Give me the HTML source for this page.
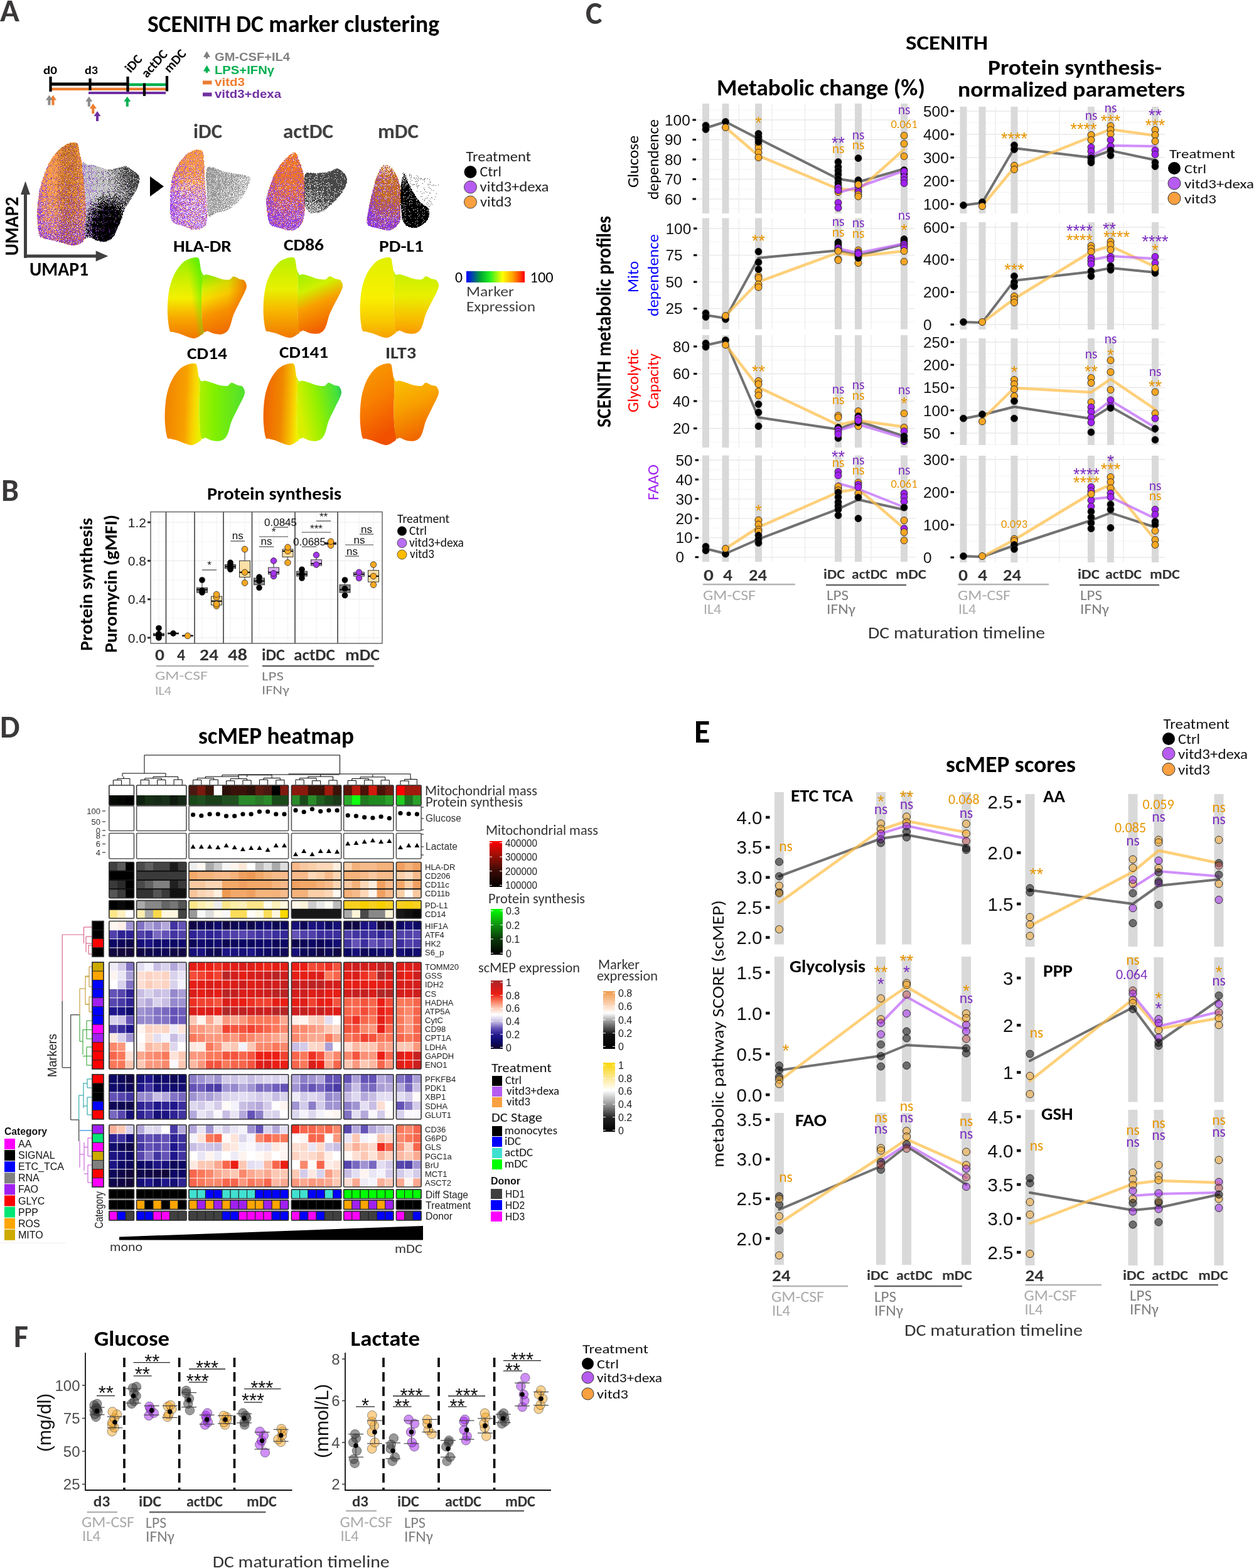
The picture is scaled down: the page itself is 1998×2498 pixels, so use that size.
<!DOCTYPE html><html><head><meta charset="utf-8"><style>html,body{margin:0;padding:0;background:#fff;}svg{display:block;}</style></head><body>
<svg width="1998" height="2498" viewBox="0 0 1998 2498">
<rect width="1998" height="2498" fill="#fff"/>
<defs>
<linearGradient id="gL" x1="0" y1="0" x2="0" y2="1"><stop offset="0" stop-color="#f8a24e"/><stop offset="0.38" stop-color="#f09a4a"/><stop offset="0.62" stop-color="#c27a44"/><stop offset="0.82" stop-color="#a868a8"/><stop offset="1" stop-color="#9a60c0"/></linearGradient>
<linearGradient id="gLh" x1="0" y1="0" x2="1" y2="0"><stop offset="0" stop-color="#a060d8" stop-opacity="0.6"/><stop offset="0.25" stop-color="#a060d8" stop-opacity="0"/><stop offset="0.55" stop-color="#9a5a30" stop-opacity="0"/><stop offset="0.8" stop-color="#9a5a30" stop-opacity="0.3"/><stop offset="1" stop-color="#9a5a30" stop-opacity="0.1"/></linearGradient>
<linearGradient id="gR" x1="0" y1="0" x2="1" y2="0.3"><stop offset="0" stop-color="#d6d6d6"/><stop offset="0.45" stop-color="#b4b4b4"/><stop offset="1" stop-color="#5e5e5e"/></linearGradient>
<radialGradient id="gRh" cx="0.42" cy="0.82" r="0.5"><stop offset="0" stop-color="#000" stop-opacity="1"/><stop offset="0.45" stop-color="#000" stop-opacity="0.9"/><stop offset="1" stop-color="#000" stop-opacity="0"/></radialGradient>
<linearGradient id="gI" x1="0" y1="0" x2="0" y2="1"><stop offset="0" stop-color="#f6a050"/><stop offset="0.4" stop-color="#e89a70"/><stop offset="0.7" stop-color="#c08ae0"/><stop offset="1" stop-color="#d8b8f0"/></linearGradient>
<linearGradient id="gIr" x1="0" y1="0" x2="1" y2="1"><stop offset="0" stop-color="#9a9a9a"/><stop offset="0.5" stop-color="#b8b8b8"/><stop offset="1" stop-color="#eeeeee"/></linearGradient>
<linearGradient id="gA" x1="0" y1="0" x2="0" y2="1"><stop offset="0" stop-color="#f59a50"/><stop offset="0.4" stop-color="#e8702a"/><stop offset="0.75" stop-color="#c060a0"/><stop offset="1" stop-color="#9a50d0"/></linearGradient>
<linearGradient id="gAr" x1="0" y1="0" x2="1" y2="1"><stop offset="0" stop-color="#606060"/><stop offset="0.5" stop-color="#3a3a3a"/><stop offset="1" stop-color="#bbbbbb"/></linearGradient>
<linearGradient id="gM" x1="0" y1="0" x2="0" y2="1"><stop offset="0" stop-color="#e8b080"/><stop offset="0.3" stop-color="#c87838"/><stop offset="0.7" stop-color="#b06a40"/><stop offset="1" stop-color="#8a48c0"/></linearGradient>
<radialGradient id="gMr" cx="0.55" cy="0.75" r="0.6"><stop offset="0" stop-color="#000"/><stop offset="0.5" stop-color="#111"/><stop offset="1" stop-color="#777"/></radialGradient>
<linearGradient id="cbar" x1="0" y1="0" x2="1" y2="0"><stop offset="0" stop-color="#0000ff"/><stop offset="0.25" stop-color="#00aa30"/><stop offset="0.4" stop-color="#22ee22"/><stop offset="0.62" stop-color="#ffff00"/><stop offset="0.8" stop-color="#ffa000"/><stop offset="1" stop-color="#ff0000"/></linearGradient>
<filter id="speck" x="0" y="0" width="1" height="1"><feTurbulence type="fractalNoise" baseFrequency="0.9" numOctaves="1" seed="3" result="n"/><feColorMatrix in="n" type="matrix" values="0 0 0 0 1  0 0 0 0 1  0 0 0 0 1  0 0 0 -2.2 1.45" result="m"/><feComposite in="SourceGraphic" in2="m" operator="in"/></filter>
</defs>
<defs><filter id="d0" color-interpolation-filters="sRGB" x="0" y="0" width="1" height="1"><feTurbulence type="fractalNoise" baseFrequency="0.9" numOctaves="1" seed="5" result="n"/><feComponentTransfer in="n" result="u"><feFuncR type="table" tableValues="0 0 0.002 0.026 0.166 0.5 0.834 0.974 0.998 1 1"/></feComponentTransfer><feColorMatrix in="u" type="matrix" values="0 0 0 0 0  0 0 0 0 0  0 0 0 0 0  1 0 0 0 0" result="ua"/><feComposite in="SourceAlpha" in2="ua" operator="arithmetic" k1="0" k2="50" k3="-50" k4="0.5" result="m"/><feColorMatrix in="SourceGraphic" type="matrix" values="1 0 0 0 0  0 1 0 0 0  0 0 1 0 0  0 0 0 100 0" result="op"/><feComposite in="op" in2="m" operator="in"/></filter><filter id="d1" color-interpolation-filters="sRGB" x="0" y="0" width="1" height="1"><feTurbulence type="fractalNoise" baseFrequency="0.9" numOctaves="1" seed="9" result="n"/><feComponentTransfer in="n" result="u"><feFuncR type="table" tableValues="0 0 0.002 0.026 0.166 0.5 0.834 0.974 0.998 1 1"/></feComponentTransfer><feColorMatrix in="u" type="matrix" values="0 0 0 0 0  0 0 0 0 0  0 0 0 0 0  1 0 0 0 0" result="ua"/><feComposite in="SourceAlpha" in2="ua" operator="arithmetic" k1="0" k2="50" k3="-50" k4="0.5" result="m"/><feColorMatrix in="SourceGraphic" type="matrix" values="1 0 0 0 0  0 1 0 0 0  0 0 1 0 0  0 0 0 100 0" result="op"/><feComposite in="op" in2="m" operator="in"/></filter><filter id="d2" color-interpolation-filters="sRGB" x="0" y="0" width="1" height="1"><feTurbulence type="fractalNoise" baseFrequency="0.9" numOctaves="1" seed="13" result="n"/><feComponentTransfer in="n" result="u"><feFuncR type="table" tableValues="0 0 0.002 0.026 0.166 0.5 0.834 0.974 0.998 1 1"/></feComponentTransfer><feColorMatrix in="u" type="matrix" values="0 0 0 0 0  0 0 0 0 0  0 0 0 0 0  1 0 0 0 0" result="ua"/><feComposite in="SourceAlpha" in2="ua" operator="arithmetic" k1="0" k2="50" k3="-50" k4="0.5" result="m"/><feColorMatrix in="SourceGraphic" type="matrix" values="1 0 0 0 0  0 1 0 0 0  0 0 1 0 0  0 0 0 100 0" result="op"/><feComposite in="op" in2="m" operator="in"/></filter><filter id="d3" color-interpolation-filters="sRGB" x="0" y="0" width="1" height="1"><feTurbulence type="fractalNoise" baseFrequency="0.9" numOctaves="1" seed="17" result="n"/><feComponentTransfer in="n" result="u"><feFuncR type="table" tableValues="0 0 0.002 0.026 0.166 0.5 0.834 0.974 0.998 1 1"/></feComponentTransfer><feColorMatrix in="u" type="matrix" values="0 0 0 0 0  0 0 0 0 0  0 0 0 0 0  1 0 0 0 0" result="ua"/><feComposite in="SourceAlpha" in2="ua" operator="arithmetic" k1="0" k2="50" k3="-50" k4="0.5" result="m"/><feColorMatrix in="SourceGraphic" type="matrix" values="1 0 0 0 0  0 1 0 0 0  0 0 1 0 0  0 0 0 100 0" result="op"/><feComposite in="op" in2="m" operator="in"/></filter><filter id="d4" color-interpolation-filters="sRGB" x="0" y="0" width="1" height="1"><feTurbulence type="fractalNoise" baseFrequency="0.9" numOctaves="1" seed="21" result="n"/><feComponentTransfer in="n" result="u"><feFuncR type="table" tableValues="0 0 0.002 0.026 0.166 0.5 0.834 0.974 0.998 1 1"/></feComponentTransfer><feColorMatrix in="u" type="matrix" values="0 0 0 0 0  0 0 0 0 0  0 0 0 0 0  1 0 0 0 0" result="ua"/><feComposite in="SourceAlpha" in2="ua" operator="arithmetic" k1="0" k2="50" k3="-50" k4="0.5" result="m"/><feColorMatrix in="SourceGraphic" type="matrix" values="1 0 0 0 0  0 1 0 0 0  0 0 1 0 0  0 0 0 100 0" result="op"/><feComposite in="op" in2="m" operator="in"/></filter><filter id="d5" color-interpolation-filters="sRGB" x="0" y="0" width="1" height="1"><feTurbulence type="fractalNoise" baseFrequency="0.9" numOctaves="1" seed="25" result="n"/><feComponentTransfer in="n" result="u"><feFuncR type="table" tableValues="0 0 0.002 0.026 0.166 0.5 0.834 0.974 0.998 1 1"/></feComponentTransfer><feColorMatrix in="u" type="matrix" values="0 0 0 0 0  0 0 0 0 0  0 0 0 0 0  1 0 0 0 0" result="ua"/><feComposite in="SourceAlpha" in2="ua" operator="arithmetic" k1="0" k2="50" k3="-50" k4="0.5" result="m"/><feColorMatrix in="SourceGraphic" type="matrix" values="1 0 0 0 0  0 1 0 0 0  0 0 1 0 0  0 0 0 100 0" result="op"/><feComposite in="op" in2="m" operator="in"/></filter><filter id="grain" color-interpolation-filters="sRGB" x="0" y="0" width="1" height="1"><feTurbulence type="fractalNoise" baseFrequency="0.9" numOctaves="1" seed="3" result="n"/><feColorMatrix in="n" type="matrix" values="0 0 0 0 0  0 0 0 0 0  0 0 0 0 0  -30 0 0 0 20.4" result="m"/><feComposite in="SourceGraphic" in2="m" operator="in"/></filter></defs>
<text x="0.0" y="34.0" font-family="Carlito, 'Liberation Sans', sans-serif" font-size="51.00" fill="#3a3838" font-weight="bold" >A</text>
<text x="235.0" y="50.5" font-family="Carlito, 'Liberation Sans', sans-serif" font-size="37.50" fill="#000" font-weight="bold" textLength="465.0" lengthAdjust="spacingAndGlyphs" >SCENITH DC marker clustering</text>
<text x="69.0" y="118.0" font-family="Carlito, 'Liberation Sans', sans-serif" font-size="19.00" fill="#000" font-weight="bold" textLength="22.0" lengthAdjust="spacingAndGlyphs" >d0</text>
<text x="135.0" y="118.0" font-family="Carlito, 'Liberation Sans', sans-serif" font-size="19.00" fill="#000" font-weight="bold" textLength="21.0" lengthAdjust="spacingAndGlyphs" >d3</text>
<text transform="translate(208.0,117.0) rotate(-48)" font-family="Carlito, 'Liberation Sans', sans-serif" font-size="21.00" fill="#000" font-weight="bold" >iDC</text>
<text transform="translate(234.0,125.0) rotate(-48)" font-family="Carlito, 'Liberation Sans', sans-serif" font-size="21.00" fill="#000" font-weight="bold" >actDC</text>
<text transform="translate(270.0,117.0) rotate(-48)" font-family="Carlito, 'Liberation Sans', sans-serif" font-size="21.00" fill="#000" font-weight="bold" >mDC</text>
<rect x="80.0" y="131.5" width="124.0" height="5.0" fill="#000" />
<rect x="204.0" y="132.6" width="60.0" height="4.5" fill="#00b050" />
<rect x="80.0" y="139.7" width="184.0" height="4.3" fill="#ed7d31" />
<rect x="141.0" y="146.0" width="123.0" height="4.0" fill="#7030a0" />
<rect x="78.4" y="122.0" width="4.2" height="24.0" fill="#000" />
<rect x="141.4" y="125.0" width="4.2" height="19.0" fill="#000" />
<rect x="201.4" y="122.0" width="4.2" height="24.0" fill="#000" />
<rect x="227.9" y="132.6" width="4.2" height="20.4" fill="#000" />
<rect x="263.9" y="121.0" width="4.2" height="24.4" fill="#000" />
<path d="M84.5,151.4 L90.0,159.4 L86.5,159.4 L86.5,167.4 L82.5,167.4 L82.5,159.4 L79.0,159.4 Z" fill="#ed7d31"/>
<path d="M78.4,151.4 L83.9,159.4 L80.4,159.4 L80.4,167.4 L76.4,167.4 L76.4,159.4 L72.9,159.4 Z" fill="#8c8c8c"/>
<path d="M141.8,153.7 L147.3,161.7 L143.8,161.7 L143.8,169.7 L139.8,169.7 L139.8,161.7 L136.3,161.7 Z" fill="#8c8c8c"/>
<path d="M148.3,165.0 L153.8,173.0 L150.3,173.0 L150.3,181.0 L146.3,181.0 L146.3,173.0 L142.8,173.0 Z" fill="#ed7d31"/>
<path d="M155.0,177.0 L160.5,185.0 L157.0,185.0 L157.0,193.0 L153.0,193.0 L153.0,185.0 L149.5,185.0 Z" fill="#7030a0"/>
<path d="M202.8,153.7 L208.3,161.7 L204.8,161.7 L204.8,169.7 L200.8,169.7 L200.8,161.7 L197.3,161.7 Z" fill="#00b050"/>
<path d="M329.5,81.5 L335.0,91.0 L331.2,91.0 L331.2,93.5 L327.8,93.5 L327.8,91.0 L324.0,91.0 Z" fill="#808080"/>
<path d="M329.5,104.0 L335.0,113.5 L331.2,113.5 L331.2,116.0 L327.8,116.0 L327.8,113.5 L324.0,113.5 Z" fill="#00b050"/>
<rect x="323.0" y="128.5" width="14.5" height="6.0" fill="#ed7d31" />
<rect x="323.0" y="147.5" width="14.5" height="6.0" fill="#7030a0" />
<text x="342.0" y="96.5" font-family="'Liberation Sans', Arial, sans-serif" font-size="19.00" fill="#808080" font-weight="bold" textLength="120.0" lengthAdjust="spacingAndGlyphs" >GM-CSF+IL4</text>
<text x="342.0" y="117.5" font-family="'Liberation Sans', Arial, sans-serif" font-size="19.00" fill="#00b050" font-weight="bold" textLength="95.0" lengthAdjust="spacingAndGlyphs" >LPS+IFNγ</text>
<text x="342.0" y="137.0" font-family="'Liberation Sans', Arial, sans-serif" font-size="19.00" fill="#ed7d31" font-weight="bold" textLength="48.0" lengthAdjust="spacingAndGlyphs" >vitd3</text>
<text x="342.0" y="155.5" font-family="'Liberation Sans', Arial, sans-serif" font-size="19.00" fill="#7030a0" font-weight="bold" textLength="106.0" lengthAdjust="spacingAndGlyphs" >vitd3+dexa</text>
<defs><linearGradient id="bO" x1="0" y1="0" x2="0" y2="1"><stop offset="0" stop-color="#f89c4a" stop-opacity="1"/><stop offset="0.4" stop-color="#f89c4a" stop-opacity="0.97"/><stop offset="0.7" stop-color="#f89c4a" stop-opacity="0.85"/><stop offset="1" stop-color="#f89c4a" stop-opacity="0.7"/></linearGradient></defs>
<defs><linearGradient id="bB" x1="0" y1="0" x2="1" y2="0"><stop offset="0" stop-color="#b0621e" stop-opacity="0"/><stop offset="0.35" stop-color="#b0621e" stop-opacity="0.05"/><stop offset="0.55" stop-color="#b0621e" stop-opacity="0.6"/><stop offset="0.75" stop-color="#b0621e" stop-opacity="0.55"/><stop offset="1" stop-color="#b0621e" stop-opacity="0.2"/></linearGradient></defs>
<defs><linearGradient id="bP" x1="0" y1="0" x2="0" y2="1"><stop offset="0" stop-color="#8a3ae0" stop-opacity="0.04"/><stop offset="0.45" stop-color="#8a3ae0" stop-opacity="0.12"/><stop offset="0.75" stop-color="#8a3ae0" stop-opacity="0.35"/><stop offset="1" stop-color="#8a3ae0" stop-opacity="0.6"/></linearGradient></defs>
<defs><linearGradient id="bPh" x1="0" y1="0" x2="1" y2="0"><stop offset="0" stop-color="#8a3ae0" stop-opacity="0.45"/><stop offset="0.15" stop-color="#8a3ae0" stop-opacity="0.12"/><stop offset="0.3" stop-color="#8a3ae0" stop-opacity="0"/></linearGradient></defs>
<path d="M116.60,227.00 C119.93,226.83 122.27,227.00 124.00,230.00 C125.73,233.00 125.83,239.83 127.00,245.00 C128.17,250.17 129.67,251.83 131.00,261.00 C132.33,270.17 134.00,286.83 135.00,300.00 C136.00,313.17 137.00,327.00 137.00,340.00 C137.00,353.00 136.50,370.00 135.00,378.00 C133.50,386.00 131.33,385.83 128.00,388.00 C124.67,390.17 119.67,391.17 115.00,391.00 C110.33,390.83 105.00,388.33 100.00,387.00 C95.00,385.67 90.83,384.50 85.00,383.00 C79.17,381.50 69.00,381.00 65.00,378.00 C61.00,375.00 62.00,371.33 61.00,365.00 C60.00,358.67 58.83,349.17 59.00,340.00 C59.17,330.83 60.50,319.17 62.00,310.00 C63.50,300.83 65.33,293.33 68.00,285.00 C70.67,276.67 74.33,267.00 78.00,260.00 C81.67,253.00 85.67,247.83 90.00,243.00 C94.33,238.17 99.57,233.67 104.00,231.00 C108.43,228.33 113.27,227.17 116.60,227.00 Z" fill="url(#bO)" filter="url(#d0)"/>
<path d="M116.60,227.00 C119.93,226.83 122.27,227.00 124.00,230.00 C125.73,233.00 125.83,239.83 127.00,245.00 C128.17,250.17 129.67,251.83 131.00,261.00 C132.33,270.17 134.00,286.83 135.00,300.00 C136.00,313.17 137.00,327.00 137.00,340.00 C137.00,353.00 136.50,370.00 135.00,378.00 C133.50,386.00 131.33,385.83 128.00,388.00 C124.67,390.17 119.67,391.17 115.00,391.00 C110.33,390.83 105.00,388.33 100.00,387.00 C95.00,385.67 90.83,384.50 85.00,383.00 C79.17,381.50 69.00,381.00 65.00,378.00 C61.00,375.00 62.00,371.33 61.00,365.00 C60.00,358.67 58.83,349.17 59.00,340.00 C59.17,330.83 60.50,319.17 62.00,310.00 C63.50,300.83 65.33,293.33 68.00,285.00 C70.67,276.67 74.33,267.00 78.00,260.00 C81.67,253.00 85.67,247.83 90.00,243.00 C94.33,238.17 99.57,233.67 104.00,231.00 C108.43,228.33 113.27,227.17 116.60,227.00 Z" fill="url(#bB)" filter="url(#d3)"/>
<path d="M116.60,227.00 C119.93,226.83 122.27,227.00 124.00,230.00 C125.73,233.00 125.83,239.83 127.00,245.00 C128.17,250.17 129.67,251.83 131.00,261.00 C132.33,270.17 134.00,286.83 135.00,300.00 C136.00,313.17 137.00,327.00 137.00,340.00 C137.00,353.00 136.50,370.00 135.00,378.00 C133.50,386.00 131.33,385.83 128.00,388.00 C124.67,390.17 119.67,391.17 115.00,391.00 C110.33,390.83 105.00,388.33 100.00,387.00 C95.00,385.67 90.83,384.50 85.00,383.00 C79.17,381.50 69.00,381.00 65.00,378.00 C61.00,375.00 62.00,371.33 61.00,365.00 C60.00,358.67 58.83,349.17 59.00,340.00 C59.17,330.83 60.50,319.17 62.00,310.00 C63.50,300.83 65.33,293.33 68.00,285.00 C70.67,276.67 74.33,267.00 78.00,260.00 C81.67,253.00 85.67,247.83 90.00,243.00 C94.33,238.17 99.57,233.67 104.00,231.00 C108.43,228.33 113.27,227.17 116.60,227.00 Z" fill="url(#bP)" filter="url(#d1)"/>
<path d="M116.60,227.00 C119.93,226.83 122.27,227.00 124.00,230.00 C125.73,233.00 125.83,239.83 127.00,245.00 C128.17,250.17 129.67,251.83 131.00,261.00 C132.33,270.17 134.00,286.83 135.00,300.00 C136.00,313.17 137.00,327.00 137.00,340.00 C137.00,353.00 136.50,370.00 135.00,378.00 C133.50,386.00 131.33,385.83 128.00,388.00 C124.67,390.17 119.67,391.17 115.00,391.00 C110.33,390.83 105.00,388.33 100.00,387.00 C95.00,385.67 90.83,384.50 85.00,383.00 C79.17,381.50 69.00,381.00 65.00,378.00 C61.00,375.00 62.00,371.33 61.00,365.00 C60.00,358.67 58.83,349.17 59.00,340.00 C59.17,330.83 60.50,319.17 62.00,310.00 C63.50,300.83 65.33,293.33 68.00,285.00 C70.67,276.67 74.33,267.00 78.00,260.00 C81.67,253.00 85.67,247.83 90.00,243.00 C94.33,238.17 99.57,233.67 104.00,231.00 C108.43,228.33 113.27,227.17 116.60,227.00 Z" fill="url(#bPh)" filter="url(#d2)"/>
<defs><linearGradient id="bG" x1="0" y1="0" x2="1" y2="0"><stop offset="0" stop-color="#c4c4c4" stop-opacity="0.95"/><stop offset="0.6" stop-color="#c4c4c4" stop-opacity="0.9"/><stop offset="1" stop-color="#c4c4c4" stop-opacity="0.7"/></linearGradient></defs>
<defs><linearGradient id="bD" x1="0" y1="0.3" x2="1" y2="0"><stop offset="0" stop-color="#3a3a3a" stop-opacity="0"/><stop offset="0.4" stop-color="#3a3a3a" stop-opacity="0.1"/><stop offset="0.75" stop-color="#3a3a3a" stop-opacity="0.7"/><stop offset="1" stop-color="#3a3a3a" stop-opacity="0.85"/></linearGradient></defs>
<defs><radialGradient id="bK" cx="0.45" cy="0.84" r="0.48"><stop offset="0" stop-color="#000" stop-opacity="1"/><stop offset="0.55" stop-color="#000" stop-opacity="0.95"/><stop offset="1" stop-color="#000" stop-opacity="0"/></radialGradient></defs>
<path d="M131.00,261.00 C131.83,254.67 136.00,261.33 140.00,262.00 C144.00,262.67 149.67,263.67 155.00,265.00 C160.33,266.33 166.17,269.67 172.00,270.00 C177.83,270.33 185.33,267.83 190.00,267.00 C194.67,266.17 196.33,264.17 200.00,265.00 C203.67,265.83 208.50,269.50 212.00,272.00 C215.50,274.50 219.33,277.00 221.00,280.00 C222.67,283.00 222.83,285.83 222.00,290.00 C221.17,294.17 218.50,300.00 216.00,305.00 C213.50,310.00 210.00,315.00 207.00,320.00 C204.00,325.00 200.33,330.00 198.00,335.00 C195.67,340.00 194.67,345.50 193.00,350.00 C191.33,354.50 190.17,357.33 188.00,362.00 C185.83,366.67 183.33,374.17 180.00,378.00 C176.67,381.83 172.17,384.17 168.00,385.00 C163.83,385.83 159.33,384.17 155.00,383.00 C150.67,381.83 145.33,378.83 142.00,378.00 C138.67,377.17 135.83,384.33 135.00,378.00 C134.17,371.67 137.00,353.00 137.00,340.00 C137.00,327.00 136.00,313.17 135.00,300.00 C134.00,286.83 130.17,267.33 131.00,261.00 Z" fill="url(#bG)" filter="url(#d0)"/>
<path d="M131.00,261.00 C131.83,254.67 136.00,261.33 140.00,262.00 C144.00,262.67 149.67,263.67 155.00,265.00 C160.33,266.33 166.17,269.67 172.00,270.00 C177.83,270.33 185.33,267.83 190.00,267.00 C194.67,266.17 196.33,264.17 200.00,265.00 C203.67,265.83 208.50,269.50 212.00,272.00 C215.50,274.50 219.33,277.00 221.00,280.00 C222.67,283.00 222.83,285.83 222.00,290.00 C221.17,294.17 218.50,300.00 216.00,305.00 C213.50,310.00 210.00,315.00 207.00,320.00 C204.00,325.00 200.33,330.00 198.00,335.00 C195.67,340.00 194.67,345.50 193.00,350.00 C191.33,354.50 190.17,357.33 188.00,362.00 C185.83,366.67 183.33,374.17 180.00,378.00 C176.67,381.83 172.17,384.17 168.00,385.00 C163.83,385.83 159.33,384.17 155.00,383.00 C150.67,381.83 145.33,378.83 142.00,378.00 C138.67,377.17 135.83,384.33 135.00,378.00 C134.17,371.67 137.00,353.00 137.00,340.00 C137.00,327.00 136.00,313.17 135.00,300.00 C134.00,286.83 130.17,267.33 131.00,261.00 Z" fill="url(#bD)" filter="url(#d4)"/>
<path d="M131.00,261.00 C131.83,254.67 136.00,261.33 140.00,262.00 C144.00,262.67 149.67,263.67 155.00,265.00 C160.33,266.33 166.17,269.67 172.00,270.00 C177.83,270.33 185.33,267.83 190.00,267.00 C194.67,266.17 196.33,264.17 200.00,265.00 C203.67,265.83 208.50,269.50 212.00,272.00 C215.50,274.50 219.33,277.00 221.00,280.00 C222.67,283.00 222.83,285.83 222.00,290.00 C221.17,294.17 218.50,300.00 216.00,305.00 C213.50,310.00 210.00,315.00 207.00,320.00 C204.00,325.00 200.33,330.00 198.00,335.00 C195.67,340.00 194.67,345.50 193.00,350.00 C191.33,354.50 190.17,357.33 188.00,362.00 C185.83,366.67 183.33,374.17 180.00,378.00 C176.67,381.83 172.17,384.17 168.00,385.00 C163.83,385.83 159.33,384.17 155.00,383.00 C150.67,381.83 145.33,378.83 142.00,378.00 C138.67,377.17 135.83,384.33 135.00,378.00 C134.17,371.67 137.00,353.00 137.00,340.00 C137.00,327.00 136.00,313.17 135.00,300.00 C134.00,286.83 130.17,267.33 131.00,261.00 Z" fill="url(#bK)" filter="url(#d5)"/>
<defs><linearGradient id="bPr" x1="0" y1="0" x2="1" y2="0"><stop offset="0" stop-color="#8a3ae0" stop-opacity="0.25"/><stop offset="0.3" stop-color="#8a3ae0" stop-opacity="0.05"/><stop offset="1" stop-color="#8a3ae0" stop-opacity="0"/></linearGradient></defs>
<path d="M131.00,261.00 C131.83,254.67 136.00,261.33 140.00,262.00 C144.00,262.67 149.67,263.67 155.00,265.00 C160.33,266.33 166.17,269.67 172.00,270.00 C177.83,270.33 185.33,267.83 190.00,267.00 C194.67,266.17 196.33,264.17 200.00,265.00 C203.67,265.83 208.50,269.50 212.00,272.00 C215.50,274.50 219.33,277.00 221.00,280.00 C222.67,283.00 222.83,285.83 222.00,290.00 C221.17,294.17 218.50,300.00 216.00,305.00 C213.50,310.00 210.00,315.00 207.00,320.00 C204.00,325.00 200.33,330.00 198.00,335.00 C195.67,340.00 194.67,345.50 193.00,350.00 C191.33,354.50 190.17,357.33 188.00,362.00 C185.83,366.67 183.33,374.17 180.00,378.00 C176.67,381.83 172.17,384.17 168.00,385.00 C163.83,385.83 159.33,384.17 155.00,383.00 C150.67,381.83 145.33,378.83 142.00,378.00 C138.67,377.17 135.83,384.33 135.00,378.00 C134.17,371.67 137.00,353.00 137.00,340.00 C137.00,327.00 136.00,313.17 135.00,300.00 C134.00,286.83 130.17,267.33 131.00,261.00 Z" fill="url(#bPr)" filter="url(#d1)"/>
<rect x="38.0" y="305.0" width="5.0" height="106.0" fill="#404040" />
<rect x="38.0" y="405.5" width="116.0" height="5.0" fill="#404040" />
<path d="M40.5,288.5 L48,310 L33,310 Z" fill="#404040" />
<path d="M172.3,408 L152.7,399.5 L152.7,416.5 Z" fill="#404040" />
<text transform="translate(28.5,407.5) rotate(-90)" font-family="Carlito, 'Liberation Sans', sans-serif" font-size="31.00" fill="#000" font-weight="bold" textLength="94.0" lengthAdjust="spacingAndGlyphs" >UMAP2</text>
<text x="47.0" y="438.5" font-family="Carlito, 'Liberation Sans', sans-serif" font-size="31.00" fill="#000" font-weight="bold" textLength="94.0" lengthAdjust="spacingAndGlyphs" >UMAP1</text>
<path d="M239,281 L261,297 L239,313 Z" fill="#000" />
<text x="308.0" y="219.5" font-family="Carlito, 'Liberation Sans', sans-serif" font-size="32.00" fill="#404040" font-weight="bold" textLength="46.0" lengthAdjust="spacingAndGlyphs" >iDC</text>
<text x="451.0" y="219.5" font-family="Carlito, 'Liberation Sans', sans-serif" font-size="32.00" fill="#404040" font-weight="bold" textLength="80.0" lengthAdjust="spacingAndGlyphs" >actDC</text>
<text x="602.0" y="219.5" font-family="Carlito, 'Liberation Sans', sans-serif" font-size="32.00" fill="#404040" font-weight="bold" textLength="65.0" lengthAdjust="spacingAndGlyphs" >mDC</text>
<defs><linearGradient id="iO" x1="0" y1="0" x2="0" y2="1"><stop offset="0" stop-color="#f89a42" stop-opacity="1"/><stop offset="0.3" stop-color="#f89a42" stop-opacity="0.9"/><stop offset="0.55" stop-color="#f89a42" stop-opacity="0.45"/><stop offset="1" stop-color="#f89a42" stop-opacity="0.3"/></linearGradient></defs>
<defs><linearGradient id="iP" x1="0" y1="0" x2="0" y2="1"><stop offset="0" stop-color="#9a48ee" stop-opacity="0.1"/><stop offset="0.4" stop-color="#9a48ee" stop-opacity="0.2"/><stop offset="0.6" stop-color="#9a48ee" stop-opacity="0.45"/><stop offset="1" stop-color="#9a48ee" stop-opacity="0.5"/></linearGradient></defs>
<defs><linearGradient id="iPh" x1="0" y1="0" x2="1" y2="0"><stop offset="0" stop-color="#9a48ee" stop-opacity="0.6"/><stop offset="0.25" stop-color="#9a48ee" stop-opacity="0.15"/><stop offset="0.5" stop-color="#9a48ee" stop-opacity="0"/></linearGradient></defs>
<path d="M315.50,238.40 C318.43,238.67 321.32,238.40 323.00,242.60 C324.68,246.80 325.03,255.88 325.60,263.60 C326.17,271.32 325.83,280.50 326.40,288.90 C326.97,297.30 328.30,305.60 329.00,314.00 C329.70,322.40 330.90,331.85 330.60,339.30 C330.30,346.75 330.42,354.22 327.20,358.70 C323.98,363.18 317.47,366.07 311.30,366.20 C305.13,366.33 296.37,361.87 290.20,359.50 C284.03,357.13 277.52,358.17 274.30,352.00 C271.08,345.83 271.05,333.02 270.90,322.50 C270.75,311.98 271.58,298.43 273.40,288.90 C275.22,279.37 278.30,272.03 281.80,265.30 C285.30,258.57 290.47,252.55 294.40,248.50 C298.33,244.45 301.88,242.68 305.40,241.00 C308.92,239.32 312.57,238.13 315.50,238.40 Z" fill="url(#iO)" filter="url(#d0)"/>
<path d="M315.50,238.40 C318.43,238.67 321.32,238.40 323.00,242.60 C324.68,246.80 325.03,255.88 325.60,263.60 C326.17,271.32 325.83,280.50 326.40,288.90 C326.97,297.30 328.30,305.60 329.00,314.00 C329.70,322.40 330.90,331.85 330.60,339.30 C330.30,346.75 330.42,354.22 327.20,358.70 C323.98,363.18 317.47,366.07 311.30,366.20 C305.13,366.33 296.37,361.87 290.20,359.50 C284.03,357.13 277.52,358.17 274.30,352.00 C271.08,345.83 271.05,333.02 270.90,322.50 C270.75,311.98 271.58,298.43 273.40,288.90 C275.22,279.37 278.30,272.03 281.80,265.30 C285.30,258.57 290.47,252.55 294.40,248.50 C298.33,244.45 301.88,242.68 305.40,241.00 C308.92,239.32 312.57,238.13 315.50,238.40 Z" fill="url(#iP)" filter="url(#d1)"/>
<path d="M315.50,238.40 C318.43,238.67 321.32,238.40 323.00,242.60 C324.68,246.80 325.03,255.88 325.60,263.60 C326.17,271.32 325.83,280.50 326.40,288.90 C326.97,297.30 328.30,305.60 329.00,314.00 C329.70,322.40 330.90,331.85 330.60,339.30 C330.30,346.75 330.42,354.22 327.20,358.70 C323.98,363.18 317.47,366.07 311.30,366.20 C305.13,366.33 296.37,361.87 290.20,359.50 C284.03,357.13 277.52,358.17 274.30,352.00 C271.08,345.83 271.05,333.02 270.90,322.50 C270.75,311.98 271.58,298.43 273.40,288.90 C275.22,279.37 278.30,272.03 281.80,265.30 C285.30,258.57 290.47,252.55 294.40,248.50 C298.33,244.45 301.88,242.68 305.40,241.00 C308.92,239.32 312.57,238.13 315.50,238.40 Z" fill="url(#iPh)" filter="url(#d2)"/>
<defs><linearGradient id="iG" x1="0" y1="0.2" x2="1" y2="0.8"><stop offset="0" stop-color="#999999" stop-opacity="0.9"/><stop offset="0.5" stop-color="#999999" stop-opacity="0.7"/><stop offset="1" stop-color="#999999" stop-opacity="0.35"/></linearGradient></defs>
<path d="M328.90,270.40 C330.68,263.23 335.93,266.45 340.70,267.00 C345.47,267.55 351.20,272.03 357.50,273.70 C363.80,275.37 372.18,275.87 378.50,277.00 C384.82,278.13 392.03,278.80 395.40,280.50 C398.77,282.20 399.40,283.00 398.70,287.20 C398.00,291.40 394.57,299.82 391.20,305.70 C387.83,311.58 383.42,317.60 378.50,322.50 C373.58,327.40 367.30,332.30 361.70,335.10 C356.10,337.90 349.80,337.90 344.90,339.30 C340.00,340.70 334.78,348.38 332.30,343.50 C329.82,338.62 330.57,322.18 330.00,310.00 C329.43,297.82 327.12,277.57 328.90,270.40 Z" fill="url(#iG)" filter="url(#d3)"/>
<defs><linearGradient id="aO" x1="0" y1="0" x2="0" y2="1"><stop offset="0" stop-color="#f07828" stop-opacity="0.85"/><stop offset="0.3" stop-color="#f07828" stop-opacity="1"/><stop offset="0.6" stop-color="#f07828" stop-opacity="0.85"/><stop offset="1" stop-color="#f07828" stop-opacity="0.5"/></linearGradient></defs>
<defs><linearGradient id="aP" x1="0" y1="0" x2="0" y2="1"><stop offset="0" stop-color="#9040e8" stop-opacity="0.05"/><stop offset="0.4" stop-color="#9040e8" stop-opacity="0.2"/><stop offset="0.7" stop-color="#9040e8" stop-opacity="0.5"/><stop offset="1" stop-color="#9040e8" stop-opacity="0.75"/></linearGradient></defs>
<defs><linearGradient id="aPh" x1="0" y1="0" x2="1" y2="0"><stop offset="0" stop-color="#9040e8" stop-opacity="0.55"/><stop offset="0.2" stop-color="#9040e8" stop-opacity="0.2"/><stop offset="0.5" stop-color="#9040e8" stop-opacity="0"/></linearGradient></defs>
<path d="M469.00,243.00 C473.12,242.97 474.13,249.37 476.70,255.80 C479.27,262.23 482.85,270.90 484.40,281.60 C485.95,292.30 486.40,307.93 486.00,320.00 C485.60,332.07 485.33,346.17 482.00,354.00 C478.67,361.83 472.17,365.50 466.00,367.00 C459.83,368.50 451.00,364.75 445.00,363.00 C439.00,361.25 433.33,362.00 430.00,356.50 C426.67,351.00 425.83,336.92 425.00,330.00 C424.17,323.08 423.17,323.33 425.00,315.00 C426.83,306.67 431.50,289.83 436.00,280.00 C440.50,270.17 446.50,262.17 452.00,256.00 C457.50,249.83 464.88,243.03 469.00,243.00 Z" fill="url(#aO)" filter="url(#d0)"/>
<path d="M469.00,243.00 C473.12,242.97 474.13,249.37 476.70,255.80 C479.27,262.23 482.85,270.90 484.40,281.60 C485.95,292.30 486.40,307.93 486.00,320.00 C485.60,332.07 485.33,346.17 482.00,354.00 C478.67,361.83 472.17,365.50 466.00,367.00 C459.83,368.50 451.00,364.75 445.00,363.00 C439.00,361.25 433.33,362.00 430.00,356.50 C426.67,351.00 425.83,336.92 425.00,330.00 C424.17,323.08 423.17,323.33 425.00,315.00 C426.83,306.67 431.50,289.83 436.00,280.00 C440.50,270.17 446.50,262.17 452.00,256.00 C457.50,249.83 464.88,243.03 469.00,243.00 Z" fill="url(#aP)" filter="url(#d1)"/>
<path d="M469.00,243.00 C473.12,242.97 474.13,249.37 476.70,255.80 C479.27,262.23 482.85,270.90 484.40,281.60 C485.95,292.30 486.40,307.93 486.00,320.00 C485.60,332.07 485.33,346.17 482.00,354.00 C478.67,361.83 472.17,365.50 466.00,367.00 C459.83,368.50 451.00,364.75 445.00,363.00 C439.00,361.25 433.33,362.00 430.00,356.50 C426.67,351.00 425.83,336.92 425.00,330.00 C424.17,323.08 423.17,323.33 425.00,315.00 C426.83,306.67 431.50,289.83 436.00,280.00 C440.50,270.17 446.50,262.17 452.00,256.00 C457.50,249.83 464.88,243.03 469.00,243.00 Z" fill="url(#aPh)" filter="url(#d2)"/>
<defs><linearGradient id="aG" x1="0" y1="1" x2="0.8" y2="0"><stop offset="0" stop-color="#484848" stop-opacity="0.35"/><stop offset="0.5" stop-color="#484848" stop-opacity="0.85"/><stop offset="1" stop-color="#484848" stop-opacity="0.95"/></linearGradient></defs>
<path d="M487.00,276.50 C490.33,273.33 499.00,276.42 505.00,276.00 C511.00,275.58 517.40,275.22 523.00,274.00 C528.60,272.78 533.63,267.03 538.60,268.70 C543.57,270.37 551.57,277.95 552.80,284.00 C554.03,290.05 550.13,298.08 546.00,305.00 C541.87,311.92 534.00,319.93 528.00,325.50 C522.00,331.07 516.00,336.25 510.00,338.40 C504.00,340.55 496.27,341.47 492.00,338.40 C487.73,335.33 485.57,327.23 484.40,320.00 C483.23,312.77 484.57,302.25 485.00,295.00 C485.43,287.75 483.67,279.67 487.00,276.50 Z" fill="url(#aG)" filter="url(#d3)"/>
<defs><linearGradient id="mO" x1="0" y1="0" x2="0" y2="1"><stop offset="0" stop-color="#c8701e" stop-opacity="0.4"/><stop offset="0.2" stop-color="#c8701e" stop-opacity="0.85"/><stop offset="0.6" stop-color="#c8701e" stop-opacity="0.95"/><stop offset="1" stop-color="#c8701e" stop-opacity="0.55"/></linearGradient></defs>
<defs><linearGradient id="mP" x1="0" y1="0" x2="0" y2="1"><stop offset="0" stop-color="#8a38e0" stop-opacity="0.1"/><stop offset="0.5" stop-color="#8a38e0" stop-opacity="0.2"/><stop offset="0.8" stop-color="#8a38e0" stop-opacity="0.6"/><stop offset="1" stop-color="#8a38e0" stop-opacity="0.8"/></linearGradient></defs>
<defs><linearGradient id="mPh" x1="0" y1="0" x2="1" y2="0"><stop offset="0" stop-color="#8a38e0" stop-opacity="0.6"/><stop offset="0.25" stop-color="#8a38e0" stop-opacity="0.25"/><stop offset="0.5" stop-color="#8a38e0" stop-opacity="0"/></linearGradient></defs>
<path d="M611.00,263.60 C615.33,261.38 621.83,264.30 626.00,268.70 C630.17,273.10 633.83,283.55 636.00,290.00 C638.17,296.45 638.67,299.90 639.00,307.40 C639.33,314.90 638.38,327.23 638.00,335.00 C637.62,342.77 639.53,348.67 636.70,354.00 C633.87,359.33 627.12,365.50 621.00,367.00 C614.88,368.50 606.00,364.75 600.00,363.00 C594.00,361.25 587.00,362.00 585.00,356.50 C583.00,351.00 586.67,338.25 588.00,330.00 C589.33,321.75 591.00,315.00 593.00,307.00 C595.00,299.00 597.00,289.23 600.00,282.00 C603.00,274.77 606.67,265.82 611.00,263.60 Z" fill="url(#mO)" filter="url(#d0)"/>
<path d="M611.00,263.60 C615.33,261.38 621.83,264.30 626.00,268.70 C630.17,273.10 633.83,283.55 636.00,290.00 C638.17,296.45 638.67,299.90 639.00,307.40 C639.33,314.90 638.38,327.23 638.00,335.00 C637.62,342.77 639.53,348.67 636.70,354.00 C633.87,359.33 627.12,365.50 621.00,367.00 C614.88,368.50 606.00,364.75 600.00,363.00 C594.00,361.25 587.00,362.00 585.00,356.50 C583.00,351.00 586.67,338.25 588.00,330.00 C589.33,321.75 591.00,315.00 593.00,307.00 C595.00,299.00 597.00,289.23 600.00,282.00 C603.00,274.77 606.67,265.82 611.00,263.60 Z" fill="url(#mP)" filter="url(#d1)"/>
<path d="M611.00,263.60 C615.33,261.38 621.83,264.30 626.00,268.70 C630.17,273.10 633.83,283.55 636.00,290.00 C638.17,296.45 638.67,299.90 639.00,307.40 C639.33,314.90 638.38,327.23 638.00,335.00 C637.62,342.77 639.53,348.67 636.70,354.00 C633.87,359.33 627.12,365.50 621.00,367.00 C614.88,368.50 606.00,364.75 600.00,363.00 C594.00,361.25 587.00,362.00 585.00,356.50 C583.00,351.00 586.67,338.25 588.00,330.00 C589.33,321.75 591.00,315.00 593.00,307.00 C595.00,299.00 597.00,289.23 600.00,282.00 C603.00,274.77 606.67,265.82 611.00,263.60 Z" fill="url(#mPh)" filter="url(#d2)"/>
<defs><linearGradient id="mS" x1="0" y1="0" x2="1" y2="0"><stop offset="0" stop-color="#444444" stop-opacity="0.12"/><stop offset="1" stop-color="#444444" stop-opacity="0.05"/></linearGradient></defs>
<path d="M640.00,275.00 C640.00,271.33 653.33,276.67 660.00,278.00 C666.67,279.33 673.33,280.00 680.00,283.00 C686.67,286.00 697.33,291.50 700.00,296.00 C702.67,300.50 698.50,304.33 696.00,310.00 C693.50,315.67 691.00,331.67 685.00,330.00 C679.00,328.33 667.50,309.17 660.00,300.00 C652.50,290.83 640.00,278.67 640.00,275.00 Z" fill="url(#mS)" filter="url(#d4)"/>
<defs><linearGradient id="mK" x1="0" y1="0" x2="0" y2="1"><stop offset="0" stop-color="#000000" stop-opacity="0.5"/><stop offset="0.25" stop-color="#000000" stop-opacity="0.9"/><stop offset="1" stop-color="#000000" stop-opacity="0.95"/></linearGradient></defs>
<path d="M644.50,276.50 C646.67,276.50 648.13,287.25 652.00,294.50 C655.87,301.75 662.53,313.58 667.70,320.00 C672.87,326.42 680.85,327.83 683.00,333.00 C685.15,338.17 684.02,346.00 680.60,351.00 C677.18,356.00 668.52,362.08 662.50,363.00 C656.48,363.92 648.42,361.50 644.50,356.50 C640.58,351.50 639.92,343.33 639.00,333.00 C638.08,322.67 638.08,303.92 639.00,294.50 C639.92,285.08 642.33,276.50 644.50,276.50 Z" fill="url(#mK)" filter="url(#d3)"/>
<text x="742.5" y="257.0" font-family="Carlito, 'Liberation Sans', sans-serif" font-size="23.00" fill="#222" textLength="103.5" lengthAdjust="spacingAndGlyphs" >Treatment</text>
<circle cx="749.5" cy="274.0" r="10.0" fill="#000" />
<circle cx="749.5" cy="298.0" r="10.0" fill="#b65cf0" stroke="#444" stroke-width="1" />
<circle cx="749.5" cy="322.0" r="10.0" fill="#f9a040" stroke="#444" stroke-width="1" />
<text x="764.5" y="280.7" font-family="Carlito, 'Liberation Sans', sans-serif" font-size="23.00" fill="#222" textLength="34.5" lengthAdjust="spacingAndGlyphs" >Ctrl</text>
<text x="764.5" y="305.0" font-family="Carlito, 'Liberation Sans', sans-serif" font-size="23.00" fill="#222" textLength="110.0" lengthAdjust="spacingAndGlyphs" >vitd3+dexa</text>
<text x="765.0" y="329.0" font-family="Carlito, 'Liberation Sans', sans-serif" font-size="23.00" fill="#222" textLength="50.0" lengthAdjust="spacingAndGlyphs" >vitd3</text>
<text x="276.0" y="401.0" font-family="Carlito, 'Liberation Sans', sans-serif" font-size="27.00" fill="#000" font-weight="bold" textLength="93.0" lengthAdjust="spacingAndGlyphs" >HLA-DR</text>
<text x="452.0" y="399.0" font-family="Carlito, 'Liberation Sans', sans-serif" font-size="27.00" fill="#000" font-weight="bold" textLength="64.0" lengthAdjust="spacingAndGlyphs" >CD86</text>
<text x="604.0" y="401.0" font-family="Carlito, 'Liberation Sans', sans-serif" font-size="27.00" fill="#000" font-weight="bold" textLength="71.0" lengthAdjust="spacingAndGlyphs" >PD-L1</text>
<text x="298.0" y="572.0" font-family="Carlito, 'Liberation Sans', sans-serif" font-size="27.00" fill="#000" font-weight="bold" textLength="64.0" lengthAdjust="spacingAndGlyphs" >CD14</text>
<text x="445.0" y="570.0" font-family="Carlito, 'Liberation Sans', sans-serif" font-size="27.00" fill="#000" font-weight="bold" textLength="78.0" lengthAdjust="spacingAndGlyphs" >CD141</text>
<text x="614.0" y="571.0" font-family="Carlito, 'Liberation Sans', sans-serif" font-size="27.00" fill="#333" font-weight="bold" textLength="49.0" lengthAdjust="spacingAndGlyphs" >ILT3</text>
<defs><linearGradient id="mhl" x1="0" y1="0" x2="0" y2="1"><stop offset="0" stop-color="#90f000"/><stop offset="0.25" stop-color="#c8f000"/><stop offset="0.5" stop-color="#f4f000"/><stop offset="0.75" stop-color="#f8a800"/><stop offset="1" stop-color="#f07800"/></linearGradient></defs>
<defs><linearGradient id="mhr" x1="0" y1="0" x2="0.2" y2="1"><stop offset="0" stop-color="#60f000"/><stop offset="0.3" stop-color="#d8f000"/><stop offset="0.45" stop-color="#f8e000"/><stop offset="0.7" stop-color="#f89800"/><stop offset="1" stop-color="#f07000"/></linearGradient></defs>
<path d="M312.00,410.20 C314.43,410.20 315.72,410.52 316.80,412.20 C317.88,413.88 317.95,417.18 318.50,420.30 C319.05,423.42 319.52,426.78 320.10,430.90 C320.68,435.02 321.85,436.82 322.00,445.00 C322.15,453.18 321.00,469.17 321.00,480.00 C321.00,490.83 321.33,501.95 322.00,510.00 C322.67,518.05 325.32,524.30 325.00,528.30 C324.68,532.30 322.55,532.23 320.10,534.00 C317.65,535.77 313.55,538.37 310.30,538.90 C307.05,539.43 304.25,538.28 300.60,537.20 C296.95,536.12 292.47,533.75 288.40,532.40 C284.33,531.05 279.17,530.05 276.20,529.10 C273.23,528.15 272.08,530.62 270.60,526.70 C269.12,522.78 267.85,513.18 267.30,505.60 C266.75,498.02 266.75,489.33 267.30,481.20 C267.85,473.07 268.70,464.52 270.60,456.80 C272.50,449.08 275.32,441.25 278.70,434.90 C282.08,428.55 286.98,422.48 290.90,418.70 C294.82,414.92 298.68,413.62 302.20,412.20 C305.72,410.78 309.57,410.20 312.00,410.20 Z" fill="url(#mhl)" />
<defs><linearGradient id="mhlo" x1="0" y1="0.3" x2="1" y2="0"><stop offset="0" stop-color="#30f000" stop-opacity="0"/><stop offset="0.55" stop-color="#30f000" stop-opacity="0"/><stop offset="1" stop-color="#30f000" stop-opacity="0.85"/></linearGradient></defs>
<path d="M312.00,410.20 C314.43,410.20 315.72,410.52 316.80,412.20 C317.88,413.88 317.95,417.18 318.50,420.30 C319.05,423.42 319.52,426.78 320.10,430.90 C320.68,435.02 321.85,436.82 322.00,445.00 C322.15,453.18 321.00,469.17 321.00,480.00 C321.00,490.83 321.33,501.95 322.00,510.00 C322.67,518.05 325.32,524.30 325.00,528.30 C324.68,532.30 322.55,532.23 320.10,534.00 C317.65,535.77 313.55,538.37 310.30,538.90 C307.05,539.43 304.25,538.28 300.60,537.20 C296.95,536.12 292.47,533.75 288.40,532.40 C284.33,531.05 279.17,530.05 276.20,529.10 C273.23,528.15 272.08,530.62 270.60,526.70 C269.12,522.78 267.85,513.18 267.30,505.60 C266.75,498.02 266.75,489.33 267.30,481.20 C267.85,473.07 268.70,464.52 270.60,456.80 C272.50,449.08 275.32,441.25 278.70,434.90 C282.08,428.55 286.98,422.48 290.90,418.70 C294.82,414.92 298.68,413.62 302.20,412.20 C305.72,410.78 309.57,410.20 312.00,410.20 Z" fill="url(#mhlo)" />
<path d="M320.10,430.90 C320.47,429.77 322.58,437.12 324.20,438.20 C325.82,439.28 326.97,437.00 329.80,437.40 C332.63,437.80 337.27,439.38 341.20,440.60 C345.13,441.82 349.33,443.88 353.40,444.70 C357.47,445.52 362.50,446.18 365.60,445.50 C368.70,444.82 369.30,440.73 372.00,440.60 C374.70,440.47 378.95,443.68 381.80,444.70 C384.65,445.72 387.27,444.95 389.10,446.70 C390.93,448.45 392.65,452.15 392.80,455.20 C392.95,458.25 391.83,460.67 390.00,465.00 C388.17,469.33 384.80,475.12 381.80,481.20 C378.80,487.28 374.43,495.40 372.00,501.50 C369.57,507.60 368.82,513.47 367.20,517.80 C365.58,522.13 364.60,525.07 362.30,527.50 C360.00,529.93 356.92,531.72 353.40,532.40 C349.88,533.08 344.98,532.42 341.20,531.60 C337.42,530.78 333.40,528.05 330.70,527.50 C328.00,526.95 326.45,531.22 325.00,528.30 C323.55,525.38 322.67,518.05 322.00,510.00 C321.33,501.95 321.00,490.83 321.00,480.00 C321.00,469.17 322.15,453.18 322.00,445.00 C321.85,436.82 319.73,432.03 320.10,430.90 Z" fill="url(#mhr)" />
<defs><linearGradient id="mhro" x1="0" y1="0" x2="1" y2="0"><stop offset="0" stop-color="#f06000" stop-opacity="0"/><stop offset="0.6" stop-color="#f07000" stop-opacity="0.2"/><stop offset="1" stop-color="#f06000" stop-opacity="0.8"/></linearGradient></defs>
<path d="M320.10,430.90 C320.47,429.77 322.58,437.12 324.20,438.20 C325.82,439.28 326.97,437.00 329.80,437.40 C332.63,437.80 337.27,439.38 341.20,440.60 C345.13,441.82 349.33,443.88 353.40,444.70 C357.47,445.52 362.50,446.18 365.60,445.50 C368.70,444.82 369.30,440.73 372.00,440.60 C374.70,440.47 378.95,443.68 381.80,444.70 C384.65,445.72 387.27,444.95 389.10,446.70 C390.93,448.45 392.65,452.15 392.80,455.20 C392.95,458.25 391.83,460.67 390.00,465.00 C388.17,469.33 384.80,475.12 381.80,481.20 C378.80,487.28 374.43,495.40 372.00,501.50 C369.57,507.60 368.82,513.47 367.20,517.80 C365.58,522.13 364.60,525.07 362.30,527.50 C360.00,529.93 356.92,531.72 353.40,532.40 C349.88,533.08 344.98,532.42 341.20,531.60 C337.42,530.78 333.40,528.05 330.70,527.50 C328.00,526.95 326.45,531.22 325.00,528.30 C323.55,525.38 322.67,518.05 322.00,510.00 C321.33,501.95 321.00,490.83 321.00,480.00 C321.00,469.17 322.15,453.18 322.00,445.00 C321.85,436.82 319.73,432.03 320.10,430.90 Z" fill="url(#mhro)" />
<defs><linearGradient id="mcl" x1="0" y1="0" x2="0" y2="1"><stop offset="0" stop-color="#b8f000"/><stop offset="0.4" stop-color="#e8f000"/><stop offset="0.65" stop-color="#f8b800"/><stop offset="1" stop-color="#f07800"/></linearGradient></defs>
<defs><linearGradient id="mcr" x1="0" y1="0" x2="0.3" y2="1"><stop offset="0" stop-color="#90f000"/><stop offset="0.35" stop-color="#d0f000"/><stop offset="0.6" stop-color="#f8a000"/><stop offset="1" stop-color="#f06000"/></linearGradient></defs>
<path d="M464.88,410.00 C467.32,410.00 468.61,410.31 469.70,411.99 C470.78,413.66 470.85,416.95 471.40,420.05 C471.96,423.14 472.42,426.49 473.01,430.59 C473.60,434.68 474.77,436.47 474.92,444.61 C475.07,452.75 473.91,468.65 473.91,479.42 C473.91,490.19 474.25,501.25 474.92,509.26 C475.59,517.26 478.25,523.48 477.93,527.46 C477.61,531.44 475.47,531.37 473.01,533.13 C470.55,534.88 466.43,537.47 463.17,538.00 C459.91,538.53 457.10,537.39 453.43,536.31 C449.77,535.23 445.27,532.88 441.18,531.54 C437.10,530.19 431.91,529.20 428.94,528.25 C425.96,527.31 424.80,529.76 423.31,525.87 C421.82,521.97 420.55,512.42 420.00,504.88 C419.45,497.34 419.45,488.70 420.00,480.61 C420.55,472.52 421.41,464.02 423.31,456.35 C425.22,448.67 428.05,440.88 431.45,434.57 C434.84,428.25 439.76,422.22 443.69,418.45 C447.63,414.69 451.51,413.40 455.04,411.99 C458.57,410.58 462.44,410.00 464.88,410.00 Z" fill="url(#mcl)" />
<path d="M473.01,430.59 C473.38,429.46 475.50,436.77 477.13,437.85 C478.75,438.93 479.90,436.65 482.75,437.05 C485.59,437.45 490.25,439.02 494.19,440.23 C498.14,441.44 502.36,443.50 506.44,444.31 C510.53,445.12 515.58,445.79 518.69,445.11 C521.80,444.43 522.41,440.37 525.12,440.23 C527.83,440.10 532.09,443.30 534.96,444.31 C537.82,445.32 540.44,444.56 542.29,446.30 C544.13,448.04 545.85,451.72 546.00,454.76 C546.15,457.79 545.03,460.19 543.19,464.50 C541.35,468.81 537.97,474.56 534.96,480.61 C531.94,486.66 527.56,494.74 525.12,500.80 C522.67,506.87 521.92,512.70 520.30,517.01 C518.67,521.32 517.69,524.24 515.38,526.66 C513.07,529.08 509.97,530.86 506.44,531.54 C502.91,532.21 497.99,531.55 494.19,530.74 C490.40,529.93 486.36,527.21 483.65,526.66 C480.94,526.11 479.39,530.36 477.93,527.46 C476.47,524.56 475.59,517.26 474.92,509.26 C474.25,501.25 473.91,490.19 473.91,479.42 C473.91,468.65 475.07,452.75 474.92,444.61 C474.77,436.47 472.64,431.71 473.01,430.59 Z" fill="url(#mcr)" />
<defs><linearGradient id="mpl" x1="0" y1="0" x2="0" y2="1"><stop offset="0" stop-color="#e0f000"/><stop offset="0.5" stop-color="#f8f000"/><stop offset="0.8" stop-color="#f8c800"/><stop offset="1" stop-color="#f8a000"/></linearGradient></defs>
<defs><linearGradient id="mpr" x1="0" y1="0" x2="0" y2="1"><stop offset="0" stop-color="#c0f000"/><stop offset="0.4" stop-color="#e8f000"/><stop offset="0.75" stop-color="#f8c000"/><stop offset="1" stop-color="#f89800"/></linearGradient></defs>
<path d="M618.52,410.00 C620.95,410.00 622.22,410.31 623.30,411.99 C624.38,413.66 624.45,416.95 625.00,420.05 C625.54,423.14 626.01,426.49 626.59,430.59 C627.17,434.68 628.33,436.47 628.48,444.61 C628.63,452.75 627.49,468.65 627.49,479.42 C627.49,490.19 627.82,501.25 628.48,509.26 C629.15,517.26 631.79,523.48 631.47,527.46 C631.15,531.44 629.03,531.37 626.59,533.13 C624.15,534.88 620.07,537.47 616.83,538.00 C613.59,538.53 610.80,537.39 607.17,536.31 C603.53,535.23 599.07,532.88 595.02,531.54 C590.97,530.19 585.82,529.20 582.86,528.25 C579.91,527.31 578.76,529.76 577.29,525.87 C575.81,521.97 574.55,512.42 574.00,504.88 C573.45,497.34 573.45,488.70 574.00,480.61 C574.55,472.52 575.39,464.02 577.29,456.35 C579.18,448.67 581.98,440.88 585.35,434.57 C588.72,428.25 593.60,422.22 597.51,418.45 C601.41,414.69 605.26,413.40 608.76,411.99 C612.26,410.58 616.10,410.00 618.52,410.00 Z" fill="url(#mpl)" />
<path d="M626.59,430.59 C626.95,429.46 629.06,436.77 630.67,437.85 C632.28,438.93 633.43,436.65 636.25,437.05 C639.07,437.45 643.69,439.02 647.61,440.23 C651.52,441.44 655.71,443.50 659.76,444.31 C663.81,445.12 668.82,445.79 671.91,445.11 C675.00,444.43 675.59,440.37 678.28,440.23 C680.97,440.10 685.21,443.30 688.04,444.31 C690.88,445.32 693.49,444.56 695.31,446.30 C697.14,448.04 698.85,451.72 699.00,454.76 C699.15,457.79 698.04,460.19 696.21,464.50 C694.39,468.81 691.03,474.56 688.04,480.61 C685.06,486.66 680.71,494.74 678.28,500.80 C675.86,506.87 675.11,512.70 673.50,517.01 C671.89,521.32 670.91,524.24 668.62,526.66 C666.33,529.08 663.26,530.86 659.76,531.54 C656.25,532.21 651.37,531.55 647.61,530.74 C643.84,529.93 639.84,527.21 637.15,526.66 C634.46,526.11 632.91,530.36 631.47,527.46 C630.03,524.56 629.15,517.26 628.48,509.26 C627.82,501.25 627.49,490.19 627.49,479.42 C627.49,468.65 628.63,452.75 628.48,444.61 C628.33,436.47 626.22,431.71 626.59,430.59 Z" fill="url(#mpr)" />
<defs><linearGradient id="m14l" x1="0" y1="0" x2="1" y2="0.1"><stop offset="0" stop-color="#f08000"/><stop offset="0.6" stop-color="#f8a000"/><stop offset="0.85" stop-color="#f8d800"/><stop offset="1" stop-color="#e8f000"/></linearGradient></defs>
<defs><linearGradient id="m14r" x1="0" y1="0" x2="1" y2="0"><stop offset="0" stop-color="#b0f000"/><stop offset="0.35" stop-color="#80f000"/><stop offset="1" stop-color="#50e030"/></linearGradient></defs>
<path d="M308.23,579.00 C310.70,579.00 312.00,579.32 313.09,581.02 C314.19,582.72 314.26,586.05 314.81,589.20 C315.37,592.35 315.84,595.75 316.43,599.91 C317.02,604.07 318.20,605.89 318.35,614.15 C318.51,622.42 317.34,638.56 317.34,649.51 C317.34,660.45 317.68,671.68 318.35,679.81 C319.03,687.94 321.71,694.25 321.39,698.29 C321.07,702.33 318.91,702.27 316.43,704.05 C313.95,705.84 309.80,708.46 306.51,709.00 C303.23,709.54 300.39,708.38 296.70,707.28 C293.00,706.19 288.47,703.80 284.35,702.43 C280.24,701.07 275.01,700.06 272.01,699.10 C269.00,698.14 267.84,700.63 266.34,696.68 C264.84,692.72 263.56,683.02 263.00,675.36 C262.44,667.70 262.44,658.93 263.00,650.72 C263.56,642.50 264.42,633.87 266.34,626.07 C268.26,618.28 271.11,610.36 274.54,603.95 C277.96,597.54 282.92,591.41 286.88,587.59 C290.85,583.76 294.76,582.45 298.32,581.02 C301.88,579.59 305.77,579.00 308.23,579.00 Z" fill="url(#m14l)" />
<path d="M316.43,599.91 C316.80,598.76 318.94,606.19 320.58,607.28 C322.22,608.38 323.38,606.07 326.25,606.47 C329.11,606.88 333.80,608.48 337.78,609.71 C341.76,610.94 346.01,613.02 350.13,613.85 C354.24,614.67 359.34,615.35 362.47,614.66 C365.61,613.97 366.22,609.84 368.95,609.71 C371.68,609.57 375.98,612.82 378.87,613.85 C381.75,614.88 384.40,614.10 386.26,615.87 C388.11,617.64 389.85,621.37 390.00,624.45 C390.15,627.54 389.02,629.98 387.17,634.35 C385.31,638.73 381.90,644.57 378.87,650.72 C375.83,656.86 371.41,665.06 368.95,671.22 C366.49,677.38 365.73,683.31 364.09,687.69 C362.46,692.06 361.46,695.03 359.14,697.48 C356.81,699.94 353.69,701.74 350.13,702.43 C346.57,703.12 341.61,702.45 337.78,701.63 C333.95,700.80 329.89,698.04 327.16,697.48 C324.43,696.93 322.86,701.24 321.39,698.29 C319.92,695.35 319.03,687.94 318.35,679.81 C317.68,671.68 317.34,660.45 317.34,649.51 C317.34,638.56 318.51,622.42 318.35,614.15 C318.20,605.89 316.06,601.05 316.43,599.91 Z" fill="url(#m14r)" />
<defs><linearGradient id="m141l" x1="0" y1="0" x2="1" y2="0.1"><stop offset="0" stop-color="#f06000"/><stop offset="0.55" stop-color="#f08800"/><stop offset="0.85" stop-color="#f8c800"/><stop offset="1" stop-color="#f0f000"/></linearGradient></defs>
<defs><linearGradient id="m141r" x1="0" y1="0.3" x2="1" y2="0"><stop offset="0" stop-color="#d8f000"/><stop offset="0.4" stop-color="#90f000"/><stop offset="0.85" stop-color="#40e040"/><stop offset="1" stop-color="#20b060"/></linearGradient></defs>
<path d="M464.17,579.00 C466.57,579.00 467.84,579.32 468.91,581.02 C469.98,582.72 470.04,586.05 470.59,589.20 C471.13,592.35 471.59,595.75 472.17,599.91 C472.75,604.07 473.90,605.89 474.05,614.15 C474.19,622.42 473.06,638.56 473.06,649.51 C473.06,660.45 473.39,671.68 474.05,679.81 C474.70,687.94 477.32,694.25 477.01,698.29 C476.70,702.33 474.59,702.27 472.17,704.05 C469.75,705.84 465.70,708.46 462.49,709.00 C459.27,709.54 456.51,708.38 452.90,707.28 C449.30,706.19 444.87,703.80 440.85,702.43 C436.83,701.07 431.72,700.06 428.79,699.10 C425.86,698.14 424.73,700.63 423.26,696.68 C421.79,692.72 420.54,683.02 420.00,675.36 C419.46,667.70 419.46,658.93 420.00,650.72 C420.54,642.50 421.38,633.87 423.26,626.07 C425.14,618.28 427.92,610.36 431.26,603.95 C434.61,597.54 439.45,591.41 443.32,587.59 C447.19,583.76 451.01,582.45 454.48,581.02 C457.96,579.59 461.76,579.00 464.17,579.00 Z" fill="url(#m141l)" />
<path d="M472.17,599.91 C472.53,598.76 474.62,606.19 476.22,607.28 C477.82,608.38 478.95,606.07 481.75,606.47 C484.55,606.88 489.13,608.48 493.02,609.71 C496.90,610.94 501.05,613.02 505.07,613.85 C509.09,614.67 514.06,615.35 517.13,614.66 C520.19,613.97 520.78,609.84 523.45,609.71 C526.12,609.57 530.32,612.82 533.13,613.85 C535.95,614.88 538.53,614.10 540.34,615.87 C542.16,617.64 543.85,621.37 544.00,624.45 C544.15,627.54 543.04,629.98 541.23,634.35 C539.42,638.73 536.10,644.57 533.13,650.72 C530.17,656.86 525.85,665.06 523.45,671.22 C521.04,677.38 520.30,683.31 518.71,687.69 C517.11,692.06 516.14,695.03 513.86,697.48 C511.59,699.94 508.55,701.74 505.07,702.43 C501.60,703.12 496.75,702.45 493.02,701.63 C489.28,700.80 485.31,698.04 482.64,697.48 C479.97,696.93 478.44,701.24 477.01,698.29 C475.58,695.35 474.70,687.94 474.05,679.81 C473.39,671.68 473.06,660.45 473.06,649.51 C473.06,638.56 474.19,622.42 474.05,614.15 C473.90,605.89 471.81,601.05 472.17,599.91 Z" fill="url(#m141r)" />
<defs><linearGradient id="mil" x1="0" y1="0" x2="0.3" y2="1"><stop offset="0" stop-color="#f8a000"/><stop offset="0.5" stop-color="#f88000"/><stop offset="1" stop-color="#f05000"/></linearGradient></defs>
<defs><linearGradient id="mir" x1="0" y1="0" x2="0.3" y2="1"><stop offset="0" stop-color="#f8c800"/><stop offset="0.5" stop-color="#f8a000"/><stop offset="1" stop-color="#f06800"/></linearGradient></defs>
<path d="M618.52,579.00 C620.95,579.00 622.22,579.32 623.30,581.02 C624.38,582.72 624.45,586.05 625.00,589.20 C625.54,592.35 626.01,595.75 626.59,599.91 C627.17,604.07 628.33,605.89 628.48,614.15 C628.63,622.42 627.49,638.56 627.49,649.51 C627.49,660.45 627.82,671.68 628.48,679.81 C629.15,687.94 631.79,694.25 631.47,698.29 C631.15,702.33 629.03,702.27 626.59,704.05 C624.15,705.84 620.07,708.46 616.83,709.00 C613.59,709.54 610.80,708.38 607.17,707.28 C603.53,706.19 599.07,703.80 595.02,702.43 C590.97,701.07 585.82,700.06 582.86,699.10 C579.91,698.14 578.76,700.63 577.29,696.68 C575.81,692.72 574.55,683.02 574.00,675.36 C573.45,667.70 573.45,658.93 574.00,650.72 C574.55,642.50 575.39,633.87 577.29,626.07 C579.18,618.28 581.98,610.36 585.35,603.95 C588.72,597.54 593.60,591.41 597.51,587.59 C601.41,583.76 605.26,582.45 608.76,581.02 C612.26,579.59 616.10,579.00 618.52,579.00 Z" fill="url(#mil)" />
<path d="M626.59,599.91 C626.95,598.76 629.06,606.19 630.67,607.28 C632.28,608.38 633.43,606.07 636.25,606.47 C639.07,606.88 643.69,608.48 647.61,609.71 C651.52,610.94 655.71,613.02 659.76,613.85 C663.81,614.67 668.82,615.35 671.91,614.66 C675.00,613.97 675.59,609.84 678.28,609.71 C680.97,609.57 685.21,612.82 688.04,613.85 C690.88,614.88 693.49,614.10 695.31,615.87 C697.14,617.64 698.85,621.37 699.00,624.45 C699.15,627.54 698.04,629.98 696.21,634.35 C694.39,638.73 691.03,644.57 688.04,650.72 C685.06,656.86 680.71,665.06 678.28,671.22 C675.86,677.38 675.11,683.31 673.50,687.69 C671.89,692.06 670.91,695.03 668.62,697.48 C666.33,699.94 663.26,701.74 659.76,702.43 C656.25,703.12 651.37,702.45 647.61,701.63 C643.84,700.80 639.84,698.04 637.15,697.48 C634.46,696.93 632.91,701.24 631.47,698.29 C630.03,695.35 629.15,687.94 628.48,679.81 C627.82,671.68 627.49,660.45 627.49,649.51 C627.49,638.56 628.63,622.42 628.48,614.15 C628.33,605.89 626.22,601.05 626.59,599.91 Z" fill="url(#mir)" />
<rect x="743.0" y="432.0" width="93.0" height="18.0" fill="url(#cbar)" />
<text x="725.0" y="449.8" font-family="Carlito, 'Liberation Sans', sans-serif" font-size="23.50" fill="#000" textLength="12.0" lengthAdjust="spacingAndGlyphs" >0</text>
<text x="844.6" y="449.8" font-family="Carlito, 'Liberation Sans', sans-serif" font-size="23.50" fill="#000" textLength="37.0" lengthAdjust="spacingAndGlyphs" >100</text>
<text x="743.0" y="472.3" font-family="Carlito, 'Liberation Sans', sans-serif" font-size="23.00" fill="#404040" textLength="76.0" lengthAdjust="spacingAndGlyphs" >Marker</text>
<text x="743.0" y="496.0" font-family="Carlito, 'Liberation Sans', sans-serif" font-size="23.00" fill="#404040" textLength="110.0" lengthAdjust="spacingAndGlyphs" >Expression</text>
<text x="2.0" y="798.0" font-family="Carlito, 'Liberation Sans', sans-serif" font-size="50.00" fill="#3a3838" font-weight="bold" >B</text>
<text x="330.0" y="796.0" font-family="Carlito, 'Liberation Sans', sans-serif" font-size="28.50" fill="#000" font-weight="bold" textLength="214.0" lengthAdjust="spacingAndGlyphs" >Protein synthesis</text>
<line x1="240.0" y1="1016.0" x2="609.0" y2="1016.0" stroke="#ebebeb" stroke-width="1.2" />
<line x1="240.0" y1="985.3" x2="609.0" y2="985.3" stroke="#f3f3f3" stroke-width="0.8" />
<line x1="240.0" y1="954.7" x2="609.0" y2="954.7" stroke="#ebebeb" stroke-width="1.2" />
<line x1="240.0" y1="924.0" x2="609.0" y2="924.0" stroke="#f3f3f3" stroke-width="0.8" />
<line x1="240.0" y1="893.4" x2="609.0" y2="893.4" stroke="#ebebeb" stroke-width="1.2" />
<line x1="240.0" y1="862.7" x2="609.0" y2="862.7" stroke="#f3f3f3" stroke-width="0.8" />
<line x1="240.0" y1="832.0" x2="609.0" y2="832.0" stroke="#ebebeb" stroke-width="1.2" />
<line x1="253.0" y1="815.5" x2="253.0" y2="1025.0" stroke="#f0f0f0" stroke-width="1" />
<line x1="276.0" y1="815.5" x2="276.0" y2="1025.0" stroke="#f0f0f0" stroke-width="1" />
<line x1="299.0" y1="815.5" x2="299.0" y2="1025.0" stroke="#f0f0f0" stroke-width="1" />
<line x1="322.0" y1="815.5" x2="322.0" y2="1025.0" stroke="#f0f0f0" stroke-width="1" />
<line x1="345.0" y1="815.5" x2="345.0" y2="1025.0" stroke="#f0f0f0" stroke-width="1" />
<line x1="367.0" y1="815.5" x2="367.0" y2="1025.0" stroke="#f0f0f0" stroke-width="1" />
<line x1="390.0" y1="815.5" x2="390.0" y2="1025.0" stroke="#f0f0f0" stroke-width="1" />
<line x1="413.0" y1="815.5" x2="413.0" y2="1025.0" stroke="#f0f0f0" stroke-width="1" />
<line x1="436.0" y1="815.5" x2="436.0" y2="1025.0" stroke="#f0f0f0" stroke-width="1" />
<line x1="458.5" y1="815.5" x2="458.5" y2="1025.0" stroke="#f0f0f0" stroke-width="1" />
<line x1="481.0" y1="815.5" x2="481.0" y2="1025.0" stroke="#f0f0f0" stroke-width="1" />
<line x1="504.0" y1="815.5" x2="504.0" y2="1025.0" stroke="#f0f0f0" stroke-width="1" />
<line x1="527.0" y1="815.5" x2="527.0" y2="1025.0" stroke="#f0f0f0" stroke-width="1" />
<line x1="549.5" y1="815.5" x2="549.5" y2="1025.0" stroke="#f0f0f0" stroke-width="1" />
<line x1="572.0" y1="815.5" x2="572.0" y2="1025.0" stroke="#f0f0f0" stroke-width="1" />
<line x1="595.0" y1="815.5" x2="595.0" y2="1025.0" stroke="#f0f0f0" stroke-width="1" />
<line x1="253.0" y1="1000.7" x2="253.0" y2="1009.1" stroke="#333" stroke-width="1" />
<line x1="253.0" y1="1016.0" x2="253.0" y2="1012.9" stroke="#333" stroke-width="1" />
<rect x="244.5" y="1009.1" width="17.0" height="3.8" fill="#8a8a8a" stroke="#333" stroke-width="1" />
<line x1="244.5" y1="1011.4" x2="261.5" y2="1011.4" stroke="#111" stroke-width="2.2" />
<circle cx="253.0" cy="1016.0" r="4.8" fill="#000" />
<circle cx="253.0" cy="1012.9" r="4.8" fill="#000" />
<circle cx="253.0" cy="1009.9" r="4.8" fill="#000" />
<circle cx="253.0" cy="1000.7" r="4.8" fill="#000" />
<line x1="276.0" y1="1009.1" x2="276.0" y2="1008.3" stroke="#333" stroke-width="1" />
<line x1="276.0" y1="1009.1" x2="276.0" y2="1009.9" stroke="#333" stroke-width="1" />
<rect x="267.5" y="1008.3" width="17.0" height="1.5" fill="#8a8a8a" stroke="#333" stroke-width="1" />
<line x1="267.5" y1="1009.1" x2="284.5" y2="1009.1" stroke="#111" stroke-width="2.2" />
<circle cx="276.0" cy="1009.1" r="4.8" fill="#000" />
<line x1="299.0" y1="1012.9" x2="299.0" y2="1012.2" stroke="#333" stroke-width="1" />
<line x1="299.0" y1="1012.9" x2="299.0" y2="1013.2" stroke="#333" stroke-width="1" />
<rect x="290.5" y="1012.2" width="17.0" height="1.1" fill="#fce0a8" stroke="#333" stroke-width="1" />
<line x1="290.5" y1="1012.9" x2="307.5" y2="1012.9" stroke="#111" stroke-width="2.2" />
<circle cx="299.0" cy="1012.9" r="4.8" fill="#f7a823" stroke="#222" stroke-width="0.8" />
<line x1="322.0" y1="924.0" x2="322.0" y2="936.3" stroke="#333" stroke-width="1" />
<line x1="322.0" y1="943.9" x2="322.0" y2="943.9" stroke="#333" stroke-width="1" />
<rect x="313.5" y="936.3" width="17.0" height="7.7" fill="#8a8a8a" stroke="#333" stroke-width="1" />
<line x1="313.5" y1="939.4" x2="330.5" y2="939.4" stroke="#111" stroke-width="2.2" />
<circle cx="322.0" cy="943.9" r="4.8" fill="#000" />
<circle cx="322.0" cy="940.9" r="4.8" fill="#000" />
<circle cx="322.0" cy="924.0" r="4.8" fill="#000" />
<line x1="345.0" y1="947.0" x2="345.0" y2="950.1" stroke="#333" stroke-width="1" />
<line x1="345.0" y1="965.4" x2="345.0" y2="963.9" stroke="#333" stroke-width="1" />
<rect x="336.5" y="950.1" width="17.0" height="13.8" fill="#fce0a8" stroke="#333" stroke-width="1" />
<line x1="336.5" y1="957.7" x2="353.5" y2="957.7" stroke="#111" stroke-width="2.2" />
<circle cx="345.0" cy="965.4" r="4.8" fill="#f7a823" stroke="#222" stroke-width="0.8" />
<circle cx="345.0" cy="962.3" r="4.8" fill="#f7a823" stroke="#222" stroke-width="0.8" />
<circle cx="345.0" cy="951.6" r="4.8" fill="#f7a823" stroke="#222" stroke-width="0.8" />
<circle cx="345.0" cy="947.0" r="4.8" fill="#f7a823" stroke="#222" stroke-width="0.8" />
<line x1="367.0" y1="896.4" x2="367.0" y2="899.5" stroke="#333" stroke-width="1" />
<line x1="367.0" y1="907.2" x2="367.0" y2="905.6" stroke="#333" stroke-width="1" />
<rect x="358.5" y="899.5" width="17.0" height="6.1" fill="#8a8a8a" stroke="#333" stroke-width="1" />
<line x1="358.5" y1="902.6" x2="375.5" y2="902.6" stroke="#111" stroke-width="2.2" />
<circle cx="367.0" cy="907.2" r="4.8" fill="#000" />
<circle cx="367.0" cy="904.1" r="4.8" fill="#000" />
<circle cx="367.0" cy="899.5" r="4.8" fill="#000" />
<circle cx="367.0" cy="896.4" r="4.8" fill="#000" />
<line x1="390.0" y1="875.0" x2="390.0" y2="893.4" stroke="#333" stroke-width="1" />
<line x1="390.0" y1="928.6" x2="390.0" y2="919.4" stroke="#333" stroke-width="1" />
<rect x="381.5" y="893.4" width="17.0" height="26.1" fill="#fce0a8" stroke="#333" stroke-width="1" />
<line x1="381.5" y1="911.8" x2="398.5" y2="911.8" stroke="#111" stroke-width="2.2" />
<circle cx="390.0" cy="928.6" r="4.8" fill="#f7a823" stroke="#222" stroke-width="0.8" />
<circle cx="390.0" cy="911.8" r="4.8" fill="#f7a823" stroke="#222" stroke-width="0.8" />
<circle cx="390.0" cy="875.0" r="4.8" fill="#f7a823" stroke="#222" stroke-width="0.8" />
<line x1="413.0" y1="919.4" x2="413.0" y2="921.0" stroke="#333" stroke-width="1" />
<line x1="413.0" y1="936.3" x2="413.0" y2="931.7" stroke="#333" stroke-width="1" />
<rect x="404.5" y="921.0" width="17.0" height="10.7" fill="#8a8a8a" stroke="#333" stroke-width="1" />
<line x1="404.5" y1="925.6" x2="421.5" y2="925.6" stroke="#111" stroke-width="2.2" />
<circle cx="413.0" cy="936.3" r="4.8" fill="#000" />
<circle cx="413.0" cy="925.6" r="4.8" fill="#000" />
<circle cx="413.0" cy="919.4" r="4.8" fill="#000" />
<line x1="436.0" y1="893.4" x2="436.0" y2="904.1" stroke="#333" stroke-width="1" />
<line x1="436.0" y1="917.9" x2="436.0" y2="914.8" stroke="#333" stroke-width="1" />
<rect x="427.5" y="904.1" width="17.0" height="10.7" fill="#deb3f5" stroke="#333" stroke-width="1" />
<line x1="427.5" y1="911.8" x2="444.5" y2="911.8" stroke="#111" stroke-width="2.2" />
<circle cx="436.0" cy="917.9" r="4.8" fill="#a334ea" stroke="#222" stroke-width="0.8" />
<circle cx="436.0" cy="913.3" r="4.8" fill="#a334ea" stroke="#222" stroke-width="0.8" />
<circle cx="436.0" cy="893.4" r="4.8" fill="#a334ea" stroke="#222" stroke-width="0.8" />
<line x1="458.5" y1="871.9" x2="458.5" y2="875.0" stroke="#333" stroke-width="1" />
<line x1="458.5" y1="896.4" x2="458.5" y2="887.2" stroke="#333" stroke-width="1" />
<rect x="450.0" y="875.0" width="17.0" height="12.3" fill="#fce0a8" stroke="#333" stroke-width="1" />
<line x1="450.0" y1="878.0" x2="467.0" y2="878.0" stroke="#111" stroke-width="2.2" />
<circle cx="458.5" cy="896.4" r="4.8" fill="#f7a823" stroke="#222" stroke-width="0.8" />
<circle cx="458.5" cy="878.0" r="4.8" fill="#f7a823" stroke="#222" stroke-width="0.8" />
<circle cx="458.5" cy="871.9" r="4.8" fill="#f7a823" stroke="#222" stroke-width="0.8" />
<line x1="481.0" y1="907.2" x2="481.0" y2="910.2" stroke="#333" stroke-width="1" />
<line x1="481.0" y1="921.0" x2="481.0" y2="917.9" stroke="#333" stroke-width="1" />
<rect x="472.5" y="910.2" width="17.0" height="7.7" fill="#8a8a8a" stroke="#333" stroke-width="1" />
<line x1="472.5" y1="914.8" x2="489.5" y2="914.8" stroke="#111" stroke-width="2.2" />
<circle cx="481.0" cy="921.0" r="4.8" fill="#000" />
<circle cx="481.0" cy="914.8" r="4.8" fill="#000" />
<circle cx="481.0" cy="907.2" r="4.8" fill="#000" />
<line x1="504.0" y1="884.2" x2="504.0" y2="891.8" stroke="#333" stroke-width="1" />
<line x1="504.0" y1="899.5" x2="504.0" y2="901.0" stroke="#333" stroke-width="1" />
<rect x="495.5" y="891.8" width="17.0" height="9.2" fill="#deb3f5" stroke="#333" stroke-width="1" />
<line x1="495.5" y1="898.0" x2="512.5" y2="898.0" stroke="#111" stroke-width="2.2" />
<circle cx="504.0" cy="899.5" r="4.8" fill="#a334ea" stroke="#222" stroke-width="0.8" />
<circle cx="504.0" cy="884.2" r="4.8" fill="#a334ea" stroke="#222" stroke-width="0.8" />
<line x1="527.0" y1="862.7" x2="527.0" y2="864.2" stroke="#333" stroke-width="1" />
<line x1="527.0" y1="868.8" x2="527.0" y2="867.3" stroke="#333" stroke-width="1" />
<rect x="518.5" y="864.2" width="17.0" height="3.1" fill="#fce0a8" stroke="#333" stroke-width="1" />
<line x1="518.5" y1="865.8" x2="535.5" y2="865.8" stroke="#111" stroke-width="2.2" />
<circle cx="527.0" cy="868.8" r="4.8" fill="#f7a823" stroke="#222" stroke-width="0.8" />
<circle cx="527.0" cy="862.7" r="4.8" fill="#f7a823" stroke="#222" stroke-width="0.8" />
<line x1="549.5" y1="924.0" x2="549.5" y2="931.7" stroke="#333" stroke-width="1" />
<line x1="549.5" y1="948.5" x2="549.5" y2="943.9" stroke="#333" stroke-width="1" />
<rect x="541.0" y="931.7" width="17.0" height="12.3" fill="#8a8a8a" stroke="#333" stroke-width="1" />
<line x1="541.0" y1="939.4" x2="558.0" y2="939.4" stroke="#111" stroke-width="2.2" />
<circle cx="549.5" cy="948.5" r="4.8" fill="#000" />
<circle cx="549.5" cy="937.8" r="4.8" fill="#000" />
<circle cx="549.5" cy="924.0" r="4.8" fill="#000" />
<line x1="572.0" y1="911.8" x2="572.0" y2="911.8" stroke="#333" stroke-width="1" />
<line x1="572.0" y1="921.0" x2="572.0" y2="917.9" stroke="#333" stroke-width="1" />
<rect x="563.5" y="911.8" width="17.0" height="6.1" fill="#deb3f5" stroke="#333" stroke-width="1" />
<line x1="563.5" y1="914.8" x2="580.5" y2="914.8" stroke="#111" stroke-width="2.2" />
<circle cx="572.0" cy="921.0" r="4.8" fill="#a334ea" stroke="#222" stroke-width="0.8" />
<circle cx="572.0" cy="911.8" r="4.8" fill="#a334ea" stroke="#222" stroke-width="0.8" />
<line x1="595.0" y1="899.5" x2="595.0" y2="908.7" stroke="#333" stroke-width="1" />
<line x1="595.0" y1="931.7" x2="595.0" y2="927.1" stroke="#333" stroke-width="1" />
<rect x="586.5" y="908.7" width="17.0" height="18.4" fill="#fce0a8" stroke="#333" stroke-width="1" />
<line x1="586.5" y1="917.9" x2="603.5" y2="917.9" stroke="#111" stroke-width="2.2" />
<circle cx="595.0" cy="931.7" r="4.8" fill="#f7a823" stroke="#222" stroke-width="0.8" />
<circle cx="595.0" cy="917.9" r="4.8" fill="#f7a823" stroke="#222" stroke-width="0.8" />
<circle cx="595.0" cy="899.5" r="4.8" fill="#f7a823" stroke="#222" stroke-width="0.8" />
<line x1="264.5" y1="815.5" x2="264.5" y2="1025.0" stroke="#555" stroke-width="1.8" />
<line x1="310.0" y1="815.5" x2="310.0" y2="1025.0" stroke="#555" stroke-width="1.8" />
<line x1="356.0" y1="815.5" x2="356.0" y2="1025.0" stroke="#555" stroke-width="1.8" />
<line x1="401.5" y1="815.5" x2="401.5" y2="1025.0" stroke="#555" stroke-width="1.8" />
<line x1="470.0" y1="815.5" x2="470.0" y2="1025.0" stroke="#555" stroke-width="1.8" />
<line x1="538.0" y1="815.5" x2="538.0" y2="1025.0" stroke="#555" stroke-width="1.8" />
<rect x="240.0" y="815.5" width="369.0" height="209.5" fill="none" stroke="#666" stroke-width="1.5" />
<rect x="235.0" y="830.5" width="5.0" height="3.0" fill="#333" />
<text x="233.0" y="839.5" font-family="'Liberation Sans', Arial, sans-serif" font-size="21.00" fill="#222" text-anchor="end" >1.2</text>
<rect x="235.0" y="891.9" width="5.0" height="3.0" fill="#333" />
<text x="233.0" y="900.9" font-family="'Liberation Sans', Arial, sans-serif" font-size="21.00" fill="#222" text-anchor="end" >0.8</text>
<rect x="235.0" y="953.2" width="5.0" height="3.0" fill="#333" />
<text x="233.0" y="962.2" font-family="'Liberation Sans', Arial, sans-serif" font-size="21.00" fill="#222" text-anchor="end" >0.4</text>
<rect x="235.0" y="1014.5" width="5.0" height="3.0" fill="#333" />
<text x="233.0" y="1023.5" font-family="'Liberation Sans', Arial, sans-serif" font-size="21.00" fill="#222" text-anchor="end" >0.0</text>
<text transform="translate(147.0,1037.0) rotate(-90)" font-family="Carlito, 'Liberation Sans', sans-serif" font-size="28.00" fill="#000" font-weight="bold" textLength="212.0" lengthAdjust="spacingAndGlyphs" >Protein synthesis</text>
<text transform="translate(186.0,1040.0) rotate(-90)" font-family="Carlito, 'Liberation Sans', sans-serif" font-size="28.00" fill="#000" font-weight="bold" textLength="220.0" lengthAdjust="spacingAndGlyphs" >Puromycin (gMFI)</text>
<line x1="322.0" y1="908.0" x2="345.0" y2="908.0" stroke="#444" stroke-width="1.2" />
<text x="333.5" y="906.0" font-family="'Liberation Sans', Arial, sans-serif" font-size="17.00" fill="#111" text-anchor="middle" >*</text>
<line x1="367.5" y1="862.0" x2="390.0" y2="862.0" stroke="#444" stroke-width="1.2" />
<text x="378.8" y="859.0" font-family="'Liberation Sans', Arial, sans-serif" font-size="17.00" fill="#111" text-anchor="middle" >ns</text>
<line x1="413.0" y1="871.0" x2="436.0" y2="871.0" stroke="#444" stroke-width="1.2" />
<text x="424.5" y="868.0" font-family="'Liberation Sans', Arial, sans-serif" font-size="17.00" fill="#111" text-anchor="middle" >ns</text>
<line x1="413.0" y1="855.0" x2="459.0" y2="855.0" stroke="#444" stroke-width="1.2" />
<text x="436.0" y="853.0" font-family="'Liberation Sans', Arial, sans-serif" font-size="17.00" fill="#111" text-anchor="middle" >*</text>
<line x1="436.0" y1="840.0" x2="459.0" y2="840.0" stroke="#444" stroke-width="1.2" />
<text x="447.0" y="838.0" font-family="'Liberation Sans', Arial, sans-serif" font-size="17.00" fill="#111" text-anchor="middle" >0.0845</text>
<line x1="481.0" y1="871.0" x2="504.0" y2="871.0" stroke="#444" stroke-width="1.2" />
<text x="493.0" y="869.0" font-family="'Liberation Sans', Arial, sans-serif" font-size="17.00" fill="#111" text-anchor="middle" >0.0685</text>
<line x1="481.0" y1="848.0" x2="527.0" y2="848.0" stroke="#444" stroke-width="1.2" />
<text x="504.0" y="848.0" font-family="'Liberation Sans', Arial, sans-serif" font-size="17.00" fill="#111" text-anchor="middle" >***</text>
<line x1="504.0" y1="830.0" x2="527.0" y2="830.0" stroke="#444" stroke-width="1.2" />
<text x="515.5" y="829.0" font-family="'Liberation Sans', Arial, sans-serif" font-size="17.00" fill="#111" text-anchor="middle" >**</text>
<line x1="550.0" y1="886.0" x2="572.0" y2="886.0" stroke="#444" stroke-width="1.2" />
<text x="561.0" y="884.0" font-family="'Liberation Sans', Arial, sans-serif" font-size="17.00" fill="#111" text-anchor="middle" >ns</text>
<line x1="550.0" y1="868.0" x2="595.0" y2="868.0" stroke="#444" stroke-width="1.2" />
<text x="572.5" y="866.0" font-family="'Liberation Sans', Arial, sans-serif" font-size="17.00" fill="#111" text-anchor="middle" >ns</text>
<line x1="573.0" y1="851.0" x2="595.0" y2="851.0" stroke="#444" stroke-width="1.2" />
<text x="584.0" y="849.0" font-family="'Liberation Sans', Arial, sans-serif" font-size="17.00" fill="#111" text-anchor="middle" >ns</text>
<text x="247.0" y="1052.0" font-family="Carlito, 'Liberation Sans', sans-serif" font-size="26.00" fill="#333" font-weight="bold" textLength="15.0" lengthAdjust="spacingAndGlyphs" >0</text>
<text x="282.0" y="1052.0" font-family="Carlito, 'Liberation Sans', sans-serif" font-size="26.00" fill="#333" font-weight="bold" textLength="13.0" lengthAdjust="spacingAndGlyphs" >4</text>
<text x="318.0" y="1052.0" font-family="Carlito, 'Liberation Sans', sans-serif" font-size="26.00" fill="#333" font-weight="bold" textLength="30.0" lengthAdjust="spacingAndGlyphs" >24</text>
<text x="363.0" y="1052.0" font-family="Carlito, 'Liberation Sans', sans-serif" font-size="26.00" fill="#333" font-weight="bold" textLength="31.0" lengthAdjust="spacingAndGlyphs" >48</text>
<text x="417.0" y="1052.0" font-family="Carlito, 'Liberation Sans', sans-serif" font-size="26.00" fill="#333" font-weight="bold" textLength="37.0" lengthAdjust="spacingAndGlyphs" >iDC</text>
<text x="468.0" y="1052.0" font-family="Carlito, 'Liberation Sans', sans-serif" font-size="26.00" fill="#333" font-weight="bold" textLength="66.0" lengthAdjust="spacingAndGlyphs" >actDC</text>
<text x="550.0" y="1052.0" font-family="Carlito, 'Liberation Sans', sans-serif" font-size="26.00" fill="#333" font-weight="bold" textLength="55.0" lengthAdjust="spacingAndGlyphs" >mDC</text>
<line x1="249.0" y1="1061.0" x2="396.0" y2="1061.0" stroke="#b3b3b3" stroke-width="2.5" />
<line x1="418.0" y1="1061.0" x2="596.0" y2="1061.0" stroke="#666" stroke-width="2.5" />
<text x="247.0" y="1083.0" font-family="Carlito, 'Liberation Sans', sans-serif" font-size="21.00" fill="#aaaaaa" textLength="84.0" lengthAdjust="spacingAndGlyphs" >GM-CSF</text>
<text x="247.0" y="1107.0" font-family="Carlito, 'Liberation Sans', sans-serif" font-size="21.00" fill="#aaaaaa" textLength="26.0" lengthAdjust="spacingAndGlyphs" >IL4</text>
<text x="417.0" y="1084.0" font-family="Carlito, 'Liberation Sans', sans-serif" font-size="21.00" fill="#7f7f7f" textLength="35.0" lengthAdjust="spacingAndGlyphs" >LPS</text>
<text x="417.0" y="1106.0" font-family="Carlito, 'Liberation Sans', sans-serif" font-size="21.00" fill="#7f7f7f" textLength="44.0" lengthAdjust="spacingAndGlyphs" >IFNγ</text>
<text x="633.0" y="832.5" font-family="Carlito, 'Liberation Sans', sans-serif" font-size="20.50" fill="#111" textLength="83.0" lengthAdjust="spacingAndGlyphs" >Treatment</text>
<circle cx="640.5" cy="846.0" r="7.5" fill="#000" />
<circle cx="640.5" cy="865.0" r="7.5" fill="#b86ef0" stroke="#333" stroke-width="0.8" />
<circle cx="640.5" cy="883.5" r="7.5" fill="#ffbc00" stroke="#333" stroke-width="0.8" />
<text x="652.0" y="851.5" font-family="Carlito, 'Liberation Sans', sans-serif" font-size="20.50" fill="#111" textLength="28.0" lengthAdjust="spacingAndGlyphs" >Ctrl</text>
<text x="652.0" y="870.5" font-family="Carlito, 'Liberation Sans', sans-serif" font-size="20.50" fill="#111" textLength="87.0" lengthAdjust="spacingAndGlyphs" >vitd3+dexa</text>
<text x="653.0" y="888.5" font-family="Carlito, 'Liberation Sans', sans-serif" font-size="20.50" fill="#111" textLength="39.0" lengthAdjust="spacingAndGlyphs" >vitd3</text>
<text x="933.0" y="38.0" font-family="Carlito, 'Liberation Sans', sans-serif" font-size="50.00" fill="#3a3838" font-weight="bold" >C</text>
<text x="1443.0" y="79.0" font-family="Carlito, 'Liberation Sans', sans-serif" font-size="33.00" fill="#000" font-weight="bold" textLength="131.0" lengthAdjust="spacingAndGlyphs" >SCENITH</text>
<text x="1142.0" y="152.0" font-family="Carlito, 'Liberation Sans', sans-serif" font-size="35.40" fill="#000" font-weight="bold" textLength="332.0" lengthAdjust="spacingAndGlyphs" >Metabolic change (%)</text>
<text x="1574.0" y="119.0" font-family="Carlito, 'Liberation Sans', sans-serif" font-size="34.50" fill="#000" font-weight="bold" textLength="277.0" lengthAdjust="spacingAndGlyphs" >Protein synthesis-</text>
<text x="1526.0" y="154.0" font-family="Carlito, 'Liberation Sans', sans-serif" font-size="35.00" fill="#000" font-weight="bold" textLength="362.0" lengthAdjust="spacingAndGlyphs" >normalized parameters</text>
<text transform="translate(973.0,681.0) rotate(-90)" font-family="Carlito, 'Liberation Sans', sans-serif" font-size="33.00" fill="#000" font-weight="bold" textLength="337.0" lengthAdjust="spacingAndGlyphs" >SCENITH metabolic profiles</text>
<text transform="translate(1016.5,299.0) rotate(-90)" font-family="Carlito, 'Liberation Sans', sans-serif" font-size="25.00" fill="#000" textLength="83.0" lengthAdjust="spacingAndGlyphs" >Glucose</text>
<text transform="translate(1048.5,318.0) rotate(-90)" font-family="Carlito, 'Liberation Sans', sans-serif" font-size="25.00" fill="#000" textLength="128.0" lengthAdjust="spacingAndGlyphs" >dependence</text>
<text transform="translate(1016.5,466.0) rotate(-90)" font-family="Carlito, 'Liberation Sans', sans-serif" font-size="25.00" fill="#0000ff" textLength="50.0" lengthAdjust="spacingAndGlyphs" >Mito</text>
<text transform="translate(1048.5,504.0) rotate(-90)" font-family="Carlito, 'Liberation Sans', sans-serif" font-size="25.00" fill="#0000ff" textLength="131.0" lengthAdjust="spacingAndGlyphs" >dependence</text>
<text transform="translate(1016.5,657.0) rotate(-90)" font-family="Carlito, 'Liberation Sans', sans-serif" font-size="25.00" fill="#ff0000" textLength="101.0" lengthAdjust="spacingAndGlyphs" >Glycolytic</text>
<text transform="translate(1048.5,651.0) rotate(-90)" font-family="Carlito, 'Liberation Sans', sans-serif" font-size="25.00" fill="#ff0000" textLength="88.0" lengthAdjust="spacingAndGlyphs" >Capacity</text>
<text transform="translate(1048.5,797.0) rotate(-90)" font-family="Carlito, 'Liberation Sans', sans-serif" font-size="25.00" fill="#a020f0" textLength="57.0" lengthAdjust="spacingAndGlyphs" >FAAO</text>
<line x1="1109.0" y1="332.8" x2="1457.0" y2="332.8" stroke="#f4f4f4" stroke-width="1" />
<line x1="1109.0" y1="301.2" x2="1457.0" y2="301.2" stroke="#f4f4f4" stroke-width="1" />
<line x1="1109.0" y1="269.8" x2="1457.0" y2="269.8" stroke="#f4f4f4" stroke-width="1" />
<line x1="1109.0" y1="238.2" x2="1457.0" y2="238.2" stroke="#f4f4f4" stroke-width="1" />
<line x1="1109.0" y1="206.8" x2="1457.0" y2="206.8" stroke="#f4f4f4" stroke-width="1" />
<line x1="1109.0" y1="175.2" x2="1457.0" y2="175.2" stroke="#f4f4f4" stroke-width="1" />
<line x1="1109.0" y1="191.0" x2="1457.0" y2="191.0" stroke="#e8e8e8" stroke-width="1.3" />
<line x1="1109.0" y1="222.5" x2="1457.0" y2="222.5" stroke="#e8e8e8" stroke-width="1.3" />
<line x1="1109.0" y1="254.0" x2="1457.0" y2="254.0" stroke="#e8e8e8" stroke-width="1.3" />
<line x1="1109.0" y1="285.5" x2="1457.0" y2="285.5" stroke="#e8e8e8" stroke-width="1.3" />
<line x1="1109.0" y1="317.0" x2="1457.0" y2="317.0" stroke="#e8e8e8" stroke-width="1.3" />
<line x1="1124.5" y1="165.0" x2="1124.5" y2="340.0" stroke="#ececec" stroke-width="1.3" />
<line x1="1177.2" y1="165.0" x2="1177.2" y2="340.0" stroke="#ececec" stroke-width="1.3" />
<line x1="1229.9" y1="165.0" x2="1229.9" y2="340.0" stroke="#ececec" stroke-width="1.3" />
<line x1="1282.6" y1="165.0" x2="1282.6" y2="340.0" stroke="#ececec" stroke-width="1.3" />
<line x1="1335.3" y1="165.0" x2="1335.3" y2="340.0" stroke="#ececec" stroke-width="1.3" />
<line x1="1388.0" y1="165.0" x2="1388.0" y2="340.0" stroke="#ececec" stroke-width="1.3" />
<line x1="1440.7" y1="165.0" x2="1440.7" y2="340.0" stroke="#ececec" stroke-width="1.3" />
<rect x="1119.0" y="165.0" width="11.0" height="175.0" fill="#d9d9d9" />
<rect x="1150.5" y="165.0" width="11.0" height="175.0" fill="#d9d9d9" />
<rect x="1203.0" y="165.0" width="11.0" height="175.0" fill="#d9d9d9" />
<rect x="1330.0" y="165.0" width="11.0" height="175.0" fill="#d9d9d9" />
<rect x="1362.0" y="165.0" width="11.0" height="175.0" fill="#d9d9d9" />
<rect x="1435.0" y="165.0" width="11.0" height="175.0" fill="#d9d9d9" />
<rect x="1103.4" y="189.4" width="5.5" height="3.2" fill="#111" />
<text x="1059.0" y="199.7" font-family="'Liberation Sans', Arial, sans-serif" font-size="24.40" fill="#111" >100</text>
<rect x="1103.4" y="220.9" width="5.5" height="3.2" fill="#111" />
<text x="1059.0" y="231.2" font-family="'Liberation Sans', Arial, sans-serif" font-size="24.40" fill="#111" >90</text>
<rect x="1103.4" y="252.4" width="5.5" height="3.2" fill="#111" />
<text x="1059.0" y="262.7" font-family="'Liberation Sans', Arial, sans-serif" font-size="24.40" fill="#111" >80</text>
<rect x="1103.4" y="283.9" width="5.5" height="3.2" fill="#111" />
<text x="1059.0" y="294.2" font-family="'Liberation Sans', Arial, sans-serif" font-size="24.40" fill="#111" >70</text>
<rect x="1103.4" y="315.4" width="5.5" height="3.2" fill="#111" />
<text x="1059.0" y="325.7" font-family="'Liberation Sans', Arial, sans-serif" font-size="24.40" fill="#111" >60</text>
<polyline points="1124.5,204.0 1156.0,194.0 1208.5,221.0 1335.5,285.0 1367.5,290.0 1440.5,269.0" fill="none" stroke="rgba(60,60,60,0.72)" stroke-width="4" stroke-linejoin="round" stroke-linecap="round" />
<polyline points="1156.0,203.0 1208.5,248.0 1335.5,301.0 1367.5,303.0 1440.5,238.0" fill="none" stroke="rgba(253,190,70,0.72)" stroke-width="4.5" stroke-linejoin="round" stroke-linecap="round" />
<polyline points="1335.5,307.0 1367.5,298.0 1440.5,272.0" fill="none" stroke="rgba(190,100,250,0.72)" stroke-width="4" stroke-linejoin="round" stroke-linecap="round" />
<circle cx="1124.5" cy="200.0" r="5.5" fill="#000" stroke="#222" stroke-width="0.9" />
<circle cx="1124.5" cy="206.0" r="5.5" fill="#000" stroke="#222" stroke-width="0.9" />
<circle cx="1156.0" cy="194.0" r="5.5" fill="#000" stroke="#222" stroke-width="0.9" />
<circle cx="1156.0" cy="203.0" r="5.5" fill="#f5a623" stroke="#222" stroke-width="0.9" />
<circle cx="1208.5" cy="230.0" r="5.5" fill="#f5a623" stroke="#222" stroke-width="0.9" />
<circle cx="1208.5" cy="236.0" r="5.5" fill="#f5a623" stroke="#222" stroke-width="0.9" />
<circle cx="1208.5" cy="243.0" r="5.5" fill="#f5a623" stroke="#222" stroke-width="0.9" />
<circle cx="1208.5" cy="251.0" r="5.5" fill="#f5a623" stroke="#222" stroke-width="0.9" />
<circle cx="1208.5" cy="213.0" r="5.5" fill="#000" stroke="#222" stroke-width="0.9" />
<circle cx="1208.5" cy="218.0" r="5.5" fill="#000" stroke="#222" stroke-width="0.9" />
<circle cx="1208.5" cy="222.0" r="5.5" fill="#000" stroke="#222" stroke-width="0.9" />
<circle cx="1208.5" cy="226.0" r="5.5" fill="#000" stroke="#222" stroke-width="0.9" />
<circle cx="1335.5" cy="258.0" r="5.5" fill="#000" stroke="#222" stroke-width="0.9" />
<circle cx="1335.5" cy="266.0" r="5.5" fill="#000" stroke="#222" stroke-width="0.9" />
<circle cx="1335.5" cy="272.0" r="5.5" fill="#000" stroke="#222" stroke-width="0.9" />
<circle cx="1335.5" cy="278.0" r="5.5" fill="#000" stroke="#222" stroke-width="0.9" />
<circle cx="1335.5" cy="285.0" r="5.5" fill="#000" stroke="#222" stroke-width="0.9" />
<circle cx="1335.5" cy="291.0" r="5.5" fill="#000" stroke="#222" stroke-width="0.9" />
<circle cx="1335.5" cy="296.0" r="5.5" fill="#000" stroke="#222" stroke-width="0.9" />
<circle cx="1335.5" cy="300.0" r="5.5" fill="#f5a623" stroke="#222" stroke-width="0.9" />
<circle cx="1335.5" cy="306.0" r="5.5" fill="#f5a623" stroke="#222" stroke-width="0.9" />
<circle cx="1335.5" cy="299.0" r="5.5" fill="#a020f0" stroke="#222" stroke-width="0.9" />
<circle cx="1335.5" cy="303.0" r="5.5" fill="#a020f0" stroke="#222" stroke-width="0.9" />
<circle cx="1335.5" cy="323.0" r="5.5" fill="#a020f0" stroke="#222" stroke-width="0.9" />
<circle cx="1335.5" cy="331.0" r="5.5" fill="#a020f0" stroke="#222" stroke-width="0.9" />
<circle cx="1367.5" cy="252.0" r="5.5" fill="#000" stroke="#222" stroke-width="0.9" />
<circle cx="1367.5" cy="287.0" r="5.5" fill="#000" stroke="#222" stroke-width="0.9" />
<circle cx="1367.5" cy="292.0" r="5.5" fill="#000" stroke="#222" stroke-width="0.9" />
<circle cx="1367.5" cy="296.0" r="5.5" fill="#a020f0" stroke="#222" stroke-width="0.9" />
<circle cx="1367.5" cy="303.0" r="5.5" fill="#a020f0" stroke="#222" stroke-width="0.9" />
<circle cx="1367.5" cy="306.0" r="5.5" fill="#a020f0" stroke="#222" stroke-width="0.9" />
<circle cx="1367.5" cy="294.0" r="5.5" fill="#f5a623" stroke="#222" stroke-width="0.9" />
<circle cx="1367.5" cy="310.0" r="5.5" fill="#f5a623" stroke="#222" stroke-width="0.9" />
<circle cx="1367.5" cy="313.0" r="5.5" fill="#f5a623" stroke="#222" stroke-width="0.9" />
<circle cx="1440.5" cy="216.0" r="5.5" fill="#f5a623" stroke="#222" stroke-width="0.9" />
<circle cx="1440.5" cy="229.0" r="5.5" fill="#f5a623" stroke="#222" stroke-width="0.9" />
<circle cx="1440.5" cy="249.0" r="5.5" fill="#f5a623" stroke="#222" stroke-width="0.9" />
<circle cx="1440.5" cy="271.0" r="5.5" fill="#000" stroke="#222" stroke-width="0.9" />
<circle cx="1440.5" cy="277.0" r="5.5" fill="#000" stroke="#222" stroke-width="0.9" />
<circle cx="1440.5" cy="273.0" r="5.5" fill="#a020f0" stroke="#222" stroke-width="0.9" />
<circle cx="1440.5" cy="282.0" r="5.5" fill="#a020f0" stroke="#222" stroke-width="0.9" />
<circle cx="1440.5" cy="287.0" r="5.5" fill="#a020f0" stroke="#222" stroke-width="0.9" />
<circle cx="1440.5" cy="292.0" r="5.5" fill="#a020f0" stroke="#222" stroke-width="0.9" />
<text x="1208.5" y="205.1" font-family="'Liberation Sans', Arial, sans-serif" font-size="27.00" fill="#e69500" text-anchor="middle" >*</text>
<text x="1335.5" y="237.1" font-family="'Liberation Sans', Arial, sans-serif" font-size="27.00" fill="#7b2cbf" text-anchor="middle" >**</text>
<text x="1335.5" y="244.4" font-family="Carlito, 'Liberation Sans', sans-serif" font-size="21.50" fill="#e69500" text-anchor="middle" >ns</text>
<text x="1367.5" y="222.4" font-family="Carlito, 'Liberation Sans', sans-serif" font-size="21.50" fill="#7b2cbf" text-anchor="middle" >ns</text>
<text x="1367.5" y="238.4" font-family="Carlito, 'Liberation Sans', sans-serif" font-size="21.50" fill="#e69500" text-anchor="middle" >ns</text>
<text x="1440.5" y="182.4" font-family="Carlito, 'Liberation Sans', sans-serif" font-size="21.50" fill="#7b2cbf" text-anchor="middle" >ns</text>
<text x="1440.5" y="204.4" font-family="Carlito, 'Liberation Sans', sans-serif" font-size="18.49" fill="#e69500" text-anchor="middle" >0.061</text>
<line x1="1109.0" y1="513.0" x2="1457.0" y2="513.0" stroke="#f4f4f4" stroke-width="1" />
<line x1="1109.0" y1="470.4" x2="1457.0" y2="470.4" stroke="#f4f4f4" stroke-width="1" />
<line x1="1109.0" y1="427.9" x2="1457.0" y2="427.9" stroke="#f4f4f4" stroke-width="1" />
<line x1="1109.0" y1="385.3" x2="1457.0" y2="385.3" stroke="#f4f4f4" stroke-width="1" />
<line x1="1109.0" y1="364.0" x2="1457.0" y2="364.0" stroke="#e8e8e8" stroke-width="1.3" />
<line x1="1109.0" y1="406.6" x2="1457.0" y2="406.6" stroke="#e8e8e8" stroke-width="1.3" />
<line x1="1109.0" y1="449.1" x2="1457.0" y2="449.1" stroke="#e8e8e8" stroke-width="1.3" />
<line x1="1109.0" y1="491.7" x2="1457.0" y2="491.7" stroke="#e8e8e8" stroke-width="1.3" />
<line x1="1124.5" y1="347.5" x2="1124.5" y2="524.6" stroke="#ececec" stroke-width="1.3" />
<line x1="1177.2" y1="347.5" x2="1177.2" y2="524.6" stroke="#ececec" stroke-width="1.3" />
<line x1="1229.9" y1="347.5" x2="1229.9" y2="524.6" stroke="#ececec" stroke-width="1.3" />
<line x1="1282.6" y1="347.5" x2="1282.6" y2="524.6" stroke="#ececec" stroke-width="1.3" />
<line x1="1335.3" y1="347.5" x2="1335.3" y2="524.6" stroke="#ececec" stroke-width="1.3" />
<line x1="1388.0" y1="347.5" x2="1388.0" y2="524.6" stroke="#ececec" stroke-width="1.3" />
<line x1="1440.7" y1="347.5" x2="1440.7" y2="524.6" stroke="#ececec" stroke-width="1.3" />
<rect x="1119.0" y="347.5" width="11.0" height="177.1" fill="#d9d9d9" />
<rect x="1150.5" y="347.5" width="11.0" height="177.1" fill="#d9d9d9" />
<rect x="1203.0" y="347.5" width="11.0" height="177.1" fill="#d9d9d9" />
<rect x="1330.0" y="347.5" width="11.0" height="177.1" fill="#d9d9d9" />
<rect x="1362.0" y="347.5" width="11.0" height="177.1" fill="#d9d9d9" />
<rect x="1435.0" y="347.5" width="11.0" height="177.1" fill="#d9d9d9" />
<rect x="1105.0" y="362.4" width="5.5" height="3.2" fill="#111" />
<text x="1060.5" y="372.7" font-family="'Liberation Sans', Arial, sans-serif" font-size="24.40" fill="#111" >100</text>
<rect x="1105.0" y="405.0" width="5.5" height="3.2" fill="#111" />
<text x="1060.5" y="415.3" font-family="'Liberation Sans', Arial, sans-serif" font-size="24.40" fill="#111" >75</text>
<rect x="1105.0" y="447.5" width="5.5" height="3.2" fill="#111" />
<text x="1060.5" y="457.9" font-family="'Liberation Sans', Arial, sans-serif" font-size="24.40" fill="#111" >50</text>
<rect x="1105.0" y="490.1" width="5.5" height="3.2" fill="#111" />
<text x="1060.5" y="500.4" font-family="'Liberation Sans', Arial, sans-serif" font-size="24.40" fill="#111" >25</text>
<polyline points="1124.5,502.0 1156.0,507.0 1208.5,411.0 1335.5,399.0 1367.5,407.0 1440.5,389.0" fill="none" stroke="rgba(60,60,60,0.72)" stroke-width="4" stroke-linejoin="round" stroke-linecap="round" />
<polyline points="1156.0,503.0 1208.5,449.0 1335.5,402.5 1367.5,408.0 1440.5,400.0" fill="none" stroke="rgba(253,190,70,0.72)" stroke-width="4.5" stroke-linejoin="round" stroke-linecap="round" />
<polyline points="1335.5,396.0 1367.5,403.0 1440.5,388.0" fill="none" stroke="rgba(190,100,250,0.72)" stroke-width="4" stroke-linejoin="round" stroke-linecap="round" />
<circle cx="1124.5" cy="499.0" r="5.5" fill="#000" stroke="#222" stroke-width="0.9" />
<circle cx="1124.5" cy="505.0" r="5.5" fill="#000" stroke="#222" stroke-width="0.9" />
<circle cx="1156.0" cy="508.6" r="5.5" fill="#000" stroke="#222" stroke-width="0.9" />
<circle cx="1156.0" cy="503.0" r="5.5" fill="#f5a623" stroke="#222" stroke-width="0.9" />
<circle cx="1208.5" cy="400.8" r="5.5" fill="#000" stroke="#222" stroke-width="0.9" />
<circle cx="1208.5" cy="417.7" r="5.5" fill="#000" stroke="#222" stroke-width="0.9" />
<circle cx="1208.5" cy="429.0" r="5.5" fill="#000" stroke="#222" stroke-width="0.9" />
<circle cx="1208.5" cy="440.0" r="5.5" fill="#f5a623" stroke="#222" stroke-width="0.9" />
<circle cx="1208.5" cy="443.0" r="5.5" fill="#f5a623" stroke="#222" stroke-width="0.9" />
<circle cx="1208.5" cy="453.0" r="5.5" fill="#f5a623" stroke="#222" stroke-width="0.9" />
<circle cx="1208.5" cy="457.6" r="5.5" fill="#f5a623" stroke="#222" stroke-width="0.9" />
<circle cx="1335.5" cy="386.0" r="5.5" fill="#000" stroke="#222" stroke-width="0.9" />
<circle cx="1335.5" cy="389.0" r="5.5" fill="#000" stroke="#222" stroke-width="0.9" />
<circle cx="1335.5" cy="392.0" r="5.5" fill="#000" stroke="#222" stroke-width="0.9" />
<circle cx="1335.5" cy="396.0" r="5.5" fill="#000" stroke="#222" stroke-width="0.9" />
<circle cx="1335.5" cy="395.0" r="5.5" fill="#a020f0" stroke="#222" stroke-width="0.9" />
<circle cx="1335.5" cy="398.6" r="5.5" fill="#a020f0" stroke="#222" stroke-width="0.9" />
<circle cx="1335.5" cy="400.0" r="5.5" fill="#f5a623" stroke="#222" stroke-width="0.9" />
<circle cx="1335.5" cy="413.0" r="5.5" fill="#f5a623" stroke="#222" stroke-width="0.9" />
<circle cx="1335.5" cy="414.5" r="5.5" fill="#f5a623" stroke="#222" stroke-width="0.9" />
<circle cx="1367.5" cy="398.6" r="5.5" fill="#f5a623" stroke="#222" stroke-width="0.9" />
<circle cx="1367.5" cy="405.0" r="5.5" fill="#f5a623" stroke="#222" stroke-width="0.9" />
<circle cx="1367.5" cy="419.0" r="5.5" fill="#f5a623" stroke="#222" stroke-width="0.9" />
<circle cx="1367.5" cy="408.0" r="5.5" fill="#000" stroke="#222" stroke-width="0.9" />
<circle cx="1367.5" cy="411.0" r="5.5" fill="#000" stroke="#222" stroke-width="0.9" />
<circle cx="1367.5" cy="402.0" r="5.5" fill="#a020f0" stroke="#222" stroke-width="0.9" />
<circle cx="1367.5" cy="404.0" r="5.5" fill="#a020f0" stroke="#222" stroke-width="0.9" />
<circle cx="1440.5" cy="381.0" r="5.5" fill="#000" stroke="#222" stroke-width="0.9" />
<circle cx="1440.5" cy="384.0" r="5.5" fill="#000" stroke="#222" stroke-width="0.9" />
<circle cx="1440.5" cy="387.4" r="5.5" fill="#000" stroke="#222" stroke-width="0.9" />
<circle cx="1440.5" cy="389.0" r="5.5" fill="#a020f0" stroke="#222" stroke-width="0.9" />
<circle cx="1440.5" cy="392.0" r="5.5" fill="#a020f0" stroke="#222" stroke-width="0.9" />
<circle cx="1440.5" cy="395.0" r="5.5" fill="#a020f0" stroke="#222" stroke-width="0.9" />
<circle cx="1440.5" cy="400.0" r="5.5" fill="#f5a623" stroke="#222" stroke-width="0.9" />
<circle cx="1440.5" cy="416.8" r="5.5" fill="#f5a623" stroke="#222" stroke-width="0.9" />
<text x="1208.5" y="393.1" font-family="'Liberation Sans', Arial, sans-serif" font-size="27.00" fill="#e69500" text-anchor="middle" >**</text>
<text x="1335.5" y="360.4" font-family="Carlito, 'Liberation Sans', sans-serif" font-size="21.50" fill="#7b2cbf" text-anchor="middle" >ns</text>
<text x="1335.5" y="377.4" font-family="Carlito, 'Liberation Sans', sans-serif" font-size="21.50" fill="#e69500" text-anchor="middle" >ns</text>
<text x="1367.5" y="361.9" font-family="Carlito, 'Liberation Sans', sans-serif" font-size="21.50" fill="#7b2cbf" text-anchor="middle" >ns</text>
<text x="1367.5" y="379.4" font-family="Carlito, 'Liberation Sans', sans-serif" font-size="21.50" fill="#e69500" text-anchor="middle" >ns</text>
<text x="1440.5" y="350.4" font-family="Carlito, 'Liberation Sans', sans-serif" font-size="21.50" fill="#7b2cbf" text-anchor="middle" >ns</text>
<text x="1440.5" y="376.1" font-family="'Liberation Sans', Arial, sans-serif" font-size="27.00" fill="#e69500" text-anchor="middle" >*</text>
<line x1="1109.0" y1="704.2" x2="1457.0" y2="704.2" stroke="#f4f4f4" stroke-width="1" />
<line x1="1109.0" y1="660.8" x2="1457.0" y2="660.8" stroke="#f4f4f4" stroke-width="1" />
<line x1="1109.0" y1="617.2" x2="1457.0" y2="617.2" stroke="#f4f4f4" stroke-width="1" />
<line x1="1109.0" y1="573.8" x2="1457.0" y2="573.8" stroke="#f4f4f4" stroke-width="1" />
<line x1="1109.0" y1="552.0" x2="1457.0" y2="552.0" stroke="#e8e8e8" stroke-width="1.3" />
<line x1="1109.0" y1="595.5" x2="1457.0" y2="595.5" stroke="#e8e8e8" stroke-width="1.3" />
<line x1="1109.0" y1="639.0" x2="1457.0" y2="639.0" stroke="#e8e8e8" stroke-width="1.3" />
<line x1="1109.0" y1="682.5" x2="1457.0" y2="682.5" stroke="#e8e8e8" stroke-width="1.3" />
<line x1="1124.5" y1="534.0" x2="1124.5" y2="713.0" stroke="#ececec" stroke-width="1.3" />
<line x1="1177.2" y1="534.0" x2="1177.2" y2="713.0" stroke="#ececec" stroke-width="1.3" />
<line x1="1229.9" y1="534.0" x2="1229.9" y2="713.0" stroke="#ececec" stroke-width="1.3" />
<line x1="1282.6" y1="534.0" x2="1282.6" y2="713.0" stroke="#ececec" stroke-width="1.3" />
<line x1="1335.3" y1="534.0" x2="1335.3" y2="713.0" stroke="#ececec" stroke-width="1.3" />
<line x1="1388.0" y1="534.0" x2="1388.0" y2="713.0" stroke="#ececec" stroke-width="1.3" />
<line x1="1440.7" y1="534.0" x2="1440.7" y2="713.0" stroke="#ececec" stroke-width="1.3" />
<rect x="1119.0" y="534.0" width="11.0" height="179.0" fill="#d9d9d9" />
<rect x="1150.5" y="534.0" width="11.0" height="179.0" fill="#d9d9d9" />
<rect x="1203.0" y="534.0" width="11.0" height="179.0" fill="#d9d9d9" />
<rect x="1330.0" y="534.0" width="11.0" height="179.0" fill="#d9d9d9" />
<rect x="1362.0" y="534.0" width="11.0" height="179.0" fill="#d9d9d9" />
<rect x="1435.0" y="534.0" width="11.0" height="179.0" fill="#d9d9d9" />
<rect x="1105.0" y="550.4" width="5.5" height="3.2" fill="#111" />
<text x="1072.0" y="560.7" font-family="'Liberation Sans', Arial, sans-serif" font-size="24.40" fill="#111" >80</text>
<rect x="1105.0" y="593.9" width="5.5" height="3.2" fill="#111" />
<text x="1072.0" y="604.2" font-family="'Liberation Sans', Arial, sans-serif" font-size="24.40" fill="#111" >60</text>
<rect x="1105.0" y="637.4" width="5.5" height="3.2" fill="#111" />
<text x="1072.0" y="647.7" font-family="'Liberation Sans', Arial, sans-serif" font-size="24.40" fill="#111" >40</text>
<rect x="1105.0" y="680.9" width="5.5" height="3.2" fill="#111" />
<text x="1072.0" y="691.2" font-family="'Liberation Sans', Arial, sans-serif" font-size="24.40" fill="#111" >20</text>
<polyline points="1124.5,550.0 1156.0,543.0 1208.5,665.0 1335.5,684.0 1367.5,671.0 1440.5,695.0" fill="none" stroke="rgba(60,60,60,0.72)" stroke-width="4" stroke-linejoin="round" stroke-linecap="round" />
<polyline points="1156.0,549.0 1208.5,617.0 1335.5,677.0 1367.5,670.0 1440.5,680.0" fill="none" stroke="rgba(253,190,70,0.72)" stroke-width="4.5" stroke-linejoin="round" stroke-linecap="round" />
<polyline points="1335.5,686.0 1367.5,676.0 1440.5,698.0" fill="none" stroke="rgba(190,100,250,0.72)" stroke-width="4" stroke-linejoin="round" stroke-linecap="round" />
<circle cx="1124.5" cy="547.0" r="5.5" fill="#000" stroke="#222" stroke-width="0.9" />
<circle cx="1124.5" cy="552.7" r="5.5" fill="#000" stroke="#222" stroke-width="0.9" />
<circle cx="1156.0" cy="542.0" r="5.5" fill="#000" stroke="#222" stroke-width="0.9" />
<circle cx="1156.0" cy="549.5" r="5.5" fill="#f5a623" stroke="#222" stroke-width="0.9" />
<circle cx="1208.5" cy="607.0" r="5.5" fill="#f5a623" stroke="#222" stroke-width="0.9" />
<circle cx="1208.5" cy="612.0" r="5.5" fill="#f5a623" stroke="#222" stroke-width="0.9" />
<circle cx="1208.5" cy="623.5" r="5.5" fill="#f5a623" stroke="#222" stroke-width="0.9" />
<circle cx="1208.5" cy="630.0" r="5.5" fill="#f5a623" stroke="#222" stroke-width="0.9" />
<circle cx="1208.5" cy="644.0" r="5.5" fill="#000" stroke="#222" stroke-width="0.9" />
<circle cx="1208.5" cy="657.0" r="5.5" fill="#000" stroke="#222" stroke-width="0.9" />
<circle cx="1208.5" cy="679.0" r="5.5" fill="#000" stroke="#222" stroke-width="0.9" />
<circle cx="1335.5" cy="662.0" r="5.5" fill="#f5a623" stroke="#222" stroke-width="0.9" />
<circle cx="1335.5" cy="665.0" r="5.5" fill="#f5a623" stroke="#222" stroke-width="0.9" />
<circle cx="1335.5" cy="681.0" r="5.5" fill="#000" stroke="#222" stroke-width="0.9" />
<circle cx="1335.5" cy="698.0" r="5.5" fill="#000" stroke="#222" stroke-width="0.9" />
<circle cx="1335.5" cy="684.0" r="5.5" fill="#a020f0" stroke="#222" stroke-width="0.9" />
<circle cx="1335.5" cy="688.0" r="5.5" fill="#a020f0" stroke="#222" stroke-width="0.9" />
<circle cx="1335.5" cy="692.0" r="5.5" fill="#a020f0" stroke="#222" stroke-width="0.9" />
<circle cx="1367.5" cy="655.0" r="5.5" fill="#f5a623" stroke="#222" stroke-width="0.9" />
<circle cx="1367.5" cy="679.0" r="5.5" fill="#f5a623" stroke="#222" stroke-width="0.9" />
<circle cx="1367.5" cy="663.0" r="5.5" fill="#000" stroke="#222" stroke-width="0.9" />
<circle cx="1367.5" cy="668.0" r="5.5" fill="#000" stroke="#222" stroke-width="0.9" />
<circle cx="1367.5" cy="673.0" r="5.5" fill="#000" stroke="#222" stroke-width="0.9" />
<circle cx="1367.5" cy="666.0" r="5.5" fill="#a020f0" stroke="#222" stroke-width="0.9" />
<circle cx="1367.5" cy="670.0" r="5.5" fill="#a020f0" stroke="#222" stroke-width="0.9" />
<circle cx="1440.5" cy="658.6" r="5.5" fill="#f5a623" stroke="#222" stroke-width="0.9" />
<circle cx="1440.5" cy="681.0" r="5.5" fill="#f5a623" stroke="#222" stroke-width="0.9" />
<circle cx="1440.5" cy="687.0" r="5.5" fill="#a020f0" stroke="#222" stroke-width="0.9" />
<circle cx="1440.5" cy="703.0" r="5.5" fill="#a020f0" stroke="#222" stroke-width="0.9" />
<circle cx="1440.5" cy="695.0" r="5.5" fill="#000" stroke="#222" stroke-width="0.9" />
<circle cx="1440.5" cy="700.0" r="5.5" fill="#000" stroke="#222" stroke-width="0.9" />
<text x="1208.5" y="601.1" font-family="'Liberation Sans', Arial, sans-serif" font-size="27.00" fill="#e69500" text-anchor="middle" >**</text>
<text x="1335.5" y="626.5" font-family="Carlito, 'Liberation Sans', sans-serif" font-size="21.50" fill="#7b2cbf" text-anchor="middle" >ns</text>
<text x="1335.5" y="643.5" font-family="Carlito, 'Liberation Sans', sans-serif" font-size="21.50" fill="#e69500" text-anchor="middle" >ns</text>
<text x="1367.5" y="619.5" font-family="Carlito, 'Liberation Sans', sans-serif" font-size="21.50" fill="#7b2cbf" text-anchor="middle" >ns</text>
<text x="1367.5" y="636.5" font-family="Carlito, 'Liberation Sans', sans-serif" font-size="21.50" fill="#e69500" text-anchor="middle" >ns</text>
<text x="1440.5" y="627.5" font-family="Carlito, 'Liberation Sans', sans-serif" font-size="21.50" fill="#7b2cbf" text-anchor="middle" >ns</text>
<text x="1440.5" y="652.1" font-family="'Liberation Sans', Arial, sans-serif" font-size="27.00" fill="#e69500" text-anchor="middle" >*</text>
<line x1="1113.0" y1="872.1" x2="1459.0" y2="872.1" stroke="#f4f4f4" stroke-width="1" />
<line x1="1113.0" y1="841.2" x2="1459.0" y2="841.2" stroke="#f4f4f4" stroke-width="1" />
<line x1="1113.0" y1="810.3" x2="1459.0" y2="810.3" stroke="#f4f4f4" stroke-width="1" />
<line x1="1113.0" y1="779.4" x2="1459.0" y2="779.4" stroke="#f4f4f4" stroke-width="1" />
<line x1="1113.0" y1="748.5" x2="1459.0" y2="748.5" stroke="#f4f4f4" stroke-width="1" />
<line x1="1113.0" y1="733.0" x2="1459.0" y2="733.0" stroke="#e8e8e8" stroke-width="1.3" />
<line x1="1113.0" y1="763.9" x2="1459.0" y2="763.9" stroke="#e8e8e8" stroke-width="1.3" />
<line x1="1113.0" y1="794.8" x2="1459.0" y2="794.8" stroke="#e8e8e8" stroke-width="1.3" />
<line x1="1113.0" y1="825.8" x2="1459.0" y2="825.8" stroke="#e8e8e8" stroke-width="1.3" />
<line x1="1113.0" y1="856.7" x2="1459.0" y2="856.7" stroke="#e8e8e8" stroke-width="1.3" />
<line x1="1113.0" y1="887.6" x2="1459.0" y2="887.6" stroke="#e8e8e8" stroke-width="1.3" />
<line x1="1124.5" y1="725.5" x2="1124.5" y2="895.0" stroke="#ececec" stroke-width="1.3" />
<line x1="1177.2" y1="725.5" x2="1177.2" y2="895.0" stroke="#ececec" stroke-width="1.3" />
<line x1="1229.9" y1="725.5" x2="1229.9" y2="895.0" stroke="#ececec" stroke-width="1.3" />
<line x1="1282.6" y1="725.5" x2="1282.6" y2="895.0" stroke="#ececec" stroke-width="1.3" />
<line x1="1335.3" y1="725.5" x2="1335.3" y2="895.0" stroke="#ececec" stroke-width="1.3" />
<line x1="1388.0" y1="725.5" x2="1388.0" y2="895.0" stroke="#ececec" stroke-width="1.3" />
<line x1="1440.7" y1="725.5" x2="1440.7" y2="895.0" stroke="#ececec" stroke-width="1.3" />
<rect x="1119.0" y="725.5" width="11.0" height="169.5" fill="#d9d9d9" />
<rect x="1150.5" y="725.5" width="11.0" height="169.5" fill="#d9d9d9" />
<rect x="1203.0" y="725.5" width="11.0" height="169.5" fill="#d9d9d9" />
<rect x="1330.0" y="725.5" width="11.0" height="169.5" fill="#d9d9d9" />
<rect x="1362.0" y="725.5" width="11.0" height="169.5" fill="#d9d9d9" />
<rect x="1435.0" y="725.5" width="11.0" height="169.5" fill="#d9d9d9" />
<rect x="1107.5" y="731.4" width="5.5" height="3.2" fill="#111" />
<text x="1076.5" y="741.7" font-family="'Liberation Sans', Arial, sans-serif" font-size="24.40" fill="#111" >50</text>
<rect x="1107.5" y="762.3" width="5.5" height="3.2" fill="#111" />
<text x="1076.5" y="772.7" font-family="'Liberation Sans', Arial, sans-serif" font-size="24.40" fill="#111" >40</text>
<rect x="1107.5" y="793.2" width="5.5" height="3.2" fill="#111" />
<text x="1076.5" y="803.6" font-family="'Liberation Sans', Arial, sans-serif" font-size="24.40" fill="#111" >30</text>
<rect x="1107.5" y="824.2" width="5.5" height="3.2" fill="#111" />
<text x="1076.5" y="834.5" font-family="'Liberation Sans', Arial, sans-serif" font-size="24.40" fill="#111" >20</text>
<rect x="1107.5" y="855.1" width="5.5" height="3.2" fill="#111" />
<text x="1076.5" y="865.4" font-family="'Liberation Sans', Arial, sans-serif" font-size="24.40" fill="#111" >10</text>
<rect x="1107.5" y="886.0" width="5.5" height="3.2" fill="#111" />
<text x="1076.5" y="896.3" font-family="'Liberation Sans', Arial, sans-serif" font-size="24.40" fill="#111" >0</text>
<polyline points="1124.5,874.0 1156.0,882.0 1208.5,859.0 1335.5,811.0 1367.5,796.0 1440.5,812.0" fill="none" stroke="rgba(60,60,60,0.72)" stroke-width="4" stroke-linejoin="round" stroke-linecap="round" />
<polyline points="1156.0,874.0 1208.5,840.0 1335.5,784.0 1367.5,779.0 1440.5,842.0" fill="none" stroke="rgba(253,190,70,0.72)" stroke-width="4.5" stroke-linejoin="round" stroke-linecap="round" />
<polyline points="1335.5,770.0 1367.5,779.0 1440.5,808.0" fill="none" stroke="rgba(190,100,250,0.72)" stroke-width="4" stroke-linejoin="round" stroke-linecap="round" />
<circle cx="1124.5" cy="870.7" r="5.5" fill="#000" stroke="#222" stroke-width="0.9" />
<circle cx="1124.5" cy="877.0" r="5.5" fill="#000" stroke="#222" stroke-width="0.9" />
<circle cx="1156.0" cy="882.5" r="5.5" fill="#000" stroke="#222" stroke-width="0.9" />
<circle cx="1156.0" cy="874.0" r="5.5" fill="#f5a623" stroke="#222" stroke-width="0.9" />
<circle cx="1208.5" cy="828.6" r="5.5" fill="#f5a623" stroke="#222" stroke-width="0.9" />
<circle cx="1208.5" cy="835.6" r="5.5" fill="#f5a623" stroke="#222" stroke-width="0.9" />
<circle cx="1208.5" cy="843.6" r="5.5" fill="#f5a623" stroke="#222" stroke-width="0.9" />
<circle cx="1208.5" cy="846.8" r="5.5" fill="#f5a623" stroke="#222" stroke-width="0.9" />
<circle cx="1208.5" cy="853.0" r="5.5" fill="#000" stroke="#222" stroke-width="0.9" />
<circle cx="1208.5" cy="859.5" r="5.5" fill="#000" stroke="#222" stroke-width="0.9" />
<circle cx="1208.5" cy="865.0" r="5.5" fill="#000" stroke="#222" stroke-width="0.9" />
<circle cx="1335.5" cy="751.7" r="5.5" fill="#a020f0" stroke="#222" stroke-width="0.9" />
<circle cx="1335.5" cy="757.4" r="5.5" fill="#a020f0" stroke="#222" stroke-width="0.9" />
<circle cx="1335.5" cy="778.0" r="5.5" fill="#a020f0" stroke="#222" stroke-width="0.9" />
<circle cx="1335.5" cy="775.0" r="5.5" fill="#f5a623" stroke="#222" stroke-width="0.9" />
<circle cx="1335.5" cy="781.0" r="5.5" fill="#f5a623" stroke="#222" stroke-width="0.9" />
<circle cx="1335.5" cy="784.5" r="5.5" fill="#000" stroke="#222" stroke-width="0.9" />
<circle cx="1335.5" cy="792.0" r="5.5" fill="#000" stroke="#222" stroke-width="0.9" />
<circle cx="1335.5" cy="800.0" r="5.5" fill="#000" stroke="#222" stroke-width="0.9" />
<circle cx="1335.5" cy="806.0" r="5.5" fill="#000" stroke="#222" stroke-width="0.9" />
<circle cx="1335.5" cy="811.7" r="5.5" fill="#000" stroke="#222" stroke-width="0.9" />
<circle cx="1335.5" cy="821.0" r="5.5" fill="#000" stroke="#222" stroke-width="0.9" />
<circle cx="1367.5" cy="768.6" r="5.5" fill="#f5a623" stroke="#222" stroke-width="0.9" />
<circle cx="1367.5" cy="786.0" r="5.5" fill="#f5a623" stroke="#222" stroke-width="0.9" />
<circle cx="1367.5" cy="772.0" r="5.5" fill="#a020f0" stroke="#222" stroke-width="0.9" />
<circle cx="1367.5" cy="776.0" r="5.5" fill="#a020f0" stroke="#222" stroke-width="0.9" />
<circle cx="1367.5" cy="792.5" r="5.5" fill="#000" stroke="#222" stroke-width="0.9" />
<circle cx="1367.5" cy="826.0" r="5.5" fill="#000" stroke="#222" stroke-width="0.9" />
<circle cx="1440.5" cy="786.0" r="5.5" fill="#a020f0" stroke="#222" stroke-width="0.9" />
<circle cx="1440.5" cy="792.0" r="5.5" fill="#a020f0" stroke="#222" stroke-width="0.9" />
<circle cx="1440.5" cy="799.0" r="5.5" fill="#a020f0" stroke="#222" stroke-width="0.9" />
<circle cx="1440.5" cy="842.0" r="5.5" fill="#a020f0" stroke="#222" stroke-width="0.9" />
<circle cx="1440.5" cy="808.5" r="5.5" fill="#000" stroke="#222" stroke-width="0.9" />
<circle cx="1440.5" cy="829.0" r="5.5" fill="#f5a623" stroke="#222" stroke-width="0.9" />
<circle cx="1440.5" cy="848.0" r="5.5" fill="#f5a623" stroke="#222" stroke-width="0.9" />
<circle cx="1440.5" cy="861.0" r="5.5" fill="#f5a623" stroke="#222" stroke-width="0.9" />
<text x="1208.5" y="823.1" font-family="'Liberation Sans', Arial, sans-serif" font-size="27.00" fill="#e69500" text-anchor="middle" >*</text>
<text x="1335.5" y="737.1" font-family="'Liberation Sans', Arial, sans-serif" font-size="27.00" fill="#7b2cbf" text-anchor="middle" >**</text>
<text x="1335.5" y="743.5" font-family="Carlito, 'Liberation Sans', sans-serif" font-size="21.50" fill="#e69500" text-anchor="middle" >ns</text>
<text x="1367.5" y="739.5" font-family="Carlito, 'Liberation Sans', sans-serif" font-size="21.50" fill="#7b2cbf" text-anchor="middle" >ns</text>
<text x="1367.5" y="756.0" font-family="Carlito, 'Liberation Sans', sans-serif" font-size="21.50" fill="#e69500" text-anchor="middle" >ns</text>
<text x="1440.5" y="755.5" font-family="Carlito, 'Liberation Sans', sans-serif" font-size="21.50" fill="#7b2cbf" text-anchor="middle" >ns</text>
<text x="1440.5" y="776.5" font-family="Carlito, 'Liberation Sans', sans-serif" font-size="18.49" fill="#e69500" text-anchor="middle" >0.061</text>
<line x1="1520.0" y1="306.5" x2="1856.0" y2="306.5" stroke="#f4f4f4" stroke-width="1" />
<line x1="1520.0" y1="269.5" x2="1856.0" y2="269.5" stroke="#f4f4f4" stroke-width="1" />
<line x1="1520.0" y1="232.5" x2="1856.0" y2="232.5" stroke="#f4f4f4" stroke-width="1" />
<line x1="1520.0" y1="195.5" x2="1856.0" y2="195.5" stroke="#f4f4f4" stroke-width="1" />
<line x1="1520.0" y1="177.0" x2="1856.0" y2="177.0" stroke="#e8e8e8" stroke-width="1.3" />
<line x1="1520.0" y1="214.0" x2="1856.0" y2="214.0" stroke="#e8e8e8" stroke-width="1.3" />
<line x1="1520.0" y1="251.0" x2="1856.0" y2="251.0" stroke="#e8e8e8" stroke-width="1.3" />
<line x1="1520.0" y1="288.0" x2="1856.0" y2="288.0" stroke="#e8e8e8" stroke-width="1.3" />
<line x1="1520.0" y1="325.0" x2="1856.0" y2="325.0" stroke="#e8e8e8" stroke-width="1.3" />
<line x1="1535.0" y1="170.0" x2="1535.0" y2="340.0" stroke="#ececec" stroke-width="1.3" />
<line x1="1586.0" y1="170.0" x2="1586.0" y2="340.0" stroke="#ececec" stroke-width="1.3" />
<line x1="1637.0" y1="170.0" x2="1637.0" y2="340.0" stroke="#ececec" stroke-width="1.3" />
<line x1="1688.0" y1="170.0" x2="1688.0" y2="340.0" stroke="#ececec" stroke-width="1.3" />
<line x1="1739.0" y1="170.0" x2="1739.0" y2="340.0" stroke="#ececec" stroke-width="1.3" />
<line x1="1790.0" y1="170.0" x2="1790.0" y2="340.0" stroke="#ececec" stroke-width="1.3" />
<line x1="1841.0" y1="170.0" x2="1841.0" y2="340.0" stroke="#ececec" stroke-width="1.3" />
<rect x="1529.5" y="170.0" width="11.0" height="170.0" fill="#d9d9d9" />
<rect x="1559.5" y="170.0" width="11.0" height="170.0" fill="#d9d9d9" />
<rect x="1610.5" y="170.0" width="11.0" height="170.0" fill="#d9d9d9" />
<rect x="1733.0" y="170.0" width="11.0" height="170.0" fill="#d9d9d9" />
<rect x="1764.0" y="170.0" width="11.0" height="170.0" fill="#d9d9d9" />
<rect x="1835.0" y="170.0" width="11.0" height="170.0" fill="#d9d9d9" />
<rect x="1514.5" y="175.4" width="5.5" height="3.2" fill="#111" />
<text x="1471.0" y="185.7" font-family="'Liberation Sans', Arial, sans-serif" font-size="24.40" fill="#111" >500</text>
<rect x="1514.5" y="212.4" width="5.5" height="3.2" fill="#111" />
<text x="1471.0" y="222.7" font-family="'Liberation Sans', Arial, sans-serif" font-size="24.40" fill="#111" >400</text>
<rect x="1514.5" y="249.4" width="5.5" height="3.2" fill="#111" />
<text x="1471.0" y="259.7" font-family="'Liberation Sans', Arial, sans-serif" font-size="24.40" fill="#111" >300</text>
<rect x="1514.5" y="286.4" width="5.5" height="3.2" fill="#111" />
<text x="1471.0" y="296.7" font-family="'Liberation Sans', Arial, sans-serif" font-size="24.40" fill="#111" >200</text>
<rect x="1514.5" y="323.4" width="5.5" height="3.2" fill="#111" />
<text x="1471.0" y="333.7" font-family="'Liberation Sans', Arial, sans-serif" font-size="24.40" fill="#111" >100</text>
<polyline points="1535.0,327.0 1565.0,323.0 1616.0,236.0 1738.5,251.0 1769.5,240.0 1840.5,255.0" fill="none" stroke="rgba(60,60,60,0.72)" stroke-width="4" stroke-linejoin="round" stroke-linecap="round" />
<polyline points="1565.0,328.0 1616.0,267.0 1738.5,218.0 1769.5,206.0 1840.5,216.0" fill="none" stroke="rgba(253,190,70,0.72)" stroke-width="4.5" stroke-linejoin="round" stroke-linecap="round" />
<polyline points="1738.5,248.0 1769.5,232.0 1840.5,233.0" fill="none" stroke="rgba(190,100,250,0.72)" stroke-width="4" stroke-linejoin="round" stroke-linecap="round" />
<circle cx="1535.0" cy="327.0" r="5.5" fill="#000" stroke="#222" stroke-width="0.9" />
<circle cx="1565.0" cy="322.0" r="5.5" fill="#000" stroke="#222" stroke-width="0.9" />
<circle cx="1565.0" cy="328.5" r="5.5" fill="#f5a623" stroke="#222" stroke-width="0.9" />
<circle cx="1616.0" cy="231.4" r="5.5" fill="#000" stroke="#222" stroke-width="0.9" />
<circle cx="1616.0" cy="238.0" r="5.5" fill="#000" stroke="#222" stroke-width="0.9" />
<circle cx="1616.0" cy="263.8" r="5.5" fill="#f5a623" stroke="#222" stroke-width="0.9" />
<circle cx="1616.0" cy="270.0" r="5.5" fill="#f5a623" stroke="#222" stroke-width="0.9" />
<circle cx="1738.5" cy="215.0" r="5.5" fill="#f5a623" stroke="#222" stroke-width="0.9" />
<circle cx="1738.5" cy="223.0" r="5.5" fill="#f5a623" stroke="#222" stroke-width="0.9" />
<circle cx="1738.5" cy="234.6" r="5.5" fill="#a020f0" stroke="#222" stroke-width="0.9" />
<circle cx="1738.5" cy="241.0" r="5.5" fill="#a020f0" stroke="#222" stroke-width="0.9" />
<circle cx="1738.5" cy="249.0" r="5.5" fill="#a020f0" stroke="#222" stroke-width="0.9" />
<circle cx="1738.5" cy="256.0" r="5.5" fill="#a020f0" stroke="#222" stroke-width="0.9" />
<circle cx="1738.5" cy="252.0" r="5.5" fill="#000" stroke="#222" stroke-width="0.9" />
<circle cx="1738.5" cy="259.0" r="5.5" fill="#000" stroke="#222" stroke-width="0.9" />
<circle cx="1769.5" cy="200.6" r="5.5" fill="#f5a623" stroke="#222" stroke-width="0.9" />
<circle cx="1769.5" cy="207.0" r="5.5" fill="#f5a623" stroke="#222" stroke-width="0.9" />
<circle cx="1769.5" cy="213.6" r="5.5" fill="#f5a623" stroke="#222" stroke-width="0.9" />
<circle cx="1769.5" cy="223.0" r="5.5" fill="#a020f0" stroke="#222" stroke-width="0.9" />
<circle cx="1769.5" cy="233.0" r="5.5" fill="#a020f0" stroke="#222" stroke-width="0.9" />
<circle cx="1769.5" cy="239.5" r="5.5" fill="#000" stroke="#222" stroke-width="0.9" />
<circle cx="1769.5" cy="247.6" r="5.5" fill="#000" stroke="#222" stroke-width="0.9" />
<circle cx="1840.5" cy="207.0" r="5.5" fill="#f5a623" stroke="#222" stroke-width="0.9" />
<circle cx="1840.5" cy="215.0" r="5.5" fill="#f5a623" stroke="#222" stroke-width="0.9" />
<circle cx="1840.5" cy="225.0" r="5.5" fill="#f5a623" stroke="#222" stroke-width="0.9" />
<circle cx="1840.5" cy="239.5" r="5.5" fill="#a020f0" stroke="#222" stroke-width="0.9" />
<circle cx="1840.5" cy="246.0" r="5.5" fill="#a020f0" stroke="#222" stroke-width="0.9" />
<circle cx="1840.5" cy="259.0" r="5.5" fill="#000" stroke="#222" stroke-width="0.9" />
<circle cx="1840.5" cy="265.0" r="5.5" fill="#000" stroke="#222" stroke-width="0.9" />
<text x="1616.0" y="230.1" font-family="'Liberation Sans', Arial, sans-serif" font-size="27.00" fill="#e69500" text-anchor="middle" >****</text>
<text x="1738.5" y="190.9" font-family="Carlito, 'Liberation Sans', sans-serif" font-size="21.50" fill="#7b2cbf" text-anchor="middle" >ns</text>
<text x="1726.5" y="215.1" font-family="'Liberation Sans', Arial, sans-serif" font-size="27.00" fill="#e69500" text-anchor="middle" >****</text>
<text x="1769.5" y="179.4" font-family="Carlito, 'Liberation Sans', sans-serif" font-size="21.50" fill="#7b2cbf" text-anchor="middle" >ns</text>
<text x="1769.5" y="202.1" font-family="'Liberation Sans', Arial, sans-serif" font-size="27.00" fill="#e69500" text-anchor="middle" >***</text>
<text x="1840.5" y="193.1" font-family="'Liberation Sans', Arial, sans-serif" font-size="27.00" fill="#7b2cbf" text-anchor="middle" >**</text>
<text x="1840.5" y="208.6" font-family="'Liberation Sans', Arial, sans-serif" font-size="27.00" fill="#e69500" text-anchor="middle" >***</text>
<line x1="1520.0" y1="491.2" x2="1856.0" y2="491.2" stroke="#f4f4f4" stroke-width="1" />
<line x1="1520.0" y1="439.5" x2="1856.0" y2="439.5" stroke="#f4f4f4" stroke-width="1" />
<line x1="1520.0" y1="387.8" x2="1856.0" y2="387.8" stroke="#f4f4f4" stroke-width="1" />
<line x1="1520.0" y1="362.0" x2="1856.0" y2="362.0" stroke="#e8e8e8" stroke-width="1.3" />
<line x1="1520.0" y1="413.7" x2="1856.0" y2="413.7" stroke="#e8e8e8" stroke-width="1.3" />
<line x1="1520.0" y1="465.3" x2="1856.0" y2="465.3" stroke="#e8e8e8" stroke-width="1.3" />
<line x1="1520.0" y1="517.0" x2="1856.0" y2="517.0" stroke="#e8e8e8" stroke-width="1.3" />
<line x1="1535.0" y1="354.0" x2="1535.0" y2="525.0" stroke="#ececec" stroke-width="1.3" />
<line x1="1586.0" y1="354.0" x2="1586.0" y2="525.0" stroke="#ececec" stroke-width="1.3" />
<line x1="1637.0" y1="354.0" x2="1637.0" y2="525.0" stroke="#ececec" stroke-width="1.3" />
<line x1="1688.0" y1="354.0" x2="1688.0" y2="525.0" stroke="#ececec" stroke-width="1.3" />
<line x1="1739.0" y1="354.0" x2="1739.0" y2="525.0" stroke="#ececec" stroke-width="1.3" />
<line x1="1790.0" y1="354.0" x2="1790.0" y2="525.0" stroke="#ececec" stroke-width="1.3" />
<line x1="1841.0" y1="354.0" x2="1841.0" y2="525.0" stroke="#ececec" stroke-width="1.3" />
<rect x="1529.5" y="354.0" width="11.0" height="171.0" fill="#d9d9d9" />
<rect x="1559.5" y="354.0" width="11.0" height="171.0" fill="#d9d9d9" />
<rect x="1610.5" y="354.0" width="11.0" height="171.0" fill="#d9d9d9" />
<rect x="1733.0" y="354.0" width="11.0" height="171.0" fill="#d9d9d9" />
<rect x="1764.0" y="354.0" width="11.0" height="171.0" fill="#d9d9d9" />
<rect x="1835.0" y="354.0" width="11.0" height="171.0" fill="#d9d9d9" />
<rect x="1514.5" y="360.4" width="5.5" height="3.2" fill="#111" />
<text x="1471.0" y="370.7" font-family="'Liberation Sans', Arial, sans-serif" font-size="24.40" fill="#111" >600</text>
<rect x="1514.5" y="412.1" width="5.5" height="3.2" fill="#111" />
<text x="1471.0" y="422.4" font-family="'Liberation Sans', Arial, sans-serif" font-size="24.40" fill="#111" >400</text>
<rect x="1514.5" y="463.7" width="5.5" height="3.2" fill="#111" />
<text x="1471.0" y="474.1" font-family="'Liberation Sans', Arial, sans-serif" font-size="24.40" fill="#111" >200</text>
<rect x="1514.5" y="515.4" width="5.5" height="3.2" fill="#111" />
<text x="1471.0" y="525.7" font-family="'Liberation Sans', Arial, sans-serif" font-size="24.40" fill="#111" >0</text>
<polyline points="1535.0,513.0 1565.0,514.0 1616.0,447.0 1738.5,433.0 1769.5,427.0 1840.5,434.0" fill="none" stroke="rgba(60,60,60,0.72)" stroke-width="4" stroke-linejoin="round" stroke-linecap="round" />
<polyline points="1565.0,514.0 1616.0,476.0 1738.5,401.0 1769.5,392.0 1840.5,425.0" fill="none" stroke="rgba(253,190,70,0.72)" stroke-width="4.5" stroke-linejoin="round" stroke-linecap="round" />
<polyline points="1738.5,414.0 1769.5,408.0 1840.5,412.0" fill="none" stroke="rgba(190,100,250,0.72)" stroke-width="4" stroke-linejoin="round" stroke-linecap="round" />
<circle cx="1535.0" cy="513.0" r="5.5" fill="#000" stroke="#222" stroke-width="0.9" />
<circle cx="1565.0" cy="513.0" r="5.5" fill="#f5a623" stroke="#222" stroke-width="0.9" />
<circle cx="1616.0" cy="440.0" r="5.5" fill="#000" stroke="#222" stroke-width="0.9" />
<circle cx="1616.0" cy="449.7" r="5.5" fill="#000" stroke="#222" stroke-width="0.9" />
<circle cx="1616.0" cy="456.0" r="5.5" fill="#000" stroke="#222" stroke-width="0.9" />
<circle cx="1616.0" cy="472.0" r="5.5" fill="#f5a623" stroke="#222" stroke-width="0.9" />
<circle cx="1616.0" cy="477.0" r="5.5" fill="#f5a623" stroke="#222" stroke-width="0.9" />
<circle cx="1616.0" cy="482.0" r="5.5" fill="#f5a623" stroke="#222" stroke-width="0.9" />
<circle cx="1738.5" cy="391.5" r="5.5" fill="#f5a623" stroke="#222" stroke-width="0.9" />
<circle cx="1738.5" cy="396.0" r="5.5" fill="#f5a623" stroke="#222" stroke-width="0.9" />
<circle cx="1738.5" cy="401.0" r="5.5" fill="#f5a623" stroke="#222" stroke-width="0.9" />
<circle cx="1738.5" cy="411.0" r="5.5" fill="#a020f0" stroke="#222" stroke-width="0.9" />
<circle cx="1738.5" cy="416.0" r="5.5" fill="#a020f0" stroke="#222" stroke-width="0.9" />
<circle cx="1738.5" cy="420.6" r="5.5" fill="#a020f0" stroke="#222" stroke-width="0.9" />
<circle cx="1738.5" cy="432.0" r="5.5" fill="#000" stroke="#222" stroke-width="0.9" />
<circle cx="1738.5" cy="440.0" r="5.5" fill="#000" stroke="#222" stroke-width="0.9" />
<circle cx="1769.5" cy="385.0" r="5.5" fill="#f5a623" stroke="#222" stroke-width="0.9" />
<circle cx="1769.5" cy="390.0" r="5.5" fill="#f5a623" stroke="#222" stroke-width="0.9" />
<circle cx="1769.5" cy="398.0" r="5.5" fill="#f5a623" stroke="#222" stroke-width="0.9" />
<circle cx="1769.5" cy="409.0" r="5.5" fill="#a020f0" stroke="#222" stroke-width="0.9" />
<circle cx="1769.5" cy="413.0" r="5.5" fill="#a020f0" stroke="#222" stroke-width="0.9" />
<circle cx="1769.5" cy="424.0" r="5.5" fill="#000" stroke="#222" stroke-width="0.9" />
<circle cx="1769.5" cy="430.0" r="5.5" fill="#000" stroke="#222" stroke-width="0.9" />
<circle cx="1840.5" cy="409.0" r="5.5" fill="#a020f0" stroke="#222" stroke-width="0.9" />
<circle cx="1840.5" cy="419.0" r="5.5" fill="#a020f0" stroke="#222" stroke-width="0.9" />
<circle cx="1840.5" cy="430.0" r="5.5" fill="#000" stroke="#222" stroke-width="0.9" />
<circle cx="1840.5" cy="435.0" r="5.5" fill="#000" stroke="#222" stroke-width="0.9" />
<circle cx="1840.5" cy="427.0" r="5.5" fill="#f5a623" stroke="#222" stroke-width="0.9" />
<text x="1616.0" y="439.1" font-family="'Liberation Sans', Arial, sans-serif" font-size="27.00" fill="#e69500" text-anchor="middle" >***</text>
<text x="1720.0" y="377.1" font-family="'Liberation Sans', Arial, sans-serif" font-size="27.00" fill="#7b2cbf" text-anchor="middle" >****</text>
<text x="1720.0" y="392.1" font-family="'Liberation Sans', Arial, sans-serif" font-size="27.00" fill="#e69500" text-anchor="middle" >****</text>
<text x="1767.5" y="373.6" font-family="'Liberation Sans', Arial, sans-serif" font-size="27.00" fill="#7b2cbf" text-anchor="middle" >**</text>
<text x="1779.0" y="387.1" font-family="'Liberation Sans', Arial, sans-serif" font-size="27.00" fill="#e69500" text-anchor="middle" >****</text>
<text x="1840.5" y="393.6" font-family="'Liberation Sans', Arial, sans-serif" font-size="27.00" fill="#7b2cbf" text-anchor="middle" >****</text>
<text x="1840.5" y="408.1" font-family="'Liberation Sans', Arial, sans-serif" font-size="27.00" fill="#e69500" text-anchor="middle" >*</text>
<line x1="1520.0" y1="708.1" x2="1856.0" y2="708.1" stroke="#f4f4f4" stroke-width="1" />
<line x1="1520.0" y1="671.9" x2="1856.0" y2="671.9" stroke="#f4f4f4" stroke-width="1" />
<line x1="1520.0" y1="635.6" x2="1856.0" y2="635.6" stroke="#f4f4f4" stroke-width="1" />
<line x1="1520.0" y1="599.4" x2="1856.0" y2="599.4" stroke="#f4f4f4" stroke-width="1" />
<line x1="1520.0" y1="563.1" x2="1856.0" y2="563.1" stroke="#f4f4f4" stroke-width="1" />
<line x1="1520.0" y1="545.0" x2="1856.0" y2="545.0" stroke="#e8e8e8" stroke-width="1.3" />
<line x1="1520.0" y1="581.2" x2="1856.0" y2="581.2" stroke="#e8e8e8" stroke-width="1.3" />
<line x1="1520.0" y1="617.5" x2="1856.0" y2="617.5" stroke="#e8e8e8" stroke-width="1.3" />
<line x1="1520.0" y1="653.8" x2="1856.0" y2="653.8" stroke="#e8e8e8" stroke-width="1.3" />
<line x1="1520.0" y1="690.0" x2="1856.0" y2="690.0" stroke="#e8e8e8" stroke-width="1.3" />
<line x1="1535.0" y1="539.0" x2="1535.0" y2="709.0" stroke="#ececec" stroke-width="1.3" />
<line x1="1586.0" y1="539.0" x2="1586.0" y2="709.0" stroke="#ececec" stroke-width="1.3" />
<line x1="1637.0" y1="539.0" x2="1637.0" y2="709.0" stroke="#ececec" stroke-width="1.3" />
<line x1="1688.0" y1="539.0" x2="1688.0" y2="709.0" stroke="#ececec" stroke-width="1.3" />
<line x1="1739.0" y1="539.0" x2="1739.0" y2="709.0" stroke="#ececec" stroke-width="1.3" />
<line x1="1790.0" y1="539.0" x2="1790.0" y2="709.0" stroke="#ececec" stroke-width="1.3" />
<line x1="1841.0" y1="539.0" x2="1841.0" y2="709.0" stroke="#ececec" stroke-width="1.3" />
<rect x="1529.5" y="539.0" width="11.0" height="170.0" fill="#d9d9d9" />
<rect x="1559.5" y="539.0" width="11.0" height="170.0" fill="#d9d9d9" />
<rect x="1610.5" y="539.0" width="11.0" height="170.0" fill="#d9d9d9" />
<rect x="1733.0" y="539.0" width="11.0" height="170.0" fill="#d9d9d9" />
<rect x="1764.0" y="539.0" width="11.0" height="170.0" fill="#d9d9d9" />
<rect x="1835.0" y="539.0" width="11.0" height="170.0" fill="#d9d9d9" />
<rect x="1514.5" y="543.4" width="5.5" height="3.2" fill="#111" />
<text x="1471.0" y="553.7" font-family="'Liberation Sans', Arial, sans-serif" font-size="24.40" fill="#111" >250</text>
<rect x="1514.5" y="579.6" width="5.5" height="3.2" fill="#111" />
<text x="1471.0" y="590.0" font-family="'Liberation Sans', Arial, sans-serif" font-size="24.40" fill="#111" >200</text>
<rect x="1514.5" y="615.9" width="5.5" height="3.2" fill="#111" />
<text x="1471.0" y="626.2" font-family="'Liberation Sans', Arial, sans-serif" font-size="24.40" fill="#111" >150</text>
<rect x="1514.5" y="652.1" width="5.5" height="3.2" fill="#111" />
<text x="1471.0" y="662.5" font-family="'Liberation Sans', Arial, sans-serif" font-size="24.40" fill="#111" >100</text>
<rect x="1514.5" y="688.4" width="5.5" height="3.2" fill="#111" />
<text x="1471.0" y="698.7" font-family="'Liberation Sans', Arial, sans-serif" font-size="24.40" fill="#111" >50</text>
<polyline points="1535.0,667.0 1565.0,661.0 1616.0,648.0 1738.5,667.0 1769.5,648.0 1840.5,688.0" fill="none" stroke="rgba(60,60,60,0.72)" stroke-width="4" stroke-linejoin="round" stroke-linecap="round" />
<polyline points="1565.0,668.0 1616.0,618.0 1738.5,625.0 1769.5,604.0 1840.5,652.0" fill="none" stroke="rgba(253,190,70,0.72)" stroke-width="4.5" stroke-linejoin="round" stroke-linecap="round" />
<polyline points="1738.5,662.0 1769.5,638.0 1840.5,681.0" fill="none" stroke="rgba(190,100,250,0.72)" stroke-width="4" stroke-linejoin="round" stroke-linecap="round" />
<circle cx="1535.0" cy="666.6" r="5.5" fill="#000" stroke="#222" stroke-width="0.9" />
<circle cx="1565.0" cy="660.0" r="5.5" fill="#000" stroke="#222" stroke-width="0.9" />
<circle cx="1565.0" cy="671.4" r="5.5" fill="#f5a623" stroke="#222" stroke-width="0.9" />
<circle cx="1616.0" cy="605.0" r="5.5" fill="#f5a623" stroke="#222" stroke-width="0.9" />
<circle cx="1616.0" cy="612.0" r="5.5" fill="#f5a623" stroke="#222" stroke-width="0.9" />
<circle cx="1616.0" cy="620.0" r="5.5" fill="#f5a623" stroke="#222" stroke-width="0.9" />
<circle cx="1616.0" cy="631.0" r="5.5" fill="#f5a623" stroke="#222" stroke-width="0.9" />
<circle cx="1616.0" cy="639.0" r="5.5" fill="#000" stroke="#222" stroke-width="0.9" />
<circle cx="1616.0" cy="666.6" r="5.5" fill="#000" stroke="#222" stroke-width="0.9" />
<circle cx="1738.5" cy="602.0" r="5.5" fill="#f5a623" stroke="#222" stroke-width="0.9" />
<circle cx="1738.5" cy="610.0" r="5.5" fill="#f5a623" stroke="#222" stroke-width="0.9" />
<circle cx="1738.5" cy="640.7" r="5.5" fill="#f5a623" stroke="#222" stroke-width="0.9" />
<circle cx="1738.5" cy="648.8" r="5.5" fill="#a020f0" stroke="#222" stroke-width="0.9" />
<circle cx="1738.5" cy="656.0" r="5.5" fill="#a020f0" stroke="#222" stroke-width="0.9" />
<circle cx="1738.5" cy="665.0" r="5.5" fill="#a020f0" stroke="#222" stroke-width="0.9" />
<circle cx="1738.5" cy="673.0" r="5.5" fill="#a020f0" stroke="#222" stroke-width="0.9" />
<circle cx="1738.5" cy="688.6" r="5.5" fill="#000" stroke="#222" stroke-width="0.9" />
<circle cx="1769.5" cy="574.0" r="5.5" fill="#f5a623" stroke="#222" stroke-width="0.9" />
<circle cx="1769.5" cy="592.8" r="5.5" fill="#f5a623" stroke="#222" stroke-width="0.9" />
<circle cx="1769.5" cy="621.0" r="5.5" fill="#f5a623" stroke="#222" stroke-width="0.9" />
<circle cx="1769.5" cy="637.4" r="5.5" fill="#a020f0" stroke="#222" stroke-width="0.9" />
<circle cx="1769.5" cy="647.0" r="5.5" fill="#a020f0" stroke="#222" stroke-width="0.9" />
<circle cx="1769.5" cy="650.0" r="5.5" fill="#000" stroke="#222" stroke-width="0.9" />
<circle cx="1840.5" cy="624.5" r="5.5" fill="#f5a623" stroke="#222" stroke-width="0.9" />
<circle cx="1840.5" cy="658.5" r="5.5" fill="#f5a623" stroke="#222" stroke-width="0.9" />
<circle cx="1840.5" cy="666.6" r="5.5" fill="#a020f0" stroke="#222" stroke-width="0.9" />
<circle cx="1840.5" cy="682.8" r="5.5" fill="#000" stroke="#222" stroke-width="0.9" />
<circle cx="1840.5" cy="700.6" r="5.5" fill="#000" stroke="#222" stroke-width="0.9" />
<text x="1616.0" y="602.1" font-family="'Liberation Sans', Arial, sans-serif" font-size="27.00" fill="#e69500" text-anchor="middle" >*</text>
<text x="1738.5" y="571.1" font-family="Carlito, 'Liberation Sans', sans-serif" font-size="21.50" fill="#7b2cbf" text-anchor="middle" >ns</text>
<text x="1738.5" y="600.7" font-family="'Liberation Sans', Arial, sans-serif" font-size="27.00" fill="#e69500" text-anchor="middle" >**</text>
<text x="1769.5" y="546.5" font-family="Carlito, 'Liberation Sans', sans-serif" font-size="21.50" fill="#7b2cbf" text-anchor="middle" >ns</text>
<text x="1769.5" y="574.9" font-family="'Liberation Sans', Arial, sans-serif" font-size="27.00" fill="#e69500" text-anchor="middle" >*</text>
<text x="1840.5" y="598.5" font-family="Carlito, 'Liberation Sans', sans-serif" font-size="21.50" fill="#7b2cbf" text-anchor="middle" >ns</text>
<text x="1840.5" y="625.1" font-family="'Liberation Sans', Arial, sans-serif" font-size="27.00" fill="#e69500" text-anchor="middle" >**</text>
<line x1="1520.0" y1="862.0" x2="1856.0" y2="862.0" stroke="#f4f4f4" stroke-width="1" />
<line x1="1520.0" y1="810.0" x2="1856.0" y2="810.0" stroke="#f4f4f4" stroke-width="1" />
<line x1="1520.0" y1="758.0" x2="1856.0" y2="758.0" stroke="#f4f4f4" stroke-width="1" />
<line x1="1520.0" y1="732.0" x2="1856.0" y2="732.0" stroke="#e8e8e8" stroke-width="1.3" />
<line x1="1520.0" y1="784.0" x2="1856.0" y2="784.0" stroke="#e8e8e8" stroke-width="1.3" />
<line x1="1520.0" y1="836.0" x2="1856.0" y2="836.0" stroke="#e8e8e8" stroke-width="1.3" />
<line x1="1520.0" y1="888.0" x2="1856.0" y2="888.0" stroke="#e8e8e8" stroke-width="1.3" />
<line x1="1535.0" y1="726.0" x2="1535.0" y2="896.0" stroke="#ececec" stroke-width="1.3" />
<line x1="1586.0" y1="726.0" x2="1586.0" y2="896.0" stroke="#ececec" stroke-width="1.3" />
<line x1="1637.0" y1="726.0" x2="1637.0" y2="896.0" stroke="#ececec" stroke-width="1.3" />
<line x1="1688.0" y1="726.0" x2="1688.0" y2="896.0" stroke="#ececec" stroke-width="1.3" />
<line x1="1739.0" y1="726.0" x2="1739.0" y2="896.0" stroke="#ececec" stroke-width="1.3" />
<line x1="1790.0" y1="726.0" x2="1790.0" y2="896.0" stroke="#ececec" stroke-width="1.3" />
<line x1="1841.0" y1="726.0" x2="1841.0" y2="896.0" stroke="#ececec" stroke-width="1.3" />
<rect x="1529.5" y="726.0" width="11.0" height="170.0" fill="#d9d9d9" />
<rect x="1559.5" y="726.0" width="11.0" height="170.0" fill="#d9d9d9" />
<rect x="1610.5" y="726.0" width="11.0" height="170.0" fill="#d9d9d9" />
<rect x="1733.0" y="726.0" width="11.0" height="170.0" fill="#d9d9d9" />
<rect x="1764.0" y="726.0" width="11.0" height="170.0" fill="#d9d9d9" />
<rect x="1835.0" y="726.0" width="11.0" height="170.0" fill="#d9d9d9" />
<rect x="1514.5" y="730.4" width="5.5" height="3.2" fill="#111" />
<text x="1471.0" y="740.7" font-family="'Liberation Sans', Arial, sans-serif" font-size="24.40" fill="#111" >300</text>
<rect x="1514.5" y="782.4" width="5.5" height="3.2" fill="#111" />
<text x="1471.0" y="792.7" font-family="'Liberation Sans', Arial, sans-serif" font-size="24.40" fill="#111" >200</text>
<rect x="1514.5" y="834.4" width="5.5" height="3.2" fill="#111" />
<text x="1471.0" y="844.7" font-family="'Liberation Sans', Arial, sans-serif" font-size="24.40" fill="#111" >100</text>
<rect x="1514.5" y="886.4" width="5.5" height="3.2" fill="#111" />
<text x="1471.0" y="896.7" font-family="'Liberation Sans', Arial, sans-serif" font-size="24.40" fill="#111" >0</text>
<polyline points="1535.0,886.0 1565.0,887.0 1616.0,869.0 1738.5,829.0 1769.5,817.0 1840.5,840.0" fill="none" stroke="rgba(60,60,60,0.72)" stroke-width="4" stroke-linejoin="round" stroke-linecap="round" />
<polyline points="1565.0,887.0 1616.0,860.0 1738.5,786.0 1769.5,772.0 1840.5,860.0" fill="none" stroke="rgba(253,190,70,0.72)" stroke-width="4.5" stroke-linejoin="round" stroke-linecap="round" />
<polyline points="1738.5,795.0 1769.5,792.0 1840.5,826.0" fill="none" stroke="rgba(190,100,250,0.72)" stroke-width="4" stroke-linejoin="round" stroke-linecap="round" />
<circle cx="1535.0" cy="886.0" r="5.5" fill="#000" stroke="#222" stroke-width="0.9" />
<circle cx="1565.0" cy="886.0" r="5.5" fill="#f5a623" stroke="#222" stroke-width="0.9" />
<circle cx="1616.0" cy="858.6" r="5.5" fill="#f5a623" stroke="#222" stroke-width="0.9" />
<circle cx="1616.0" cy="861.8" r="5.5" fill="#f5a623" stroke="#222" stroke-width="0.9" />
<circle cx="1616.0" cy="868.0" r="5.5" fill="#000" stroke="#222" stroke-width="0.9" />
<circle cx="1616.0" cy="874.8" r="5.5" fill="#000" stroke="#222" stroke-width="0.9" />
<circle cx="1738.5" cy="776.0" r="5.5" fill="#a020f0" stroke="#222" stroke-width="0.9" />
<circle cx="1738.5" cy="782.5" r="5.5" fill="#a020f0" stroke="#222" stroke-width="0.9" />
<circle cx="1738.5" cy="797.0" r="5.5" fill="#a020f0" stroke="#222" stroke-width="0.9" />
<circle cx="1738.5" cy="806.8" r="5.5" fill="#a020f0" stroke="#222" stroke-width="0.9" />
<circle cx="1738.5" cy="787.0" r="5.5" fill="#f5a623" stroke="#222" stroke-width="0.9" />
<circle cx="1738.5" cy="815.0" r="5.5" fill="#000" stroke="#222" stroke-width="0.9" />
<circle cx="1738.5" cy="824.0" r="5.5" fill="#000" stroke="#222" stroke-width="0.9" />
<circle cx="1738.5" cy="833.0" r="5.5" fill="#000" stroke="#222" stroke-width="0.9" />
<circle cx="1738.5" cy="842.0" r="5.5" fill="#000" stroke="#222" stroke-width="0.9" />
<circle cx="1769.5" cy="760.0" r="5.5" fill="#f5a623" stroke="#222" stroke-width="0.9" />
<circle cx="1769.5" cy="768.0" r="5.5" fill="#f5a623" stroke="#222" stroke-width="0.9" />
<circle cx="1769.5" cy="777.7" r="5.5" fill="#f5a623" stroke="#222" stroke-width="0.9" />
<circle cx="1769.5" cy="785.8" r="5.5" fill="#a020f0" stroke="#222" stroke-width="0.9" />
<circle cx="1769.5" cy="792.0" r="5.5" fill="#a020f0" stroke="#222" stroke-width="0.9" />
<circle cx="1769.5" cy="803.6" r="5.5" fill="#000" stroke="#222" stroke-width="0.9" />
<circle cx="1769.5" cy="811.7" r="5.5" fill="#000" stroke="#222" stroke-width="0.9" />
<circle cx="1769.5" cy="840.8" r="5.5" fill="#000" stroke="#222" stroke-width="0.9" />
<circle cx="1840.5" cy="811.7" r="5.5" fill="#a020f0" stroke="#222" stroke-width="0.9" />
<circle cx="1840.5" cy="819.7" r="5.5" fill="#a020f0" stroke="#222" stroke-width="0.9" />
<circle cx="1840.5" cy="831.0" r="5.5" fill="#000" stroke="#222" stroke-width="0.9" />
<circle cx="1840.5" cy="836.0" r="5.5" fill="#000" stroke="#222" stroke-width="0.9" />
<circle cx="1840.5" cy="845.6" r="5.5" fill="#f5a623" stroke="#222" stroke-width="0.9" />
<circle cx="1840.5" cy="860.0" r="5.5" fill="#f5a623" stroke="#222" stroke-width="0.9" />
<circle cx="1840.5" cy="868.0" r="5.5" fill="#f5a623" stroke="#222" stroke-width="0.9" />
<text x="1616.0" y="840.5" font-family="Carlito, 'Liberation Sans', sans-serif" font-size="18.49" fill="#e69500" text-anchor="middle" >0.093</text>
<text x="1731.0" y="765.1" font-family="'Liberation Sans', Arial, sans-serif" font-size="27.00" fill="#7b2cbf" text-anchor="middle" >****</text>
<text x="1731.0" y="778.1" font-family="'Liberation Sans', Arial, sans-serif" font-size="27.00" fill="#e69500" text-anchor="middle" >****</text>
<text x="1769.5" y="744.1" font-family="'Liberation Sans', Arial, sans-serif" font-size="27.00" fill="#7b2cbf" text-anchor="middle" >*</text>
<text x="1769.5" y="757.1" font-family="'Liberation Sans', Arial, sans-serif" font-size="27.00" fill="#e69500" text-anchor="middle" >***</text>
<text x="1840.5" y="780.5" font-family="Carlito, 'Liberation Sans', sans-serif" font-size="21.50" fill="#7b2cbf" text-anchor="middle" >ns</text>
<text x="1840.5" y="797.1" font-family="Carlito, 'Liberation Sans', sans-serif" font-size="21.50" fill="#e69500" text-anchor="middle" >ns</text>
<text x="1863.0" y="252.0" font-family="Carlito, 'Liberation Sans', sans-serif" font-size="21.00" fill="#111" textLength="105.0" lengthAdjust="spacingAndGlyphs" >Treatment</text>
<circle cx="1871.0" cy="268.0" r="10.0" fill="#000" />
<circle cx="1871.0" cy="292.0" r="10.0" fill="#b65cf0" stroke="#333" stroke-width="1" />
<circle cx="1871.0" cy="316.0" r="10.0" fill="#f9a040" stroke="#333" stroke-width="1" />
<text x="1887.0" y="276.0" font-family="Carlito, 'Liberation Sans', sans-serif" font-size="21.00" fill="#111" textLength="35.0" lengthAdjust="spacingAndGlyphs" >Ctrl</text>
<text x="1887.0" y="300.0" font-family="Carlito, 'Liberation Sans', sans-serif" font-size="21.00" fill="#111" textLength="111.0" lengthAdjust="spacingAndGlyphs" >vitd3+dexa</text>
<text x="1887.0" y="324.0" font-family="Carlito, 'Liberation Sans', sans-serif" font-size="21.00" fill="#111" textLength="51.0" lengthAdjust="spacingAndGlyphs" >vitd3</text>
<text x="1121.0" y="925.0" font-family="Carlito, 'Liberation Sans', sans-serif" font-size="27.00" fill="#333" font-weight="bold" textLength="16.0" lengthAdjust="spacingAndGlyphs" >0</text>
<text x="1152.0" y="925.0" font-family="Carlito, 'Liberation Sans', sans-serif" font-size="27.00" fill="#333" font-weight="bold" textLength="15.0" lengthAdjust="spacingAndGlyphs" >4</text>
<text x="1193.0" y="925.0" font-family="Carlito, 'Liberation Sans', sans-serif" font-size="27.00" fill="#333" font-weight="bold" textLength="29.0" lengthAdjust="spacingAndGlyphs" >24</text>
<text x="1312.0" y="922.0" font-family="Carlito, 'Liberation Sans', sans-serif" font-size="22.00" fill="#333" font-weight="bold" textLength="34.0" lengthAdjust="spacingAndGlyphs" >iDC</text>
<text x="1357.0" y="922.0" font-family="Carlito, 'Liberation Sans', sans-serif" font-size="22.00" fill="#333" font-weight="bold" textLength="57.0" lengthAdjust="spacingAndGlyphs" >actDC</text>
<text x="1427.0" y="922.0" font-family="Carlito, 'Liberation Sans', sans-serif" font-size="22.00" fill="#333" font-weight="bold" textLength="49.0" lengthAdjust="spacingAndGlyphs" >mDC</text>
<line x1="1120.0" y1="931.0" x2="1267.0" y2="931.0" stroke="#b3b3b3" stroke-width="2.5" />
<line x1="1316.0" y1="932.0" x2="1444.0" y2="932.0" stroke="#666" stroke-width="2.5" />
<text x="1120.0" y="956.0" font-family="Carlito, 'Liberation Sans', sans-serif" font-size="22.00" fill="#aaaaaa" textLength="84.0" lengthAdjust="spacingAndGlyphs" >GM-CSF</text>
<text x="1121.0" y="978.0" font-family="Carlito, 'Liberation Sans', sans-serif" font-size="22.00" fill="#aaaaaa" textLength="28.0" lengthAdjust="spacingAndGlyphs" >IL4</text>
<text x="1317.0" y="956.0" font-family="Carlito, 'Liberation Sans', sans-serif" font-size="22.00" fill="#7f7f7f" textLength="35.0" lengthAdjust="spacingAndGlyphs" >LPS</text>
<text x="1317.0" y="978.0" font-family="Carlito, 'Liberation Sans', sans-serif" font-size="22.00" fill="#7f7f7f" textLength="46.0" lengthAdjust="spacingAndGlyphs" >IFNγ</text>
<text x="1527.0" y="925.0" font-family="Carlito, 'Liberation Sans', sans-serif" font-size="27.00" fill="#333" font-weight="bold" textLength="15.0" lengthAdjust="spacingAndGlyphs" >0</text>
<text x="1558.0" y="925.0" font-family="Carlito, 'Liberation Sans', sans-serif" font-size="27.00" fill="#333" font-weight="bold" textLength="15.0" lengthAdjust="spacingAndGlyphs" >4</text>
<text x="1598.0" y="925.0" font-family="Carlito, 'Liberation Sans', sans-serif" font-size="27.00" fill="#333" font-weight="bold" textLength="29.0" lengthAdjust="spacingAndGlyphs" >24</text>
<text x="1717.0" y="922.0" font-family="Carlito, 'Liberation Sans', sans-serif" font-size="22.00" fill="#333" font-weight="bold" textLength="35.0" lengthAdjust="spacingAndGlyphs" >iDC</text>
<text x="1761.0" y="922.0" font-family="Carlito, 'Liberation Sans', sans-serif" font-size="22.00" fill="#333" font-weight="bold" textLength="58.0" lengthAdjust="spacingAndGlyphs" >actDC</text>
<text x="1832.0" y="922.0" font-family="Carlito, 'Liberation Sans', sans-serif" font-size="22.00" fill="#333" font-weight="bold" textLength="48.0" lengthAdjust="spacingAndGlyphs" >mDC</text>
<line x1="1526.0" y1="931.0" x2="1671.0" y2="931.0" stroke="#b3b3b3" stroke-width="2.5" />
<line x1="1720.0" y1="932.0" x2="1847.0" y2="932.0" stroke="#666" stroke-width="2.5" />
<text x="1526.0" y="956.0" font-family="Carlito, 'Liberation Sans', sans-serif" font-size="22.00" fill="#aaaaaa" textLength="84.0" lengthAdjust="spacingAndGlyphs" >GM-CSF</text>
<text x="1527.0" y="978.0" font-family="Carlito, 'Liberation Sans', sans-serif" font-size="22.00" fill="#aaaaaa" textLength="28.0" lengthAdjust="spacingAndGlyphs" >IL4</text>
<text x="1721.0" y="956.0" font-family="Carlito, 'Liberation Sans', sans-serif" font-size="22.00" fill="#7f7f7f" textLength="35.0" lengthAdjust="spacingAndGlyphs" >LPS</text>
<text x="1721.0" y="978.0" font-family="Carlito, 'Liberation Sans', sans-serif" font-size="22.00" fill="#7f7f7f" textLength="46.0" lengthAdjust="spacingAndGlyphs" >IFNγ</text>
<text x="1383.0" y="1017.0" font-family="Carlito, 'Liberation Sans', sans-serif" font-size="26.00" fill="#333" textLength="282.0" lengthAdjust="spacingAndGlyphs" >DC maturation timeline</text>
<text x="0.0" y="1175.0" font-family="Carlito, 'Liberation Sans', sans-serif" font-size="50.00" fill="#3a3838" font-weight="bold" >D</text>
<text x="316.0" y="1184.5" font-family="Carlito, 'Liberation Sans', sans-serif" font-size="38.00" fill="#000" font-weight="bold" textLength="248.0" lengthAdjust="spacingAndGlyphs" >scMEP heatmap</text>
<line x1="230.0" y1="1203.0" x2="541.5" y2="1203.0" stroke="#000" stroke-width="1" />
<line x1="230.0" y1="1203.0" x2="230.0" y2="1232.0" stroke="#000" stroke-width="1" />
<line x1="541.5" y1="1203.0" x2="541.5" y2="1233.0" stroke="#000" stroke-width="1" />
<line x1="195.0" y1="1232.0" x2="264.0" y2="1232.0" stroke="#000" stroke-width="1" />
<line x1="195.0" y1="1232.0" x2="195.0" y2="1237.0" stroke="#000" stroke-width="1" />
<line x1="264.0" y1="1232.0" x2="264.0" y2="1236.0" stroke="#000" stroke-width="1" />
<line x1="460.0" y1="1233.0" x2="654.0" y2="1233.0" stroke="#000" stroke-width="1" />
<line x1="460.0" y1="1233.0" x2="460.0" y2="1234.0" stroke="#000" stroke-width="1" />
<line x1="380.0" y1="1234.0" x2="541.0" y2="1234.0" stroke="#000" stroke-width="1" />
<line x1="380.0" y1="1234.0" x2="380.0" y2="1238.0" stroke="#000" stroke-width="1" />
<line x1="654.0" y1="1233.0" x2="654.0" y2="1238.0" stroke="#000" stroke-width="1" />
<line x1="180.4" y1="1250.0" x2="180.4" y2="1242.8" stroke="#000" stroke-width="1" />
<line x1="193.6" y1="1250.0" x2="193.6" y2="1242.8" stroke="#000" stroke-width="1" />
<line x1="180.4" y1="1242.8" x2="193.6" y2="1242.8" stroke="#000" stroke-width="1" />
<line x1="187.0" y1="1242.8" x2="187.0" y2="1240.3" stroke="#000" stroke-width="1" />
<line x1="206.9" y1="1250.0" x2="206.9" y2="1240.3" stroke="#000" stroke-width="1" />
<line x1="187.0" y1="1240.3" x2="206.9" y2="1240.3" stroke="#000" stroke-width="1" />
<line x1="196.9" y1="1240.3" x2="196.9" y2="1237.0" stroke="#000" stroke-width="1" />
<line x1="224.2" y1="1250.0" x2="224.2" y2="1242.5" stroke="#000" stroke-width="1" />
<line x1="237.4" y1="1250.0" x2="237.4" y2="1242.5" stroke="#000" stroke-width="1" />
<line x1="224.2" y1="1242.5" x2="237.4" y2="1242.5" stroke="#000" stroke-width="1" />
<line x1="250.7" y1="1250.0" x2="250.7" y2="1242.4" stroke="#000" stroke-width="1" />
<line x1="263.9" y1="1250.0" x2="263.9" y2="1242.4" stroke="#000" stroke-width="1" />
<line x1="250.7" y1="1242.4" x2="263.9" y2="1242.4" stroke="#000" stroke-width="1" />
<line x1="277.1" y1="1250.0" x2="277.1" y2="1242.1" stroke="#000" stroke-width="1" />
<line x1="290.3" y1="1250.0" x2="290.3" y2="1242.1" stroke="#000" stroke-width="1" />
<line x1="277.1" y1="1242.1" x2="290.3" y2="1242.1" stroke="#000" stroke-width="1" />
<line x1="230.8" y1="1242.5" x2="230.8" y2="1239.9" stroke="#000" stroke-width="1" />
<line x1="257.3" y1="1242.4" x2="257.3" y2="1239.9" stroke="#000" stroke-width="1" />
<line x1="230.8" y1="1239.9" x2="257.3" y2="1239.9" stroke="#000" stroke-width="1" />
<line x1="244.0" y1="1239.9" x2="244.0" y2="1237.4" stroke="#000" stroke-width="1" />
<line x1="283.7" y1="1242.1" x2="283.7" y2="1237.4" stroke="#000" stroke-width="1" />
<line x1="244.0" y1="1237.4" x2="283.7" y2="1237.4" stroke="#000" stroke-width="1" />
<line x1="263.9" y1="1237.4" x2="263.9" y2="1236.0" stroke="#000" stroke-width="1" />
<line x1="307.6" y1="1250.0" x2="307.6" y2="1242.5" stroke="#000" stroke-width="1" />
<line x1="320.8" y1="1250.0" x2="320.8" y2="1242.5" stroke="#000" stroke-width="1" />
<line x1="307.6" y1="1242.5" x2="320.8" y2="1242.5" stroke="#000" stroke-width="1" />
<line x1="334.1" y1="1250.0" x2="334.1" y2="1242.2" stroke="#000" stroke-width="1" />
<line x1="347.3" y1="1250.0" x2="347.3" y2="1242.2" stroke="#000" stroke-width="1" />
<line x1="334.1" y1="1242.2" x2="347.3" y2="1242.2" stroke="#000" stroke-width="1" />
<line x1="360.5" y1="1250.0" x2="360.5" y2="1243.9" stroke="#000" stroke-width="1" />
<line x1="373.7" y1="1250.0" x2="373.7" y2="1243.9" stroke="#000" stroke-width="1" />
<line x1="360.5" y1="1243.9" x2="373.7" y2="1243.9" stroke="#000" stroke-width="1" />
<line x1="386.9" y1="1250.0" x2="386.9" y2="1243.1" stroke="#000" stroke-width="1" />
<line x1="400.1" y1="1250.0" x2="400.1" y2="1243.1" stroke="#000" stroke-width="1" />
<line x1="386.9" y1="1243.1" x2="400.1" y2="1243.1" stroke="#000" stroke-width="1" />
<line x1="413.4" y1="1250.0" x2="413.4" y2="1242.1" stroke="#000" stroke-width="1" />
<line x1="426.6" y1="1250.0" x2="426.6" y2="1242.1" stroke="#000" stroke-width="1" />
<line x1="413.4" y1="1242.1" x2="426.6" y2="1242.1" stroke="#000" stroke-width="1" />
<line x1="439.8" y1="1250.0" x2="439.8" y2="1242.7" stroke="#000" stroke-width="1" />
<line x1="453.0" y1="1250.0" x2="453.0" y2="1242.7" stroke="#000" stroke-width="1" />
<line x1="439.8" y1="1242.7" x2="453.0" y2="1242.7" stroke="#000" stroke-width="1" />
<line x1="314.2" y1="1242.5" x2="314.2" y2="1239.7" stroke="#000" stroke-width="1" />
<line x1="340.7" y1="1242.2" x2="340.7" y2="1239.7" stroke="#000" stroke-width="1" />
<line x1="314.2" y1="1239.7" x2="340.7" y2="1239.7" stroke="#000" stroke-width="1" />
<line x1="367.1" y1="1243.9" x2="367.1" y2="1240.6" stroke="#000" stroke-width="1" />
<line x1="393.5" y1="1243.1" x2="393.5" y2="1240.6" stroke="#000" stroke-width="1" />
<line x1="367.1" y1="1240.6" x2="393.5" y2="1240.6" stroke="#000" stroke-width="1" />
<line x1="420.0" y1="1242.1" x2="420.0" y2="1239.6" stroke="#000" stroke-width="1" />
<line x1="446.4" y1="1242.7" x2="446.4" y2="1239.6" stroke="#000" stroke-width="1" />
<line x1="420.0" y1="1239.6" x2="446.4" y2="1239.6" stroke="#000" stroke-width="1" />
<line x1="327.4" y1="1239.7" x2="327.4" y2="1237.2" stroke="#000" stroke-width="1" />
<line x1="380.3" y1="1240.6" x2="380.3" y2="1237.2" stroke="#000" stroke-width="1" />
<line x1="327.4" y1="1237.2" x2="380.3" y2="1237.2" stroke="#000" stroke-width="1" />
<line x1="353.9" y1="1237.2" x2="353.9" y2="1234.7" stroke="#000" stroke-width="1" />
<line x1="433.2" y1="1239.6" x2="433.2" y2="1234.7" stroke="#000" stroke-width="1" />
<line x1="353.9" y1="1234.7" x2="433.2" y2="1234.7" stroke="#000" stroke-width="1" />
<line x1="393.5" y1="1234.7" x2="393.5" y2="1238.0" stroke="#000" stroke-width="1" />
<line x1="471.0" y1="1250.0" x2="471.0" y2="1242.2" stroke="#000" stroke-width="1" />
<line x1="484.2" y1="1250.0" x2="484.2" y2="1242.2" stroke="#000" stroke-width="1" />
<line x1="471.0" y1="1242.2" x2="484.2" y2="1242.2" stroke="#000" stroke-width="1" />
<line x1="497.4" y1="1250.0" x2="497.4" y2="1243.8" stroke="#000" stroke-width="1" />
<line x1="510.7" y1="1250.0" x2="510.7" y2="1243.8" stroke="#000" stroke-width="1" />
<line x1="497.4" y1="1243.8" x2="510.7" y2="1243.8" stroke="#000" stroke-width="1" />
<line x1="523.9" y1="1250.0" x2="523.9" y2="1243.1" stroke="#000" stroke-width="1" />
<line x1="537.1" y1="1250.0" x2="537.1" y2="1243.1" stroke="#000" stroke-width="1" />
<line x1="523.9" y1="1243.1" x2="537.1" y2="1243.1" stroke="#000" stroke-width="1" />
<line x1="477.6" y1="1242.2" x2="477.6" y2="1239.7" stroke="#000" stroke-width="1" />
<line x1="504.1" y1="1243.8" x2="504.1" y2="1239.7" stroke="#000" stroke-width="1" />
<line x1="477.6" y1="1239.7" x2="504.1" y2="1239.7" stroke="#000" stroke-width="1" />
<line x1="490.8" y1="1239.7" x2="490.8" y2="1237.2" stroke="#000" stroke-width="1" />
<line x1="530.5" y1="1243.1" x2="530.5" y2="1237.2" stroke="#000" stroke-width="1" />
<line x1="490.8" y1="1237.2" x2="530.5" y2="1237.2" stroke="#000" stroke-width="1" />
<line x1="510.7" y1="1237.2" x2="510.7" y2="1234.0" stroke="#000" stroke-width="1" />
<line x1="554.2" y1="1250.0" x2="554.2" y2="1243.5" stroke="#000" stroke-width="1" />
<line x1="567.4" y1="1250.0" x2="567.4" y2="1243.5" stroke="#000" stroke-width="1" />
<line x1="554.2" y1="1243.5" x2="567.4" y2="1243.5" stroke="#000" stroke-width="1" />
<line x1="580.6" y1="1250.0" x2="580.6" y2="1242.9" stroke="#000" stroke-width="1" />
<line x1="593.9" y1="1250.0" x2="593.9" y2="1242.9" stroke="#000" stroke-width="1" />
<line x1="580.6" y1="1242.9" x2="593.9" y2="1242.9" stroke="#000" stroke-width="1" />
<line x1="607.1" y1="1250.0" x2="607.1" y2="1242.9" stroke="#000" stroke-width="1" />
<line x1="620.3" y1="1250.0" x2="620.3" y2="1242.9" stroke="#000" stroke-width="1" />
<line x1="607.1" y1="1242.9" x2="620.3" y2="1242.9" stroke="#000" stroke-width="1" />
<line x1="560.8" y1="1243.5" x2="560.8" y2="1240.4" stroke="#000" stroke-width="1" />
<line x1="587.3" y1="1242.9" x2="587.3" y2="1240.4" stroke="#000" stroke-width="1" />
<line x1="560.8" y1="1240.4" x2="587.3" y2="1240.4" stroke="#000" stroke-width="1" />
<line x1="574.0" y1="1240.4" x2="574.0" y2="1237.9" stroke="#000" stroke-width="1" />
<line x1="613.7" y1="1242.9" x2="613.7" y2="1237.9" stroke="#000" stroke-width="1" />
<line x1="574.0" y1="1237.9" x2="613.7" y2="1237.9" stroke="#000" stroke-width="1" />
<line x1="593.9" y1="1237.9" x2="593.9" y2="1234.0" stroke="#000" stroke-width="1" />
<line x1="638.0" y1="1250.0" x2="638.0" y2="1244.0" stroke="#000" stroke-width="1" />
<line x1="651.2" y1="1250.0" x2="651.2" y2="1244.0" stroke="#000" stroke-width="1" />
<line x1="638.0" y1="1244.0" x2="651.2" y2="1244.0" stroke="#000" stroke-width="1" />
<line x1="644.6" y1="1244.0" x2="644.6" y2="1241.5" stroke="#000" stroke-width="1" />
<line x1="664.4" y1="1250.0" x2="664.4" y2="1241.5" stroke="#000" stroke-width="1" />
<line x1="644.6" y1="1241.5" x2="664.4" y2="1241.5" stroke="#000" stroke-width="1" />
<line x1="654.5" y1="1241.5" x2="654.5" y2="1238.0" stroke="#000" stroke-width="1" />
<rect x="173.8" y="1251.0" width="14.1" height="16.5" fill="#fff" />
<rect x="173.8" y="1267.0" width="14.1" height="16.0" fill="#050a05" />
<rect x="187.0" y="1251.0" width="14.1" height="16.5" fill="#fff" />
<rect x="187.0" y="1267.0" width="14.1" height="16.0" fill="#030603" />
<rect x="200.2" y="1251.0" width="13.4" height="16.5" fill="#fff" />
<rect x="200.2" y="1267.0" width="13.4" height="16.0" fill="#000000" />
<rect x="173.8" y="1251.0" width="39.7" height="32.0" fill="none" stroke="#333" stroke-width="1.6" rx="1.5"/>
<rect x="217.6" y="1251.0" width="14.1" height="16.5" fill="#fff" />
<rect x="217.6" y="1267.0" width="14.1" height="16.0" fill="#102010" />
<rect x="230.8" y="1251.0" width="14.1" height="16.5" fill="#fff" />
<rect x="230.8" y="1267.0" width="14.1" height="16.0" fill="#153015" />
<rect x="244.0" y="1251.0" width="14.1" height="16.5" fill="#fff" />
<rect x="244.0" y="1267.0" width="14.1" height="16.0" fill="#152a15" />
<rect x="257.3" y="1251.0" width="14.1" height="16.5" fill="#fff" />
<rect x="257.3" y="1267.0" width="14.1" height="16.0" fill="#183018" />
<rect x="270.5" y="1251.0" width="14.1" height="16.5" fill="#fff" />
<rect x="270.5" y="1267.0" width="14.1" height="16.0" fill="#0f1a0f" />
<rect x="283.7" y="1251.0" width="13.4" height="16.5" fill="#fff" />
<rect x="283.7" y="1267.0" width="13.4" height="16.0" fill="#152815" />
<rect x="217.6" y="1251.0" width="79.3" height="32.0" fill="none" stroke="#333" stroke-width="1.6" rx="1.5"/>
<rect x="301.0" y="1251.0" width="14.1" height="16.5" fill="#4a1810" />
<rect x="301.0" y="1267.0" width="14.1" height="16.0" fill="#1a4a1a" />
<rect x="314.2" y="1251.0" width="14.1" height="16.5" fill="#7a1a10" />
<rect x="314.2" y="1267.0" width="14.1" height="16.0" fill="#205020" />
<rect x="327.4" y="1251.0" width="14.1" height="16.5" fill="#3a1408" />
<rect x="327.4" y="1267.0" width="14.1" height="16.0" fill="#1a401a" />
<rect x="340.7" y="1251.0" width="14.1" height="16.5" fill="#ffffff" />
<rect x="340.7" y="1267.0" width="14.1" height="16.0" fill="#1a401a" />
<rect x="353.9" y="1251.0" width="14.1" height="16.5" fill="#2a1008" />
<rect x="353.9" y="1267.0" width="14.1" height="16.0" fill="#205020" />
<rect x="367.1" y="1251.0" width="14.1" height="16.5" fill="#3a120a" />
<rect x="367.1" y="1267.0" width="14.1" height="16.0" fill="#205020" />
<rect x="380.3" y="1251.0" width="14.1" height="16.5" fill="#3a120a" />
<rect x="380.3" y="1267.0" width="14.1" height="16.0" fill="#2a8a2a" />
<rect x="393.5" y="1251.0" width="14.1" height="16.5" fill="#2a1008" />
<rect x="393.5" y="1267.0" width="14.1" height="16.0" fill="#2a8a2a" />
<rect x="406.8" y="1251.0" width="14.1" height="16.5" fill="#5a1a10" />
<rect x="406.8" y="1267.0" width="14.1" height="16.0" fill="#2a7a2a" />
<rect x="420.0" y="1251.0" width="14.1" height="16.5" fill="#4a1810" />
<rect x="420.0" y="1267.0" width="14.1" height="16.0" fill="#2a8a2a" />
<rect x="433.2" y="1251.0" width="14.1" height="16.5" fill="#000000" />
<rect x="433.2" y="1267.0" width="14.1" height="16.0" fill="#1a4a1a" />
<rect x="446.4" y="1251.0" width="13.4" height="16.5" fill="#801a10" />
<rect x="446.4" y="1267.0" width="13.4" height="16.0" fill="#1a4a1a" />
<rect x="301.0" y="1251.0" width="158.6" height="32.0" fill="none" stroke="#333" stroke-width="1.6" rx="1.5"/>
<rect x="464.4" y="1251.0" width="14.1" height="16.5" fill="#8a1a0e" />
<rect x="464.4" y="1267.0" width="14.1" height="16.0" fill="#2a8a2a" />
<rect x="477.6" y="1251.0" width="14.1" height="16.5" fill="#8a1a0e" />
<rect x="477.6" y="1267.0" width="14.1" height="16.0" fill="#1a4a1a" />
<rect x="490.8" y="1251.0" width="14.1" height="16.5" fill="#3a1208" />
<rect x="490.8" y="1267.0" width="14.1" height="16.0" fill="#2a8a2a" />
<rect x="504.1" y="1251.0" width="14.1" height="16.5" fill="#3a1208" />
<rect x="504.1" y="1267.0" width="14.1" height="16.0" fill="#1e5e1e" />
<rect x="517.3" y="1251.0" width="14.1" height="16.5" fill="#a01a0e" />
<rect x="517.3" y="1267.0" width="14.1" height="16.0" fill="#1a4a1a" />
<rect x="530.5" y="1251.0" width="13.4" height="16.5" fill="#3a1208" />
<rect x="530.5" y="1267.0" width="13.4" height="16.0" fill="#1a3a1a" />
<rect x="464.4" y="1251.0" width="79.3" height="32.0" fill="none" stroke="#333" stroke-width="1.6" rx="1.5"/>
<rect x="547.6" y="1251.0" width="14.1" height="16.5" fill="#5a1408" />
<rect x="547.6" y="1267.0" width="14.1" height="16.0" fill="#2aaa2a" />
<rect x="560.8" y="1251.0" width="14.1" height="16.5" fill="#b81a0e" />
<rect x="560.8" y="1267.0" width="14.1" height="16.0" fill="#10ff10" />
<rect x="574.0" y="1251.0" width="14.1" height="16.5" fill="#4a1208" />
<rect x="574.0" y="1267.0" width="14.1" height="16.0" fill="#207a20" />
<rect x="587.3" y="1251.0" width="14.1" height="16.5" fill="#d01a0e" />
<rect x="587.3" y="1267.0" width="14.1" height="16.0" fill="#208a20" />
<rect x="600.5" y="1251.0" width="14.1" height="16.5" fill="#4a1208" />
<rect x="600.5" y="1267.0" width="14.1" height="16.0" fill="#208a20" />
<rect x="613.7" y="1251.0" width="13.4" height="16.5" fill="#701a10" />
<rect x="613.7" y="1267.0" width="13.4" height="16.0" fill="#2aa02a" />
<rect x="547.6" y="1251.0" width="79.3" height="32.0" fill="none" stroke="#333" stroke-width="1.6" rx="1.5"/>
<rect x="631.4" y="1251.0" width="14.1" height="16.5" fill="#ff0000" />
<rect x="631.4" y="1267.0" width="14.1" height="16.0" fill="#20cc20" />
<rect x="644.6" y="1251.0" width="14.1" height="16.5" fill="#a01a0e" />
<rect x="644.6" y="1267.0" width="14.1" height="16.0" fill="#207020" />
<rect x="657.8" y="1251.0" width="13.4" height="16.5" fill="#a01a0e" />
<rect x="657.8" y="1267.0" width="13.4" height="16.0" fill="#2aa02a" />
<rect x="631.4" y="1251.0" width="39.7" height="32.0" fill="none" stroke="#333" stroke-width="1.6" rx="1.5"/>
<rect x="173.8" y="1284.0" width="39.7" height="39.5" fill="#fff" stroke="#555" stroke-width="1.6" rx="1.5"/>
<rect x="173.8" y="1327.5" width="39.7" height="40.5" fill="#fff" stroke="#555" stroke-width="1.6" rx="1.5"/>
<rect x="217.6" y="1284.0" width="79.3" height="39.5" fill="#fff" stroke="#555" stroke-width="1.6" rx="1.5"/>
<rect x="217.6" y="1327.5" width="79.3" height="40.5" fill="#fff" stroke="#555" stroke-width="1.6" rx="1.5"/>
<rect x="301.0" y="1284.0" width="158.6" height="39.5" fill="#fff" stroke="#555" stroke-width="1.6" rx="1.5"/>
<rect x="301.0" y="1327.5" width="158.6" height="40.5" fill="#fff" stroke="#555" stroke-width="1.6" rx="1.5"/>
<circle cx="307.6" cy="1298.0" r="3.6" fill="#000" />
<path d="M307.6,1345.0 L311.6,1352.0 L303.6,1352.0 Z" fill="#000" />
<circle cx="320.8" cy="1299.5" r="3.6" fill="#000" />
<path d="M320.8,1345.0 L324.8,1352.0 L316.8,1352.0 Z" fill="#000" />
<circle cx="334.1" cy="1297.0" r="3.6" fill="#000" />
<path d="M334.1,1345.0 L338.1,1352.0 L330.1,1352.0 Z" fill="#000" />
<circle cx="347.3" cy="1297.0" r="3.6" fill="#000" />
<path d="M347.3,1346.0 L351.3,1353.0 L343.3,1353.0 Z" fill="#000" />
<circle cx="360.5" cy="1300.0" r="3.6" fill="#000" />
<path d="M360.5,1343.0 L364.5,1350.0 L356.5,1350.0 Z" fill="#000" />
<circle cx="373.7" cy="1300.0" r="3.6" fill="#000" />
<path d="M373.7,1346.0 L377.7,1353.0 L369.7,1353.0 Z" fill="#000" />
<circle cx="386.9" cy="1297.0" r="3.6" fill="#000" />
<path d="M386.9,1349.0 L390.9,1356.0 L382.9,1356.0 Z" fill="#000" />
<circle cx="400.1" cy="1297.0" r="3.6" fill="#000" />
<path d="M400.1,1347.0 L404.1,1354.0 L396.1,1354.0 Z" fill="#000" />
<circle cx="413.4" cy="1293.0" r="3.6" fill="#000" />
<path d="M413.4,1347.0 L417.4,1354.0 L409.4,1354.0 Z" fill="#000" />
<circle cx="426.6" cy="1293.0" r="3.6" fill="#000" />
<path d="M426.6,1350.0 L430.6,1357.0 L422.6,1357.0 Z" fill="#000" />
<circle cx="439.8" cy="1297.0" r="3.6" fill="#000" />
<path d="M439.8,1343.0 L443.8,1350.0 L435.8,1350.0 Z" fill="#000" />
<circle cx="453.0" cy="1297.0" r="3.6" fill="#000" />
<path d="M453.0,1343.0 L457.0,1350.0 L449.0,1350.0 Z" fill="#000" />
<rect x="464.4" y="1284.0" width="79.3" height="39.5" fill="#fff" stroke="#555" stroke-width="1.6" rx="1.5"/>
<rect x="464.4" y="1327.5" width="79.3" height="40.5" fill="#fff" stroke="#555" stroke-width="1.6" rx="1.5"/>
<circle cx="471.0" cy="1290.8" r="3.6" fill="#000" />
<path d="M471.0,1357.0 L475.0,1364.0 L467.0,1364.0 Z" fill="#000" />
<circle cx="484.2" cy="1293.5" r="3.6" fill="#000" />
<path d="M484.2,1352.0 L488.2,1359.0 L480.2,1359.0 Z" fill="#000" />
<circle cx="497.4" cy="1289.0" r="3.6" fill="#000" />
<path d="M497.4,1357.0 L501.4,1364.0 L493.4,1364.0 Z" fill="#000" />
<circle cx="510.7" cy="1292.5" r="3.6" fill="#000" />
<path d="M510.7,1352.0 L514.7,1359.0 L506.7,1359.0 Z" fill="#000" />
<circle cx="523.9" cy="1291.0" r="3.6" fill="#000" />
<path d="M523.9,1352.0 L527.9,1359.0 L519.9,1359.0 Z" fill="#000" />
<circle cx="537.1" cy="1291.0" r="3.6" fill="#000" />
<path d="M537.1,1353.0 L541.1,1360.0 L533.1,1360.0 Z" fill="#000" />
<rect x="547.6" y="1284.0" width="79.3" height="39.5" fill="#fff" stroke="#555" stroke-width="1.6" rx="1.5"/>
<rect x="547.6" y="1327.5" width="79.3" height="40.5" fill="#fff" stroke="#555" stroke-width="1.6" rx="1.5"/>
<circle cx="554.2" cy="1299.0" r="3.6" fill="#000" />
<path d="M554.2,1340.0 L558.2,1347.0 L550.2,1347.0 Z" fill="#000" />
<circle cx="567.4" cy="1300.0" r="3.6" fill="#000" />
<path d="M567.4,1339.0 L571.4,1346.0 L563.4,1346.0 Z" fill="#000" />
<circle cx="580.6" cy="1302.0" r="3.6" fill="#000" />
<path d="M580.6,1337.0 L584.6,1344.0 L576.6,1344.0 Z" fill="#000" />
<circle cx="593.9" cy="1303.0" r="3.6" fill="#000" />
<path d="M593.9,1335.0 L597.9,1342.0 L589.9,1342.0 Z" fill="#000" />
<circle cx="607.1" cy="1301.0" r="3.6" fill="#000" />
<path d="M607.1,1337.0 L611.1,1344.0 L603.1,1344.0 Z" fill="#000" />
<circle cx="620.3" cy="1303.5" r="3.6" fill="#000" />
<path d="M620.3,1336.0 L624.3,1343.0 L616.3,1343.0 Z" fill="#000" />
<rect x="631.4" y="1284.0" width="39.7" height="39.5" fill="#fff" stroke="#555" stroke-width="1.6" rx="1.5"/>
<rect x="631.4" y="1327.5" width="39.7" height="40.5" fill="#fff" stroke="#555" stroke-width="1.6" rx="1.5"/>
<circle cx="638.0" cy="1295.5" r="3.6" fill="#000" />
<path d="M638.0,1346.0 L642.0,1353.0 L634.0,1353.0 Z" fill="#000" />
<circle cx="651.2" cy="1296.5" r="3.6" fill="#000" />
<path d="M651.2,1343.0 L655.2,1350.0 L647.2,1350.0 Z" fill="#000" />
<circle cx="664.4" cy="1297.0" r="3.6" fill="#000" />
<path d="M664.4,1343.0 L668.4,1350.0 L660.4,1350.0 Z" fill="#000" />
<line x1="163.0" y1="1292.0" x2="168.0" y2="1292.0" stroke="#333" stroke-width="1.2" />
<text x="160.0" y="1296.5" font-family="'Liberation Sans', Arial, sans-serif" font-size="13.00" fill="#333" text-anchor="end" >100</text>
<line x1="163.0" y1="1309.0" x2="168.0" y2="1309.0" stroke="#333" stroke-width="1.2" />
<text x="160.0" y="1313.5" font-family="'Liberation Sans', Arial, sans-serif" font-size="13.00" fill="#333" text-anchor="end" >50</text>
<line x1="163.0" y1="1323.0" x2="168.0" y2="1323.0" stroke="#333" stroke-width="1.2" />
<text x="160.0" y="1327.5" font-family="'Liberation Sans', Arial, sans-serif" font-size="13.00" fill="#333" text-anchor="end" >0</text>
<line x1="163.0" y1="1331.0" x2="168.0" y2="1331.0" stroke="#333" stroke-width="1.2" />
<text x="160.0" y="1335.5" font-family="'Liberation Sans', Arial, sans-serif" font-size="13.00" fill="#333" text-anchor="end" >8</text>
<line x1="163.0" y1="1344.5" x2="168.0" y2="1344.5" stroke="#333" stroke-width="1.2" />
<text x="160.0" y="1349.0" font-family="'Liberation Sans', Arial, sans-serif" font-size="13.00" fill="#333" text-anchor="end" >6</text>
<line x1="163.0" y1="1358.0" x2="168.0" y2="1358.0" stroke="#333" stroke-width="1.2" />
<text x="160.0" y="1362.5" font-family="'Liberation Sans', Arial, sans-serif" font-size="13.00" fill="#333" text-anchor="end" >4</text>
<line x1="671.0" y1="1286.0" x2="675.0" y2="1286.0" stroke="#333" stroke-width="1.2" />
<line x1="671.0" y1="1304.0" x2="675.0" y2="1304.0" stroke="#333" stroke-width="1.2" />
<line x1="671.0" y1="1322.0" x2="675.0" y2="1322.0" stroke="#333" stroke-width="1.2" />
<line x1="671.0" y1="1329.0" x2="675.0" y2="1329.0" stroke="#333" stroke-width="1.2" />
<line x1="671.0" y1="1349.0" x2="675.0" y2="1349.0" stroke="#333" stroke-width="1.2" />
<line x1="671.0" y1="1362.0" x2="675.0" y2="1362.0" stroke="#333" stroke-width="1.2" />
<rect x="173.8" y="1373.5" width="14.1" height="15.2" fill="#404040" />
<rect x="187.0" y="1373.5" width="14.1" height="15.2" fill="#5a5a5a" />
<rect x="200.2" y="1373.5" width="13.4" height="15.2" fill="#000" />
<rect x="173.8" y="1387.8" width="14.1" height="15.2" fill="#000" />
<rect x="187.0" y="1387.8" width="14.1" height="15.2" fill="#000" />
<rect x="200.2" y="1387.8" width="13.4" height="15.2" fill="#000" />
<rect x="173.8" y="1402.0" width="14.1" height="15.2" fill="#3a3a3a" />
<rect x="187.0" y="1402.0" width="14.1" height="15.2" fill="#2a2a2a" />
<rect x="200.2" y="1402.0" width="13.4" height="15.2" fill="#000" />
<rect x="173.8" y="1416.3" width="14.1" height="14.5" fill="#555" />
<rect x="187.0" y="1416.3" width="14.1" height="14.5" fill="#3a3a3a" />
<rect x="200.2" y="1416.3" width="13.4" height="14.5" fill="#000" />
<line x1="173.8" y1="1387.8" x2="213.5" y2="1387.8" stroke="#111" stroke-width="2" />
<line x1="173.8" y1="1402.0" x2="213.5" y2="1402.0" stroke="#111" stroke-width="2" />
<line x1="173.8" y1="1416.3" x2="213.5" y2="1416.3" stroke="#111" stroke-width="2" />
<rect x="173.8" y="1373.5" width="39.7" height="57.1" fill="none" stroke="#333" stroke-width="1.6" rx="1.5"/>
<rect x="217.6" y="1373.5" width="14.1" height="15.2" fill="#4a4a4a" />
<rect x="230.8" y="1373.5" width="14.1" height="15.2" fill="#606060" />
<rect x="244.0" y="1373.5" width="14.1" height="15.2" fill="#454545" />
<rect x="257.3" y="1373.5" width="14.1" height="15.2" fill="#454545" />
<rect x="270.5" y="1373.5" width="14.1" height="15.2" fill="#1a1a1a" />
<rect x="283.7" y="1373.5" width="13.4" height="15.2" fill="#3a3a3a" />
<rect x="217.6" y="1387.8" width="14.1" height="15.2" fill="#3a3a3a" />
<rect x="230.8" y="1387.8" width="14.1" height="15.2" fill="#3a3a3a" />
<rect x="244.0" y="1387.8" width="14.1" height="15.2" fill="#3a3a3a" />
<rect x="257.3" y="1387.8" width="14.1" height="15.2" fill="#3a3a3a" />
<rect x="270.5" y="1387.8" width="14.1" height="15.2" fill="#3a3a3a" />
<rect x="283.7" y="1387.8" width="13.4" height="15.2" fill="#3a3a3a" />
<rect x="217.6" y="1402.0" width="14.1" height="15.2" fill="#4a4a4a" />
<rect x="230.8" y="1402.0" width="14.1" height="15.2" fill="#606060" />
<rect x="244.0" y="1402.0" width="14.1" height="15.2" fill="#808080" />
<rect x="257.3" y="1402.0" width="14.1" height="15.2" fill="#808080" />
<rect x="270.5" y="1402.0" width="14.1" height="15.2" fill="#202020" />
<rect x="283.7" y="1402.0" width="13.4" height="15.2" fill="#3a3a3a" />
<rect x="217.6" y="1416.3" width="14.1" height="14.5" fill="#333" />
<rect x="230.8" y="1416.3" width="14.1" height="14.5" fill="#333" />
<rect x="244.0" y="1416.3" width="14.1" height="14.5" fill="#555" />
<rect x="257.3" y="1416.3" width="14.1" height="14.5" fill="#3a3a3a" />
<rect x="270.5" y="1416.3" width="14.1" height="14.5" fill="#111" />
<rect x="283.7" y="1416.3" width="13.4" height="14.5" fill="#111" />
<line x1="217.6" y1="1387.8" x2="296.9" y2="1387.8" stroke="#111" stroke-width="2" />
<line x1="217.6" y1="1402.0" x2="296.9" y2="1402.0" stroke="#111" stroke-width="2" />
<line x1="217.6" y1="1416.3" x2="296.9" y2="1416.3" stroke="#111" stroke-width="2" />
<rect x="217.6" y="1373.5" width="79.3" height="57.1" fill="none" stroke="#333" stroke-width="1.6" rx="1.5"/>
<rect x="301.0" y="1373.5" width="14.1" height="15.2" fill="#eeeeee" />
<rect x="314.2" y="1373.5" width="14.1" height="15.2" fill="#fff8f0" />
<rect x="327.4" y="1373.5" width="14.1" height="15.2" fill="#aaaaaa" />
<rect x="340.7" y="1373.5" width="14.1" height="15.2" fill="#cccccc" />
<rect x="353.9" y="1373.5" width="14.1" height="15.2" fill="#f5f5f5" />
<rect x="367.1" y="1373.5" width="14.1" height="15.2" fill="#fff5ee" />
<rect x="380.3" y="1373.5" width="14.1" height="15.2" fill="#fde8d8" />
<rect x="393.5" y="1373.5" width="14.1" height="15.2" fill="#ffffff" />
<rect x="406.8" y="1373.5" width="14.1" height="15.2" fill="#bbbbbb" />
<rect x="420.0" y="1373.5" width="14.1" height="15.2" fill="#dddddd" />
<rect x="433.2" y="1373.5" width="14.1" height="15.2" fill="#aaaaaa" />
<rect x="446.4" y="1373.5" width="13.4" height="15.2" fill="#dddddd" />
<rect x="301.0" y="1387.8" width="14.1" height="15.2" fill="#f2a868" />
<rect x="314.2" y="1387.8" width="14.1" height="15.2" fill="#f5b27a" />
<rect x="327.4" y="1387.8" width="14.1" height="15.2" fill="#f5b47c" />
<rect x="340.7" y="1387.8" width="14.1" height="15.2" fill="#f7b98a" />
<rect x="353.9" y="1387.8" width="14.1" height="15.2" fill="#f7bb8b" />
<rect x="367.1" y="1387.8" width="14.1" height="15.2" fill="#f5b27a" />
<rect x="380.3" y="1387.8" width="14.1" height="15.2" fill="#f0a060" />
<rect x="393.5" y="1387.8" width="14.1" height="15.2" fill="#ee9a55" />
<rect x="406.8" y="1387.8" width="14.1" height="15.2" fill="#f2a868" />
<rect x="420.0" y="1387.8" width="14.1" height="15.2" fill="#f5b47c" />
<rect x="433.2" y="1387.8" width="14.1" height="15.2" fill="#f7bb8b" />
<rect x="446.4" y="1387.8" width="13.4" height="15.2" fill="#f7bb8b" />
<rect x="301.0" y="1402.0" width="14.1" height="15.2" fill="#f9c8a0" />
<rect x="314.2" y="1402.0" width="14.1" height="15.2" fill="#f9c8a0" />
<rect x="327.4" y="1402.0" width="14.1" height="15.2" fill="#fbd4b4" />
<rect x="340.7" y="1402.0" width="14.1" height="15.2" fill="#fbd4b4" />
<rect x="353.9" y="1402.0" width="14.1" height="15.2" fill="#f2a868" />
<rect x="367.1" y="1402.0" width="14.1" height="15.2" fill="#f2a868" />
<rect x="380.3" y="1402.0" width="14.1" height="15.2" fill="#f0a060" />
<rect x="393.5" y="1402.0" width="14.1" height="15.2" fill="#f2a868" />
<rect x="406.8" y="1402.0" width="14.1" height="15.2" fill="#f2a868" />
<rect x="420.0" y="1402.0" width="14.1" height="15.2" fill="#f2a868" />
<rect x="433.2" y="1402.0" width="14.1" height="15.2" fill="#f5b47c" />
<rect x="446.4" y="1402.0" width="13.4" height="15.2" fill="#f7b98a" />
<rect x="301.0" y="1416.3" width="14.1" height="14.5" fill="#f8c49a" />
<rect x="314.2" y="1416.3" width="14.1" height="14.5" fill="#fbd4b4" />
<rect x="327.4" y="1416.3" width="14.1" height="14.5" fill="#fcdcc0" />
<rect x="340.7" y="1416.3" width="14.1" height="14.5" fill="#fdf0e0" />
<rect x="353.9" y="1416.3" width="14.1" height="14.5" fill="#ee9a50" />
<rect x="367.1" y="1416.3" width="14.1" height="14.5" fill="#f2a868" />
<rect x="380.3" y="1416.3" width="14.1" height="14.5" fill="#f2a868" />
<rect x="393.5" y="1416.3" width="14.1" height="14.5" fill="#f0a060" />
<rect x="406.8" y="1416.3" width="14.1" height="14.5" fill="#f5b47c" />
<rect x="420.0" y="1416.3" width="14.1" height="14.5" fill="#f5b47c" />
<rect x="433.2" y="1416.3" width="14.1" height="14.5" fill="#f5b27a" />
<rect x="446.4" y="1416.3" width="13.4" height="14.5" fill="#f7bb8b" />
<line x1="301.0" y1="1387.8" x2="459.6" y2="1387.8" stroke="#111" stroke-width="2" />
<line x1="301.0" y1="1402.0" x2="459.6" y2="1402.0" stroke="#111" stroke-width="2" />
<line x1="301.0" y1="1416.3" x2="459.6" y2="1416.3" stroke="#111" stroke-width="2" />
<rect x="301.0" y="1373.5" width="158.6" height="57.1" fill="none" stroke="#333" stroke-width="1.6" rx="1.5"/>
<rect x="464.4" y="1373.5" width="14.1" height="15.2" fill="#f7b98a" />
<rect x="477.6" y="1373.5" width="14.1" height="15.2" fill="#f9c8a0" />
<rect x="490.8" y="1373.5" width="14.1" height="15.2" fill="#fbcfa8" />
<rect x="504.1" y="1373.5" width="14.1" height="15.2" fill="#fcd8b8" />
<rect x="517.3" y="1373.5" width="14.1" height="15.2" fill="#fcd8b8" />
<rect x="530.5" y="1373.5" width="13.4" height="15.2" fill="#fdeee0" />
<rect x="464.4" y="1387.8" width="14.1" height="15.2" fill="#f7b98a" />
<rect x="477.6" y="1387.8" width="14.1" height="15.2" fill="#f7b98a" />
<rect x="490.8" y="1387.8" width="14.1" height="15.2" fill="#fcd8b8" />
<rect x="504.1" y="1387.8" width="14.1" height="15.2" fill="#fbcfa8" />
<rect x="517.3" y="1387.8" width="14.1" height="15.2" fill="#f7bb8b" />
<rect x="530.5" y="1387.8" width="13.4" height="15.2" fill="#fbd4b4" />
<rect x="464.4" y="1402.0" width="14.1" height="15.2" fill="#f0a060" />
<rect x="477.6" y="1402.0" width="14.1" height="15.2" fill="#f2a868" />
<rect x="490.8" y="1402.0" width="14.1" height="15.2" fill="#f2a868" />
<rect x="504.1" y="1402.0" width="14.1" height="15.2" fill="#f5b27a" />
<rect x="517.3" y="1402.0" width="14.1" height="15.2" fill="#f7bb8b" />
<rect x="530.5" y="1402.0" width="13.4" height="15.2" fill="#fbd4b4" />
<rect x="464.4" y="1416.3" width="14.1" height="14.5" fill="#f5b27a" />
<rect x="477.6" y="1416.3" width="14.1" height="14.5" fill="#f5b27a" />
<rect x="490.8" y="1416.3" width="14.1" height="14.5" fill="#fbcfa8" />
<rect x="504.1" y="1416.3" width="14.1" height="14.5" fill="#fbcfa8" />
<rect x="517.3" y="1416.3" width="14.1" height="14.5" fill="#fcd8b8" />
<rect x="530.5" y="1416.3" width="13.4" height="14.5" fill="#fef8f0" />
<line x1="464.4" y1="1387.8" x2="543.7" y2="1387.8" stroke="#111" stroke-width="2" />
<line x1="464.4" y1="1402.0" x2="543.7" y2="1402.0" stroke="#111" stroke-width="2" />
<line x1="464.4" y1="1416.3" x2="543.7" y2="1416.3" stroke="#111" stroke-width="2" />
<rect x="464.4" y="1373.5" width="79.3" height="57.1" fill="none" stroke="#333" stroke-width="1.6" rx="1.5"/>
<rect x="547.6" y="1373.5" width="14.1" height="15.2" fill="#fbcfa8" />
<rect x="560.8" y="1373.5" width="14.1" height="15.2" fill="#f5b27a" />
<rect x="574.0" y="1373.5" width="14.1" height="15.2" fill="#f7bb8b" />
<rect x="587.3" y="1373.5" width="14.1" height="15.2" fill="#f7bb8b" />
<rect x="600.5" y="1373.5" width="14.1" height="15.2" fill="#f5b27a" />
<rect x="613.7" y="1373.5" width="13.4" height="15.2" fill="#f5b27a" />
<rect x="547.6" y="1387.8" width="14.1" height="15.2" fill="#f5b27a" />
<rect x="560.8" y="1387.8" width="14.1" height="15.2" fill="#f5b27a" />
<rect x="574.0" y="1387.8" width="14.1" height="15.2" fill="#f7bb8b" />
<rect x="587.3" y="1387.8" width="14.1" height="15.2" fill="#f9c8a0" />
<rect x="600.5" y="1387.8" width="14.1" height="15.2" fill="#f7bb8b" />
<rect x="613.7" y="1387.8" width="13.4" height="15.2" fill="#f7bb8b" />
<rect x="547.6" y="1402.0" width="14.1" height="15.2" fill="#f9c8a0" />
<rect x="560.8" y="1402.0" width="14.1" height="15.2" fill="#f5b27a" />
<rect x="574.0" y="1402.0" width="14.1" height="15.2" fill="#fcd8b8" />
<rect x="587.3" y="1402.0" width="14.1" height="15.2" fill="#fdecdc" />
<rect x="600.5" y="1402.0" width="14.1" height="15.2" fill="#f0a060" />
<rect x="613.7" y="1402.0" width="13.4" height="15.2" fill="#f7bb8b" />
<rect x="547.6" y="1416.3" width="14.1" height="14.5" fill="#f5b27a" />
<rect x="560.8" y="1416.3" width="14.1" height="14.5" fill="#f7bb8b" />
<rect x="574.0" y="1416.3" width="14.1" height="14.5" fill="#fcd8b8" />
<rect x="587.3" y="1416.3" width="14.1" height="14.5" fill="#fef6ee" />
<rect x="600.5" y="1416.3" width="14.1" height="14.5" fill="#f0a060" />
<rect x="613.7" y="1416.3" width="13.4" height="14.5" fill="#f7bb8b" />
<line x1="547.6" y1="1387.8" x2="626.9" y2="1387.8" stroke="#111" stroke-width="2" />
<line x1="547.6" y1="1402.0" x2="626.9" y2="1402.0" stroke="#111" stroke-width="2" />
<line x1="547.6" y1="1416.3" x2="626.9" y2="1416.3" stroke="#111" stroke-width="2" />
<rect x="547.6" y="1373.5" width="79.3" height="57.1" fill="none" stroke="#333" stroke-width="1.6" rx="1.5"/>
<rect x="631.4" y="1373.5" width="14.1" height="15.2" fill="#f0a060" />
<rect x="644.6" y="1373.5" width="14.1" height="15.2" fill="#f5b27a" />
<rect x="657.8" y="1373.5" width="13.4" height="15.2" fill="#f0a060" />
<rect x="631.4" y="1387.8" width="14.1" height="15.2" fill="#fbcfa8" />
<rect x="644.6" y="1387.8" width="14.1" height="15.2" fill="#fcdcc0" />
<rect x="657.8" y="1387.8" width="13.4" height="15.2" fill="#f7bb8b" />
<rect x="631.4" y="1402.0" width="14.1" height="15.2" fill="#f2a868" />
<rect x="644.6" y="1402.0" width="14.1" height="15.2" fill="#fbcfa8" />
<rect x="657.8" y="1402.0" width="13.4" height="15.2" fill="#f0a060" />
<rect x="631.4" y="1416.3" width="14.1" height="14.5" fill="#fbcfa8" />
<rect x="644.6" y="1416.3" width="14.1" height="14.5" fill="#fefaf5" />
<rect x="657.8" y="1416.3" width="13.4" height="14.5" fill="#f9c8a0" />
<line x1="631.4" y1="1387.8" x2="671.1" y2="1387.8" stroke="#111" stroke-width="2" />
<line x1="631.4" y1="1402.0" x2="671.1" y2="1402.0" stroke="#111" stroke-width="2" />
<line x1="631.4" y1="1416.3" x2="671.1" y2="1416.3" stroke="#111" stroke-width="2" />
<rect x="631.4" y="1373.5" width="39.7" height="57.1" fill="none" stroke="#333" stroke-width="1.6" rx="1.5"/>
<rect x="173.8" y="1434.6" width="14.1" height="15.1" fill="#000" />
<rect x="187.0" y="1434.6" width="14.1" height="15.1" fill="#080808" />
<rect x="200.2" y="1434.6" width="13.4" height="15.1" fill="#000" />
<rect x="173.8" y="1448.8" width="14.1" height="14.4" fill="#fde68a" />
<rect x="187.0" y="1448.8" width="14.1" height="14.4" fill="#fdf0c0" />
<rect x="200.2" y="1448.8" width="13.4" height="14.4" fill="#ffffff" />
<line x1="173.8" y1="1448.8" x2="213.5" y2="1448.8" stroke="#111" stroke-width="2" />
<rect x="173.8" y="1434.6" width="39.7" height="28.4" fill="none" stroke="#333" stroke-width="1.6" rx="1.5"/>
<rect x="217.6" y="1434.6" width="14.1" height="15.1" fill="#aaaaaa" />
<rect x="230.8" y="1434.6" width="14.1" height="15.1" fill="#888888" />
<rect x="244.0" y="1434.6" width="14.1" height="15.1" fill="#888888" />
<rect x="257.3" y="1434.6" width="14.1" height="15.1" fill="#666666" />
<rect x="270.5" y="1434.6" width="14.1" height="15.1" fill="#777777" />
<rect x="283.7" y="1434.6" width="13.4" height="15.1" fill="#555555" />
<rect x="217.6" y="1448.8" width="14.1" height="14.4" fill="#fdeeb0" />
<rect x="230.8" y="1448.8" width="14.1" height="14.4" fill="#aaaaaa" />
<rect x="244.0" y="1448.8" width="14.1" height="14.4" fill="#fbd84a" />
<rect x="257.3" y="1448.8" width="14.1" height="14.4" fill="#fef8e0" />
<rect x="270.5" y="1448.8" width="14.1" height="14.4" fill="#fef8e0" />
<rect x="283.7" y="1448.8" width="13.4" height="14.4" fill="#444444" />
<line x1="217.6" y1="1448.8" x2="296.9" y2="1448.8" stroke="#111" stroke-width="2" />
<rect x="217.6" y="1434.6" width="79.3" height="28.4" fill="none" stroke="#333" stroke-width="1.6" rx="1.5"/>
<rect x="301.0" y="1434.6" width="14.1" height="15.1" fill="#fde68a" />
<rect x="314.2" y="1434.6" width="14.1" height="15.1" fill="#fdeeb0" />
<rect x="327.4" y="1434.6" width="14.1" height="15.1" fill="#fef4c8" />
<rect x="340.7" y="1434.6" width="14.1" height="15.1" fill="#eeeeee" />
<rect x="353.9" y="1434.6" width="14.1" height="15.1" fill="#fde68a" />
<rect x="367.1" y="1434.6" width="14.1" height="15.1" fill="#fdeea8" />
<rect x="380.3" y="1434.6" width="14.1" height="15.1" fill="#fdf0b8" />
<rect x="393.5" y="1434.6" width="14.1" height="15.1" fill="#fde68a" />
<rect x="406.8" y="1434.6" width="14.1" height="15.1" fill="#fde68a" />
<rect x="420.0" y="1434.6" width="14.1" height="15.1" fill="#fefcf0" />
<rect x="433.2" y="1434.6" width="14.1" height="15.1" fill="#fdf0b8" />
<rect x="446.4" y="1434.6" width="13.4" height="15.1" fill="#fef8e0" />
<rect x="301.0" y="1448.8" width="14.1" height="14.4" fill="#999999" />
<rect x="314.2" y="1448.8" width="14.1" height="14.4" fill="#f8f8f8" />
<rect x="327.4" y="1448.8" width="14.1" height="14.4" fill="#dddddd" />
<rect x="340.7" y="1448.8" width="14.1" height="14.4" fill="#fffbee" />
<rect x="353.9" y="1448.8" width="14.1" height="14.4" fill="#f8f8f8" />
<rect x="367.1" y="1448.8" width="14.1" height="14.4" fill="#fbdd5a" />
<rect x="380.3" y="1448.8" width="14.1" height="14.4" fill="#fbdd5a" />
<rect x="393.5" y="1448.8" width="14.1" height="14.4" fill="#fffdf5" />
<rect x="406.8" y="1448.8" width="14.1" height="14.4" fill="#fef8e0" />
<rect x="420.0" y="1448.8" width="14.1" height="14.4" fill="#fbdd5a" />
<rect x="433.2" y="1448.8" width="14.1" height="14.4" fill="#fef8e0" />
<rect x="446.4" y="1448.8" width="13.4" height="14.4" fill="#fbd800" />
<line x1="301.0" y1="1448.8" x2="459.6" y2="1448.8" stroke="#111" stroke-width="2" />
<rect x="301.0" y="1434.6" width="158.6" height="28.4" fill="none" stroke="#333" stroke-width="1.6" rx="1.5"/>
<rect x="464.4" y="1434.6" width="14.1" height="15.1" fill="#fef8e8" />
<rect x="477.6" y="1434.6" width="14.1" height="15.1" fill="#fef4d8" />
<rect x="490.8" y="1434.6" width="14.1" height="15.1" fill="#cccccc" />
<rect x="504.1" y="1434.6" width="14.1" height="15.1" fill="#e8e8e8" />
<rect x="517.3" y="1434.6" width="14.1" height="15.1" fill="#fefcf5" />
<rect x="530.5" y="1434.6" width="13.4" height="15.1" fill="#bbbbbb" />
<rect x="464.4" y="1448.8" width="14.1" height="14.4" fill="#181818" />
<rect x="477.6" y="1448.8" width="14.1" height="14.4" fill="#181818" />
<rect x="490.8" y="1448.8" width="14.1" height="14.4" fill="#181818" />
<rect x="504.1" y="1448.8" width="14.1" height="14.4" fill="#181818" />
<rect x="517.3" y="1448.8" width="14.1" height="14.4" fill="#181818" />
<rect x="530.5" y="1448.8" width="13.4" height="14.4" fill="#181818" />
<line x1="464.4" y1="1448.8" x2="543.7" y2="1448.8" stroke="#111" stroke-width="2" />
<rect x="464.4" y="1434.6" width="79.3" height="28.4" fill="none" stroke="#333" stroke-width="1.6" rx="1.5"/>
<rect x="547.6" y="1434.6" width="14.1" height="15.1" fill="#f8d020" />
<rect x="560.8" y="1434.6" width="14.1" height="15.1" fill="#f8d020" />
<rect x="574.0" y="1434.6" width="14.1" height="15.1" fill="#f8d000" />
<rect x="587.3" y="1434.6" width="14.1" height="15.1" fill="#f8d020" />
<rect x="600.5" y="1434.6" width="14.1" height="15.1" fill="#f8d000" />
<rect x="613.7" y="1434.6" width="13.4" height="15.1" fill="#f8d020" />
<rect x="547.6" y="1448.8" width="14.1" height="14.4" fill="#aaaaaa" />
<rect x="560.8" y="1448.8" width="14.1" height="14.4" fill="#fdf4d8" />
<rect x="574.0" y="1448.8" width="14.1" height="14.4" fill="#4a4a4a" />
<rect x="587.3" y="1448.8" width="14.1" height="14.4" fill="#888888" />
<rect x="600.5" y="1448.8" width="14.1" height="14.4" fill="#888888" />
<rect x="613.7" y="1448.8" width="13.4" height="14.4" fill="#fdf4d8" />
<line x1="547.6" y1="1448.8" x2="626.9" y2="1448.8" stroke="#111" stroke-width="2" />
<rect x="547.6" y="1434.6" width="79.3" height="28.4" fill="none" stroke="#333" stroke-width="1.6" rx="1.5"/>
<rect x="631.4" y="1434.6" width="14.1" height="15.1" fill="#f8d020" />
<rect x="644.6" y="1434.6" width="14.1" height="15.1" fill="#f8d010" />
<rect x="657.8" y="1434.6" width="13.4" height="15.1" fill="#f8d020" />
<rect x="631.4" y="1448.8" width="14.1" height="14.4" fill="#181818" />
<rect x="644.6" y="1448.8" width="14.1" height="14.4" fill="#101010" />
<rect x="657.8" y="1448.8" width="13.4" height="14.4" fill="#080808" />
<line x1="631.4" y1="1448.8" x2="671.1" y2="1448.8" stroke="#111" stroke-width="2" />
<rect x="631.4" y="1434.6" width="39.7" height="28.4" fill="none" stroke="#333" stroke-width="1.6" rx="1.5"/>
<rect x="173.8" y="1467.5" width="14.1" height="15.0" fill="#fef4f0" />
<rect x="187.0" y="1467.5" width="14.1" height="15.0" fill="#feeee8" />
<rect x="200.2" y="1467.5" width="13.4" height="15.0" fill="#a093d2" />
<rect x="173.8" y="1481.6" width="14.1" height="15.0" fill="#5040a9" />
<rect x="187.0" y="1481.6" width="14.1" height="15.0" fill="#2e2294" />
<rect x="200.2" y="1481.6" width="13.4" height="15.0" fill="#2e2294" />
<rect x="173.8" y="1495.7" width="14.1" height="15.0" fill="#0c0864" />
<rect x="187.0" y="1495.7" width="14.1" height="15.0" fill="#0e0758" />
<rect x="200.2" y="1495.7" width="13.4" height="15.0" fill="#0f074c" />
<rect x="173.8" y="1509.9" width="14.1" height="14.3" fill="#110640" />
<rect x="187.0" y="1509.9" width="14.1" height="14.3" fill="#12063a" />
<rect x="200.2" y="1509.9" width="13.4" height="14.3" fill="#12063a" />
<line x1="187.0" y1="1467.5" x2="187.0" y2="1524.0" stroke="#fff" stroke-width="1.2" stroke-opacity="0.8"/>
<line x1="200.2" y1="1467.5" x2="200.2" y2="1524.0" stroke="#fff" stroke-width="1.2" stroke-opacity="0.8"/>
<line x1="173.8" y1="1481.6" x2="213.5" y2="1481.6" stroke="#fff" stroke-width="1.2" stroke-opacity="0.8"/>
<line x1="173.8" y1="1495.7" x2="213.5" y2="1495.7" stroke="#fff" stroke-width="1.2" stroke-opacity="0.8"/>
<line x1="173.8" y1="1509.9" x2="213.5" y2="1509.9" stroke="#fff" stroke-width="1.2" stroke-opacity="0.8"/>
<rect x="173.8" y="1467.5" width="39.7" height="56.5" fill="none" stroke="#333" stroke-width="1.6" rx="1.5"/>
<rect x="217.6" y="1467.5" width="14.1" height="15.0" fill="#8272c4" />
<rect x="230.8" y="1467.5" width="14.1" height="15.0" fill="#aa9ed6" />
<rect x="244.0" y="1467.5" width="14.1" height="15.0" fill="#9688cd" />
<rect x="257.3" y="1467.5" width="14.1" height="15.0" fill="#b4a8db" />
<rect x="270.5" y="1467.5" width="14.1" height="15.0" fill="#4234a1" />
<rect x="283.7" y="1467.5" width="13.4" height="15.0" fill="#6452b6" />
<rect x="217.6" y="1481.6" width="14.1" height="15.0" fill="#5040a9" />
<rect x="230.8" y="1481.6" width="14.1" height="15.0" fill="#4234a1" />
<rect x="244.0" y="1481.6" width="14.1" height="15.0" fill="#7868bf" />
<rect x="257.3" y="1481.6" width="14.1" height="15.0" fill="#6452b6" />
<rect x="270.5" y="1481.6" width="14.1" height="15.0" fill="#4234a1" />
<rect x="283.7" y="1481.6" width="13.4" height="15.0" fill="#5040a9" />
<rect x="217.6" y="1495.7" width="14.1" height="15.0" fill="#160f78" />
<rect x="230.8" y="1495.7" width="14.1" height="15.0" fill="#1c1384" />
<rect x="244.0" y="1495.7" width="14.1" height="15.0" fill="#100b6c" />
<rect x="257.3" y="1495.7" width="14.1" height="15.0" fill="#120c70" />
<rect x="270.5" y="1495.7" width="14.1" height="15.0" fill="#0c0864" />
<rect x="283.7" y="1495.7" width="13.4" height="15.0" fill="#100b6c" />
<rect x="217.6" y="1509.9" width="14.1" height="14.3" fill="#100646" />
<rect x="230.8" y="1509.9" width="14.1" height="14.3" fill="#0f074c" />
<rect x="244.0" y="1509.9" width="14.1" height="14.3" fill="#0e0752" />
<rect x="257.3" y="1509.9" width="14.1" height="14.3" fill="#0e0758" />
<rect x="270.5" y="1509.9" width="14.1" height="14.3" fill="#100646" />
<rect x="283.7" y="1509.9" width="13.4" height="14.3" fill="#100646" />
<line x1="230.8" y1="1467.5" x2="230.8" y2="1524.0" stroke="#fff" stroke-width="1.2" stroke-opacity="0.8"/>
<line x1="244.0" y1="1467.5" x2="244.0" y2="1524.0" stroke="#fff" stroke-width="1.2" stroke-opacity="0.8"/>
<line x1="257.3" y1="1467.5" x2="257.3" y2="1524.0" stroke="#fff" stroke-width="1.2" stroke-opacity="0.8"/>
<line x1="270.5" y1="1467.5" x2="270.5" y2="1524.0" stroke="#fff" stroke-width="1.2" stroke-opacity="0.8"/>
<line x1="283.7" y1="1467.5" x2="283.7" y2="1524.0" stroke="#fff" stroke-width="1.2" stroke-opacity="0.8"/>
<line x1="217.6" y1="1481.6" x2="296.9" y2="1481.6" stroke="#fff" stroke-width="1.2" stroke-opacity="0.8"/>
<line x1="217.6" y1="1495.7" x2="296.9" y2="1495.7" stroke="#fff" stroke-width="1.2" stroke-opacity="0.8"/>
<line x1="217.6" y1="1509.9" x2="296.9" y2="1509.9" stroke="#fff" stroke-width="1.2" stroke-opacity="0.8"/>
<rect x="217.6" y="1467.5" width="79.3" height="56.5" fill="none" stroke="#333" stroke-width="1.6" rx="1.5"/>
<rect x="301.0" y="1467.5" width="14.1" height="15.0" fill="#100646" />
<rect x="314.2" y="1467.5" width="14.1" height="15.0" fill="#0e0758" />
<rect x="327.4" y="1467.5" width="14.1" height="15.0" fill="#0e0758" />
<rect x="340.7" y="1467.5" width="14.1" height="15.0" fill="#100b6c" />
<rect x="353.9" y="1467.5" width="14.1" height="15.0" fill="#100646" />
<rect x="367.1" y="1467.5" width="14.1" height="15.0" fill="#0e0752" />
<rect x="380.3" y="1467.5" width="14.1" height="15.0" fill="#0d085e" />
<rect x="393.5" y="1467.5" width="14.1" height="15.0" fill="#0f074c" />
<rect x="406.8" y="1467.5" width="14.1" height="15.0" fill="#0c0864" />
<rect x="420.0" y="1467.5" width="14.1" height="15.0" fill="#120c70" />
<rect x="433.2" y="1467.5" width="14.1" height="15.0" fill="#0e0752" />
<rect x="446.4" y="1467.5" width="13.4" height="15.0" fill="#0d085e" />
<rect x="301.0" y="1481.6" width="14.1" height="15.0" fill="#2e2294" />
<rect x="314.2" y="1481.6" width="14.1" height="15.0" fill="#3b2e9d" />
<rect x="327.4" y="1481.6" width="14.1" height="15.0" fill="#2e2294" />
<rect x="340.7" y="1481.6" width="14.1" height="15.0" fill="#342899" />
<rect x="353.9" y="1481.6" width="14.1" height="15.0" fill="#493aa5" />
<rect x="367.1" y="1481.6" width="14.1" height="15.0" fill="#5040a9" />
<rect x="380.3" y="1481.6" width="14.1" height="15.0" fill="#5646ae" />
<rect x="393.5" y="1481.6" width="14.1" height="15.0" fill="#5040a9" />
<rect x="406.8" y="1481.6" width="14.1" height="15.0" fill="#4234a1" />
<rect x="420.0" y="1481.6" width="14.1" height="15.0" fill="#493aa5" />
<rect x="433.2" y="1481.6" width="14.1" height="15.0" fill="#3b2e9d" />
<rect x="446.4" y="1481.6" width="13.4" height="15.0" fill="#342899" />
<rect x="301.0" y="1495.7" width="14.1" height="15.0" fill="#0e0758" />
<rect x="314.2" y="1495.7" width="14.1" height="15.0" fill="#100b6c" />
<rect x="327.4" y="1495.7" width="14.1" height="15.0" fill="#0c0864" />
<rect x="340.7" y="1495.7" width="14.1" height="15.0" fill="#120c70" />
<rect x="353.9" y="1495.7" width="14.1" height="15.0" fill="#0e0752" />
<rect x="367.1" y="1495.7" width="14.1" height="15.0" fill="#0d085e" />
<rect x="380.3" y="1495.7" width="14.1" height="15.0" fill="#0c0864" />
<rect x="393.5" y="1495.7" width="14.1" height="15.0" fill="#0d085e" />
<rect x="406.8" y="1495.7" width="14.1" height="15.0" fill="#0e0968" />
<rect x="420.0" y="1495.7" width="14.1" height="15.0" fill="#100b6c" />
<rect x="433.2" y="1495.7" width="14.1" height="15.0" fill="#0e0758" />
<rect x="446.4" y="1495.7" width="13.4" height="15.0" fill="#0c0864" />
<rect x="301.0" y="1509.9" width="14.1" height="14.3" fill="#160f78" />
<rect x="314.2" y="1509.9" width="14.1" height="14.3" fill="#1a1280" />
<rect x="327.4" y="1509.9" width="14.1" height="14.3" fill="#0e0758" />
<rect x="340.7" y="1509.9" width="14.1" height="14.3" fill="#0e0752" />
<rect x="353.9" y="1509.9" width="14.1" height="14.3" fill="#1c1384" />
<rect x="367.1" y="1509.9" width="14.1" height="14.3" fill="#1a1280" />
<rect x="380.3" y="1509.9" width="14.1" height="14.3" fill="#160f78" />
<rect x="393.5" y="1509.9" width="14.1" height="14.3" fill="#1e1588" />
<rect x="406.8" y="1509.9" width="14.1" height="14.3" fill="#100b6c" />
<rect x="420.0" y="1509.9" width="14.1" height="14.3" fill="#0c0864" />
<rect x="433.2" y="1509.9" width="14.1" height="14.3" fill="#0d085e" />
<rect x="446.4" y="1509.9" width="13.4" height="14.3" fill="#0e0758" />
<line x1="314.2" y1="1467.5" x2="314.2" y2="1524.0" stroke="#fff" stroke-width="1.2" stroke-opacity="0.8"/>
<line x1="327.4" y1="1467.5" x2="327.4" y2="1524.0" stroke="#fff" stroke-width="1.2" stroke-opacity="0.8"/>
<line x1="340.7" y1="1467.5" x2="340.7" y2="1524.0" stroke="#fff" stroke-width="1.2" stroke-opacity="0.8"/>
<line x1="353.9" y1="1467.5" x2="353.9" y2="1524.0" stroke="#fff" stroke-width="1.2" stroke-opacity="0.8"/>
<line x1="367.1" y1="1467.5" x2="367.1" y2="1524.0" stroke="#fff" stroke-width="1.2" stroke-opacity="0.8"/>
<line x1="380.3" y1="1467.5" x2="380.3" y2="1524.0" stroke="#fff" stroke-width="1.2" stroke-opacity="0.8"/>
<line x1="393.5" y1="1467.5" x2="393.5" y2="1524.0" stroke="#fff" stroke-width="1.2" stroke-opacity="0.8"/>
<line x1="406.8" y1="1467.5" x2="406.8" y2="1524.0" stroke="#fff" stroke-width="1.2" stroke-opacity="0.8"/>
<line x1="420.0" y1="1467.5" x2="420.0" y2="1524.0" stroke="#fff" stroke-width="1.2" stroke-opacity="0.8"/>
<line x1="433.2" y1="1467.5" x2="433.2" y2="1524.0" stroke="#fff" stroke-width="1.2" stroke-opacity="0.8"/>
<line x1="446.4" y1="1467.5" x2="446.4" y2="1524.0" stroke="#fff" stroke-width="1.2" stroke-opacity="0.8"/>
<line x1="301.0" y1="1481.6" x2="459.6" y2="1481.6" stroke="#fff" stroke-width="1.2" stroke-opacity="0.8"/>
<line x1="301.0" y1="1495.7" x2="459.6" y2="1495.7" stroke="#fff" stroke-width="1.2" stroke-opacity="0.8"/>
<line x1="301.0" y1="1509.9" x2="459.6" y2="1509.9" stroke="#fff" stroke-width="1.2" stroke-opacity="0.8"/>
<rect x="301.0" y="1467.5" width="158.6" height="56.5" fill="none" stroke="#333" stroke-width="1.6" rx="1.5"/>
<rect x="464.4" y="1467.5" width="14.1" height="15.0" fill="#160f78" />
<rect x="477.6" y="1467.5" width="14.1" height="15.0" fill="#0e0758" />
<rect x="490.8" y="1467.5" width="14.1" height="15.0" fill="#1a1280" />
<rect x="504.1" y="1467.5" width="14.1" height="15.0" fill="#160f78" />
<rect x="517.3" y="1467.5" width="14.1" height="15.0" fill="#0c0864" />
<rect x="530.5" y="1467.5" width="13.4" height="15.0" fill="#160f78" />
<rect x="464.4" y="1481.6" width="14.1" height="15.0" fill="#6452b6" />
<rect x="477.6" y="1481.6" width="14.1" height="15.0" fill="#5040a9" />
<rect x="490.8" y="1481.6" width="14.1" height="15.0" fill="#5040a9" />
<rect x="504.1" y="1481.6" width="14.1" height="15.0" fill="#3b2e9d" />
<rect x="517.3" y="1481.6" width="14.1" height="15.0" fill="#3b2e9d" />
<rect x="530.5" y="1481.6" width="13.4" height="15.0" fill="#3b2e9d" />
<rect x="464.4" y="1495.7" width="14.1" height="15.0" fill="#0f074c" />
<rect x="477.6" y="1495.7" width="14.1" height="15.0" fill="#0e0758" />
<rect x="490.8" y="1495.7" width="14.1" height="15.0" fill="#0c0864" />
<rect x="504.1" y="1495.7" width="14.1" height="15.0" fill="#0e0758" />
<rect x="517.3" y="1495.7" width="14.1" height="15.0" fill="#0c0864" />
<rect x="530.5" y="1495.7" width="13.4" height="15.0" fill="#140e74" />
<rect x="464.4" y="1509.9" width="14.1" height="14.3" fill="#160f78" />
<rect x="477.6" y="1509.9" width="14.1" height="14.3" fill="#0e0758" />
<rect x="490.8" y="1509.9" width="14.1" height="14.3" fill="#0e0758" />
<rect x="504.1" y="1509.9" width="14.1" height="14.3" fill="#100646" />
<rect x="517.3" y="1509.9" width="14.1" height="14.3" fill="#0e0758" />
<rect x="530.5" y="1509.9" width="13.4" height="14.3" fill="#100646" />
<line x1="477.6" y1="1467.5" x2="477.6" y2="1524.0" stroke="#fff" stroke-width="1.2" stroke-opacity="0.8"/>
<line x1="490.8" y1="1467.5" x2="490.8" y2="1524.0" stroke="#fff" stroke-width="1.2" stroke-opacity="0.8"/>
<line x1="504.1" y1="1467.5" x2="504.1" y2="1524.0" stroke="#fff" stroke-width="1.2" stroke-opacity="0.8"/>
<line x1="517.3" y1="1467.5" x2="517.3" y2="1524.0" stroke="#fff" stroke-width="1.2" stroke-opacity="0.8"/>
<line x1="530.5" y1="1467.5" x2="530.5" y2="1524.0" stroke="#fff" stroke-width="1.2" stroke-opacity="0.8"/>
<line x1="464.4" y1="1481.6" x2="543.7" y2="1481.6" stroke="#fff" stroke-width="1.2" stroke-opacity="0.8"/>
<line x1="464.4" y1="1495.7" x2="543.7" y2="1495.7" stroke="#fff" stroke-width="1.2" stroke-opacity="0.8"/>
<line x1="464.4" y1="1509.9" x2="543.7" y2="1509.9" stroke="#fff" stroke-width="1.2" stroke-opacity="0.8"/>
<rect x="464.4" y="1467.5" width="79.3" height="56.5" fill="none" stroke="#333" stroke-width="1.6" rx="1.5"/>
<rect x="547.6" y="1467.5" width="14.1" height="15.0" fill="#100646" />
<rect x="560.8" y="1467.5" width="14.1" height="15.0" fill="#100646" />
<rect x="574.0" y="1467.5" width="14.1" height="15.0" fill="#1a1280" />
<rect x="587.3" y="1467.5" width="14.1" height="15.0" fill="#20168c" />
<rect x="600.5" y="1467.5" width="14.1" height="15.0" fill="#12063a" />
<rect x="613.7" y="1467.5" width="13.4" height="15.0" fill="#100646" />
<rect x="547.6" y="1481.6" width="14.1" height="15.0" fill="#5040a9" />
<rect x="560.8" y="1481.6" width="14.1" height="15.0" fill="#4234a1" />
<rect x="574.0" y="1481.6" width="14.1" height="15.0" fill="#3b2e9d" />
<rect x="587.3" y="1481.6" width="14.1" height="15.0" fill="#4234a1" />
<rect x="600.5" y="1481.6" width="14.1" height="15.0" fill="#2e2294" />
<rect x="613.7" y="1481.6" width="13.4" height="15.0" fill="#4234a1" />
<rect x="547.6" y="1495.7" width="14.1" height="15.0" fill="#4234a1" />
<rect x="560.8" y="1495.7" width="14.1" height="15.0" fill="#6452b6" />
<rect x="574.0" y="1495.7" width="14.1" height="15.0" fill="#3b2e9d" />
<rect x="587.3" y="1495.7" width="14.1" height="15.0" fill="#6452b6" />
<rect x="600.5" y="1495.7" width="14.1" height="15.0" fill="#5040a9" />
<rect x="613.7" y="1495.7" width="13.4" height="15.0" fill="#6452b6" />
<rect x="547.6" y="1509.9" width="14.1" height="14.3" fill="#0c0864" />
<rect x="560.8" y="1509.9" width="14.1" height="14.3" fill="#160f78" />
<rect x="574.0" y="1509.9" width="14.1" height="14.3" fill="#0e0758" />
<rect x="587.3" y="1509.9" width="14.1" height="14.3" fill="#0c0864" />
<rect x="600.5" y="1509.9" width="14.1" height="14.3" fill="#100b6c" />
<rect x="613.7" y="1509.9" width="13.4" height="14.3" fill="#100b6c" />
<line x1="560.8" y1="1467.5" x2="560.8" y2="1524.0" stroke="#fff" stroke-width="1.2" stroke-opacity="0.8"/>
<line x1="574.0" y1="1467.5" x2="574.0" y2="1524.0" stroke="#fff" stroke-width="1.2" stroke-opacity="0.8"/>
<line x1="587.3" y1="1467.5" x2="587.3" y2="1524.0" stroke="#fff" stroke-width="1.2" stroke-opacity="0.8"/>
<line x1="600.5" y1="1467.5" x2="600.5" y2="1524.0" stroke="#fff" stroke-width="1.2" stroke-opacity="0.8"/>
<line x1="613.7" y1="1467.5" x2="613.7" y2="1524.0" stroke="#fff" stroke-width="1.2" stroke-opacity="0.8"/>
<line x1="547.6" y1="1481.6" x2="626.9" y2="1481.6" stroke="#fff" stroke-width="1.2" stroke-opacity="0.8"/>
<line x1="547.6" y1="1495.7" x2="626.9" y2="1495.7" stroke="#fff" stroke-width="1.2" stroke-opacity="0.8"/>
<line x1="547.6" y1="1509.9" x2="626.9" y2="1509.9" stroke="#fff" stroke-width="1.2" stroke-opacity="0.8"/>
<rect x="547.6" y="1467.5" width="79.3" height="56.5" fill="none" stroke="#333" stroke-width="1.6" rx="1.5"/>
<rect x="631.4" y="1467.5" width="14.1" height="15.0" fill="#0c0864" />
<rect x="644.6" y="1467.5" width="14.1" height="15.0" fill="#160f78" />
<rect x="657.8" y="1467.5" width="13.4" height="15.0" fill="#0c0864" />
<rect x="631.4" y="1481.6" width="14.1" height="15.0" fill="#5040a9" />
<rect x="644.6" y="1481.6" width="14.1" height="15.0" fill="#5040a9" />
<rect x="657.8" y="1481.6" width="13.4" height="15.0" fill="#5646ae" />
<rect x="631.4" y="1495.7" width="14.1" height="15.0" fill="#3b2e9d" />
<rect x="644.6" y="1495.7" width="14.1" height="15.0" fill="#5040a9" />
<rect x="657.8" y="1495.7" width="13.4" height="15.0" fill="#493aa5" />
<rect x="631.4" y="1509.9" width="14.1" height="14.3" fill="#160f78" />
<rect x="644.6" y="1509.9" width="14.1" height="14.3" fill="#0c0864" />
<rect x="657.8" y="1509.9" width="13.4" height="14.3" fill="#120c70" />
<line x1="644.6" y1="1467.5" x2="644.6" y2="1524.0" stroke="#fff" stroke-width="1.2" stroke-opacity="0.8"/>
<line x1="657.8" y1="1467.5" x2="657.8" y2="1524.0" stroke="#fff" stroke-width="1.2" stroke-opacity="0.8"/>
<line x1="631.4" y1="1481.6" x2="671.1" y2="1481.6" stroke="#fff" stroke-width="1.2" stroke-opacity="0.8"/>
<line x1="631.4" y1="1495.7" x2="671.1" y2="1495.7" stroke="#fff" stroke-width="1.2" stroke-opacity="0.8"/>
<line x1="631.4" y1="1509.9" x2="671.1" y2="1509.9" stroke="#fff" stroke-width="1.2" stroke-opacity="0.8"/>
<rect x="631.4" y="1467.5" width="39.7" height="56.5" fill="none" stroke="#333" stroke-width="1.6" rx="1.5"/>
<rect x="173.8" y="1533.0" width="14.1" height="15.1" fill="#eeebf7" />
<rect x="187.0" y="1533.0" width="14.1" height="15.1" fill="#d3cbe9" />
<rect x="200.2" y="1533.0" width="13.4" height="15.1" fill="#8272c4" />
<rect x="173.8" y="1547.2" width="14.1" height="15.1" fill="#fef4f0" />
<rect x="187.0" y="1547.2" width="14.1" height="15.1" fill="#e9e5f4" />
<rect x="200.2" y="1547.2" width="13.4" height="15.1" fill="#aa9ed6" />
<rect x="173.8" y="1561.3" width="14.1" height="15.1" fill="#ffffff" />
<rect x="187.0" y="1561.3" width="14.1" height="15.1" fill="#d8d2ec" />
<rect x="200.2" y="1561.3" width="13.4" height="15.1" fill="#8272c4" />
<rect x="173.8" y="1575.5" width="14.1" height="15.1" fill="#6452b6" />
<rect x="187.0" y="1575.5" width="14.1" height="15.1" fill="#5646ae" />
<rect x="200.2" y="1575.5" width="13.4" height="15.1" fill="#2e2294" />
<rect x="173.8" y="1589.7" width="14.1" height="15.1" fill="#5646ae" />
<rect x="187.0" y="1589.7" width="14.1" height="15.1" fill="#493aa5" />
<rect x="200.2" y="1589.7" width="13.4" height="15.1" fill="#2e2294" />
<rect x="173.8" y="1603.8" width="14.1" height="15.1" fill="#20168c" />
<rect x="187.0" y="1603.8" width="14.1" height="15.1" fill="#1c1384" />
<rect x="200.2" y="1603.8" width="13.4" height="15.1" fill="#100b6c" />
<rect x="173.8" y="1618.0" width="14.1" height="15.1" fill="#d8d2ec" />
<rect x="187.0" y="1618.0" width="14.1" height="15.1" fill="#cdc4e7" />
<rect x="200.2" y="1618.0" width="13.4" height="15.1" fill="#6452b6" />
<rect x="173.8" y="1632.2" width="14.1" height="15.1" fill="#5040a9" />
<rect x="187.0" y="1632.2" width="14.1" height="15.1" fill="#3b2e9d" />
<rect x="200.2" y="1632.2" width="13.4" height="15.1" fill="#20168c" />
<rect x="173.8" y="1646.4" width="14.1" height="15.1" fill="#fee9e1" />
<rect x="187.0" y="1646.4" width="14.1" height="15.1" fill="#d8d2ec" />
<rect x="200.2" y="1646.4" width="13.4" height="15.1" fill="#a093d2" />
<rect x="173.8" y="1660.5" width="14.1" height="15.1" fill="#fa886c" />
<rect x="187.0" y="1660.5" width="14.1" height="15.1" fill="#fb987e" />
<rect x="200.2" y="1660.5" width="13.4" height="15.1" fill="#ffffff" />
<rect x="173.8" y="1674.7" width="14.1" height="15.1" fill="#f7664c" />
<rect x="187.0" y="1674.7" width="14.1" height="15.1" fill="#fa785a" />
<rect x="200.2" y="1674.7" width="13.4" height="15.1" fill="#fee3d9" />
<rect x="173.8" y="1688.9" width="14.1" height="14.4" fill="#fa785a" />
<rect x="187.0" y="1688.9" width="14.1" height="14.4" fill="#fa785a" />
<rect x="200.2" y="1688.9" width="13.4" height="14.4" fill="#fcc8b4" />
<line x1="187.0" y1="1533.0" x2="187.0" y2="1703.0" stroke="#fff" stroke-width="1.2" stroke-opacity="0.8"/>
<line x1="200.2" y1="1533.0" x2="200.2" y2="1703.0" stroke="#fff" stroke-width="1.2" stroke-opacity="0.8"/>
<line x1="173.8" y1="1547.2" x2="213.5" y2="1547.2" stroke="#fff" stroke-width="1.2" stroke-opacity="0.8"/>
<line x1="173.8" y1="1561.3" x2="213.5" y2="1561.3" stroke="#fff" stroke-width="1.2" stroke-opacity="0.8"/>
<line x1="173.8" y1="1575.5" x2="213.5" y2="1575.5" stroke="#fff" stroke-width="1.2" stroke-opacity="0.8"/>
<line x1="173.8" y1="1589.7" x2="213.5" y2="1589.7" stroke="#fff" stroke-width="1.2" stroke-opacity="0.8"/>
<line x1="173.8" y1="1603.8" x2="213.5" y2="1603.8" stroke="#fff" stroke-width="1.2" stroke-opacity="0.8"/>
<line x1="173.8" y1="1618.0" x2="213.5" y2="1618.0" stroke="#fff" stroke-width="1.2" stroke-opacity="0.8"/>
<line x1="173.8" y1="1632.2" x2="213.5" y2="1632.2" stroke="#fff" stroke-width="1.2" stroke-opacity="0.8"/>
<line x1="173.8" y1="1646.4" x2="213.5" y2="1646.4" stroke="#fff" stroke-width="1.2" stroke-opacity="0.8"/>
<line x1="173.8" y1="1660.5" x2="213.5" y2="1660.5" stroke="#fff" stroke-width="1.2" stroke-opacity="0.8"/>
<line x1="173.8" y1="1674.7" x2="213.5" y2="1674.7" stroke="#fff" stroke-width="1.2" stroke-opacity="0.8"/>
<line x1="173.8" y1="1688.9" x2="213.5" y2="1688.9" stroke="#fff" stroke-width="1.2" stroke-opacity="0.8"/>
<rect x="173.8" y="1533.0" width="39.7" height="170.0" fill="none" stroke="#333" stroke-width="1.6" rx="1.5"/>
<rect x="217.6" y="1533.0" width="14.1" height="15.1" fill="#e4def2" />
<rect x="230.8" y="1533.0" width="14.1" height="15.1" fill="#f4f2fa" />
<rect x="244.0" y="1533.0" width="14.1" height="15.1" fill="#c8bee4" />
<rect x="257.3" y="1533.0" width="14.1" height="15.1" fill="#d8d2ec" />
<rect x="270.5" y="1533.0" width="14.1" height="15.1" fill="#b4a8db" />
<rect x="283.7" y="1533.0" width="13.4" height="15.1" fill="#d3cbe9" />
<rect x="217.6" y="1547.2" width="14.1" height="15.1" fill="#fdded2" />
<rect x="230.8" y="1547.2" width="14.1" height="15.1" fill="#fdd3c3" />
<rect x="244.0" y="1547.2" width="14.1" height="15.1" fill="#fdd9cb" />
<rect x="257.3" y="1547.2" width="14.1" height="15.1" fill="#fdd3c3" />
<rect x="270.5" y="1547.2" width="14.1" height="15.1" fill="#d8d2ec" />
<rect x="283.7" y="1547.2" width="13.4" height="15.1" fill="#e9e5f4" />
<rect x="217.6" y="1561.3" width="14.1" height="15.1" fill="#fdded2" />
<rect x="230.8" y="1561.3" width="14.1" height="15.1" fill="#fccebc" />
<rect x="244.0" y="1561.3" width="14.1" height="15.1" fill="#fdd9cb" />
<rect x="257.3" y="1561.3" width="14.1" height="15.1" fill="#fdd3c3" />
<rect x="270.5" y="1561.3" width="14.1" height="15.1" fill="#d8d2ec" />
<rect x="283.7" y="1561.3" width="13.4" height="15.1" fill="#f4f2fa" />
<rect x="217.6" y="1575.5" width="14.1" height="15.1" fill="#c8bee4" />
<rect x="230.8" y="1575.5" width="14.1" height="15.1" fill="#d8d2ec" />
<rect x="244.0" y="1575.5" width="14.1" height="15.1" fill="#c8bee4" />
<rect x="257.3" y="1575.5" width="14.1" height="15.1" fill="#cdc4e7" />
<rect x="270.5" y="1575.5" width="14.1" height="15.1" fill="#9688cd" />
<rect x="283.7" y="1575.5" width="13.4" height="15.1" fill="#aa9ed6" />
<rect x="217.6" y="1589.7" width="14.1" height="15.1" fill="#c8bee4" />
<rect x="230.8" y="1589.7" width="14.1" height="15.1" fill="#b4a8db" />
<rect x="244.0" y="1589.7" width="14.1" height="15.1" fill="#d8d2ec" />
<rect x="257.3" y="1589.7" width="14.1" height="15.1" fill="#c8bee4" />
<rect x="270.5" y="1589.7" width="14.1" height="15.1" fill="#9688cd" />
<rect x="283.7" y="1589.7" width="13.4" height="15.1" fill="#a093d2" />
<rect x="217.6" y="1603.8" width="14.1" height="15.1" fill="#a093d2" />
<rect x="230.8" y="1603.8" width="14.1" height="15.1" fill="#9688cd" />
<rect x="244.0" y="1603.8" width="14.1" height="15.1" fill="#8272c4" />
<rect x="257.3" y="1603.8" width="14.1" height="15.1" fill="#7868bf" />
<rect x="270.5" y="1603.8" width="14.1" height="15.1" fill="#6452b6" />
<rect x="283.7" y="1603.8" width="13.4" height="15.1" fill="#6e5dbb" />
<rect x="217.6" y="1618.0" width="14.1" height="15.1" fill="#9688cd" />
<rect x="230.8" y="1618.0" width="14.1" height="15.1" fill="#9688cd" />
<rect x="244.0" y="1618.0" width="14.1" height="15.1" fill="#8272c4" />
<rect x="257.3" y="1618.0" width="14.1" height="15.1" fill="#8272c4" />
<rect x="270.5" y="1618.0" width="14.1" height="15.1" fill="#6452b6" />
<rect x="283.7" y="1618.0" width="13.4" height="15.1" fill="#6e5dbb" />
<rect x="217.6" y="1632.2" width="14.1" height="15.1" fill="#fef4f0" />
<rect x="230.8" y="1632.2" width="14.1" height="15.1" fill="#fdd3c3" />
<rect x="244.0" y="1632.2" width="14.1" height="15.1" fill="#fdd9cb" />
<rect x="257.3" y="1632.2" width="14.1" height="15.1" fill="#fdd3c3" />
<rect x="270.5" y="1632.2" width="14.1" height="15.1" fill="#eeebf7" />
<rect x="283.7" y="1632.2" width="13.4" height="15.1" fill="#fee3d9" />
<rect x="217.6" y="1646.4" width="14.1" height="15.1" fill="#ffffff" />
<rect x="230.8" y="1646.4" width="14.1" height="15.1" fill="#fdded2" />
<rect x="244.0" y="1646.4" width="14.1" height="15.1" fill="#e4def2" />
<rect x="257.3" y="1646.4" width="14.1" height="15.1" fill="#f4f2fa" />
<rect x="270.5" y="1646.4" width="14.1" height="15.1" fill="#c8bee4" />
<rect x="283.7" y="1646.4" width="13.4" height="15.1" fill="#e4def2" />
<rect x="217.6" y="1660.5" width="14.1" height="15.1" fill="#fef4f0" />
<rect x="230.8" y="1660.5" width="14.1" height="15.1" fill="#fcb8a2" />
<rect x="244.0" y="1660.5" width="14.1" height="15.1" fill="#fcc8b4" />
<rect x="257.3" y="1660.5" width="14.1" height="15.1" fill="#fbb099" />
<rect x="270.5" y="1660.5" width="14.1" height="15.1" fill="#ded8ef" />
<rect x="283.7" y="1660.5" width="13.4" height="15.1" fill="#ffffff" />
<rect x="217.6" y="1674.7" width="14.1" height="15.1" fill="#fba890" />
<rect x="230.8" y="1674.7" width="14.1" height="15.1" fill="#fb9075" />
<rect x="244.0" y="1674.7" width="14.1" height="15.1" fill="#fa886c" />
<rect x="257.3" y="1674.7" width="14.1" height="15.1" fill="#fa785a" />
<rect x="270.5" y="1674.7" width="14.1" height="15.1" fill="#fee3d9" />
<rect x="283.7" y="1674.7" width="13.4" height="15.1" fill="#fcc8b4" />
<rect x="217.6" y="1688.9" width="14.1" height="14.4" fill="#fcc8b4" />
<rect x="230.8" y="1688.9" width="14.1" height="14.4" fill="#fb987e" />
<rect x="244.0" y="1688.9" width="14.1" height="14.4" fill="#fb987e" />
<rect x="257.3" y="1688.9" width="14.1" height="14.4" fill="#fa886c" />
<rect x="270.5" y="1688.9" width="14.1" height="14.4" fill="#faf8fc" />
<rect x="283.7" y="1688.9" width="13.4" height="14.4" fill="#fcc8b4" />
<line x1="230.8" y1="1533.0" x2="230.8" y2="1703.0" stroke="#fff" stroke-width="1.2" stroke-opacity="0.8"/>
<line x1="244.0" y1="1533.0" x2="244.0" y2="1703.0" stroke="#fff" stroke-width="1.2" stroke-opacity="0.8"/>
<line x1="257.3" y1="1533.0" x2="257.3" y2="1703.0" stroke="#fff" stroke-width="1.2" stroke-opacity="0.8"/>
<line x1="270.5" y1="1533.0" x2="270.5" y2="1703.0" stroke="#fff" stroke-width="1.2" stroke-opacity="0.8"/>
<line x1="283.7" y1="1533.0" x2="283.7" y2="1703.0" stroke="#fff" stroke-width="1.2" stroke-opacity="0.8"/>
<line x1="217.6" y1="1547.2" x2="296.9" y2="1547.2" stroke="#fff" stroke-width="1.2" stroke-opacity="0.8"/>
<line x1="217.6" y1="1561.3" x2="296.9" y2="1561.3" stroke="#fff" stroke-width="1.2" stroke-opacity="0.8"/>
<line x1="217.6" y1="1575.5" x2="296.9" y2="1575.5" stroke="#fff" stroke-width="1.2" stroke-opacity="0.8"/>
<line x1="217.6" y1="1589.7" x2="296.9" y2="1589.7" stroke="#fff" stroke-width="1.2" stroke-opacity="0.8"/>
<line x1="217.6" y1="1603.8" x2="296.9" y2="1603.8" stroke="#fff" stroke-width="1.2" stroke-opacity="0.8"/>
<line x1="217.6" y1="1618.0" x2="296.9" y2="1618.0" stroke="#fff" stroke-width="1.2" stroke-opacity="0.8"/>
<line x1="217.6" y1="1632.2" x2="296.9" y2="1632.2" stroke="#fff" stroke-width="1.2" stroke-opacity="0.8"/>
<line x1="217.6" y1="1646.4" x2="296.9" y2="1646.4" stroke="#fff" stroke-width="1.2" stroke-opacity="0.8"/>
<line x1="217.6" y1="1660.5" x2="296.9" y2="1660.5" stroke="#fff" stroke-width="1.2" stroke-opacity="0.8"/>
<line x1="217.6" y1="1674.7" x2="296.9" y2="1674.7" stroke="#fff" stroke-width="1.2" stroke-opacity="0.8"/>
<line x1="217.6" y1="1688.9" x2="296.9" y2="1688.9" stroke="#fff" stroke-width="1.2" stroke-opacity="0.8"/>
<rect x="217.6" y="1533.0" width="79.3" height="170.0" fill="none" stroke="#333" stroke-width="1.6" rx="1.5"/>
<rect x="301.0" y="1533.0" width="14.1" height="15.1" fill="#e51e16" />
<rect x="314.2" y="1533.0" width="14.1" height="15.1" fill="#eb1e14" />
<rect x="327.4" y="1533.0" width="14.1" height="15.1" fill="#eb1e14" />
<rect x="340.7" y="1533.0" width="14.1" height="15.1" fill="#ee3022" />
<rect x="353.9" y="1533.0" width="14.1" height="15.1" fill="#e21e17" />
<rect x="367.1" y="1533.0" width="14.1" height="15.1" fill="#e21e17" />
<rect x="380.3" y="1533.0" width="14.1" height="15.1" fill="#d91e1a" />
<rect x="393.5" y="1533.0" width="14.1" height="15.1" fill="#df1e18" />
<rect x="406.8" y="1533.0" width="14.1" height="15.1" fill="#eb1e14" />
<rect x="420.0" y="1533.0" width="14.1" height="15.1" fill="#ec271b" />
<rect x="433.2" y="1533.0" width="14.1" height="15.1" fill="#e51e16" />
<rect x="446.4" y="1533.0" width="13.4" height="15.1" fill="#e21e17" />
<rect x="301.0" y="1547.2" width="14.1" height="15.1" fill="#f24b37" />
<rect x="314.2" y="1547.2" width="14.1" height="15.1" fill="#f14230" />
<rect x="327.4" y="1547.2" width="14.1" height="15.1" fill="#ee3022" />
<rect x="340.7" y="1547.2" width="14.1" height="15.1" fill="#f14230" />
<rect x="353.9" y="1547.2" width="14.1" height="15.1" fill="#b92424" />
<rect x="367.1" y="1547.2" width="14.1" height="15.1" fill="#d31e1c" />
<rect x="380.3" y="1547.2" width="14.1" height="15.1" fill="#e51e16" />
<rect x="393.5" y="1547.2" width="14.1" height="15.1" fill="#d91e1a" />
<rect x="406.8" y="1547.2" width="14.1" height="15.1" fill="#d31e1c" />
<rect x="420.0" y="1547.2" width="14.1" height="15.1" fill="#cd1e1e" />
<rect x="433.2" y="1547.2" width="14.1" height="15.1" fill="#b92424" />
<rect x="446.4" y="1547.2" width="13.4" height="15.1" fill="#cd1e1e" />
<rect x="301.0" y="1561.3" width="14.1" height="15.1" fill="#e51e16" />
<rect x="314.2" y="1561.3" width="14.1" height="15.1" fill="#e21e17" />
<rect x="327.4" y="1561.3" width="14.1" height="15.1" fill="#d91e1a" />
<rect x="340.7" y="1561.3" width="14.1" height="15.1" fill="#df1e18" />
<rect x="353.9" y="1561.3" width="14.1" height="15.1" fill="#df1e18" />
<rect x="367.1" y="1561.3" width="14.1" height="15.1" fill="#dc1e19" />
<rect x="380.3" y="1561.3" width="14.1" height="15.1" fill="#cd1e1e" />
<rect x="393.5" y="1561.3" width="14.1" height="15.1" fill="#df1e18" />
<rect x="406.8" y="1561.3" width="14.1" height="15.1" fill="#d91e1a" />
<rect x="420.0" y="1561.3" width="14.1" height="15.1" fill="#cd1e1e" />
<rect x="433.2" y="1561.3" width="14.1" height="15.1" fill="#d31e1c" />
<rect x="446.4" y="1561.3" width="13.4" height="15.1" fill="#c52020" />
<rect x="301.0" y="1575.5" width="14.1" height="15.1" fill="#d91e1a" />
<rect x="314.2" y="1575.5" width="14.1" height="15.1" fill="#e51e16" />
<rect x="327.4" y="1575.5" width="14.1" height="15.1" fill="#d91e1a" />
<rect x="340.7" y="1575.5" width="14.1" height="15.1" fill="#e51e16" />
<rect x="353.9" y="1575.5" width="14.1" height="15.1" fill="#b92424" />
<rect x="367.1" y="1575.5" width="14.1" height="15.1" fill="#c52020" />
<rect x="380.3" y="1575.5" width="14.1" height="15.1" fill="#d91e1a" />
<rect x="393.5" y="1575.5" width="14.1" height="15.1" fill="#d91e1a" />
<rect x="406.8" y="1575.5" width="14.1" height="15.1" fill="#d31e1c" />
<rect x="420.0" y="1575.5" width="14.1" height="15.1" fill="#cd1e1e" />
<rect x="433.2" y="1575.5" width="14.1" height="15.1" fill="#b92424" />
<rect x="446.4" y="1575.5" width="13.4" height="15.1" fill="#b92424" />
<rect x="301.0" y="1589.7" width="14.1" height="15.1" fill="#ee3022" />
<rect x="314.2" y="1589.7" width="14.1" height="15.1" fill="#f14230" />
<rect x="327.4" y="1589.7" width="14.1" height="15.1" fill="#f14230" />
<rect x="340.7" y="1589.7" width="14.1" height="15.1" fill="#f4543e" />
<rect x="353.9" y="1589.7" width="14.1" height="15.1" fill="#d91e1a" />
<rect x="367.1" y="1589.7" width="14.1" height="15.1" fill="#e51e16" />
<rect x="380.3" y="1589.7" width="14.1" height="15.1" fill="#eb1e14" />
<rect x="393.5" y="1589.7" width="14.1" height="15.1" fill="#ee3022" />
<rect x="406.8" y="1589.7" width="14.1" height="15.1" fill="#f14230" />
<rect x="420.0" y="1589.7" width="14.1" height="15.1" fill="#f14230" />
<rect x="433.2" y="1589.7" width="14.1" height="15.1" fill="#e51e16" />
<rect x="446.4" y="1589.7" width="13.4" height="15.1" fill="#eb1e14" />
<rect x="301.0" y="1603.8" width="14.1" height="15.1" fill="#d91e1a" />
<rect x="314.2" y="1603.8" width="14.1" height="15.1" fill="#df1e18" />
<rect x="327.4" y="1603.8" width="14.1" height="15.1" fill="#d91e1a" />
<rect x="340.7" y="1603.8" width="14.1" height="15.1" fill="#e51e16" />
<rect x="353.9" y="1603.8" width="14.1" height="15.1" fill="#ad2828" />
<rect x="367.1" y="1603.8" width="14.1" height="15.1" fill="#c52020" />
<rect x="380.3" y="1603.8" width="14.1" height="15.1" fill="#bd2323" />
<rect x="393.5" y="1603.8" width="14.1" height="15.1" fill="#cd1e1e" />
<rect x="406.8" y="1603.8" width="14.1" height="15.1" fill="#c52020" />
<rect x="420.0" y="1603.8" width="14.1" height="15.1" fill="#cd1e1e" />
<rect x="433.2" y="1603.8" width="14.1" height="15.1" fill="#b52525" />
<rect x="446.4" y="1603.8" width="13.4" height="15.1" fill="#b52525" />
<rect x="301.0" y="1618.0" width="14.1" height="15.1" fill="#fcc8b4" />
<rect x="314.2" y="1618.0" width="14.1" height="15.1" fill="#fef4f0" />
<rect x="327.4" y="1618.0" width="14.1" height="15.1" fill="#fba890" />
<rect x="340.7" y="1618.0" width="14.1" height="15.1" fill="#fdded2" />
<rect x="353.9" y="1618.0" width="14.1" height="15.1" fill="#fb987e" />
<rect x="367.1" y="1618.0" width="14.1" height="15.1" fill="#fba890" />
<rect x="380.3" y="1618.0" width="14.1" height="15.1" fill="#fb987e" />
<rect x="393.5" y="1618.0" width="14.1" height="15.1" fill="#fa785a" />
<rect x="406.8" y="1618.0" width="14.1" height="15.1" fill="#fa785a" />
<rect x="420.0" y="1618.0" width="14.1" height="15.1" fill="#fa785a" />
<rect x="433.2" y="1618.0" width="14.1" height="15.1" fill="#fa785a" />
<rect x="446.4" y="1618.0" width="13.4" height="15.1" fill="#fba890" />
<rect x="301.0" y="1632.2" width="14.1" height="15.1" fill="#fb987e" />
<rect x="314.2" y="1632.2" width="14.1" height="15.1" fill="#fb987e" />
<rect x="327.4" y="1632.2" width="14.1" height="15.1" fill="#fba890" />
<rect x="340.7" y="1632.2" width="14.1" height="15.1" fill="#fba890" />
<rect x="353.9" y="1632.2" width="14.1" height="15.1" fill="#f14230" />
<rect x="367.1" y="1632.2" width="14.1" height="15.1" fill="#f4543e" />
<rect x="380.3" y="1632.2" width="14.1" height="15.1" fill="#f4543e" />
<rect x="393.5" y="1632.2" width="14.1" height="15.1" fill="#f14230" />
<rect x="406.8" y="1632.2" width="14.1" height="15.1" fill="#f4543e" />
<rect x="420.0" y="1632.2" width="14.1" height="15.1" fill="#f7664c" />
<rect x="433.2" y="1632.2" width="14.1" height="15.1" fill="#fa785a" />
<rect x="446.4" y="1632.2" width="13.4" height="15.1" fill="#fa886c" />
<rect x="301.0" y="1646.4" width="14.1" height="15.1" fill="#fa785a" />
<rect x="314.2" y="1646.4" width="14.1" height="15.1" fill="#fa886c" />
<rect x="327.4" y="1646.4" width="14.1" height="15.1" fill="#fb987e" />
<rect x="340.7" y="1646.4" width="14.1" height="15.1" fill="#fb987e" />
<rect x="353.9" y="1646.4" width="14.1" height="15.1" fill="#fa886c" />
<rect x="367.1" y="1646.4" width="14.1" height="15.1" fill="#fb987e" />
<rect x="380.3" y="1646.4" width="14.1" height="15.1" fill="#fa785a" />
<rect x="393.5" y="1646.4" width="14.1" height="15.1" fill="#fa886c" />
<rect x="406.8" y="1646.4" width="14.1" height="15.1" fill="#fb987e" />
<rect x="420.0" y="1646.4" width="14.1" height="15.1" fill="#fb987e" />
<rect x="433.2" y="1646.4" width="14.1" height="15.1" fill="#fba890" />
<rect x="446.4" y="1646.4" width="13.4" height="15.1" fill="#fcb8a2" />
<rect x="301.0" y="1660.5" width="14.1" height="15.1" fill="#fee9e1" />
<rect x="314.2" y="1660.5" width="14.1" height="15.1" fill="#feeee8" />
<rect x="327.4" y="1660.5" width="14.1" height="15.1" fill="#fa785a" />
<rect x="340.7" y="1660.5" width="14.1" height="15.1" fill="#fb987e" />
<rect x="353.9" y="1660.5" width="14.1" height="15.1" fill="#fdd3c3" />
<rect x="367.1" y="1660.5" width="14.1" height="15.1" fill="#fcc8b4" />
<rect x="380.3" y="1660.5" width="14.1" height="15.1" fill="#f4f2fa" />
<rect x="393.5" y="1660.5" width="14.1" height="15.1" fill="#fcc8b4" />
<rect x="406.8" y="1660.5" width="14.1" height="15.1" fill="#fa886c" />
<rect x="420.0" y="1660.5" width="14.1" height="15.1" fill="#fa886c" />
<rect x="433.2" y="1660.5" width="14.1" height="15.1" fill="#fa785a" />
<rect x="446.4" y="1660.5" width="13.4" height="15.1" fill="#fa886c" />
<rect x="301.0" y="1674.7" width="14.1" height="15.1" fill="#fb987e" />
<rect x="314.2" y="1674.7" width="14.1" height="15.1" fill="#fb987e" />
<rect x="327.4" y="1674.7" width="14.1" height="15.1" fill="#fa785a" />
<rect x="340.7" y="1674.7" width="14.1" height="15.1" fill="#fa785a" />
<rect x="353.9" y="1674.7" width="14.1" height="15.1" fill="#f4543e" />
<rect x="367.1" y="1674.7" width="14.1" height="15.1" fill="#f4543e" />
<rect x="380.3" y="1674.7" width="14.1" height="15.1" fill="#f7664c" />
<rect x="393.5" y="1674.7" width="14.1" height="15.1" fill="#f4543e" />
<rect x="406.8" y="1674.7" width="14.1" height="15.1" fill="#eb1e14" />
<rect x="420.0" y="1674.7" width="14.1" height="15.1" fill="#eb1e14" />
<rect x="433.2" y="1674.7" width="14.1" height="15.1" fill="#eb1e14" />
<rect x="446.4" y="1674.7" width="13.4" height="15.1" fill="#f14230" />
<rect x="301.0" y="1688.9" width="14.1" height="14.4" fill="#fcb8a2" />
<rect x="314.2" y="1688.9" width="14.1" height="14.4" fill="#fb987e" />
<rect x="327.4" y="1688.9" width="14.1" height="14.4" fill="#f4543e" />
<rect x="340.7" y="1688.9" width="14.1" height="14.4" fill="#f4543e" />
<rect x="353.9" y="1688.9" width="14.1" height="14.4" fill="#fa785a" />
<rect x="367.1" y="1688.9" width="14.1" height="14.4" fill="#f7664c" />
<rect x="380.3" y="1688.9" width="14.1" height="14.4" fill="#f7664c" />
<rect x="393.5" y="1688.9" width="14.1" height="14.4" fill="#f4543e" />
<rect x="406.8" y="1688.9" width="14.1" height="14.4" fill="#df1e18" />
<rect x="420.0" y="1688.9" width="14.1" height="14.4" fill="#d91e1a" />
<rect x="433.2" y="1688.9" width="14.1" height="14.4" fill="#eb1e14" />
<rect x="446.4" y="1688.9" width="13.4" height="14.4" fill="#eb1e14" />
<line x1="314.2" y1="1533.0" x2="314.2" y2="1703.0" stroke="#fff" stroke-width="1.2" stroke-opacity="0.8"/>
<line x1="327.4" y1="1533.0" x2="327.4" y2="1703.0" stroke="#fff" stroke-width="1.2" stroke-opacity="0.8"/>
<line x1="340.7" y1="1533.0" x2="340.7" y2="1703.0" stroke="#fff" stroke-width="1.2" stroke-opacity="0.8"/>
<line x1="353.9" y1="1533.0" x2="353.9" y2="1703.0" stroke="#fff" stroke-width="1.2" stroke-opacity="0.8"/>
<line x1="367.1" y1="1533.0" x2="367.1" y2="1703.0" stroke="#fff" stroke-width="1.2" stroke-opacity="0.8"/>
<line x1="380.3" y1="1533.0" x2="380.3" y2="1703.0" stroke="#fff" stroke-width="1.2" stroke-opacity="0.8"/>
<line x1="393.5" y1="1533.0" x2="393.5" y2="1703.0" stroke="#fff" stroke-width="1.2" stroke-opacity="0.8"/>
<line x1="406.8" y1="1533.0" x2="406.8" y2="1703.0" stroke="#fff" stroke-width="1.2" stroke-opacity="0.8"/>
<line x1="420.0" y1="1533.0" x2="420.0" y2="1703.0" stroke="#fff" stroke-width="1.2" stroke-opacity="0.8"/>
<line x1="433.2" y1="1533.0" x2="433.2" y2="1703.0" stroke="#fff" stroke-width="1.2" stroke-opacity="0.8"/>
<line x1="446.4" y1="1533.0" x2="446.4" y2="1703.0" stroke="#fff" stroke-width="1.2" stroke-opacity="0.8"/>
<line x1="301.0" y1="1547.2" x2="459.6" y2="1547.2" stroke="#fff" stroke-width="1.2" stroke-opacity="0.8"/>
<line x1="301.0" y1="1561.3" x2="459.6" y2="1561.3" stroke="#fff" stroke-width="1.2" stroke-opacity="0.8"/>
<line x1="301.0" y1="1575.5" x2="459.6" y2="1575.5" stroke="#fff" stroke-width="1.2" stroke-opacity="0.8"/>
<line x1="301.0" y1="1589.7" x2="459.6" y2="1589.7" stroke="#fff" stroke-width="1.2" stroke-opacity="0.8"/>
<line x1="301.0" y1="1603.8" x2="459.6" y2="1603.8" stroke="#fff" stroke-width="1.2" stroke-opacity="0.8"/>
<line x1="301.0" y1="1618.0" x2="459.6" y2="1618.0" stroke="#fff" stroke-width="1.2" stroke-opacity="0.8"/>
<line x1="301.0" y1="1632.2" x2="459.6" y2="1632.2" stroke="#fff" stroke-width="1.2" stroke-opacity="0.8"/>
<line x1="301.0" y1="1646.4" x2="459.6" y2="1646.4" stroke="#fff" stroke-width="1.2" stroke-opacity="0.8"/>
<line x1="301.0" y1="1660.5" x2="459.6" y2="1660.5" stroke="#fff" stroke-width="1.2" stroke-opacity="0.8"/>
<line x1="301.0" y1="1674.7" x2="459.6" y2="1674.7" stroke="#fff" stroke-width="1.2" stroke-opacity="0.8"/>
<line x1="301.0" y1="1688.9" x2="459.6" y2="1688.9" stroke="#fff" stroke-width="1.2" stroke-opacity="0.8"/>
<rect x="301.0" y="1533.0" width="158.6" height="170.0" fill="none" stroke="#333" stroke-width="1.6" rx="1.5"/>
<rect x="464.4" y="1533.0" width="14.1" height="15.1" fill="#eb1e14" />
<rect x="477.6" y="1533.0" width="14.1" height="15.1" fill="#eb1e14" />
<rect x="490.8" y="1533.0" width="14.1" height="15.1" fill="#f24b37" />
<rect x="504.1" y="1533.0" width="14.1" height="15.1" fill="#f14230" />
<rect x="517.3" y="1533.0" width="14.1" height="15.1" fill="#ee3022" />
<rect x="530.5" y="1533.0" width="13.4" height="15.1" fill="#f4543e" />
<rect x="464.4" y="1547.2" width="14.1" height="15.1" fill="#e51e16" />
<rect x="477.6" y="1547.2" width="14.1" height="15.1" fill="#e51e16" />
<rect x="490.8" y="1547.2" width="14.1" height="15.1" fill="#df1e18" />
<rect x="504.1" y="1547.2" width="14.1" height="15.1" fill="#dc1e19" />
<rect x="517.3" y="1547.2" width="14.1" height="15.1" fill="#fa785a" />
<rect x="530.5" y="1547.2" width="13.4" height="15.1" fill="#f7664c" />
<rect x="464.4" y="1561.3" width="14.1" height="15.1" fill="#c52020" />
<rect x="477.6" y="1561.3" width="14.1" height="15.1" fill="#cd1e1e" />
<rect x="490.8" y="1561.3" width="14.1" height="15.1" fill="#bd2323" />
<rect x="504.1" y="1561.3" width="14.1" height="15.1" fill="#bd2323" />
<rect x="517.3" y="1561.3" width="14.1" height="15.1" fill="#d31e1c" />
<rect x="530.5" y="1561.3" width="13.4" height="15.1" fill="#d31e1c" />
<rect x="464.4" y="1575.5" width="14.1" height="15.1" fill="#d31e1c" />
<rect x="477.6" y="1575.5" width="14.1" height="15.1" fill="#cd1e1e" />
<rect x="490.8" y="1575.5" width="14.1" height="15.1" fill="#df1e18" />
<rect x="504.1" y="1575.5" width="14.1" height="15.1" fill="#d31e1c" />
<rect x="517.3" y="1575.5" width="14.1" height="15.1" fill="#e51e16" />
<rect x="530.5" y="1575.5" width="13.4" height="15.1" fill="#e51e16" />
<rect x="464.4" y="1589.7" width="14.1" height="15.1" fill="#e51e16" />
<rect x="477.6" y="1589.7" width="14.1" height="15.1" fill="#df1e18" />
<rect x="490.8" y="1589.7" width="14.1" height="15.1" fill="#f14230" />
<rect x="504.1" y="1589.7" width="14.1" height="15.1" fill="#e51e16" />
<rect x="517.3" y="1589.7" width="14.1" height="15.1" fill="#eb1e14" />
<rect x="530.5" y="1589.7" width="13.4" height="15.1" fill="#f4543e" />
<rect x="464.4" y="1603.8" width="14.1" height="15.1" fill="#cd1e1e" />
<rect x="477.6" y="1603.8" width="14.1" height="15.1" fill="#c52020" />
<rect x="490.8" y="1603.8" width="14.1" height="15.1" fill="#d31e1c" />
<rect x="504.1" y="1603.8" width="14.1" height="15.1" fill="#c52020" />
<rect x="517.3" y="1603.8" width="14.1" height="15.1" fill="#d91e1a" />
<rect x="530.5" y="1603.8" width="13.4" height="15.1" fill="#df1e18" />
<rect x="464.4" y="1618.0" width="14.1" height="15.1" fill="#feeee8" />
<rect x="477.6" y="1618.0" width="14.1" height="15.1" fill="#fef4f0" />
<rect x="490.8" y="1618.0" width="14.1" height="15.1" fill="#fdd3c3" />
<rect x="504.1" y="1618.0" width="14.1" height="15.1" fill="#fcc8b4" />
<rect x="517.3" y="1618.0" width="14.1" height="15.1" fill="#e4def2" />
<rect x="530.5" y="1618.0" width="13.4" height="15.1" fill="#ffffff" />
<rect x="464.4" y="1632.2" width="14.1" height="15.1" fill="#fa886c" />
<rect x="477.6" y="1632.2" width="14.1" height="15.1" fill="#fa886c" />
<rect x="490.8" y="1632.2" width="14.1" height="15.1" fill="#fb987e" />
<rect x="504.1" y="1632.2" width="14.1" height="15.1" fill="#fba890" />
<rect x="517.3" y="1632.2" width="14.1" height="15.1" fill="#fcc8b4" />
<rect x="530.5" y="1632.2" width="13.4" height="15.1" fill="#fdd9cb" />
<rect x="464.4" y="1646.4" width="14.1" height="15.1" fill="#fa886c" />
<rect x="477.6" y="1646.4" width="14.1" height="15.1" fill="#fb987e" />
<rect x="490.8" y="1646.4" width="14.1" height="15.1" fill="#fba890" />
<rect x="504.1" y="1646.4" width="14.1" height="15.1" fill="#fba890" />
<rect x="517.3" y="1646.4" width="14.1" height="15.1" fill="#fa785a" />
<rect x="530.5" y="1646.4" width="13.4" height="15.1" fill="#fba890" />
<rect x="464.4" y="1660.5" width="14.1" height="15.1" fill="#c8bee4" />
<rect x="477.6" y="1660.5" width="14.1" height="15.1" fill="#d3cbe9" />
<rect x="490.8" y="1660.5" width="14.1" height="15.1" fill="#fdd9cb" />
<rect x="504.1" y="1660.5" width="14.1" height="15.1" fill="#fdd3c3" />
<rect x="517.3" y="1660.5" width="14.1" height="15.1" fill="#aa9ed6" />
<rect x="530.5" y="1660.5" width="13.4" height="15.1" fill="#ffffff" />
<rect x="464.4" y="1674.7" width="14.1" height="15.1" fill="#f7664c" />
<rect x="477.6" y="1674.7" width="14.1" height="15.1" fill="#fa785a" />
<rect x="490.8" y="1674.7" width="14.1" height="15.1" fill="#ee3022" />
<rect x="504.1" y="1674.7" width="14.1" height="15.1" fill="#f4543e" />
<rect x="517.3" y="1674.7" width="14.1" height="15.1" fill="#fba890" />
<rect x="530.5" y="1674.7" width="13.4" height="15.1" fill="#fa886c" />
<rect x="464.4" y="1688.9" width="14.1" height="14.4" fill="#f7664c" />
<rect x="477.6" y="1688.9" width="14.1" height="14.4" fill="#fa785a" />
<rect x="490.8" y="1688.9" width="14.1" height="14.4" fill="#d91e1a" />
<rect x="504.1" y="1688.9" width="14.1" height="14.4" fill="#eb1e14" />
<rect x="517.3" y="1688.9" width="14.1" height="14.4" fill="#fba890" />
<rect x="530.5" y="1688.9" width="13.4" height="14.4" fill="#f7664c" />
<line x1="477.6" y1="1533.0" x2="477.6" y2="1703.0" stroke="#fff" stroke-width="1.2" stroke-opacity="0.8"/>
<line x1="490.8" y1="1533.0" x2="490.8" y2="1703.0" stroke="#fff" stroke-width="1.2" stroke-opacity="0.8"/>
<line x1="504.1" y1="1533.0" x2="504.1" y2="1703.0" stroke="#fff" stroke-width="1.2" stroke-opacity="0.8"/>
<line x1="517.3" y1="1533.0" x2="517.3" y2="1703.0" stroke="#fff" stroke-width="1.2" stroke-opacity="0.8"/>
<line x1="530.5" y1="1533.0" x2="530.5" y2="1703.0" stroke="#fff" stroke-width="1.2" stroke-opacity="0.8"/>
<line x1="464.4" y1="1547.2" x2="543.7" y2="1547.2" stroke="#fff" stroke-width="1.2" stroke-opacity="0.8"/>
<line x1="464.4" y1="1561.3" x2="543.7" y2="1561.3" stroke="#fff" stroke-width="1.2" stroke-opacity="0.8"/>
<line x1="464.4" y1="1575.5" x2="543.7" y2="1575.5" stroke="#fff" stroke-width="1.2" stroke-opacity="0.8"/>
<line x1="464.4" y1="1589.7" x2="543.7" y2="1589.7" stroke="#fff" stroke-width="1.2" stroke-opacity="0.8"/>
<line x1="464.4" y1="1603.8" x2="543.7" y2="1603.8" stroke="#fff" stroke-width="1.2" stroke-opacity="0.8"/>
<line x1="464.4" y1="1618.0" x2="543.7" y2="1618.0" stroke="#fff" stroke-width="1.2" stroke-opacity="0.8"/>
<line x1="464.4" y1="1632.2" x2="543.7" y2="1632.2" stroke="#fff" stroke-width="1.2" stroke-opacity="0.8"/>
<line x1="464.4" y1="1646.4" x2="543.7" y2="1646.4" stroke="#fff" stroke-width="1.2" stroke-opacity="0.8"/>
<line x1="464.4" y1="1660.5" x2="543.7" y2="1660.5" stroke="#fff" stroke-width="1.2" stroke-opacity="0.8"/>
<line x1="464.4" y1="1674.7" x2="543.7" y2="1674.7" stroke="#fff" stroke-width="1.2" stroke-opacity="0.8"/>
<line x1="464.4" y1="1688.9" x2="543.7" y2="1688.9" stroke="#fff" stroke-width="1.2" stroke-opacity="0.8"/>
<rect x="464.4" y="1533.0" width="79.3" height="170.0" fill="none" stroke="#333" stroke-width="1.6" rx="1.5"/>
<rect x="547.6" y="1533.0" width="14.1" height="15.1" fill="#d91e1a" />
<rect x="560.8" y="1533.0" width="14.1" height="15.1" fill="#cd1e1e" />
<rect x="574.0" y="1533.0" width="14.1" height="15.1" fill="#d31e1c" />
<rect x="587.3" y="1533.0" width="14.1" height="15.1" fill="#d91e1a" />
<rect x="600.5" y="1533.0" width="14.1" height="15.1" fill="#c52020" />
<rect x="613.7" y="1533.0" width="13.4" height="15.1" fill="#c52020" />
<rect x="547.6" y="1547.2" width="14.1" height="15.1" fill="#e51e16" />
<rect x="560.8" y="1547.2" width="14.1" height="15.1" fill="#d91e1a" />
<rect x="574.0" y="1547.2" width="14.1" height="15.1" fill="#ee3022" />
<rect x="587.3" y="1547.2" width="14.1" height="15.1" fill="#f24b37" />
<rect x="600.5" y="1547.2" width="14.1" height="15.1" fill="#b12626" />
<rect x="613.7" y="1547.2" width="13.4" height="15.1" fill="#d31e1c" />
<rect x="547.6" y="1561.3" width="14.1" height="15.1" fill="#eb1e14" />
<rect x="560.8" y="1561.3" width="14.1" height="15.1" fill="#e51e16" />
<rect x="574.0" y="1561.3" width="14.1" height="15.1" fill="#e51e16" />
<rect x="587.3" y="1561.3" width="14.1" height="15.1" fill="#eb1e14" />
<rect x="600.5" y="1561.3" width="14.1" height="15.1" fill="#df1e18" />
<rect x="613.7" y="1561.3" width="13.4" height="15.1" fill="#df1e18" />
<rect x="547.6" y="1575.5" width="14.1" height="15.1" fill="#d31e1c" />
<rect x="560.8" y="1575.5" width="14.1" height="15.1" fill="#c52020" />
<rect x="574.0" y="1575.5" width="14.1" height="15.1" fill="#c52020" />
<rect x="587.3" y="1575.5" width="14.1" height="15.1" fill="#d91e1a" />
<rect x="600.5" y="1575.5" width="14.1" height="15.1" fill="#ad2828" />
<rect x="613.7" y="1575.5" width="13.4" height="15.1" fill="#b52525" />
<rect x="547.6" y="1589.7" width="14.1" height="15.1" fill="#f7664c" />
<rect x="560.8" y="1589.7" width="14.1" height="15.1" fill="#f7664c" />
<rect x="574.0" y="1589.7" width="14.1" height="15.1" fill="#f4543e" />
<rect x="587.3" y="1589.7" width="14.1" height="15.1" fill="#f7664c" />
<rect x="600.5" y="1589.7" width="14.1" height="15.1" fill="#eb1e14" />
<rect x="613.7" y="1589.7" width="13.4" height="15.1" fill="#f24b37" />
<rect x="547.6" y="1603.8" width="14.1" height="15.1" fill="#f7664c" />
<rect x="560.8" y="1603.8" width="14.1" height="15.1" fill="#f7664c" />
<rect x="574.0" y="1603.8" width="14.1" height="15.1" fill="#f24b37" />
<rect x="587.3" y="1603.8" width="14.1" height="15.1" fill="#f7664c" />
<rect x="600.5" y="1603.8" width="14.1" height="15.1" fill="#e51e16" />
<rect x="613.7" y="1603.8" width="13.4" height="15.1" fill="#ee3022" />
<rect x="547.6" y="1618.0" width="14.1" height="15.1" fill="#f4543e" />
<rect x="560.8" y="1618.0" width="14.1" height="15.1" fill="#ee3022" />
<rect x="574.0" y="1618.0" width="14.1" height="15.1" fill="#f7664c" />
<rect x="587.3" y="1618.0" width="14.1" height="15.1" fill="#fa785a" />
<rect x="600.5" y="1618.0" width="14.1" height="15.1" fill="#e51e16" />
<rect x="613.7" y="1618.0" width="13.4" height="15.1" fill="#f14230" />
<rect x="547.6" y="1632.2" width="14.1" height="15.1" fill="#f4543e" />
<rect x="560.8" y="1632.2" width="14.1" height="15.1" fill="#f4543e" />
<rect x="574.0" y="1632.2" width="14.1" height="15.1" fill="#fa886c" />
<rect x="587.3" y="1632.2" width="14.1" height="15.1" fill="#fb987e" />
<rect x="600.5" y="1632.2" width="14.1" height="15.1" fill="#e51e16" />
<rect x="613.7" y="1632.2" width="13.4" height="15.1" fill="#f7664c" />
<rect x="547.6" y="1646.4" width="14.1" height="15.1" fill="#fa785a" />
<rect x="560.8" y="1646.4" width="14.1" height="15.1" fill="#f7664c" />
<rect x="574.0" y="1646.4" width="14.1" height="15.1" fill="#f14230" />
<rect x="587.3" y="1646.4" width="14.1" height="15.1" fill="#f4543e" />
<rect x="600.5" y="1646.4" width="14.1" height="15.1" fill="#fa785a" />
<rect x="613.7" y="1646.4" width="13.4" height="15.1" fill="#fa785a" />
<rect x="547.6" y="1660.5" width="14.1" height="15.1" fill="#fdded2" />
<rect x="560.8" y="1660.5" width="14.1" height="15.1" fill="#fcb8a2" />
<rect x="574.0" y="1660.5" width="14.1" height="15.1" fill="#fcc8b4" />
<rect x="587.3" y="1660.5" width="14.1" height="15.1" fill="#fcc8b4" />
<rect x="600.5" y="1660.5" width="14.1" height="15.1" fill="#fb987e" />
<rect x="613.7" y="1660.5" width="13.4" height="15.1" fill="#fba890" />
<rect x="547.6" y="1674.7" width="14.1" height="15.1" fill="#fa886c" />
<rect x="560.8" y="1674.7" width="14.1" height="15.1" fill="#f4543e" />
<rect x="574.0" y="1674.7" width="14.1" height="15.1" fill="#fb9075" />
<rect x="587.3" y="1674.7" width="14.1" height="15.1" fill="#fb987e" />
<rect x="600.5" y="1674.7" width="14.1" height="15.1" fill="#eb1e14" />
<rect x="613.7" y="1674.7" width="13.4" height="15.1" fill="#f7664c" />
<rect x="547.6" y="1688.9" width="14.1" height="14.4" fill="#fcc8b4" />
<rect x="560.8" y="1688.9" width="14.1" height="14.4" fill="#fb987e" />
<rect x="574.0" y="1688.9" width="14.1" height="14.4" fill="#fcc8b4" />
<rect x="587.3" y="1688.9" width="14.1" height="14.4" fill="#fcb8a2" />
<rect x="600.5" y="1688.9" width="14.1" height="14.4" fill="#f7664c" />
<rect x="613.7" y="1688.9" width="13.4" height="14.4" fill="#fb987e" />
<line x1="560.8" y1="1533.0" x2="560.8" y2="1703.0" stroke="#fff" stroke-width="1.2" stroke-opacity="0.8"/>
<line x1="574.0" y1="1533.0" x2="574.0" y2="1703.0" stroke="#fff" stroke-width="1.2" stroke-opacity="0.8"/>
<line x1="587.3" y1="1533.0" x2="587.3" y2="1703.0" stroke="#fff" stroke-width="1.2" stroke-opacity="0.8"/>
<line x1="600.5" y1="1533.0" x2="600.5" y2="1703.0" stroke="#fff" stroke-width="1.2" stroke-opacity="0.8"/>
<line x1="613.7" y1="1533.0" x2="613.7" y2="1703.0" stroke="#fff" stroke-width="1.2" stroke-opacity="0.8"/>
<line x1="547.6" y1="1547.2" x2="626.9" y2="1547.2" stroke="#fff" stroke-width="1.2" stroke-opacity="0.8"/>
<line x1="547.6" y1="1561.3" x2="626.9" y2="1561.3" stroke="#fff" stroke-width="1.2" stroke-opacity="0.8"/>
<line x1="547.6" y1="1575.5" x2="626.9" y2="1575.5" stroke="#fff" stroke-width="1.2" stroke-opacity="0.8"/>
<line x1="547.6" y1="1589.7" x2="626.9" y2="1589.7" stroke="#fff" stroke-width="1.2" stroke-opacity="0.8"/>
<line x1="547.6" y1="1603.8" x2="626.9" y2="1603.8" stroke="#fff" stroke-width="1.2" stroke-opacity="0.8"/>
<line x1="547.6" y1="1618.0" x2="626.9" y2="1618.0" stroke="#fff" stroke-width="1.2" stroke-opacity="0.8"/>
<line x1="547.6" y1="1632.2" x2="626.9" y2="1632.2" stroke="#fff" stroke-width="1.2" stroke-opacity="0.8"/>
<line x1="547.6" y1="1646.4" x2="626.9" y2="1646.4" stroke="#fff" stroke-width="1.2" stroke-opacity="0.8"/>
<line x1="547.6" y1="1660.5" x2="626.9" y2="1660.5" stroke="#fff" stroke-width="1.2" stroke-opacity="0.8"/>
<line x1="547.6" y1="1674.7" x2="626.9" y2="1674.7" stroke="#fff" stroke-width="1.2" stroke-opacity="0.8"/>
<line x1="547.6" y1="1688.9" x2="626.9" y2="1688.9" stroke="#fff" stroke-width="1.2" stroke-opacity="0.8"/>
<rect x="547.6" y="1533.0" width="79.3" height="170.0" fill="none" stroke="#333" stroke-width="1.6" rx="1.5"/>
<rect x="631.4" y="1533.0" width="14.1" height="15.1" fill="#df1e18" />
<rect x="644.6" y="1533.0" width="14.1" height="15.1" fill="#df1e18" />
<rect x="657.8" y="1533.0" width="13.4" height="15.1" fill="#d91e1a" />
<rect x="631.4" y="1547.2" width="14.1" height="15.1" fill="#df1e18" />
<rect x="644.6" y="1547.2" width="14.1" height="15.1" fill="#eb1e14" />
<rect x="657.8" y="1547.2" width="13.4" height="15.1" fill="#cd1e1e" />
<rect x="631.4" y="1561.3" width="14.1" height="15.1" fill="#d91e1a" />
<rect x="644.6" y="1561.3" width="14.1" height="15.1" fill="#d91e1a" />
<rect x="657.8" y="1561.3" width="13.4" height="15.1" fill="#d31e1c" />
<rect x="631.4" y="1575.5" width="14.1" height="15.1" fill="#d31e1c" />
<rect x="644.6" y="1575.5" width="14.1" height="15.1" fill="#d91e1a" />
<rect x="657.8" y="1575.5" width="13.4" height="15.1" fill="#cd1e1e" />
<rect x="631.4" y="1589.7" width="14.1" height="15.1" fill="#fa785a" />
<rect x="644.6" y="1589.7" width="14.1" height="15.1" fill="#fa785a" />
<rect x="657.8" y="1589.7" width="13.4" height="15.1" fill="#f7664c" />
<rect x="631.4" y="1603.8" width="14.1" height="15.1" fill="#fa785a" />
<rect x="644.6" y="1603.8" width="14.1" height="15.1" fill="#fa886c" />
<rect x="657.8" y="1603.8" width="13.4" height="15.1" fill="#f7664c" />
<rect x="631.4" y="1618.0" width="14.1" height="15.1" fill="#fa785a" />
<rect x="644.6" y="1618.0" width="14.1" height="15.1" fill="#fb987e" />
<rect x="657.8" y="1618.0" width="13.4" height="15.1" fill="#f7664c" />
<rect x="631.4" y="1632.2" width="14.1" height="15.1" fill="#fa785a" />
<rect x="644.6" y="1632.2" width="14.1" height="15.1" fill="#fb987e" />
<rect x="657.8" y="1632.2" width="13.4" height="15.1" fill="#f7664c" />
<rect x="631.4" y="1646.4" width="14.1" height="15.1" fill="#f7664c" />
<rect x="644.6" y="1646.4" width="14.1" height="15.1" fill="#fa785a" />
<rect x="657.8" y="1646.4" width="13.4" height="15.1" fill="#f7664c" />
<rect x="631.4" y="1660.5" width="14.1" height="15.1" fill="#fcc8b4" />
<rect x="644.6" y="1660.5" width="14.1" height="15.1" fill="#fcc8b4" />
<rect x="657.8" y="1660.5" width="13.4" height="15.1" fill="#fb987e" />
<rect x="631.4" y="1674.7" width="14.1" height="15.1" fill="#df1e18" />
<rect x="644.6" y="1674.7" width="14.1" height="15.1" fill="#eb1e14" />
<rect x="657.8" y="1674.7" width="13.4" height="15.1" fill="#c52020" />
<rect x="631.4" y="1688.9" width="14.1" height="14.4" fill="#df1e18" />
<rect x="644.6" y="1688.9" width="14.1" height="14.4" fill="#eb1e14" />
<rect x="657.8" y="1688.9" width="13.4" height="14.4" fill="#cd1e1e" />
<line x1="644.6" y1="1533.0" x2="644.6" y2="1703.0" stroke="#fff" stroke-width="1.2" stroke-opacity="0.8"/>
<line x1="657.8" y1="1533.0" x2="657.8" y2="1703.0" stroke="#fff" stroke-width="1.2" stroke-opacity="0.8"/>
<line x1="631.4" y1="1547.2" x2="671.1" y2="1547.2" stroke="#fff" stroke-width="1.2" stroke-opacity="0.8"/>
<line x1="631.4" y1="1561.3" x2="671.1" y2="1561.3" stroke="#fff" stroke-width="1.2" stroke-opacity="0.8"/>
<line x1="631.4" y1="1575.5" x2="671.1" y2="1575.5" stroke="#fff" stroke-width="1.2" stroke-opacity="0.8"/>
<line x1="631.4" y1="1589.7" x2="671.1" y2="1589.7" stroke="#fff" stroke-width="1.2" stroke-opacity="0.8"/>
<line x1="631.4" y1="1603.8" x2="671.1" y2="1603.8" stroke="#fff" stroke-width="1.2" stroke-opacity="0.8"/>
<line x1="631.4" y1="1618.0" x2="671.1" y2="1618.0" stroke="#fff" stroke-width="1.2" stroke-opacity="0.8"/>
<line x1="631.4" y1="1632.2" x2="671.1" y2="1632.2" stroke="#fff" stroke-width="1.2" stroke-opacity="0.8"/>
<line x1="631.4" y1="1646.4" x2="671.1" y2="1646.4" stroke="#fff" stroke-width="1.2" stroke-opacity="0.8"/>
<line x1="631.4" y1="1660.5" x2="671.1" y2="1660.5" stroke="#fff" stroke-width="1.2" stroke-opacity="0.8"/>
<line x1="631.4" y1="1674.7" x2="671.1" y2="1674.7" stroke="#fff" stroke-width="1.2" stroke-opacity="0.8"/>
<line x1="631.4" y1="1688.9" x2="671.1" y2="1688.9" stroke="#fff" stroke-width="1.2" stroke-opacity="0.8"/>
<rect x="631.4" y="1533.0" width="39.7" height="170.0" fill="none" stroke="#333" stroke-width="1.6" rx="1.5"/>
<rect x="173.8" y="1711.7" width="14.1" height="15.2" fill="#0c0864" />
<rect x="187.0" y="1711.7" width="14.1" height="15.2" fill="#0e0758" />
<rect x="200.2" y="1711.7" width="13.4" height="15.2" fill="#100646" />
<rect x="173.8" y="1726.0" width="14.1" height="15.2" fill="#100b6c" />
<rect x="187.0" y="1726.0" width="14.1" height="15.2" fill="#0c0864" />
<rect x="200.2" y="1726.0" width="13.4" height="15.2" fill="#0e0758" />
<rect x="173.8" y="1740.2" width="14.1" height="15.2" fill="#6452b6" />
<rect x="187.0" y="1740.2" width="14.1" height="15.2" fill="#5646ae" />
<rect x="200.2" y="1740.2" width="13.4" height="15.2" fill="#4234a1" />
<rect x="173.8" y="1754.5" width="14.1" height="15.2" fill="#0e0758" />
<rect x="187.0" y="1754.5" width="14.1" height="15.2" fill="#0e0752" />
<rect x="200.2" y="1754.5" width="13.4" height="15.2" fill="#0f074c" />
<rect x="173.8" y="1768.7" width="14.1" height="14.5" fill="#7868bf" />
<rect x="187.0" y="1768.7" width="14.1" height="14.5" fill="#5646ae" />
<rect x="200.2" y="1768.7" width="13.4" height="14.5" fill="#160f78" />
<line x1="187.0" y1="1711.7" x2="187.0" y2="1783.0" stroke="#fff" stroke-width="1.2" stroke-opacity="0.8"/>
<line x1="200.2" y1="1711.7" x2="200.2" y2="1783.0" stroke="#fff" stroke-width="1.2" stroke-opacity="0.8"/>
<line x1="173.8" y1="1726.0" x2="213.5" y2="1726.0" stroke="#fff" stroke-width="1.2" stroke-opacity="0.8"/>
<line x1="173.8" y1="1740.2" x2="213.5" y2="1740.2" stroke="#fff" stroke-width="1.2" stroke-opacity="0.8"/>
<line x1="173.8" y1="1754.5" x2="213.5" y2="1754.5" stroke="#fff" stroke-width="1.2" stroke-opacity="0.8"/>
<line x1="173.8" y1="1768.7" x2="213.5" y2="1768.7" stroke="#fff" stroke-width="1.2" stroke-opacity="0.8"/>
<rect x="173.8" y="1711.7" width="39.7" height="71.3" fill="none" stroke="#333" stroke-width="1.6" rx="1.5"/>
<rect x="217.6" y="1711.7" width="14.1" height="15.2" fill="#160f78" />
<rect x="230.8" y="1711.7" width="14.1" height="15.2" fill="#20168c" />
<rect x="244.0" y="1711.7" width="14.1" height="15.2" fill="#0c0864" />
<rect x="257.3" y="1711.7" width="14.1" height="15.2" fill="#100b6c" />
<rect x="270.5" y="1711.7" width="14.1" height="15.2" fill="#0e0758" />
<rect x="283.7" y="1711.7" width="13.4" height="15.2" fill="#0c0864" />
<rect x="217.6" y="1726.0" width="14.1" height="15.2" fill="#20168c" />
<rect x="230.8" y="1726.0" width="14.1" height="15.2" fill="#4234a1" />
<rect x="244.0" y="1726.0" width="14.1" height="15.2" fill="#160f78" />
<rect x="257.3" y="1726.0" width="14.1" height="15.2" fill="#1a1280" />
<rect x="270.5" y="1726.0" width="14.1" height="15.2" fill="#100b6c" />
<rect x="283.7" y="1726.0" width="13.4" height="15.2" fill="#140e74" />
<rect x="217.6" y="1740.2" width="14.1" height="15.2" fill="#9688cd" />
<rect x="230.8" y="1740.2" width="14.1" height="15.2" fill="#9688cd" />
<rect x="244.0" y="1740.2" width="14.1" height="15.2" fill="#c8bee4" />
<rect x="257.3" y="1740.2" width="14.1" height="15.2" fill="#b4a8db" />
<rect x="270.5" y="1740.2" width="14.1" height="15.2" fill="#8272c4" />
<rect x="283.7" y="1740.2" width="13.4" height="15.2" fill="#7868bf" />
<rect x="217.6" y="1754.5" width="14.1" height="15.2" fill="#2e2294" />
<rect x="230.8" y="1754.5" width="14.1" height="15.2" fill="#3b2e9d" />
<rect x="244.0" y="1754.5" width="14.1" height="15.2" fill="#20168c" />
<rect x="257.3" y="1754.5" width="14.1" height="15.2" fill="#2e2294" />
<rect x="270.5" y="1754.5" width="14.1" height="15.2" fill="#20168c" />
<rect x="283.7" y="1754.5" width="13.4" height="15.2" fill="#3b2e9d" />
<rect x="217.6" y="1768.7" width="14.1" height="14.5" fill="#2e2294" />
<rect x="230.8" y="1768.7" width="14.1" height="14.5" fill="#4234a1" />
<rect x="244.0" y="1768.7" width="14.1" height="14.5" fill="#160f78" />
<rect x="257.3" y="1768.7" width="14.1" height="14.5" fill="#1c1384" />
<rect x="270.5" y="1768.7" width="14.1" height="14.5" fill="#2e2294" />
<rect x="283.7" y="1768.7" width="13.4" height="14.5" fill="#4234a1" />
<line x1="230.8" y1="1711.7" x2="230.8" y2="1783.0" stroke="#fff" stroke-width="1.2" stroke-opacity="0.8"/>
<line x1="244.0" y1="1711.7" x2="244.0" y2="1783.0" stroke="#fff" stroke-width="1.2" stroke-opacity="0.8"/>
<line x1="257.3" y1="1711.7" x2="257.3" y2="1783.0" stroke="#fff" stroke-width="1.2" stroke-opacity="0.8"/>
<line x1="270.5" y1="1711.7" x2="270.5" y2="1783.0" stroke="#fff" stroke-width="1.2" stroke-opacity="0.8"/>
<line x1="283.7" y1="1711.7" x2="283.7" y2="1783.0" stroke="#fff" stroke-width="1.2" stroke-opacity="0.8"/>
<line x1="217.6" y1="1726.0" x2="296.9" y2="1726.0" stroke="#fff" stroke-width="1.2" stroke-opacity="0.8"/>
<line x1="217.6" y1="1740.2" x2="296.9" y2="1740.2" stroke="#fff" stroke-width="1.2" stroke-opacity="0.8"/>
<line x1="217.6" y1="1754.5" x2="296.9" y2="1754.5" stroke="#fff" stroke-width="1.2" stroke-opacity="0.8"/>
<line x1="217.6" y1="1768.7" x2="296.9" y2="1768.7" stroke="#fff" stroke-width="1.2" stroke-opacity="0.8"/>
<rect x="217.6" y="1711.7" width="79.3" height="71.3" fill="none" stroke="#333" stroke-width="1.6" rx="1.5"/>
<rect x="301.0" y="1711.7" width="14.1" height="15.2" fill="#8c7dc8" />
<rect x="314.2" y="1711.7" width="14.1" height="15.2" fill="#a093d2" />
<rect x="327.4" y="1711.7" width="14.1" height="15.2" fill="#b4a8db" />
<rect x="340.7" y="1711.7" width="14.1" height="15.2" fill="#a093d2" />
<rect x="353.9" y="1711.7" width="14.1" height="15.2" fill="#d3cbe9" />
<rect x="367.1" y="1711.7" width="14.1" height="15.2" fill="#cdc4e7" />
<rect x="380.3" y="1711.7" width="14.1" height="15.2" fill="#d8d2ec" />
<rect x="393.5" y="1711.7" width="14.1" height="15.2" fill="#c8bee4" />
<rect x="406.8" y="1711.7" width="14.1" height="15.2" fill="#d3cbe9" />
<rect x="420.0" y="1711.7" width="14.1" height="15.2" fill="#ded8ef" />
<rect x="433.2" y="1711.7" width="14.1" height="15.2" fill="#d8d2ec" />
<rect x="446.4" y="1711.7" width="13.4" height="15.2" fill="#e4def2" />
<rect x="301.0" y="1726.0" width="14.1" height="15.2" fill="#6452b6" />
<rect x="314.2" y="1726.0" width="14.1" height="15.2" fill="#6e5dbb" />
<rect x="327.4" y="1726.0" width="14.1" height="15.2" fill="#5040a9" />
<rect x="340.7" y="1726.0" width="14.1" height="15.2" fill="#493aa5" />
<rect x="353.9" y="1726.0" width="14.1" height="15.2" fill="#a093d2" />
<rect x="367.1" y="1726.0" width="14.1" height="15.2" fill="#9688cd" />
<rect x="380.3" y="1726.0" width="14.1" height="15.2" fill="#b4a8db" />
<rect x="393.5" y="1726.0" width="14.1" height="15.2" fill="#a093d2" />
<rect x="406.8" y="1726.0" width="14.1" height="15.2" fill="#7868bf" />
<rect x="420.0" y="1726.0" width="14.1" height="15.2" fill="#8272c4" />
<rect x="433.2" y="1726.0" width="14.1" height="15.2" fill="#6e5dbb" />
<rect x="446.4" y="1726.0" width="13.4" height="15.2" fill="#6452b6" />
<rect x="301.0" y="1740.2" width="14.1" height="15.2" fill="#a093d2" />
<rect x="314.2" y="1740.2" width="14.1" height="15.2" fill="#b4a8db" />
<rect x="327.4" y="1740.2" width="14.1" height="15.2" fill="#aa9ed6" />
<rect x="340.7" y="1740.2" width="14.1" height="15.2" fill="#beb3df" />
<rect x="353.9" y="1740.2" width="14.1" height="15.2" fill="#d8d2ec" />
<rect x="367.1" y="1740.2" width="14.1" height="15.2" fill="#ded8ef" />
<rect x="380.3" y="1740.2" width="14.1" height="15.2" fill="#e4def2" />
<rect x="393.5" y="1740.2" width="14.1" height="15.2" fill="#ded8ef" />
<rect x="406.8" y="1740.2" width="14.1" height="15.2" fill="#d3cbe9" />
<rect x="420.0" y="1740.2" width="14.1" height="15.2" fill="#ded8ef" />
<rect x="433.2" y="1740.2" width="14.1" height="15.2" fill="#c8bee4" />
<rect x="446.4" y="1740.2" width="13.4" height="15.2" fill="#d8d2ec" />
<rect x="301.0" y="1754.5" width="14.1" height="15.2" fill="#ded8ef" />
<rect x="314.2" y="1754.5" width="14.1" height="15.2" fill="#d3cbe9" />
<rect x="327.4" y="1754.5" width="14.1" height="15.2" fill="#e9e5f4" />
<rect x="340.7" y="1754.5" width="14.1" height="15.2" fill="#d3cbe9" />
<rect x="353.9" y="1754.5" width="14.1" height="15.2" fill="#fffaf8" />
<rect x="367.1" y="1754.5" width="14.1" height="15.2" fill="#f4f2fa" />
<rect x="380.3" y="1754.5" width="14.1" height="15.2" fill="#c8bee4" />
<rect x="393.5" y="1754.5" width="14.1" height="15.2" fill="#beb3df" />
<rect x="406.8" y="1754.5" width="14.1" height="15.2" fill="#b4a8db" />
<rect x="420.0" y="1754.5" width="14.1" height="15.2" fill="#d3cbe9" />
<rect x="433.2" y="1754.5" width="14.1" height="15.2" fill="#ffffff" />
<rect x="446.4" y="1754.5" width="13.4" height="15.2" fill="#fef4f0" />
<rect x="301.0" y="1768.7" width="14.1" height="14.5" fill="#b4a8db" />
<rect x="314.2" y="1768.7" width="14.1" height="14.5" fill="#e9e5f4" />
<rect x="327.4" y="1768.7" width="14.1" height="14.5" fill="#d8d2ec" />
<rect x="340.7" y="1768.7" width="14.1" height="14.5" fill="#faf8fc" />
<rect x="353.9" y="1768.7" width="14.1" height="14.5" fill="#c8bee4" />
<rect x="367.1" y="1768.7" width="14.1" height="14.5" fill="#e9e5f4" />
<rect x="380.3" y="1768.7" width="14.1" height="14.5" fill="#b4a8db" />
<rect x="393.5" y="1768.7" width="14.1" height="14.5" fill="#6452b6" />
<rect x="406.8" y="1768.7" width="14.1" height="14.5" fill="#8c7dc8" />
<rect x="420.0" y="1768.7" width="14.1" height="14.5" fill="#ded8ef" />
<rect x="433.2" y="1768.7" width="14.1" height="14.5" fill="#d8d2ec" />
<rect x="446.4" y="1768.7" width="13.4" height="14.5" fill="#ffffff" />
<line x1="314.2" y1="1711.7" x2="314.2" y2="1783.0" stroke="#fff" stroke-width="1.2" stroke-opacity="0.8"/>
<line x1="327.4" y1="1711.7" x2="327.4" y2="1783.0" stroke="#fff" stroke-width="1.2" stroke-opacity="0.8"/>
<line x1="340.7" y1="1711.7" x2="340.7" y2="1783.0" stroke="#fff" stroke-width="1.2" stroke-opacity="0.8"/>
<line x1="353.9" y1="1711.7" x2="353.9" y2="1783.0" stroke="#fff" stroke-width="1.2" stroke-opacity="0.8"/>
<line x1="367.1" y1="1711.7" x2="367.1" y2="1783.0" stroke="#fff" stroke-width="1.2" stroke-opacity="0.8"/>
<line x1="380.3" y1="1711.7" x2="380.3" y2="1783.0" stroke="#fff" stroke-width="1.2" stroke-opacity="0.8"/>
<line x1="393.5" y1="1711.7" x2="393.5" y2="1783.0" stroke="#fff" stroke-width="1.2" stroke-opacity="0.8"/>
<line x1="406.8" y1="1711.7" x2="406.8" y2="1783.0" stroke="#fff" stroke-width="1.2" stroke-opacity="0.8"/>
<line x1="420.0" y1="1711.7" x2="420.0" y2="1783.0" stroke="#fff" stroke-width="1.2" stroke-opacity="0.8"/>
<line x1="433.2" y1="1711.7" x2="433.2" y2="1783.0" stroke="#fff" stroke-width="1.2" stroke-opacity="0.8"/>
<line x1="446.4" y1="1711.7" x2="446.4" y2="1783.0" stroke="#fff" stroke-width="1.2" stroke-opacity="0.8"/>
<line x1="301.0" y1="1726.0" x2="459.6" y2="1726.0" stroke="#fff" stroke-width="1.2" stroke-opacity="0.8"/>
<line x1="301.0" y1="1740.2" x2="459.6" y2="1740.2" stroke="#fff" stroke-width="1.2" stroke-opacity="0.8"/>
<line x1="301.0" y1="1754.5" x2="459.6" y2="1754.5" stroke="#fff" stroke-width="1.2" stroke-opacity="0.8"/>
<line x1="301.0" y1="1768.7" x2="459.6" y2="1768.7" stroke="#fff" stroke-width="1.2" stroke-opacity="0.8"/>
<rect x="301.0" y="1711.7" width="158.6" height="71.3" fill="none" stroke="#333" stroke-width="1.6" rx="1.5"/>
<rect x="464.4" y="1711.7" width="14.1" height="15.2" fill="#b4a8db" />
<rect x="477.6" y="1711.7" width="14.1" height="15.2" fill="#8c7dc8" />
<rect x="490.8" y="1711.7" width="14.1" height="15.2" fill="#a093d2" />
<rect x="504.1" y="1711.7" width="14.1" height="15.2" fill="#b4a8db" />
<rect x="517.3" y="1711.7" width="14.1" height="15.2" fill="#6452b6" />
<rect x="530.5" y="1711.7" width="13.4" height="15.2" fill="#6452b6" />
<rect x="464.4" y="1726.0" width="14.1" height="15.2" fill="#a093d2" />
<rect x="477.6" y="1726.0" width="14.1" height="15.2" fill="#7868bf" />
<rect x="490.8" y="1726.0" width="14.1" height="15.2" fill="#6452b6" />
<rect x="504.1" y="1726.0" width="14.1" height="15.2" fill="#7868bf" />
<rect x="517.3" y="1726.0" width="14.1" height="15.2" fill="#5646ae" />
<rect x="530.5" y="1726.0" width="13.4" height="15.2" fill="#493aa5" />
<rect x="464.4" y="1740.2" width="14.1" height="15.2" fill="#eeebf7" />
<rect x="477.6" y="1740.2" width="14.1" height="15.2" fill="#d3cbe9" />
<rect x="490.8" y="1740.2" width="14.1" height="15.2" fill="#ded8ef" />
<rect x="504.1" y="1740.2" width="14.1" height="15.2" fill="#d3cbe9" />
<rect x="517.3" y="1740.2" width="14.1" height="15.2" fill="#9688cd" />
<rect x="530.5" y="1740.2" width="13.4" height="15.2" fill="#a093d2" />
<rect x="464.4" y="1754.5" width="14.1" height="15.2" fill="#a093d2" />
<rect x="477.6" y="1754.5" width="14.1" height="15.2" fill="#d3cbe9" />
<rect x="490.8" y="1754.5" width="14.1" height="15.2" fill="#8c7dc8" />
<rect x="504.1" y="1754.5" width="14.1" height="15.2" fill="#d3cbe9" />
<rect x="517.3" y="1754.5" width="14.1" height="15.2" fill="#a093d2" />
<rect x="530.5" y="1754.5" width="13.4" height="15.2" fill="#a093d2" />
<rect x="464.4" y="1768.7" width="14.1" height="14.5" fill="#ded8ef" />
<rect x="477.6" y="1768.7" width="14.1" height="14.5" fill="#f4f2fa" />
<rect x="490.8" y="1768.7" width="14.1" height="14.5" fill="#ded8ef" />
<rect x="504.1" y="1768.7" width="14.1" height="14.5" fill="#f4f2fa" />
<rect x="517.3" y="1768.7" width="14.1" height="14.5" fill="#fffaf8" />
<rect x="530.5" y="1768.7" width="13.4" height="14.5" fill="#fef4f0" />
<line x1="477.6" y1="1711.7" x2="477.6" y2="1783.0" stroke="#fff" stroke-width="1.2" stroke-opacity="0.8"/>
<line x1="490.8" y1="1711.7" x2="490.8" y2="1783.0" stroke="#fff" stroke-width="1.2" stroke-opacity="0.8"/>
<line x1="504.1" y1="1711.7" x2="504.1" y2="1783.0" stroke="#fff" stroke-width="1.2" stroke-opacity="0.8"/>
<line x1="517.3" y1="1711.7" x2="517.3" y2="1783.0" stroke="#fff" stroke-width="1.2" stroke-opacity="0.8"/>
<line x1="530.5" y1="1711.7" x2="530.5" y2="1783.0" stroke="#fff" stroke-width="1.2" stroke-opacity="0.8"/>
<line x1="464.4" y1="1726.0" x2="543.7" y2="1726.0" stroke="#fff" stroke-width="1.2" stroke-opacity="0.8"/>
<line x1="464.4" y1="1740.2" x2="543.7" y2="1740.2" stroke="#fff" stroke-width="1.2" stroke-opacity="0.8"/>
<line x1="464.4" y1="1754.5" x2="543.7" y2="1754.5" stroke="#fff" stroke-width="1.2" stroke-opacity="0.8"/>
<line x1="464.4" y1="1768.7" x2="543.7" y2="1768.7" stroke="#fff" stroke-width="1.2" stroke-opacity="0.8"/>
<rect x="464.4" y="1711.7" width="79.3" height="71.3" fill="none" stroke="#333" stroke-width="1.6" rx="1.5"/>
<rect x="547.6" y="1711.7" width="14.1" height="15.2" fill="#6452b6" />
<rect x="560.8" y="1711.7" width="14.1" height="15.2" fill="#aa9ed6" />
<rect x="574.0" y="1711.7" width="14.1" height="15.2" fill="#6452b6" />
<rect x="587.3" y="1711.7" width="14.1" height="15.2" fill="#6452b6" />
<rect x="600.5" y="1711.7" width="14.1" height="15.2" fill="#b4a8db" />
<rect x="613.7" y="1711.7" width="13.4" height="15.2" fill="#a093d2" />
<rect x="547.6" y="1726.0" width="14.1" height="15.2" fill="#9688cd" />
<rect x="560.8" y="1726.0" width="14.1" height="15.2" fill="#c8bee4" />
<rect x="574.0" y="1726.0" width="14.1" height="15.2" fill="#8272c4" />
<rect x="587.3" y="1726.0" width="14.1" height="15.2" fill="#7868bf" />
<rect x="600.5" y="1726.0" width="14.1" height="15.2" fill="#aa9ed6" />
<rect x="613.7" y="1726.0" width="13.4" height="15.2" fill="#b4a8db" />
<rect x="547.6" y="1740.2" width="14.1" height="15.2" fill="#c8bee4" />
<rect x="560.8" y="1740.2" width="14.1" height="15.2" fill="#ded8ef" />
<rect x="574.0" y="1740.2" width="14.1" height="15.2" fill="#b4a8db" />
<rect x="587.3" y="1740.2" width="14.1" height="15.2" fill="#c8bee4" />
<rect x="600.5" y="1740.2" width="14.1" height="15.2" fill="#e4def2" />
<rect x="613.7" y="1740.2" width="13.4" height="15.2" fill="#e4def2" />
<rect x="547.6" y="1754.5" width="14.1" height="15.2" fill="#8c7dc8" />
<rect x="560.8" y="1754.5" width="14.1" height="15.2" fill="#a093d2" />
<rect x="574.0" y="1754.5" width="14.1" height="15.2" fill="#e4def2" />
<rect x="587.3" y="1754.5" width="14.1" height="15.2" fill="#c8bee4" />
<rect x="600.5" y="1754.5" width="14.1" height="15.2" fill="#fdded2" />
<rect x="613.7" y="1754.5" width="13.4" height="15.2" fill="#ffffff" />
<rect x="547.6" y="1768.7" width="14.1" height="14.5" fill="#8272c4" />
<rect x="560.8" y="1768.7" width="14.1" height="14.5" fill="#e4def2" />
<rect x="574.0" y="1768.7" width="14.1" height="14.5" fill="#b4a8db" />
<rect x="587.3" y="1768.7" width="14.1" height="14.5" fill="#faf8fc" />
<rect x="600.5" y="1768.7" width="14.1" height="14.5" fill="#d3cbe9" />
<rect x="613.7" y="1768.7" width="13.4" height="14.5" fill="#fffaf8" />
<line x1="560.8" y1="1711.7" x2="560.8" y2="1783.0" stroke="#fff" stroke-width="1.2" stroke-opacity="0.8"/>
<line x1="574.0" y1="1711.7" x2="574.0" y2="1783.0" stroke="#fff" stroke-width="1.2" stroke-opacity="0.8"/>
<line x1="587.3" y1="1711.7" x2="587.3" y2="1783.0" stroke="#fff" stroke-width="1.2" stroke-opacity="0.8"/>
<line x1="600.5" y1="1711.7" x2="600.5" y2="1783.0" stroke="#fff" stroke-width="1.2" stroke-opacity="0.8"/>
<line x1="613.7" y1="1711.7" x2="613.7" y2="1783.0" stroke="#fff" stroke-width="1.2" stroke-opacity="0.8"/>
<line x1="547.6" y1="1726.0" x2="626.9" y2="1726.0" stroke="#fff" stroke-width="1.2" stroke-opacity="0.8"/>
<line x1="547.6" y1="1740.2" x2="626.9" y2="1740.2" stroke="#fff" stroke-width="1.2" stroke-opacity="0.8"/>
<line x1="547.6" y1="1754.5" x2="626.9" y2="1754.5" stroke="#fff" stroke-width="1.2" stroke-opacity="0.8"/>
<line x1="547.6" y1="1768.7" x2="626.9" y2="1768.7" stroke="#fff" stroke-width="1.2" stroke-opacity="0.8"/>
<rect x="547.6" y="1711.7" width="79.3" height="71.3" fill="none" stroke="#333" stroke-width="1.6" rx="1.5"/>
<rect x="631.4" y="1711.7" width="14.1" height="15.2" fill="#8272c4" />
<rect x="644.6" y="1711.7" width="14.1" height="15.2" fill="#6452b6" />
<rect x="657.8" y="1711.7" width="13.4" height="15.2" fill="#aa9ed6" />
<rect x="631.4" y="1726.0" width="14.1" height="15.2" fill="#b4a8db" />
<rect x="644.6" y="1726.0" width="14.1" height="15.2" fill="#7868bf" />
<rect x="657.8" y="1726.0" width="13.4" height="15.2" fill="#c8bee4" />
<rect x="631.4" y="1740.2" width="14.1" height="15.2" fill="#e4def2" />
<rect x="644.6" y="1740.2" width="14.1" height="15.2" fill="#d3cbe9" />
<rect x="657.8" y="1740.2" width="13.4" height="15.2" fill="#fffaf8" />
<rect x="631.4" y="1754.5" width="14.1" height="15.2" fill="#6452b6" />
<rect x="644.6" y="1754.5" width="14.1" height="15.2" fill="#8c7dc8" />
<rect x="657.8" y="1754.5" width="13.4" height="15.2" fill="#d3cbe9" />
<rect x="631.4" y="1768.7" width="14.1" height="14.5" fill="#d8d2ec" />
<rect x="644.6" y="1768.7" width="14.1" height="14.5" fill="#faf8fc" />
<rect x="657.8" y="1768.7" width="13.4" height="14.5" fill="#faf8fc" />
<line x1="644.6" y1="1711.7" x2="644.6" y2="1783.0" stroke="#fff" stroke-width="1.2" stroke-opacity="0.8"/>
<line x1="657.8" y1="1711.7" x2="657.8" y2="1783.0" stroke="#fff" stroke-width="1.2" stroke-opacity="0.8"/>
<line x1="631.4" y1="1726.0" x2="671.1" y2="1726.0" stroke="#fff" stroke-width="1.2" stroke-opacity="0.8"/>
<line x1="631.4" y1="1740.2" x2="671.1" y2="1740.2" stroke="#fff" stroke-width="1.2" stroke-opacity="0.8"/>
<line x1="631.4" y1="1754.5" x2="671.1" y2="1754.5" stroke="#fff" stroke-width="1.2" stroke-opacity="0.8"/>
<line x1="631.4" y1="1768.7" x2="671.1" y2="1768.7" stroke="#fff" stroke-width="1.2" stroke-opacity="0.8"/>
<rect x="631.4" y="1711.7" width="39.7" height="71.3" fill="none" stroke="#333" stroke-width="1.6" rx="1.5"/>
<rect x="173.8" y="1792.0" width="14.1" height="15.0" fill="#fbb099" />
<rect x="187.0" y="1792.0" width="14.1" height="15.0" fill="#fcc8b4" />
<rect x="200.2" y="1792.0" width="13.4" height="15.0" fill="#d8d2ec" />
<rect x="173.8" y="1806.1" width="14.1" height="15.0" fill="#2e2294" />
<rect x="187.0" y="1806.1" width="14.1" height="15.0" fill="#3b2e9d" />
<rect x="200.2" y="1806.1" width="13.4" height="15.0" fill="#160f78" />
<rect x="173.8" y="1820.3" width="14.1" height="15.0" fill="#100b6c" />
<rect x="187.0" y="1820.3" width="14.1" height="15.0" fill="#0e0758" />
<rect x="200.2" y="1820.3" width="13.4" height="15.0" fill="#0f074c" />
<rect x="173.8" y="1834.4" width="14.1" height="15.0" fill="#1c1384" />
<rect x="187.0" y="1834.4" width="14.1" height="15.0" fill="#160f78" />
<rect x="200.2" y="1834.4" width="13.4" height="15.0" fill="#0c0864" />
<rect x="173.8" y="1848.6" width="14.1" height="15.0" fill="#1c1384" />
<rect x="187.0" y="1848.6" width="14.1" height="15.0" fill="#0c0864" />
<rect x="200.2" y="1848.6" width="13.4" height="15.0" fill="#0e0758" />
<rect x="173.8" y="1862.7" width="14.1" height="15.0" fill="#0e0758" />
<rect x="187.0" y="1862.7" width="14.1" height="15.0" fill="#100646" />
<rect x="200.2" y="1862.7" width="13.4" height="15.0" fill="#12063a" />
<rect x="173.8" y="1876.8" width="14.1" height="14.3" fill="#0f074c" />
<rect x="187.0" y="1876.8" width="14.1" height="14.3" fill="#100646" />
<rect x="200.2" y="1876.8" width="13.4" height="14.3" fill="#12063a" />
<line x1="187.0" y1="1792.0" x2="187.0" y2="1891.0" stroke="#fff" stroke-width="1.2" stroke-opacity="0.8"/>
<line x1="200.2" y1="1792.0" x2="200.2" y2="1891.0" stroke="#fff" stroke-width="1.2" stroke-opacity="0.8"/>
<line x1="173.8" y1="1806.1" x2="213.5" y2="1806.1" stroke="#fff" stroke-width="1.2" stroke-opacity="0.8"/>
<line x1="173.8" y1="1820.3" x2="213.5" y2="1820.3" stroke="#fff" stroke-width="1.2" stroke-opacity="0.8"/>
<line x1="173.8" y1="1834.4" x2="213.5" y2="1834.4" stroke="#fff" stroke-width="1.2" stroke-opacity="0.8"/>
<line x1="173.8" y1="1848.6" x2="213.5" y2="1848.6" stroke="#fff" stroke-width="1.2" stroke-opacity="0.8"/>
<line x1="173.8" y1="1862.7" x2="213.5" y2="1862.7" stroke="#fff" stroke-width="1.2" stroke-opacity="0.8"/>
<line x1="173.8" y1="1876.8" x2="213.5" y2="1876.8" stroke="#fff" stroke-width="1.2" stroke-opacity="0.8"/>
<rect x="173.8" y="1792.0" width="39.7" height="99.0" fill="none" stroke="#333" stroke-width="1.6" rx="1.5"/>
<rect x="217.6" y="1792.0" width="14.1" height="15.0" fill="#b4a8db" />
<rect x="230.8" y="1792.0" width="14.1" height="15.0" fill="#e4def2" />
<rect x="244.0" y="1792.0" width="14.1" height="15.0" fill="#ded8ef" />
<rect x="257.3" y="1792.0" width="14.1" height="15.0" fill="#ffffff" />
<rect x="270.5" y="1792.0" width="14.1" height="15.0" fill="#493aa5" />
<rect x="283.7" y="1792.0" width="13.4" height="15.0" fill="#b4a8db" />
<rect x="217.6" y="1806.1" width="14.1" height="15.0" fill="#5040a9" />
<rect x="230.8" y="1806.1" width="14.1" height="15.0" fill="#6452b6" />
<rect x="244.0" y="1806.1" width="14.1" height="15.0" fill="#5646ae" />
<rect x="257.3" y="1806.1" width="14.1" height="15.0" fill="#6452b6" />
<rect x="270.5" y="1806.1" width="14.1" height="15.0" fill="#2e2294" />
<rect x="283.7" y="1806.1" width="13.4" height="15.0" fill="#3b2e9d" />
<rect x="217.6" y="1820.3" width="14.1" height="15.0" fill="#4234a1" />
<rect x="230.8" y="1820.3" width="14.1" height="15.0" fill="#6452b6" />
<rect x="244.0" y="1820.3" width="14.1" height="15.0" fill="#5646ae" />
<rect x="257.3" y="1820.3" width="14.1" height="15.0" fill="#6452b6" />
<rect x="270.5" y="1820.3" width="14.1" height="15.0" fill="#20168c" />
<rect x="283.7" y="1820.3" width="13.4" height="15.0" fill="#3b2e9d" />
<rect x="217.6" y="1834.4" width="14.1" height="15.0" fill="#5646ae" />
<rect x="230.8" y="1834.4" width="14.1" height="15.0" fill="#8272c4" />
<rect x="244.0" y="1834.4" width="14.1" height="15.0" fill="#4234a1" />
<rect x="257.3" y="1834.4" width="14.1" height="15.0" fill="#6452b6" />
<rect x="270.5" y="1834.4" width="14.1" height="15.0" fill="#20168c" />
<rect x="283.7" y="1834.4" width="13.4" height="15.0" fill="#4234a1" />
<rect x="217.6" y="1848.6" width="14.1" height="15.0" fill="#0c0864" />
<rect x="230.8" y="1848.6" width="14.1" height="15.0" fill="#100b6c" />
<rect x="244.0" y="1848.6" width="14.1" height="15.0" fill="#1c1384" />
<rect x="257.3" y="1848.6" width="14.1" height="15.0" fill="#18107c" />
<rect x="270.5" y="1848.6" width="14.1" height="15.0" fill="#0e0758" />
<rect x="283.7" y="1848.6" width="13.4" height="15.0" fill="#0c0864" />
<rect x="217.6" y="1862.7" width="14.1" height="15.0" fill="#0f074c" />
<rect x="230.8" y="1862.7" width="14.1" height="15.0" fill="#100646" />
<rect x="244.0" y="1862.7" width="14.1" height="15.0" fill="#110640" />
<rect x="257.3" y="1862.7" width="14.1" height="15.0" fill="#12063a" />
<rect x="270.5" y="1862.7" width="14.1" height="15.0" fill="#0c0864" />
<rect x="283.7" y="1862.7" width="13.4" height="15.0" fill="#0c0864" />
<rect x="217.6" y="1876.8" width="14.1" height="14.3" fill="#160f78" />
<rect x="230.8" y="1876.8" width="14.1" height="14.3" fill="#20168c" />
<rect x="244.0" y="1876.8" width="14.1" height="14.3" fill="#100b6c" />
<rect x="257.3" y="1876.8" width="14.1" height="14.3" fill="#20168c" />
<rect x="270.5" y="1876.8" width="14.1" height="14.3" fill="#160f78" />
<rect x="283.7" y="1876.8" width="13.4" height="14.3" fill="#2e2294" />
<line x1="230.8" y1="1792.0" x2="230.8" y2="1891.0" stroke="#fff" stroke-width="1.2" stroke-opacity="0.8"/>
<line x1="244.0" y1="1792.0" x2="244.0" y2="1891.0" stroke="#fff" stroke-width="1.2" stroke-opacity="0.8"/>
<line x1="257.3" y1="1792.0" x2="257.3" y2="1891.0" stroke="#fff" stroke-width="1.2" stroke-opacity="0.8"/>
<line x1="270.5" y1="1792.0" x2="270.5" y2="1891.0" stroke="#fff" stroke-width="1.2" stroke-opacity="0.8"/>
<line x1="283.7" y1="1792.0" x2="283.7" y2="1891.0" stroke="#fff" stroke-width="1.2" stroke-opacity="0.8"/>
<line x1="217.6" y1="1806.1" x2="296.9" y2="1806.1" stroke="#fff" stroke-width="1.2" stroke-opacity="0.8"/>
<line x1="217.6" y1="1820.3" x2="296.9" y2="1820.3" stroke="#fff" stroke-width="1.2" stroke-opacity="0.8"/>
<line x1="217.6" y1="1834.4" x2="296.9" y2="1834.4" stroke="#fff" stroke-width="1.2" stroke-opacity="0.8"/>
<line x1="217.6" y1="1848.6" x2="296.9" y2="1848.6" stroke="#fff" stroke-width="1.2" stroke-opacity="0.8"/>
<line x1="217.6" y1="1862.7" x2="296.9" y2="1862.7" stroke="#fff" stroke-width="1.2" stroke-opacity="0.8"/>
<line x1="217.6" y1="1876.8" x2="296.9" y2="1876.8" stroke="#fff" stroke-width="1.2" stroke-opacity="0.8"/>
<rect x="217.6" y="1792.0" width="79.3" height="99.0" fill="none" stroke="#333" stroke-width="1.6" rx="1.5"/>
<rect x="301.0" y="1792.0" width="14.1" height="15.0" fill="#b4a8db" />
<rect x="314.2" y="1792.0" width="14.1" height="15.0" fill="#e9e5f4" />
<rect x="327.4" y="1792.0" width="14.1" height="15.0" fill="#a093d2" />
<rect x="340.7" y="1792.0" width="14.1" height="15.0" fill="#e9e5f4" />
<rect x="353.9" y="1792.0" width="14.1" height="15.0" fill="#d3cbe9" />
<rect x="367.1" y="1792.0" width="14.1" height="15.0" fill="#e9e5f4" />
<rect x="380.3" y="1792.0" width="14.1" height="15.0" fill="#f4f2fa" />
<rect x="393.5" y="1792.0" width="14.1" height="15.0" fill="#a093d2" />
<rect x="406.8" y="1792.0" width="14.1" height="15.0" fill="#6452b6" />
<rect x="420.0" y="1792.0" width="14.1" height="15.0" fill="#d8d2ec" />
<rect x="433.2" y="1792.0" width="14.1" height="15.0" fill="#b4a8db" />
<rect x="446.4" y="1792.0" width="13.4" height="15.0" fill="#e4def2" />
<rect x="301.0" y="1806.1" width="14.1" height="15.0" fill="#f4f2fa" />
<rect x="314.2" y="1806.1" width="14.1" height="15.0" fill="#fee3d9" />
<rect x="327.4" y="1806.1" width="14.1" height="15.0" fill="#fa785a" />
<rect x="340.7" y="1806.1" width="14.1" height="15.0" fill="#f7664c" />
<rect x="353.9" y="1806.1" width="14.1" height="15.0" fill="#fffaf8" />
<rect x="367.1" y="1806.1" width="14.1" height="15.0" fill="#fee3d9" />
<rect x="380.3" y="1806.1" width="14.1" height="15.0" fill="#ded8ef" />
<rect x="393.5" y="1806.1" width="14.1" height="15.0" fill="#f4f2fa" />
<rect x="406.8" y="1806.1" width="14.1" height="15.0" fill="#fa886c" />
<rect x="420.0" y="1806.1" width="14.1" height="15.0" fill="#f7664c" />
<rect x="433.2" y="1806.1" width="14.1" height="15.0" fill="#fa785a" />
<rect x="446.4" y="1806.1" width="13.4" height="15.0" fill="#fa785a" />
<rect x="301.0" y="1820.3" width="14.1" height="15.0" fill="#c8bee4" />
<rect x="314.2" y="1820.3" width="14.1" height="15.0" fill="#d3cbe9" />
<rect x="327.4" y="1820.3" width="14.1" height="15.0" fill="#cdc4e7" />
<rect x="340.7" y="1820.3" width="14.1" height="15.0" fill="#c8bee4" />
<rect x="353.9" y="1820.3" width="14.1" height="15.0" fill="#fdded2" />
<rect x="367.1" y="1820.3" width="14.1" height="15.0" fill="#fee9e1" />
<rect x="380.3" y="1820.3" width="14.1" height="15.0" fill="#f4f2fa" />
<rect x="393.5" y="1820.3" width="14.1" height="15.0" fill="#faf8fc" />
<rect x="406.8" y="1820.3" width="14.1" height="15.0" fill="#e9e5f4" />
<rect x="420.0" y="1820.3" width="14.1" height="15.0" fill="#e4def2" />
<rect x="433.2" y="1820.3" width="14.1" height="15.0" fill="#fee9e1" />
<rect x="446.4" y="1820.3" width="13.4" height="15.0" fill="#fef4f0" />
<rect x="301.0" y="1834.4" width="14.1" height="15.0" fill="#ffffff" />
<rect x="314.2" y="1834.4" width="14.1" height="15.0" fill="#e9e5f4" />
<rect x="327.4" y="1834.4" width="14.1" height="15.0" fill="#fef4f0" />
<rect x="340.7" y="1834.4" width="14.1" height="15.0" fill="#eeebf7" />
<rect x="353.9" y="1834.4" width="14.1" height="15.0" fill="#ffffff" />
<rect x="367.1" y="1834.4" width="14.1" height="15.0" fill="#eeebf7" />
<rect x="380.3" y="1834.4" width="14.1" height="15.0" fill="#fef4f0" />
<rect x="393.5" y="1834.4" width="14.1" height="15.0" fill="#ffffff" />
<rect x="406.8" y="1834.4" width="14.1" height="15.0" fill="#fffaf8" />
<rect x="420.0" y="1834.4" width="14.1" height="15.0" fill="#feeee8" />
<rect x="433.2" y="1834.4" width="14.1" height="15.0" fill="#ffffff" />
<rect x="446.4" y="1834.4" width="13.4" height="15.0" fill="#fef4f0" />
<rect x="301.0" y="1848.6" width="14.1" height="15.0" fill="#fee9e1" />
<rect x="314.2" y="1848.6" width="14.1" height="15.0" fill="#fcc8b4" />
<rect x="327.4" y="1848.6" width="14.1" height="15.0" fill="#fcc8b4" />
<rect x="340.7" y="1848.6" width="14.1" height="15.0" fill="#fba890" />
<rect x="353.9" y="1848.6" width="14.1" height="15.0" fill="#f7664c" />
<rect x="367.1" y="1848.6" width="14.1" height="15.0" fill="#eb1e14" />
<rect x="380.3" y="1848.6" width="14.1" height="15.0" fill="#fcc8b4" />
<rect x="393.5" y="1848.6" width="14.1" height="15.0" fill="#e4def2" />
<rect x="406.8" y="1848.6" width="14.1" height="15.0" fill="#e9e5f4" />
<rect x="420.0" y="1848.6" width="14.1" height="15.0" fill="#fcb8a2" />
<rect x="433.2" y="1848.6" width="14.1" height="15.0" fill="#f7664c" />
<rect x="446.4" y="1848.6" width="13.4" height="15.0" fill="#eb1e14" />
<rect x="301.0" y="1862.7" width="14.1" height="15.0" fill="#f7664c" />
<rect x="314.2" y="1862.7" width="14.1" height="15.0" fill="#fa785a" />
<rect x="327.4" y="1862.7" width="14.1" height="15.0" fill="#fa886c" />
<rect x="340.7" y="1862.7" width="14.1" height="15.0" fill="#fba890" />
<rect x="353.9" y="1862.7" width="14.1" height="15.0" fill="#fcb8a2" />
<rect x="367.1" y="1862.7" width="14.1" height="15.0" fill="#fcc8b4" />
<rect x="380.3" y="1862.7" width="14.1" height="15.0" fill="#fa886c" />
<rect x="393.5" y="1862.7" width="14.1" height="15.0" fill="#fba890" />
<rect x="406.8" y="1862.7" width="14.1" height="15.0" fill="#fcb8a2" />
<rect x="420.0" y="1862.7" width="14.1" height="15.0" fill="#fba890" />
<rect x="433.2" y="1862.7" width="14.1" height="15.0" fill="#fcc8b4" />
<rect x="446.4" y="1862.7" width="13.4" height="15.0" fill="#fcc8b4" />
<rect x="301.0" y="1876.8" width="14.1" height="14.3" fill="#f7664c" />
<rect x="314.2" y="1876.8" width="14.1" height="14.3" fill="#fa785a" />
<rect x="327.4" y="1876.8" width="14.1" height="14.3" fill="#fa886c" />
<rect x="340.7" y="1876.8" width="14.1" height="14.3" fill="#fa886c" />
<rect x="353.9" y="1876.8" width="14.1" height="14.3" fill="#f7664c" />
<rect x="367.1" y="1876.8" width="14.1" height="14.3" fill="#f7664c" />
<rect x="380.3" y="1876.8" width="14.1" height="14.3" fill="#fb987e" />
<rect x="393.5" y="1876.8" width="14.1" height="14.3" fill="#fa785a" />
<rect x="406.8" y="1876.8" width="14.1" height="14.3" fill="#fa886c" />
<rect x="420.0" y="1876.8" width="14.1" height="14.3" fill="#f7664c" />
<rect x="433.2" y="1876.8" width="14.1" height="14.3" fill="#fcb8a2" />
<rect x="446.4" y="1876.8" width="13.4" height="14.3" fill="#fba890" />
<line x1="314.2" y1="1792.0" x2="314.2" y2="1891.0" stroke="#fff" stroke-width="1.2" stroke-opacity="0.8"/>
<line x1="327.4" y1="1792.0" x2="327.4" y2="1891.0" stroke="#fff" stroke-width="1.2" stroke-opacity="0.8"/>
<line x1="340.7" y1="1792.0" x2="340.7" y2="1891.0" stroke="#fff" stroke-width="1.2" stroke-opacity="0.8"/>
<line x1="353.9" y1="1792.0" x2="353.9" y2="1891.0" stroke="#fff" stroke-width="1.2" stroke-opacity="0.8"/>
<line x1="367.1" y1="1792.0" x2="367.1" y2="1891.0" stroke="#fff" stroke-width="1.2" stroke-opacity="0.8"/>
<line x1="380.3" y1="1792.0" x2="380.3" y2="1891.0" stroke="#fff" stroke-width="1.2" stroke-opacity="0.8"/>
<line x1="393.5" y1="1792.0" x2="393.5" y2="1891.0" stroke="#fff" stroke-width="1.2" stroke-opacity="0.8"/>
<line x1="406.8" y1="1792.0" x2="406.8" y2="1891.0" stroke="#fff" stroke-width="1.2" stroke-opacity="0.8"/>
<line x1="420.0" y1="1792.0" x2="420.0" y2="1891.0" stroke="#fff" stroke-width="1.2" stroke-opacity="0.8"/>
<line x1="433.2" y1="1792.0" x2="433.2" y2="1891.0" stroke="#fff" stroke-width="1.2" stroke-opacity="0.8"/>
<line x1="446.4" y1="1792.0" x2="446.4" y2="1891.0" stroke="#fff" stroke-width="1.2" stroke-opacity="0.8"/>
<line x1="301.0" y1="1806.1" x2="459.6" y2="1806.1" stroke="#fff" stroke-width="1.2" stroke-opacity="0.8"/>
<line x1="301.0" y1="1820.3" x2="459.6" y2="1820.3" stroke="#fff" stroke-width="1.2" stroke-opacity="0.8"/>
<line x1="301.0" y1="1834.4" x2="459.6" y2="1834.4" stroke="#fff" stroke-width="1.2" stroke-opacity="0.8"/>
<line x1="301.0" y1="1848.6" x2="459.6" y2="1848.6" stroke="#fff" stroke-width="1.2" stroke-opacity="0.8"/>
<line x1="301.0" y1="1862.7" x2="459.6" y2="1862.7" stroke="#fff" stroke-width="1.2" stroke-opacity="0.8"/>
<line x1="301.0" y1="1876.8" x2="459.6" y2="1876.8" stroke="#fff" stroke-width="1.2" stroke-opacity="0.8"/>
<rect x="301.0" y="1792.0" width="158.6" height="99.0" fill="none" stroke="#333" stroke-width="1.6" rx="1.5"/>
<rect x="464.4" y="1792.0" width="14.1" height="15.0" fill="#ee3022" />
<rect x="477.6" y="1792.0" width="14.1" height="15.0" fill="#f7664c" />
<rect x="490.8" y="1792.0" width="14.1" height="15.0" fill="#f7664c" />
<rect x="504.1" y="1792.0" width="14.1" height="15.0" fill="#fa785a" />
<rect x="517.3" y="1792.0" width="14.1" height="15.0" fill="#f7664c" />
<rect x="530.5" y="1792.0" width="13.4" height="15.0" fill="#fa886c" />
<rect x="464.4" y="1806.1" width="14.1" height="15.0" fill="#ffffff" />
<rect x="477.6" y="1806.1" width="14.1" height="15.0" fill="#fef4f0" />
<rect x="490.8" y="1806.1" width="14.1" height="15.0" fill="#f7664c" />
<rect x="504.1" y="1806.1" width="14.1" height="15.0" fill="#f7664c" />
<rect x="517.3" y="1806.1" width="14.1" height="15.0" fill="#ffffff" />
<rect x="530.5" y="1806.1" width="13.4" height="15.0" fill="#fb987e" />
<rect x="464.4" y="1820.3" width="14.1" height="15.0" fill="#fdded2" />
<rect x="477.6" y="1820.3" width="14.1" height="15.0" fill="#fdd9cb" />
<rect x="490.8" y="1820.3" width="14.1" height="15.0" fill="#e9e5f4" />
<rect x="504.1" y="1820.3" width="14.1" height="15.0" fill="#fdd9cb" />
<rect x="517.3" y="1820.3" width="14.1" height="15.0" fill="#d3cbe9" />
<rect x="530.5" y="1820.3" width="13.4" height="15.0" fill="#c8bee4" />
<rect x="464.4" y="1834.4" width="14.1" height="15.0" fill="#fdd3c3" />
<rect x="477.6" y="1834.4" width="14.1" height="15.0" fill="#fdded2" />
<rect x="490.8" y="1834.4" width="14.1" height="15.0" fill="#fdd9cb" />
<rect x="504.1" y="1834.4" width="14.1" height="15.0" fill="#fcc8b4" />
<rect x="517.3" y="1834.4" width="14.1" height="15.0" fill="#feeee8" />
<rect x="530.5" y="1834.4" width="13.4" height="15.0" fill="#ffffff" />
<rect x="464.4" y="1848.6" width="14.1" height="15.0" fill="#ffffff" />
<rect x="477.6" y="1848.6" width="14.1" height="15.0" fill="#fa886c" />
<rect x="490.8" y="1848.6" width="14.1" height="15.0" fill="#fffaf8" />
<rect x="504.1" y="1848.6" width="14.1" height="15.0" fill="#f7664c" />
<rect x="517.3" y="1848.6" width="14.1" height="15.0" fill="#feeee8" />
<rect x="530.5" y="1848.6" width="13.4" height="15.0" fill="#fee3d9" />
<rect x="464.4" y="1862.7" width="14.1" height="15.0" fill="#fcc8b4" />
<rect x="477.6" y="1862.7" width="14.1" height="15.0" fill="#d3cbe9" />
<rect x="490.8" y="1862.7" width="14.1" height="15.0" fill="#fee9e1" />
<rect x="504.1" y="1862.7" width="14.1" height="15.0" fill="#d8d2ec" />
<rect x="517.3" y="1862.7" width="14.1" height="15.0" fill="#fba087" />
<rect x="530.5" y="1862.7" width="13.4" height="15.0" fill="#fcc8b4" />
<rect x="464.4" y="1876.8" width="14.1" height="14.3" fill="#fb987e" />
<rect x="477.6" y="1876.8" width="14.1" height="14.3" fill="#fba890" />
<rect x="490.8" y="1876.8" width="14.1" height="14.3" fill="#fb987e" />
<rect x="504.1" y="1876.8" width="14.1" height="14.3" fill="#fba087" />
<rect x="517.3" y="1876.8" width="14.1" height="14.3" fill="#fba890" />
<rect x="530.5" y="1876.8" width="13.4" height="14.3" fill="#fcc8b4" />
<line x1="477.6" y1="1792.0" x2="477.6" y2="1891.0" stroke="#fff" stroke-width="1.2" stroke-opacity="0.8"/>
<line x1="490.8" y1="1792.0" x2="490.8" y2="1891.0" stroke="#fff" stroke-width="1.2" stroke-opacity="0.8"/>
<line x1="504.1" y1="1792.0" x2="504.1" y2="1891.0" stroke="#fff" stroke-width="1.2" stroke-opacity="0.8"/>
<line x1="517.3" y1="1792.0" x2="517.3" y2="1891.0" stroke="#fff" stroke-width="1.2" stroke-opacity="0.8"/>
<line x1="530.5" y1="1792.0" x2="530.5" y2="1891.0" stroke="#fff" stroke-width="1.2" stroke-opacity="0.8"/>
<line x1="464.4" y1="1806.1" x2="543.7" y2="1806.1" stroke="#fff" stroke-width="1.2" stroke-opacity="0.8"/>
<line x1="464.4" y1="1820.3" x2="543.7" y2="1820.3" stroke="#fff" stroke-width="1.2" stroke-opacity="0.8"/>
<line x1="464.4" y1="1834.4" x2="543.7" y2="1834.4" stroke="#fff" stroke-width="1.2" stroke-opacity="0.8"/>
<line x1="464.4" y1="1848.6" x2="543.7" y2="1848.6" stroke="#fff" stroke-width="1.2" stroke-opacity="0.8"/>
<line x1="464.4" y1="1862.7" x2="543.7" y2="1862.7" stroke="#fff" stroke-width="1.2" stroke-opacity="0.8"/>
<line x1="464.4" y1="1876.8" x2="543.7" y2="1876.8" stroke="#fff" stroke-width="1.2" stroke-opacity="0.8"/>
<rect x="464.4" y="1792.0" width="79.3" height="99.0" fill="none" stroke="#333" stroke-width="1.6" rx="1.5"/>
<rect x="547.6" y="1792.0" width="14.1" height="15.0" fill="#5646ae" />
<rect x="560.8" y="1792.0" width="14.1" height="15.0" fill="#b4a8db" />
<rect x="574.0" y="1792.0" width="14.1" height="15.0" fill="#6452b6" />
<rect x="587.3" y="1792.0" width="14.1" height="15.0" fill="#b4a8db" />
<rect x="600.5" y="1792.0" width="14.1" height="15.0" fill="#c8bee4" />
<rect x="613.7" y="1792.0" width="13.4" height="15.0" fill="#d8d2ec" />
<rect x="547.6" y="1806.1" width="14.1" height="15.0" fill="#e9e5f4" />
<rect x="560.8" y="1806.1" width="14.1" height="15.0" fill="#fcc8b4" />
<rect x="574.0" y="1806.1" width="14.1" height="15.0" fill="#f4f2fa" />
<rect x="587.3" y="1806.1" width="14.1" height="15.0" fill="#fffaf8" />
<rect x="600.5" y="1806.1" width="14.1" height="15.0" fill="#fcc8b4" />
<rect x="613.7" y="1806.1" width="13.4" height="15.0" fill="#fdd9cb" />
<rect x="547.6" y="1820.3" width="14.1" height="15.0" fill="#fdd3c3" />
<rect x="560.8" y="1820.3" width="14.1" height="15.0" fill="#fbb099" />
<rect x="574.0" y="1820.3" width="14.1" height="15.0" fill="#fcc8b4" />
<rect x="587.3" y="1820.3" width="14.1" height="15.0" fill="#fdd9cb" />
<rect x="600.5" y="1820.3" width="14.1" height="15.0" fill="#ee3022" />
<rect x="613.7" y="1820.3" width="13.4" height="15.0" fill="#f7664c" />
<rect x="547.6" y="1834.4" width="14.1" height="15.0" fill="#fffaf8" />
<rect x="560.8" y="1834.4" width="14.1" height="15.0" fill="#fdded2" />
<rect x="574.0" y="1834.4" width="14.1" height="15.0" fill="#fcc8b4" />
<rect x="587.3" y="1834.4" width="14.1" height="15.0" fill="#fee3d9" />
<rect x="600.5" y="1834.4" width="14.1" height="15.0" fill="#fcb8a2" />
<rect x="613.7" y="1834.4" width="13.4" height="15.0" fill="#fdd3c3" />
<rect x="547.6" y="1848.6" width="14.1" height="15.0" fill="#5646ae" />
<rect x="560.8" y="1848.6" width="14.1" height="15.0" fill="#7868bf" />
<rect x="574.0" y="1848.6" width="14.1" height="15.0" fill="#a093d2" />
<rect x="587.3" y="1848.6" width="14.1" height="15.0" fill="#7868bf" />
<rect x="600.5" y="1848.6" width="14.1" height="15.0" fill="#e4def2" />
<rect x="613.7" y="1848.6" width="13.4" height="15.0" fill="#d3cbe9" />
<rect x="547.6" y="1862.7" width="14.1" height="15.0" fill="#c8bee4" />
<rect x="560.8" y="1862.7" width="14.1" height="15.0" fill="#e4def2" />
<rect x="574.0" y="1862.7" width="14.1" height="15.0" fill="#fef4f0" />
<rect x="587.3" y="1862.7" width="14.1" height="15.0" fill="#e9e5f4" />
<rect x="600.5" y="1862.7" width="14.1" height="15.0" fill="#f4f2fa" />
<rect x="613.7" y="1862.7" width="13.4" height="15.0" fill="#d3cbe9" />
<rect x="547.6" y="1876.8" width="14.1" height="14.3" fill="#fdded2" />
<rect x="560.8" y="1876.8" width="14.1" height="14.3" fill="#fba890" />
<rect x="574.0" y="1876.8" width="14.1" height="14.3" fill="#eeebf7" />
<rect x="587.3" y="1876.8" width="14.1" height="14.3" fill="#f4f2fa" />
<rect x="600.5" y="1876.8" width="14.1" height="14.3" fill="#fbb099" />
<rect x="613.7" y="1876.8" width="13.4" height="14.3" fill="#fcc8b4" />
<line x1="560.8" y1="1792.0" x2="560.8" y2="1891.0" stroke="#fff" stroke-width="1.2" stroke-opacity="0.8"/>
<line x1="574.0" y1="1792.0" x2="574.0" y2="1891.0" stroke="#fff" stroke-width="1.2" stroke-opacity="0.8"/>
<line x1="587.3" y1="1792.0" x2="587.3" y2="1891.0" stroke="#fff" stroke-width="1.2" stroke-opacity="0.8"/>
<line x1="600.5" y1="1792.0" x2="600.5" y2="1891.0" stroke="#fff" stroke-width="1.2" stroke-opacity="0.8"/>
<line x1="613.7" y1="1792.0" x2="613.7" y2="1891.0" stroke="#fff" stroke-width="1.2" stroke-opacity="0.8"/>
<line x1="547.6" y1="1806.1" x2="626.9" y2="1806.1" stroke="#fff" stroke-width="1.2" stroke-opacity="0.8"/>
<line x1="547.6" y1="1820.3" x2="626.9" y2="1820.3" stroke="#fff" stroke-width="1.2" stroke-opacity="0.8"/>
<line x1="547.6" y1="1834.4" x2="626.9" y2="1834.4" stroke="#fff" stroke-width="1.2" stroke-opacity="0.8"/>
<line x1="547.6" y1="1848.6" x2="626.9" y2="1848.6" stroke="#fff" stroke-width="1.2" stroke-opacity="0.8"/>
<line x1="547.6" y1="1862.7" x2="626.9" y2="1862.7" stroke="#fff" stroke-width="1.2" stroke-opacity="0.8"/>
<line x1="547.6" y1="1876.8" x2="626.9" y2="1876.8" stroke="#fff" stroke-width="1.2" stroke-opacity="0.8"/>
<rect x="547.6" y="1792.0" width="79.3" height="99.0" fill="none" stroke="#333" stroke-width="1.6" rx="1.5"/>
<rect x="631.4" y="1792.0" width="14.1" height="15.0" fill="#fa785a" />
<rect x="644.6" y="1792.0" width="14.1" height="15.0" fill="#fa886c" />
<rect x="657.8" y="1792.0" width="13.4" height="15.0" fill="#f7664c" />
<rect x="631.4" y="1806.1" width="14.1" height="15.0" fill="#fa886c" />
<rect x="644.6" y="1806.1" width="14.1" height="15.0" fill="#fa785a" />
<rect x="657.8" y="1806.1" width="13.4" height="15.0" fill="#f7664c" />
<rect x="631.4" y="1820.3" width="14.1" height="15.0" fill="#fb987e" />
<rect x="644.6" y="1820.3" width="14.1" height="15.0" fill="#fdd3c3" />
<rect x="657.8" y="1820.3" width="13.4" height="15.0" fill="#f7664c" />
<rect x="631.4" y="1834.4" width="14.1" height="15.0" fill="#fcb8a2" />
<rect x="644.6" y="1834.4" width="14.1" height="15.0" fill="#fcc8b4" />
<rect x="657.8" y="1834.4" width="13.4" height="15.0" fill="#fba890" />
<rect x="631.4" y="1848.6" width="14.1" height="15.0" fill="#5646ae" />
<rect x="644.6" y="1848.6" width="14.1" height="15.0" fill="#5040a9" />
<rect x="657.8" y="1848.6" width="13.4" height="15.0" fill="#a093d2" />
<rect x="631.4" y="1862.7" width="14.1" height="15.0" fill="#d3cbe9" />
<rect x="644.6" y="1862.7" width="14.1" height="15.0" fill="#e9e5f4" />
<rect x="657.8" y="1862.7" width="13.4" height="15.0" fill="#d3cbe9" />
<rect x="631.4" y="1876.8" width="14.1" height="14.3" fill="#fba890" />
<rect x="644.6" y="1876.8" width="14.1" height="14.3" fill="#fef4f0" />
<rect x="657.8" y="1876.8" width="13.4" height="14.3" fill="#fba890" />
<line x1="644.6" y1="1792.0" x2="644.6" y2="1891.0" stroke="#fff" stroke-width="1.2" stroke-opacity="0.8"/>
<line x1="657.8" y1="1792.0" x2="657.8" y2="1891.0" stroke="#fff" stroke-width="1.2" stroke-opacity="0.8"/>
<line x1="631.4" y1="1806.1" x2="671.1" y2="1806.1" stroke="#fff" stroke-width="1.2" stroke-opacity="0.8"/>
<line x1="631.4" y1="1820.3" x2="671.1" y2="1820.3" stroke="#fff" stroke-width="1.2" stroke-opacity="0.8"/>
<line x1="631.4" y1="1834.4" x2="671.1" y2="1834.4" stroke="#fff" stroke-width="1.2" stroke-opacity="0.8"/>
<line x1="631.4" y1="1848.6" x2="671.1" y2="1848.6" stroke="#fff" stroke-width="1.2" stroke-opacity="0.8"/>
<line x1="631.4" y1="1862.7" x2="671.1" y2="1862.7" stroke="#fff" stroke-width="1.2" stroke-opacity="0.8"/>
<line x1="631.4" y1="1876.8" x2="671.1" y2="1876.8" stroke="#fff" stroke-width="1.2" stroke-opacity="0.8"/>
<rect x="631.4" y="1792.0" width="39.7" height="99.0" fill="none" stroke="#333" stroke-width="1.6" rx="1.5"/>
<rect x="173.8" y="1895.0" width="13.2" height="14.5" fill="#000" stroke="#222" stroke-width="1" />
<rect x="187.0" y="1895.0" width="13.2" height="14.5" fill="#000" stroke="#222" stroke-width="1" />
<rect x="200.2" y="1895.0" width="13.2" height="14.5" fill="#000" stroke="#222" stroke-width="1" />
<rect x="173.8" y="1895.0" width="39.7" height="14.5" fill="none" stroke="#333" stroke-width="1.6" rx="1.5"/>
<rect x="217.6" y="1895.0" width="13.2" height="14.5" fill="#000" stroke="#222" stroke-width="1" />
<rect x="230.8" y="1895.0" width="13.2" height="14.5" fill="#000" stroke="#222" stroke-width="1" />
<rect x="244.0" y="1895.0" width="13.2" height="14.5" fill="#000" stroke="#222" stroke-width="1" />
<rect x="257.3" y="1895.0" width="13.2" height="14.5" fill="#000" stroke="#222" stroke-width="1" />
<rect x="270.5" y="1895.0" width="13.2" height="14.5" fill="#000" stroke="#222" stroke-width="1" />
<rect x="283.7" y="1895.0" width="13.2" height="14.5" fill="#000" stroke="#222" stroke-width="1" />
<rect x="217.6" y="1895.0" width="79.3" height="14.5" fill="none" stroke="#333" stroke-width="1.6" rx="1.5"/>
<rect x="301.0" y="1895.0" width="13.2" height="14.5" fill="#40e0d0" stroke="#222" stroke-width="1" />
<rect x="314.2" y="1895.0" width="13.2" height="14.5" fill="#40e0d0" stroke="#222" stroke-width="1" />
<rect x="327.4" y="1895.0" width="13.2" height="14.5" fill="#0000ff" stroke="#222" stroke-width="1" />
<rect x="340.7" y="1895.0" width="13.2" height="14.5" fill="#0000ff" stroke="#222" stroke-width="1" />
<rect x="353.9" y="1895.0" width="13.2" height="14.5" fill="#40e0d0" stroke="#222" stroke-width="1" />
<rect x="367.1" y="1895.0" width="13.2" height="14.5" fill="#40e0d0" stroke="#222" stroke-width="1" />
<rect x="380.3" y="1895.0" width="13.2" height="14.5" fill="#40e0d0" stroke="#222" stroke-width="1" />
<rect x="393.5" y="1895.0" width="13.2" height="14.5" fill="#40e0d0" stroke="#222" stroke-width="1" />
<rect x="406.8" y="1895.0" width="13.2" height="14.5" fill="#0000ff" stroke="#222" stroke-width="1" />
<rect x="420.0" y="1895.0" width="13.2" height="14.5" fill="#0000ff" stroke="#222" stroke-width="1" />
<rect x="433.2" y="1895.0" width="13.2" height="14.5" fill="#0000ff" stroke="#222" stroke-width="1" />
<rect x="446.4" y="1895.0" width="13.2" height="14.5" fill="#0000ff" stroke="#222" stroke-width="1" />
<rect x="301.0" y="1895.0" width="158.6" height="14.5" fill="none" stroke="#333" stroke-width="1.6" rx="1.5"/>
<rect x="464.4" y="1895.0" width="13.2" height="14.5" fill="#40e0d0" stroke="#222" stroke-width="1" />
<rect x="477.6" y="1895.0" width="13.2" height="14.5" fill="#40e0d0" stroke="#222" stroke-width="1" />
<rect x="490.8" y="1895.0" width="13.2" height="14.5" fill="#0000ff" stroke="#222" stroke-width="1" />
<rect x="504.1" y="1895.0" width="13.2" height="14.5" fill="#0000ff" stroke="#222" stroke-width="1" />
<rect x="517.3" y="1895.0" width="13.2" height="14.5" fill="#40e0d0" stroke="#222" stroke-width="1" />
<rect x="530.5" y="1895.0" width="13.2" height="14.5" fill="#0000ff" stroke="#222" stroke-width="1" />
<rect x="464.4" y="1895.0" width="79.3" height="14.5" fill="none" stroke="#333" stroke-width="1.6" rx="1.5"/>
<rect x="547.6" y="1895.0" width="13.2" height="14.5" fill="#00ff00" stroke="#222" stroke-width="1" />
<rect x="560.8" y="1895.0" width="13.2" height="14.5" fill="#00ff00" stroke="#222" stroke-width="1" />
<rect x="574.0" y="1895.0" width="13.2" height="14.5" fill="#00ff00" stroke="#222" stroke-width="1" />
<rect x="587.3" y="1895.0" width="13.2" height="14.5" fill="#00ff00" stroke="#222" stroke-width="1" />
<rect x="600.5" y="1895.0" width="13.2" height="14.5" fill="#00ff00" stroke="#222" stroke-width="1" />
<rect x="613.7" y="1895.0" width="13.2" height="14.5" fill="#00ff00" stroke="#222" stroke-width="1" />
<rect x="547.6" y="1895.0" width="79.3" height="14.5" fill="none" stroke="#333" stroke-width="1.6" rx="1.5"/>
<rect x="631.4" y="1895.0" width="13.2" height="14.5" fill="#00ff00" stroke="#222" stroke-width="1" />
<rect x="644.6" y="1895.0" width="13.2" height="14.5" fill="#00ff00" stroke="#222" stroke-width="1" />
<rect x="657.8" y="1895.0" width="13.2" height="14.5" fill="#00ff00" stroke="#222" stroke-width="1" />
<rect x="631.4" y="1895.0" width="39.7" height="14.5" fill="none" stroke="#333" stroke-width="1.6" rx="1.5"/>
<rect x="173.8" y="1912.0" width="13.2" height="14.6" fill="#000" stroke="#222" stroke-width="1" />
<rect x="187.0" y="1912.0" width="13.2" height="14.6" fill="#000" stroke="#222" stroke-width="1" />
<rect x="200.2" y="1912.0" width="13.2" height="14.6" fill="#000" stroke="#222" stroke-width="1" />
<rect x="173.8" y="1912.0" width="39.7" height="14.6" fill="none" stroke="#333" stroke-width="1.6" rx="1.5"/>
<rect x="217.6" y="1912.0" width="13.2" height="14.6" fill="#ffa500" stroke="#222" stroke-width="1" />
<rect x="230.8" y="1912.0" width="13.2" height="14.6" fill="#000" stroke="#222" stroke-width="1" />
<rect x="244.0" y="1912.0" width="13.2" height="14.6" fill="#ffa500" stroke="#222" stroke-width="1" />
<rect x="257.3" y="1912.0" width="13.2" height="14.6" fill="#000" stroke="#222" stroke-width="1" />
<rect x="270.5" y="1912.0" width="13.2" height="14.6" fill="#ffa500" stroke="#222" stroke-width="1" />
<rect x="283.7" y="1912.0" width="13.2" height="14.6" fill="#000" stroke="#222" stroke-width="1" />
<rect x="217.6" y="1912.0" width="79.3" height="14.6" fill="none" stroke="#333" stroke-width="1.6" rx="1.5"/>
<rect x="301.0" y="1912.0" width="13.2" height="14.6" fill="#ffa500" stroke="#222" stroke-width="1" />
<rect x="314.2" y="1912.0" width="13.2" height="14.6" fill="#a020f0" stroke="#222" stroke-width="1" />
<rect x="327.4" y="1912.0" width="13.2" height="14.6" fill="#ffa500" stroke="#222" stroke-width="1" />
<rect x="340.7" y="1912.0" width="13.2" height="14.6" fill="#a020f0" stroke="#222" stroke-width="1" />
<rect x="353.9" y="1912.0" width="13.2" height="14.6" fill="#ffa500" stroke="#222" stroke-width="1" />
<rect x="367.1" y="1912.0" width="13.2" height="14.6" fill="#a020f0" stroke="#222" stroke-width="1" />
<rect x="380.3" y="1912.0" width="13.2" height="14.6" fill="#a020f0" stroke="#222" stroke-width="1" />
<rect x="393.5" y="1912.0" width="13.2" height="14.6" fill="#ffa500" stroke="#222" stroke-width="1" />
<rect x="406.8" y="1912.0" width="13.2" height="14.6" fill="#ffa500" stroke="#222" stroke-width="1" />
<rect x="420.0" y="1912.0" width="13.2" height="14.6" fill="#a020f0" stroke="#222" stroke-width="1" />
<rect x="433.2" y="1912.0" width="13.2" height="14.6" fill="#ffa500" stroke="#222" stroke-width="1" />
<rect x="446.4" y="1912.0" width="13.2" height="14.6" fill="#a020f0" stroke="#222" stroke-width="1" />
<rect x="301.0" y="1912.0" width="158.6" height="14.6" fill="none" stroke="#333" stroke-width="1.6" rx="1.5"/>
<rect x="464.4" y="1912.0" width="13.2" height="14.6" fill="#000" stroke="#222" stroke-width="1" />
<rect x="477.6" y="1912.0" width="13.2" height="14.6" fill="#000" stroke="#222" stroke-width="1" />
<rect x="490.8" y="1912.0" width="13.2" height="14.6" fill="#000" stroke="#222" stroke-width="1" />
<rect x="504.1" y="1912.0" width="13.2" height="14.6" fill="#000" stroke="#222" stroke-width="1" />
<rect x="517.3" y="1912.0" width="13.2" height="14.6" fill="#000" stroke="#222" stroke-width="1" />
<rect x="530.5" y="1912.0" width="13.2" height="14.6" fill="#000" stroke="#222" stroke-width="1" />
<rect x="464.4" y="1912.0" width="79.3" height="14.6" fill="none" stroke="#333" stroke-width="1.6" rx="1.5"/>
<rect x="547.6" y="1912.0" width="13.2" height="14.6" fill="#ffa500" stroke="#222" stroke-width="1" />
<rect x="560.8" y="1912.0" width="13.2" height="14.6" fill="#a020f0" stroke="#222" stroke-width="1" />
<rect x="574.0" y="1912.0" width="13.2" height="14.6" fill="#ffa500" stroke="#222" stroke-width="1" />
<rect x="587.3" y="1912.0" width="13.2" height="14.6" fill="#a020f0" stroke="#222" stroke-width="1" />
<rect x="600.5" y="1912.0" width="13.2" height="14.6" fill="#ffa500" stroke="#222" stroke-width="1" />
<rect x="613.7" y="1912.0" width="13.2" height="14.6" fill="#a020f0" stroke="#222" stroke-width="1" />
<rect x="547.6" y="1912.0" width="79.3" height="14.6" fill="none" stroke="#333" stroke-width="1.6" rx="1.5"/>
<rect x="631.4" y="1912.0" width="13.2" height="14.6" fill="#000" stroke="#222" stroke-width="1" />
<rect x="644.6" y="1912.0" width="13.2" height="14.6" fill="#000" stroke="#222" stroke-width="1" />
<rect x="657.8" y="1912.0" width="13.2" height="14.6" fill="#000" stroke="#222" stroke-width="1" />
<rect x="631.4" y="1912.0" width="39.7" height="14.6" fill="none" stroke="#333" stroke-width="1.6" rx="1.5"/>
<rect x="173.8" y="1929.6" width="13.2" height="14.4" fill="#ff00ff" stroke="#222" stroke-width="1" />
<rect x="187.0" y="1929.6" width="13.2" height="14.4" fill="#0000ff" stroke="#222" stroke-width="1" />
<rect x="200.2" y="1929.6" width="13.2" height="14.4" fill="#404040" stroke="#222" stroke-width="1" />
<rect x="173.8" y="1929.6" width="39.7" height="14.4" fill="none" stroke="#333" stroke-width="1.6" rx="1.5"/>
<rect x="217.6" y="1929.6" width="13.2" height="14.4" fill="#0000ff" stroke="#222" stroke-width="1" />
<rect x="230.8" y="1929.6" width="13.2" height="14.4" fill="#0000ff" stroke="#222" stroke-width="1" />
<rect x="244.0" y="1929.6" width="13.2" height="14.4" fill="#ff00ff" stroke="#222" stroke-width="1" />
<rect x="257.3" y="1929.6" width="13.2" height="14.4" fill="#ff00ff" stroke="#222" stroke-width="1" />
<rect x="270.5" y="1929.6" width="13.2" height="14.4" fill="#404040" stroke="#222" stroke-width="1" />
<rect x="283.7" y="1929.6" width="13.2" height="14.4" fill="#404040" stroke="#222" stroke-width="1" />
<rect x="217.6" y="1929.6" width="79.3" height="14.4" fill="none" stroke="#333" stroke-width="1.6" rx="1.5"/>
<rect x="301.0" y="1929.6" width="13.2" height="14.4" fill="#404040" stroke="#222" stroke-width="1" />
<rect x="314.2" y="1929.6" width="13.2" height="14.4" fill="#404040" stroke="#222" stroke-width="1" />
<rect x="327.4" y="1929.6" width="13.2" height="14.4" fill="#404040" stroke="#222" stroke-width="1" />
<rect x="340.7" y="1929.6" width="13.2" height="14.4" fill="#404040" stroke="#222" stroke-width="1" />
<rect x="353.9" y="1929.6" width="13.2" height="14.4" fill="#0000ff" stroke="#222" stroke-width="1" />
<rect x="367.1" y="1929.6" width="13.2" height="14.4" fill="#0000ff" stroke="#222" stroke-width="1" />
<rect x="380.3" y="1929.6" width="13.2" height="14.4" fill="#ff00ff" stroke="#222" stroke-width="1" />
<rect x="393.5" y="1929.6" width="13.2" height="14.4" fill="#ff00ff" stroke="#222" stroke-width="1" />
<rect x="406.8" y="1929.6" width="13.2" height="14.4" fill="#ff00ff" stroke="#222" stroke-width="1" />
<rect x="420.0" y="1929.6" width="13.2" height="14.4" fill="#ff00ff" stroke="#222" stroke-width="1" />
<rect x="433.2" y="1929.6" width="13.2" height="14.4" fill="#0000ff" stroke="#222" stroke-width="1" />
<rect x="446.4" y="1929.6" width="13.2" height="14.4" fill="#0000ff" stroke="#222" stroke-width="1" />
<rect x="301.0" y="1929.6" width="158.6" height="14.4" fill="none" stroke="#333" stroke-width="1.6" rx="1.5"/>
<rect x="464.4" y="1929.6" width="13.2" height="14.4" fill="#ff00ff" stroke="#222" stroke-width="1" />
<rect x="477.6" y="1929.6" width="13.2" height="14.4" fill="#0000ff" stroke="#222" stroke-width="1" />
<rect x="490.8" y="1929.6" width="13.2" height="14.4" fill="#ff00ff" stroke="#222" stroke-width="1" />
<rect x="504.1" y="1929.6" width="13.2" height="14.4" fill="#0000ff" stroke="#222" stroke-width="1" />
<rect x="517.3" y="1929.6" width="13.2" height="14.4" fill="#404040" stroke="#222" stroke-width="1" />
<rect x="530.5" y="1929.6" width="13.2" height="14.4" fill="#404040" stroke="#222" stroke-width="1" />
<rect x="464.4" y="1929.6" width="79.3" height="14.4" fill="none" stroke="#333" stroke-width="1.6" rx="1.5"/>
<rect x="547.6" y="1929.6" width="13.2" height="14.4" fill="#ff00ff" stroke="#222" stroke-width="1" />
<rect x="560.8" y="1929.6" width="13.2" height="14.4" fill="#ff00ff" stroke="#222" stroke-width="1" />
<rect x="574.0" y="1929.6" width="13.2" height="14.4" fill="#404040" stroke="#222" stroke-width="1" />
<rect x="587.3" y="1929.6" width="13.2" height="14.4" fill="#404040" stroke="#222" stroke-width="1" />
<rect x="600.5" y="1929.6" width="13.2" height="14.4" fill="#0000ff" stroke="#222" stroke-width="1" />
<rect x="613.7" y="1929.6" width="13.2" height="14.4" fill="#0000ff" stroke="#222" stroke-width="1" />
<rect x="547.6" y="1929.6" width="79.3" height="14.4" fill="none" stroke="#333" stroke-width="1.6" rx="1.5"/>
<rect x="631.4" y="1929.6" width="13.2" height="14.4" fill="#ff00ff" stroke="#222" stroke-width="1" />
<rect x="644.6" y="1929.6" width="13.2" height="14.4" fill="#404040" stroke="#222" stroke-width="1" />
<rect x="657.8" y="1929.6" width="13.2" height="14.4" fill="#0000ff" stroke="#222" stroke-width="1" />
<rect x="631.4" y="1929.6" width="39.7" height="14.4" fill="none" stroke="#333" stroke-width="1.6" rx="1.5"/>
<rect x="147.0" y="1467.5" width="18.0" height="14.1" fill="#000000" stroke="#222" stroke-width="0.8" />
<rect x="147.0" y="1481.6" width="18.0" height="14.1" fill="#000000" stroke="#222" stroke-width="0.8" />
<rect x="147.0" y="1495.7" width="18.0" height="14.1" fill="#ff0000" stroke="#222" stroke-width="0.8" />
<rect x="147.0" y="1509.9" width="18.0" height="14.1" fill="#000000" stroke="#222" stroke-width="0.8" />
<rect x="147.0" y="1467.5" width="18.0" height="56.5" fill="none" stroke="#333" stroke-width="1.6" />
<rect x="147.0" y="1533.0" width="18.0" height="14.2" fill="#ccaa00" stroke="#222" stroke-width="0.8" />
<rect x="147.0" y="1547.2" width="18.0" height="14.2" fill="#ffa500" stroke="#222" stroke-width="0.8" />
<rect x="147.0" y="1561.3" width="18.0" height="14.2" fill="#0000ff" stroke="#222" stroke-width="0.8" />
<rect x="147.0" y="1575.5" width="18.0" height="14.2" fill="#0000ff" stroke="#222" stroke-width="0.8" />
<rect x="147.0" y="1589.7" width="18.0" height="14.2" fill="#a020f0" stroke="#222" stroke-width="0.8" />
<rect x="147.0" y="1603.8" width="18.0" height="14.2" fill="#0000ff" stroke="#222" stroke-width="0.8" />
<rect x="147.0" y="1618.0" width="18.0" height="14.2" fill="#0000ff" stroke="#222" stroke-width="0.8" />
<rect x="147.0" y="1632.2" width="18.0" height="14.2" fill="#ff00ff" stroke="#222" stroke-width="0.8" />
<rect x="147.0" y="1646.4" width="18.0" height="14.2" fill="#a020f0" stroke="#222" stroke-width="0.8" />
<rect x="147.0" y="1660.5" width="18.0" height="14.2" fill="#ff0000" stroke="#222" stroke-width="0.8" />
<rect x="147.0" y="1674.7" width="18.0" height="14.2" fill="#ff0000" stroke="#222" stroke-width="0.8" />
<rect x="147.0" y="1688.9" width="18.0" height="14.2" fill="#ff0000" stroke="#222" stroke-width="0.8" />
<rect x="147.0" y="1533.0" width="18.0" height="170.0" fill="none" stroke="#333" stroke-width="1.6" />
<rect x="147.0" y="1711.7" width="18.0" height="14.3" fill="#ff0000" stroke="#222" stroke-width="0.8" />
<rect x="147.0" y="1726.0" width="18.0" height="14.3" fill="#000000" stroke="#222" stroke-width="0.8" />
<rect x="147.0" y="1740.2" width="18.0" height="14.3" fill="#000000" stroke="#222" stroke-width="0.8" />
<rect x="147.0" y="1754.5" width="18.0" height="14.3" fill="#0000ff" stroke="#222" stroke-width="0.8" />
<rect x="147.0" y="1768.7" width="18.0" height="14.3" fill="#ff0000" stroke="#222" stroke-width="0.8" />
<rect x="147.0" y="1711.7" width="18.0" height="71.3" fill="none" stroke="#333" stroke-width="1.6" />
<rect x="147.0" y="1792.0" width="18.0" height="14.1" fill="#a020f0" stroke="#222" stroke-width="0.8" />
<rect x="147.0" y="1806.1" width="18.0" height="14.1" fill="#00e676" stroke="#222" stroke-width="0.8" />
<rect x="147.0" y="1820.3" width="18.0" height="14.1" fill="#ff00ff" stroke="#222" stroke-width="0.8" />
<rect x="147.0" y="1834.4" width="18.0" height="14.1" fill="#ccaa00" stroke="#222" stroke-width="0.8" />
<rect x="147.0" y="1848.6" width="18.0" height="14.1" fill="#808080" stroke="#222" stroke-width="0.8" />
<rect x="147.0" y="1862.7" width="18.0" height="14.1" fill="#ff0000" stroke="#222" stroke-width="0.8" />
<rect x="147.0" y="1876.8" width="18.0" height="14.1" fill="#ff00ff" stroke="#222" stroke-width="0.8" />
<rect x="147.0" y="1792.0" width="18.0" height="99.0" fill="none" stroke="#333" stroke-width="1.6" />
<line x1="99.2" y1="1594.7" x2="99.2" y2="1700.8" stroke="#333" stroke-width="1.2" />
<line x1="99.2" y1="1489.0" x2="99.2" y2="1594.7" stroke="#d9668a" stroke-width="1.2" />
<line x1="99.2" y1="1489.0" x2="133.5" y2="1489.0" stroke="#d9668a" stroke-width="1.2" />
<line x1="133.5" y1="1477.0" x2="133.5" y2="1503.0" stroke="#d9668a" stroke-width="1.2" />
<line x1="133.5" y1="1477.0" x2="146.0" y2="1477.0" stroke="#d9668a" stroke-width="1.2" />
<line x1="137.0" y1="1503.0" x2="146.0" y2="1503.0" stroke="#d9668a" stroke-width="1.2" />
<line x1="137.0" y1="1492.0" x2="137.0" y2="1517.0" stroke="#d9668a" stroke-width="1.2" />
<line x1="137.0" y1="1492.0" x2="146.0" y2="1492.0" stroke="#d9668a" stroke-width="1.2" />
<line x1="141.0" y1="1506.0" x2="141.0" y2="1520.0" stroke="#d9668a" stroke-width="1.2" />
<line x1="141.0" y1="1506.0" x2="146.0" y2="1506.0" stroke="#d9668a" stroke-width="1.2" />
<line x1="141.0" y1="1520.0" x2="146.0" y2="1520.0" stroke="#d9668a" stroke-width="1.2" />
<line x1="99.2" y1="1700.8" x2="112.7" y2="1700.8" stroke="#333" stroke-width="1.2" />
<line x1="112.7" y1="1616.7" x2="112.7" y2="1784.0" stroke="#333" stroke-width="1.2" />
<line x1="112.7" y1="1616.7" x2="127.0" y2="1616.7" stroke="#333" stroke-width="1.2" />
<line x1="127.0" y1="1575.0" x2="127.0" y2="1616.7" stroke="#c8a040" stroke-width="1.2" />
<line x1="127.0" y1="1616.7" x2="127.0" y2="1659.0" stroke="#44aa44" stroke-width="1.2" />
<line x1="127.0" y1="1575.0" x2="136.0" y2="1575.0" stroke="#c8a040" stroke-width="1.2" />
<line x1="136.0" y1="1555.0" x2="136.0" y2="1600.0" stroke="#c8a040" stroke-width="1.2" />
<line x1="136.0" y1="1556.0" x2="142.0" y2="1556.0" stroke="#c8a040" stroke-width="1.2" />
<line x1="142.0" y1="1540.0" x2="142.0" y2="1572.0" stroke="#c8a040" stroke-width="1.2" />
<line x1="142.0" y1="1540.0" x2="146.0" y2="1540.0" stroke="#c8a040" stroke-width="1.2" />
<line x1="142.0" y1="1572.0" x2="146.0" y2="1572.0" stroke="#c8a040" stroke-width="1.2" />
<line x1="136.0" y1="1600.0" x2="142.0" y2="1600.0" stroke="#c8a040" stroke-width="1.2" />
<line x1="142.0" y1="1588.0" x2="142.0" y2="1612.0" stroke="#c8a040" stroke-width="1.2" />
<line x1="142.0" y1="1588.0" x2="146.0" y2="1588.0" stroke="#c8a040" stroke-width="1.2" />
<line x1="142.0" y1="1612.0" x2="146.0" y2="1612.0" stroke="#c8a040" stroke-width="1.2" />
<line x1="136.0" y1="1555.0" x2="142.0" y2="1555.0" stroke="#c8a040" stroke-width="1.2" />
<line x1="136.0" y1="1600.0" x2="142.0" y2="1600.0" stroke="#c8a040" stroke-width="1.2" />
<line x1="127.0" y1="1659.0" x2="132.0" y2="1659.0" stroke="#44aa44" stroke-width="1.2" />
<line x1="132.0" y1="1640.0" x2="132.0" y2="1680.0" stroke="#44aa44" stroke-width="1.2" />
<line x1="132.0" y1="1640.5" x2="138.0" y2="1640.5" stroke="#44aa44" stroke-width="1.2" />
<line x1="138.0" y1="1626.0" x2="138.0" y2="1655.0" stroke="#44aa44" stroke-width="1.2" />
<line x1="138.0" y1="1626.0" x2="146.0" y2="1626.0" stroke="#44aa44" stroke-width="1.2" />
<line x1="138.0" y1="1655.0" x2="146.0" y2="1655.0" stroke="#44aa44" stroke-width="1.2" />
<line x1="138.0" y1="1640.5" x2="146.0" y2="1640.5" stroke="#44aa44" stroke-width="1.2" />
<line x1="132.0" y1="1682.5" x2="138.0" y2="1682.5" stroke="#44aa44" stroke-width="1.2" />
<line x1="138.0" y1="1668.0" x2="138.0" y2="1697.0" stroke="#44aa44" stroke-width="1.2" />
<line x1="138.0" y1="1668.0" x2="146.0" y2="1668.0" stroke="#44aa44" stroke-width="1.2" />
<line x1="138.0" y1="1697.0" x2="146.0" y2="1697.0" stroke="#44aa44" stroke-width="1.2" />
<line x1="138.0" y1="1682.5" x2="146.0" y2="1682.5" stroke="#44aa44" stroke-width="1.2" />
<line x1="112.7" y1="1784.0" x2="125.7" y2="1784.0" stroke="#333" stroke-width="1.2" />
<line x1="125.7" y1="1745.0" x2="125.7" y2="1784.0" stroke="#33aaaa" stroke-width="1.2" />
<line x1="125.7" y1="1745.0" x2="133.0" y2="1745.0" stroke="#33aaaa" stroke-width="1.2" />
<line x1="133.0" y1="1725.0" x2="133.0" y2="1765.0" stroke="#33aaaa" stroke-width="1.2" />
<line x1="133.0" y1="1726.0" x2="139.0" y2="1726.0" stroke="#33aaaa" stroke-width="1.2" />
<line x1="139.0" y1="1719.0" x2="139.0" y2="1733.0" stroke="#33aaaa" stroke-width="1.2" />
<line x1="139.0" y1="1719.0" x2="146.0" y2="1719.0" stroke="#33aaaa" stroke-width="1.2" />
<line x1="139.0" y1="1733.0" x2="146.0" y2="1733.0" stroke="#33aaaa" stroke-width="1.2" />
<line x1="133.0" y1="1762.0" x2="139.0" y2="1762.0" stroke="#33aaaa" stroke-width="1.2" />
<line x1="139.0" y1="1748.0" x2="139.0" y2="1776.0" stroke="#33aaaa" stroke-width="1.2" />
<line x1="139.0" y1="1748.0" x2="146.0" y2="1748.0" stroke="#33aaaa" stroke-width="1.2" />
<line x1="139.0" y1="1776.0" x2="146.0" y2="1776.0" stroke="#33aaaa" stroke-width="1.2" />
<line x1="125.7" y1="1784.0" x2="125.7" y2="1818.0" stroke="#333" stroke-width="1.2" />
<line x1="127.0" y1="1801.0" x2="146.0" y2="1801.0" stroke="#2288dd" stroke-width="1.2" />
<line x1="127.0" y1="1818.0" x2="127.0" y2="1860.0" stroke="#cc66dd" stroke-width="1.2" />
<line x1="127.0" y1="1839.0" x2="134.0" y2="1839.0" stroke="#cc66dd" stroke-width="1.2" />
<line x1="134.0" y1="1820.0" x2="134.0" y2="1865.0" stroke="#cc66dd" stroke-width="1.2" />
<line x1="134.0" y1="1827.5" x2="140.0" y2="1827.5" stroke="#cc66dd" stroke-width="1.2" />
<line x1="140.0" y1="1813.0" x2="140.0" y2="1842.0" stroke="#cc66dd" stroke-width="1.2" />
<line x1="140.0" y1="1813.0" x2="146.0" y2="1813.0" stroke="#cc66dd" stroke-width="1.2" />
<line x1="140.0" y1="1842.0" x2="146.0" y2="1842.0" stroke="#cc66dd" stroke-width="1.2" />
<line x1="134.0" y1="1870.0" x2="140.0" y2="1870.0" stroke="#cc66dd" stroke-width="1.2" />
<line x1="140.0" y1="1856.0" x2="140.0" y2="1884.0" stroke="#cc66dd" stroke-width="1.2" />
<line x1="140.0" y1="1856.0" x2="146.0" y2="1856.0" stroke="#cc66dd" stroke-width="1.2" />
<line x1="140.0" y1="1884.0" x2="146.0" y2="1884.0" stroke="#cc66dd" stroke-width="1.2" />
<text transform="translate(90.0,1716.0) rotate(-90)" font-family="'Liberation Sans', Arial, sans-serif" font-size="20.00" fill="#222" textLength="69.0" lengthAdjust="spacingAndGlyphs" >Markers</text>
<text transform="translate(164.0,1957.0) rotate(-90)" font-family="'Liberation Sans', Arial, sans-serif" font-size="18.00" fill="#222" textLength="59.0" lengthAdjust="spacingAndGlyphs" >Category</text>
<path d="M190,1970.5 L674,1953 L674,1975.5 L190,1975.5 Z" fill="#000" />
<text x="175.0" y="1993.0" font-family="Carlito, 'Liberation Sans', sans-serif" font-size="21.00" fill="#333" textLength="52.0" lengthAdjust="spacingAndGlyphs" >mono</text>
<text x="629.0" y="1996.0" font-family="Carlito, 'Liberation Sans', sans-serif" font-size="21.00" fill="#333" textLength="44.0" lengthAdjust="spacingAndGlyphs" >mDC</text>
<text x="677.0" y="1267.0" font-family="Carlito, 'Liberation Sans', sans-serif" font-size="23.00" fill="#333" textLength="179.0" lengthAdjust="spacingAndGlyphs" >Mitochondrial mass</text>
<text x="678.0" y="1285.0" font-family="Carlito, 'Liberation Sans', sans-serif" font-size="23.00" fill="#333" textLength="155.0" lengthAdjust="spacingAndGlyphs" >Protein synthesis</text>
<text x="678.0" y="1309.0" font-family="'Liberation Sans', Arial, sans-serif" font-size="16.00" fill="#333" textLength="57.0" lengthAdjust="spacingAndGlyphs" >Glucose</text>
<text x="678.0" y="1354.0" font-family="'Liberation Sans', Arial, sans-serif" font-size="16.00" fill="#333" textLength="51.0" lengthAdjust="spacingAndGlyphs" >Lactate</text>
<text x="677.0" y="1385.6" font-family="'Liberation Sans', Arial, sans-serif" font-size="13.00" fill="#222" >HLA-DR</text>
<text x="677.0" y="1399.9" font-family="'Liberation Sans', Arial, sans-serif" font-size="13.00" fill="#222" >CD206</text>
<text x="677.0" y="1414.2" font-family="'Liberation Sans', Arial, sans-serif" font-size="13.00" fill="#222" >CD11c</text>
<text x="677.0" y="1428.4" font-family="'Liberation Sans', Arial, sans-serif" font-size="13.00" fill="#222" >CD11b</text>
<text x="677.0" y="1446.7" font-family="'Liberation Sans', Arial, sans-serif" font-size="13.00" fill="#222" >PD-L1</text>
<text x="677.0" y="1460.9" font-family="'Liberation Sans', Arial, sans-serif" font-size="13.00" fill="#222" >CD14</text>
<text x="677.0" y="1479.6" font-family="'Liberation Sans', Arial, sans-serif" font-size="13.00" fill="#222" >HIF1A</text>
<text x="677.0" y="1493.7" font-family="'Liberation Sans', Arial, sans-serif" font-size="13.00" fill="#222" >ATF4</text>
<text x="677.0" y="1507.8" font-family="'Liberation Sans', Arial, sans-serif" font-size="13.00" fill="#222" >HK2</text>
<text x="677.0" y="1521.9" font-family="'Liberation Sans', Arial, sans-serif" font-size="13.00" fill="#222" >S6_p</text>
<text x="677.0" y="1545.1" font-family="'Liberation Sans', Arial, sans-serif" font-size="13.00" fill="#222" >TOMM20</text>
<text x="677.0" y="1559.3" font-family="'Liberation Sans', Arial, sans-serif" font-size="13.00" fill="#222" >GSS</text>
<text x="677.0" y="1573.4" font-family="'Liberation Sans', Arial, sans-serif" font-size="13.00" fill="#222" >IDH2</text>
<text x="677.0" y="1587.6" font-family="'Liberation Sans', Arial, sans-serif" font-size="13.00" fill="#222" >CS</text>
<text x="677.0" y="1601.8" font-family="'Liberation Sans', Arial, sans-serif" font-size="13.00" fill="#222" >HADHA</text>
<text x="677.0" y="1615.9" font-family="'Liberation Sans', Arial, sans-serif" font-size="13.00" fill="#222" >ATP5A</text>
<text x="677.0" y="1630.1" font-family="'Liberation Sans', Arial, sans-serif" font-size="13.00" fill="#222" >CytC</text>
<text x="677.0" y="1644.3" font-family="'Liberation Sans', Arial, sans-serif" font-size="13.00" fill="#222" >CD98</text>
<text x="677.0" y="1658.4" font-family="'Liberation Sans', Arial, sans-serif" font-size="13.00" fill="#222" >CPT1A</text>
<text x="677.0" y="1672.6" font-family="'Liberation Sans', Arial, sans-serif" font-size="13.00" fill="#222" >LDHA</text>
<text x="677.0" y="1686.8" font-family="'Liberation Sans', Arial, sans-serif" font-size="13.00" fill="#222" >GAPDH</text>
<text x="677.0" y="1701.0" font-family="'Liberation Sans', Arial, sans-serif" font-size="13.00" fill="#222" >ENO1</text>
<text x="677.0" y="1723.8" font-family="'Liberation Sans', Arial, sans-serif" font-size="13.00" fill="#222" >PFKFB4</text>
<text x="677.0" y="1738.1" font-family="'Liberation Sans', Arial, sans-serif" font-size="13.00" fill="#222" >PDK1</text>
<text x="677.0" y="1752.4" font-family="'Liberation Sans', Arial, sans-serif" font-size="13.00" fill="#222" >XBP1</text>
<text x="677.0" y="1766.6" font-family="'Liberation Sans', Arial, sans-serif" font-size="13.00" fill="#222" >SDHA</text>
<text x="677.0" y="1780.9" font-family="'Liberation Sans', Arial, sans-serif" font-size="13.00" fill="#222" >GLUT1</text>
<text x="677.0" y="1804.1" font-family="'Liberation Sans', Arial, sans-serif" font-size="13.00" fill="#222" >CD36</text>
<text x="677.0" y="1818.2" font-family="'Liberation Sans', Arial, sans-serif" font-size="13.00" fill="#222" >G6PD</text>
<text x="677.0" y="1832.3" font-family="'Liberation Sans', Arial, sans-serif" font-size="13.00" fill="#222" >GLS</text>
<text x="677.0" y="1846.5" font-family="'Liberation Sans', Arial, sans-serif" font-size="13.00" fill="#222" >PGC1a</text>
<text x="677.0" y="1860.6" font-family="'Liberation Sans', Arial, sans-serif" font-size="13.00" fill="#222" >BrU</text>
<text x="677.0" y="1874.8" font-family="'Liberation Sans', Arial, sans-serif" font-size="13.00" fill="#222" >MCT1</text>
<text x="677.0" y="1888.9" font-family="'Liberation Sans', Arial, sans-serif" font-size="13.00" fill="#222" >ASCT2</text>
<text x="678.0" y="1909.0" font-family="'Liberation Sans', Arial, sans-serif" font-size="17.00" fill="#222" textLength="68.0" lengthAdjust="spacingAndGlyphs" >Diff Stage</text>
<text x="678.0" y="1926.0" font-family="'Liberation Sans', Arial, sans-serif" font-size="17.00" fill="#222" textLength="72.0" lengthAdjust="spacingAndGlyphs" >Treatment</text>
<text x="678.0" y="1943.0" font-family="'Liberation Sans', Arial, sans-serif" font-size="17.00" fill="#222" textLength="43.0" lengthAdjust="spacingAndGlyphs" >Donor</text>
<defs><linearGradient id="lgMito" x1="0" y1="1" x2="0" y2="0"><stop offset="0" stop-color="#000"/><stop offset="0.35" stop-color="#3a0a05"/><stop offset="0.7" stop-color="#a01008"/><stop offset="1" stop-color="#ff0000"/></linearGradient><linearGradient id="lgProt" x1="0" y1="1" x2="0" y2="0"><stop offset="0" stop-color="#000"/><stop offset="0.35" stop-color="#0a3a0a"/><stop offset="0.7" stop-color="#10a010"/><stop offset="1" stop-color="#00ff00"/></linearGradient><linearGradient id="lgMep" x1="0" y1="1" x2="0" y2="0"><stop offset="0" stop-color="#140528"/><stop offset="0.1" stop-color="#0c0864"/><stop offset="0.2" stop-color="#20168c"/><stop offset="0.3" stop-color="#6452b6"/><stop offset="0.4" stop-color="#c8bee4"/><stop offset="0.5" stop-color="#ffffff"/><stop offset="0.6" stop-color="#fcc8b4"/><stop offset="0.7" stop-color="#fa785a"/><stop offset="0.8" stop-color="#eb1e14"/><stop offset="0.9" stop-color="#cd1e1e"/><stop offset="1.0" stop-color="#a52a2a"/></linearGradient><linearGradient id="lgMk" x1="0" y1="1" x2="0" y2="0"><stop offset="0" stop-color="#000"/><stop offset="0.25" stop-color="#111"/><stop offset="0.45" stop-color="#888"/><stop offset="0.62" stop-color="#fff"/><stop offset="0.78" stop-color="#fbd0b0"/><stop offset="1" stop-color="#ee9a4a"/></linearGradient><linearGradient id="lgY" x1="0" y1="1" x2="0" y2="0"><stop offset="0" stop-color="#000"/><stop offset="0.2" stop-color="#222"/><stop offset="0.4" stop-color="#999"/><stop offset="0.6" stop-color="#fff"/><stop offset="0.8" stop-color="#fde68a"/><stop offset="1" stop-color="#fcd800"/></linearGradient></defs>
<text x="774.0" y="1330.0" font-family="Carlito, 'Liberation Sans', sans-serif" font-size="22.00" fill="#333" textLength="179.0" lengthAdjust="spacingAndGlyphs" >Mitochondrial mass</text>
<rect x="780.0" y="1340.0" width="20.0" height="73.0" fill="url(#lgMito)" />
<text x="805.0" y="1348.5" font-family="'Liberation Sans', Arial, sans-serif" font-size="16.00" fill="#222" textLength="51.0" lengthAdjust="spacingAndGlyphs" >400000</text>
<line x1="780.0" y1="1342.5" x2="784.0" y2="1342.5" stroke="#fff" stroke-width="1" />
<line x1="796.0" y1="1342.5" x2="800.0" y2="1342.5" stroke="#fff" stroke-width="1" />
<text x="805.0" y="1371.1" font-family="'Liberation Sans', Arial, sans-serif" font-size="16.00" fill="#222" textLength="51.0" lengthAdjust="spacingAndGlyphs" >300000</text>
<line x1="780.0" y1="1365.1" x2="784.0" y2="1365.1" stroke="#fff" stroke-width="1" />
<line x1="796.0" y1="1365.1" x2="800.0" y2="1365.1" stroke="#fff" stroke-width="1" />
<text x="805.0" y="1393.7" font-family="'Liberation Sans', Arial, sans-serif" font-size="16.00" fill="#222" textLength="51.0" lengthAdjust="spacingAndGlyphs" >200000</text>
<line x1="780.0" y1="1387.7" x2="784.0" y2="1387.7" stroke="#fff" stroke-width="1" />
<line x1="796.0" y1="1387.7" x2="800.0" y2="1387.7" stroke="#fff" stroke-width="1" />
<text x="805.0" y="1416.3" font-family="'Liberation Sans', Arial, sans-serif" font-size="16.00" fill="#222" textLength="51.0" lengthAdjust="spacingAndGlyphs" >100000</text>
<line x1="780.0" y1="1410.3" x2="784.0" y2="1410.3" stroke="#fff" stroke-width="1" />
<line x1="796.0" y1="1410.3" x2="800.0" y2="1410.3" stroke="#fff" stroke-width="1" />
<text x="778.0" y="1439.0" font-family="Carlito, 'Liberation Sans', sans-serif" font-size="22.00" fill="#333" textLength="154.0" lengthAdjust="spacingAndGlyphs" >Protein synthesis</text>
<rect x="782.0" y="1448.0" width="19.0" height="73.0" fill="url(#lgProt)" />
<text x="806.0" y="1457.0" font-family="'Liberation Sans', Arial, sans-serif" font-size="16.00" fill="#222" >0.3</text>
<line x1="782.0" y1="1451.0" x2="786.0" y2="1451.0" stroke="#fff" stroke-width="1" />
<line x1="797.0" y1="1451.0" x2="801.0" y2="1451.0" stroke="#fff" stroke-width="1" />
<text x="806.0" y="1479.5" font-family="'Liberation Sans', Arial, sans-serif" font-size="16.00" fill="#222" >0.2</text>
<line x1="782.0" y1="1473.5" x2="786.0" y2="1473.5" stroke="#fff" stroke-width="1" />
<line x1="797.0" y1="1473.5" x2="801.0" y2="1473.5" stroke="#fff" stroke-width="1" />
<text x="806.0" y="1502.0" font-family="'Liberation Sans', Arial, sans-serif" font-size="16.00" fill="#222" >0.1</text>
<line x1="782.0" y1="1496.0" x2="786.0" y2="1496.0" stroke="#fff" stroke-width="1" />
<line x1="797.0" y1="1496.0" x2="801.0" y2="1496.0" stroke="#fff" stroke-width="1" />
<text x="806.0" y="1524.5" font-family="'Liberation Sans', Arial, sans-serif" font-size="16.00" fill="#222" >0</text>
<line x1="782.0" y1="1518.5" x2="786.0" y2="1518.5" stroke="#fff" stroke-width="1" />
<line x1="797.0" y1="1518.5" x2="801.0" y2="1518.5" stroke="#fff" stroke-width="1" />
<text x="762.0" y="1549.0" font-family="Carlito, 'Liberation Sans', sans-serif" font-size="22.00" fill="#333" textLength="162.0" lengthAdjust="spacingAndGlyphs" >scMEP expression</text>
<rect x="782.0" y="1562.0" width="19.0" height="109.0" fill="url(#lgMep)" />
<text x="806.0" y="1571.0" font-family="'Liberation Sans', Arial, sans-serif" font-size="16.00" fill="#222" >1</text>
<line x1="782.0" y1="1565.0" x2="786.0" y2="1565.0" stroke="#fff" stroke-width="1" />
<line x1="797.0" y1="1565.0" x2="801.0" y2="1565.0" stroke="#fff" stroke-width="1" />
<text x="806.0" y="1591.7" font-family="'Liberation Sans', Arial, sans-serif" font-size="16.00" fill="#222" >0.8</text>
<line x1="782.0" y1="1585.7" x2="786.0" y2="1585.7" stroke="#fff" stroke-width="1" />
<line x1="797.0" y1="1585.7" x2="801.0" y2="1585.7" stroke="#fff" stroke-width="1" />
<text x="806.0" y="1612.4" font-family="'Liberation Sans', Arial, sans-serif" font-size="16.00" fill="#222" >0.6</text>
<line x1="782.0" y1="1606.4" x2="786.0" y2="1606.4" stroke="#fff" stroke-width="1" />
<line x1="797.0" y1="1606.4" x2="801.0" y2="1606.4" stroke="#fff" stroke-width="1" />
<text x="806.0" y="1633.1" font-family="'Liberation Sans', Arial, sans-serif" font-size="16.00" fill="#222" >0.4</text>
<line x1="782.0" y1="1627.1" x2="786.0" y2="1627.1" stroke="#fff" stroke-width="1" />
<line x1="797.0" y1="1627.1" x2="801.0" y2="1627.1" stroke="#fff" stroke-width="1" />
<text x="806.0" y="1653.8" font-family="'Liberation Sans', Arial, sans-serif" font-size="16.00" fill="#222" >0.2</text>
<line x1="782.0" y1="1647.8" x2="786.0" y2="1647.8" stroke="#fff" stroke-width="1" />
<line x1="797.0" y1="1647.8" x2="801.0" y2="1647.8" stroke="#fff" stroke-width="1" />
<text x="806.0" y="1674.5" font-family="'Liberation Sans', Arial, sans-serif" font-size="16.00" fill="#222" >0</text>
<line x1="782.0" y1="1668.5" x2="786.0" y2="1668.5" stroke="#fff" stroke-width="1" />
<line x1="797.0" y1="1668.5" x2="801.0" y2="1668.5" stroke="#fff" stroke-width="1" />
<text x="953.0" y="1544.0" font-family="Carlito, 'Liberation Sans', sans-serif" font-size="22.00" fill="#333" textLength="66.0" lengthAdjust="spacingAndGlyphs" >Marker</text>
<text x="951.0" y="1562.0" font-family="Carlito, 'Liberation Sans', sans-serif" font-size="22.00" fill="#333" textLength="97.0" lengthAdjust="spacingAndGlyphs" >expression</text>
<rect x="961.0" y="1579.0" width="19.0" height="92.0" fill="url(#lgMk)" />
<text x="985.0" y="1588.0" font-family="'Liberation Sans', Arial, sans-serif" font-size="16.00" fill="#222" >0.8</text>
<line x1="961.0" y1="1582.0" x2="965.0" y2="1582.0" stroke="#fff" stroke-width="1" />
<line x1="976.0" y1="1582.0" x2="980.0" y2="1582.0" stroke="#fff" stroke-width="1" />
<text x="985.0" y="1609.3" font-family="'Liberation Sans', Arial, sans-serif" font-size="16.00" fill="#222" >0.6</text>
<line x1="961.0" y1="1603.3" x2="965.0" y2="1603.3" stroke="#fff" stroke-width="1" />
<line x1="976.0" y1="1603.3" x2="980.0" y2="1603.3" stroke="#fff" stroke-width="1" />
<text x="985.0" y="1630.6" font-family="'Liberation Sans', Arial, sans-serif" font-size="16.00" fill="#222" >0.4</text>
<line x1="961.0" y1="1624.6" x2="965.0" y2="1624.6" stroke="#fff" stroke-width="1" />
<line x1="976.0" y1="1624.6" x2="980.0" y2="1624.6" stroke="#fff" stroke-width="1" />
<text x="985.0" y="1651.9" font-family="'Liberation Sans', Arial, sans-serif" font-size="16.00" fill="#222" >0.2</text>
<line x1="961.0" y1="1645.9" x2="965.0" y2="1645.9" stroke="#fff" stroke-width="1" />
<line x1="976.0" y1="1645.9" x2="980.0" y2="1645.9" stroke="#fff" stroke-width="1" />
<text x="985.0" y="1673.2" font-family="'Liberation Sans', Arial, sans-serif" font-size="16.00" fill="#222" >0</text>
<line x1="961.0" y1="1667.2" x2="965.0" y2="1667.2" stroke="#fff" stroke-width="1" />
<line x1="976.0" y1="1667.2" x2="980.0" y2="1667.2" stroke="#fff" stroke-width="1" />
<rect x="961.0" y="1693.0" width="19.0" height="110.0" fill="url(#lgY)" />
<text x="985.0" y="1703.0" font-family="'Liberation Sans', Arial, sans-serif" font-size="16.00" fill="#222" >1</text>
<line x1="961.0" y1="1697.0" x2="965.0" y2="1697.0" stroke="#fff" stroke-width="1" />
<line x1="976.0" y1="1697.0" x2="980.0" y2="1697.0" stroke="#fff" stroke-width="1" />
<text x="985.0" y="1723.7" font-family="'Liberation Sans', Arial, sans-serif" font-size="16.00" fill="#222" >0.8</text>
<line x1="961.0" y1="1717.7" x2="965.0" y2="1717.7" stroke="#fff" stroke-width="1" />
<line x1="976.0" y1="1717.7" x2="980.0" y2="1717.7" stroke="#fff" stroke-width="1" />
<text x="985.0" y="1744.4" font-family="'Liberation Sans', Arial, sans-serif" font-size="16.00" fill="#222" >0.6</text>
<line x1="961.0" y1="1738.4" x2="965.0" y2="1738.4" stroke="#fff" stroke-width="1" />
<line x1="976.0" y1="1738.4" x2="980.0" y2="1738.4" stroke="#fff" stroke-width="1" />
<text x="985.0" y="1765.1" font-family="'Liberation Sans', Arial, sans-serif" font-size="16.00" fill="#222" >0.4</text>
<line x1="961.0" y1="1759.1" x2="965.0" y2="1759.1" stroke="#fff" stroke-width="1" />
<line x1="976.0" y1="1759.1" x2="980.0" y2="1759.1" stroke="#fff" stroke-width="1" />
<text x="985.0" y="1785.8" font-family="'Liberation Sans', Arial, sans-serif" font-size="16.00" fill="#222" >0.2</text>
<line x1="961.0" y1="1779.8" x2="965.0" y2="1779.8" stroke="#fff" stroke-width="1" />
<line x1="976.0" y1="1779.8" x2="980.0" y2="1779.8" stroke="#fff" stroke-width="1" />
<text x="985.0" y="1806.5" font-family="'Liberation Sans', Arial, sans-serif" font-size="16.00" fill="#222" >0</text>
<line x1="961.0" y1="1800.5" x2="965.0" y2="1800.5" stroke="#fff" stroke-width="1" />
<line x1="976.0" y1="1800.5" x2="980.0" y2="1800.5" stroke="#fff" stroke-width="1" />
<text x="783.0" y="1708.0" font-family="Carlito, 'Liberation Sans', sans-serif" font-size="21.00" fill="#111" textLength="96.0" lengthAdjust="spacingAndGlyphs" >Treatment</text>
<rect x="784.0" y="1714.0" width="16.0" height="16.0" fill="#000" />
<text x="805.0" y="1727.0" font-family="Carlito, 'Liberation Sans', sans-serif" font-size="19.00" fill="#111" textLength="26.0" lengthAdjust="spacingAndGlyphs" >Ctrl</text>
<rect x="784.0" y="1731.0" width="16.0" height="16.0" fill="#b65cf0" />
<text x="807.0" y="1744.0" font-family="Carlito, 'Liberation Sans', sans-serif" font-size="19.00" fill="#111" textLength="84.0" lengthAdjust="spacingAndGlyphs" >vitd3+dexa</text>
<rect x="784.0" y="1748.0" width="16.0" height="16.0" fill="#f9a040" />
<text x="807.0" y="1761.0" font-family="Carlito, 'Liberation Sans', sans-serif" font-size="19.00" fill="#111" textLength="38.0" lengthAdjust="spacingAndGlyphs" >vitd3</text>
<text x="783.0" y="1787.0" font-family="Carlito, 'Liberation Sans', sans-serif" font-size="21.00" fill="#111" textLength="81.0" lengthAdjust="spacingAndGlyphs" >DC Stage</text>
<rect x="784.0" y="1794.0" width="16.0" height="16.0" fill="#000" />
<text x="804.0" y="1807.0" font-family="Carlito, 'Liberation Sans', sans-serif" font-size="19.00" fill="#111" textLength="84.0" lengthAdjust="spacingAndGlyphs" >monocytes</text>
<rect x="784.0" y="1811.0" width="16.0" height="16.0" fill="#0000ff" />
<text x="804.0" y="1824.0" font-family="Carlito, 'Liberation Sans', sans-serif" font-size="19.00" fill="#111" textLength="26.0" lengthAdjust="spacingAndGlyphs" >iDC</text>
<rect x="784.0" y="1829.0" width="16.0" height="16.0" fill="#40e0d0" />
<text x="804.0" y="1842.0" font-family="Carlito, 'Liberation Sans', sans-serif" font-size="19.00" fill="#111" textLength="45.0" lengthAdjust="spacingAndGlyphs" >actDC</text>
<rect x="784.0" y="1847.0" width="16.0" height="16.0" fill="#00ff00" />
<text x="804.0" y="1860.0" font-family="Carlito, 'Liberation Sans', sans-serif" font-size="19.00" fill="#111" textLength="37.0" lengthAdjust="spacingAndGlyphs" >mDC</text>
<text x="782.0" y="1887.0" font-family="'Liberation Sans', Arial, sans-serif" font-size="16.00" fill="#111" font-weight="bold" textLength="47.0" lengthAdjust="spacingAndGlyphs" >Donor</text>
<rect x="782.0" y="1894.0" width="18.0" height="16.0" fill="#404040" />
<text x="805.0" y="1908.0" font-family="'Liberation Sans', Arial, sans-serif" font-size="17.00" fill="#111" textLength="31.0" lengthAdjust="spacingAndGlyphs" >HD1</text>
<rect x="782.0" y="1912.0" width="18.0" height="16.0" fill="#0000ff" />
<text x="805.0" y="1926.0" font-family="'Liberation Sans', Arial, sans-serif" font-size="17.00" fill="#111" textLength="31.0" lengthAdjust="spacingAndGlyphs" >HD2</text>
<rect x="782.0" y="1930.0" width="18.0" height="16.0" fill="#ff00ff" />
<text x="805.0" y="1944.0" font-family="'Liberation Sans', Arial, sans-serif" font-size="17.00" fill="#111" textLength="31.0" lengthAdjust="spacingAndGlyphs" >HD3</text>
<text x="7.0" y="1808.0" font-family="'Liberation Sans', Arial, sans-serif" font-size="17.00" fill="#111" font-weight="bold" textLength="68.0" lengthAdjust="spacingAndGlyphs" >Category</text>
<rect x="7.0" y="1814.0" width="17.0" height="17.0" fill="#ff00ff" />
<text x="29.0" y="1828.0" font-family="'Liberation Sans', Arial, sans-serif" font-size="16.00" fill="#111" >AA</text>
<rect x="7.0" y="1832.1" width="17.0" height="17.0" fill="#000" />
<text x="29.0" y="1846.1" font-family="'Liberation Sans', Arial, sans-serif" font-size="16.00" fill="#111" >SIGNAL</text>
<rect x="7.0" y="1850.2" width="17.0" height="17.0" fill="#0000ff" />
<text x="29.0" y="1864.2" font-family="'Liberation Sans', Arial, sans-serif" font-size="16.00" fill="#111" >ETC_TCA</text>
<rect x="7.0" y="1868.3" width="17.0" height="17.0" fill="#808080" />
<text x="29.0" y="1882.3" font-family="'Liberation Sans', Arial, sans-serif" font-size="16.00" fill="#111" >RNA</text>
<rect x="7.0" y="1886.4" width="17.0" height="17.0" fill="#a020f0" />
<text x="29.0" y="1900.4" font-family="'Liberation Sans', Arial, sans-serif" font-size="16.00" fill="#111" >FAO</text>
<rect x="7.0" y="1904.5" width="17.0" height="17.0" fill="#ff0000" />
<text x="29.0" y="1918.5" font-family="'Liberation Sans', Arial, sans-serif" font-size="16.00" fill="#111" >GLYC</text>
<rect x="7.0" y="1922.6" width="17.0" height="17.0" fill="#00e676" />
<text x="29.0" y="1936.6" font-family="'Liberation Sans', Arial, sans-serif" font-size="16.00" fill="#111" >PPP</text>
<rect x="7.0" y="1940.7" width="17.0" height="17.0" fill="#ffa500" />
<text x="29.0" y="1954.7" font-family="'Liberation Sans', Arial, sans-serif" font-size="16.00" fill="#111" >ROS</text>
<rect x="7.0" y="1958.8" width="17.0" height="17.0" fill="#ccaa00" />
<text x="29.0" y="1972.8" font-family="'Liberation Sans', Arial, sans-serif" font-size="16.00" fill="#111" >MITO</text>
<line x1="0.0" y1="1980.0" x2="105.0" y2="1980.0" stroke="#eee" stroke-width="1" />
<text x="1106.0" y="1183.0" font-family="Carlito, 'Liberation Sans', sans-serif" font-size="52.00" fill="#000" font-weight="bold" >E</text>
<text x="1507.0" y="1229.6" font-family="Carlito, 'Liberation Sans', sans-serif" font-size="35.70" fill="#000" font-weight="bold" textLength="207.0" lengthAdjust="spacingAndGlyphs" >scMEP scores</text>
<text transform="translate(1153.0,1860.0) rotate(-90)" font-family="Carlito, 'Liberation Sans', sans-serif" font-size="27.00" fill="#111" textLength="426.0" lengthAdjust="spacingAndGlyphs" >metabolic pathway SCORE (scMEP)</text>
<text x="1853.5" y="1161.0" font-family="Carlito, 'Liberation Sans', sans-serif" font-size="22.00" fill="#111" textLength="105.5" lengthAdjust="spacingAndGlyphs" >Treatment</text>
<circle cx="1862.0" cy="1177.0" r="10.0" fill="#000" />
<circle cx="1862.0" cy="1200.5" r="10.0" fill="#b65cf0" stroke="#333" stroke-width="1" />
<circle cx="1862.0" cy="1225.5" r="10.0" fill="#f9a040" stroke="#333" stroke-width="1" />
<text x="1877.0" y="1185.0" font-family="Carlito, 'Liberation Sans', sans-serif" font-size="22.00" fill="#111" textLength="35.0" lengthAdjust="spacingAndGlyphs" >Ctrl</text>
<text x="1877.0" y="1209.0" font-family="Carlito, 'Liberation Sans', sans-serif" font-size="22.00" fill="#111" textLength="111.0" lengthAdjust="spacingAndGlyphs" >vitd3+dexa</text>
<text x="1877.0" y="1234.0" font-family="Carlito, 'Liberation Sans', sans-serif" font-size="22.00" fill="#111" textLength="51.0" lengthAdjust="spacingAndGlyphs" >vitd3</text>
<rect x="1234.0" y="1262.0" width="15.0" height="242.6" fill="#d9d9d9" />
<rect x="1396.0" y="1262.0" width="15.0" height="242.6" fill="#d9d9d9" />
<rect x="1437.0" y="1262.0" width="15.0" height="242.6" fill="#d9d9d9" />
<rect x="1532.0" y="1262.0" width="15.0" height="242.6" fill="#d9d9d9" />
<rect x="1220.0" y="1299.8" width="6.5" height="4.5" fill="#111" />
<text x="1214.5" y="1312.6" font-family="'Liberation Sans', Arial, sans-serif" font-size="29.50" fill="#111" text-anchor="end" >4.0</text>
<rect x="1220.0" y="1347.6" width="6.5" height="4.5" fill="#111" />
<text x="1214.5" y="1360.4" font-family="'Liberation Sans', Arial, sans-serif" font-size="29.50" fill="#111" text-anchor="end" >3.5</text>
<rect x="1220.0" y="1395.5" width="6.5" height="4.5" fill="#111" />
<text x="1214.5" y="1408.3" font-family="'Liberation Sans', Arial, sans-serif" font-size="29.50" fill="#111" text-anchor="end" >3.0</text>
<rect x="1220.0" y="1443.4" width="6.5" height="4.5" fill="#111" />
<text x="1214.5" y="1456.2" font-family="'Liberation Sans', Arial, sans-serif" font-size="29.50" fill="#111" text-anchor="end" >2.5</text>
<rect x="1220.0" y="1491.2" width="6.5" height="4.5" fill="#111" />
<text x="1214.5" y="1504.1" font-family="'Liberation Sans', Arial, sans-serif" font-size="29.50" fill="#111" text-anchor="end" >2.0</text>
<polyline points="1241.5,1396.0 1403.5,1336.0 1444.5,1330.0 1539.5,1348.0" fill="none" stroke="rgba(60,60,60,0.72)" stroke-width="4" stroke-linejoin="round" stroke-linecap="round" />
<polyline points="1241.5,1438.0 1403.5,1322.0 1444.5,1308.0 1539.5,1326.0" fill="none" stroke="rgba(253,190,70,0.72)" stroke-width="4.5" stroke-linejoin="round" stroke-linecap="round" />
<polyline points="1403.5,1328.0 1444.5,1315.5 1539.5,1336.0" fill="none" stroke="rgba(190,100,250,0.72)" stroke-width="4" stroke-linejoin="round" stroke-linecap="round" />
<circle cx="1241.5" cy="1373.0" r="6.0" fill="#000" stroke="#222" stroke-width="0.9" fill-opacity="0.5"/>
<circle cx="1241.5" cy="1396.0" r="6.0" fill="#000" stroke="#222" stroke-width="0.9" fill-opacity="0.5"/>
<circle cx="1241.5" cy="1421.6" r="6.0" fill="#000" stroke="#222" stroke-width="0.9" fill-opacity="0.5"/>
<circle cx="1241.5" cy="1411.0" r="6.0" fill="#f5a623" stroke="#222" stroke-width="0.9" fill-opacity="0.5"/>
<circle cx="1241.5" cy="1423.0" r="6.0" fill="#f5a623" stroke="#222" stroke-width="0.9" fill-opacity="0.5"/>
<circle cx="1241.5" cy="1480.5" r="6.0" fill="#f5a623" stroke="#222" stroke-width="0.9" fill-opacity="0.5"/>
<circle cx="1403.5" cy="1312.0" r="6.0" fill="#f5a623" stroke="#222" stroke-width="0.9" fill-opacity="0.5"/>
<circle cx="1403.5" cy="1320.6" r="6.0" fill="#f5a623" stroke="#222" stroke-width="0.9" fill-opacity="0.5"/>
<circle cx="1403.5" cy="1328.0" r="6.0" fill="#a020f0" stroke="#222" stroke-width="0.9" fill-opacity="0.5"/>
<circle cx="1403.5" cy="1337.0" r="6.0" fill="#a020f0" stroke="#222" stroke-width="0.9" fill-opacity="0.5"/>
<circle cx="1403.5" cy="1343.0" r="6.0" fill="#000" stroke="#222" stroke-width="0.9" fill-opacity="0.5"/>
<circle cx="1444.5" cy="1301.0" r="6.0" fill="#f5a623" stroke="#222" stroke-width="0.9" fill-opacity="0.5"/>
<circle cx="1444.5" cy="1310.0" r="6.0" fill="#f5a623" stroke="#222" stroke-width="0.9" fill-opacity="0.5"/>
<circle cx="1444.5" cy="1316.0" r="6.0" fill="#a020f0" stroke="#222" stroke-width="0.9" fill-opacity="0.5"/>
<circle cx="1444.5" cy="1325.0" r="6.0" fill="#000" stroke="#222" stroke-width="0.9" fill-opacity="0.5"/>
<circle cx="1444.5" cy="1334.0" r="6.0" fill="#000" stroke="#222" stroke-width="0.9" fill-opacity="0.5"/>
<circle cx="1539.5" cy="1312.5" r="6.0" fill="#f5a623" stroke="#222" stroke-width="0.9" fill-opacity="0.5"/>
<circle cx="1539.5" cy="1328.0" r="6.0" fill="#f5a623" stroke="#222" stroke-width="0.9" fill-opacity="0.5"/>
<circle cx="1539.5" cy="1340.0" r="6.0" fill="#c05050" stroke="#222" stroke-width="0.9" fill-opacity="0.5"/>
<circle cx="1539.5" cy="1351.0" r="6.0" fill="#000" stroke="#222" stroke-width="0.9" fill-opacity="0.5"/>
<circle cx="1539.5" cy="1354.0" r="6.0" fill="#000" stroke="#222" stroke-width="0.9" fill-opacity="0.5"/>
<text x="1252.0" y="1355.5" font-family="Carlito, 'Liberation Sans', sans-serif" font-size="23.50" fill="#e69500" text-anchor="middle" >ns</text>
<text x="1403.5" y="1285.7" font-family="'Liberation Sans', Arial, sans-serif" font-size="28.00" fill="#e69500" text-anchor="middle" >*</text>
<text x="1403.5" y="1297.0" font-family="Carlito, 'Liberation Sans', sans-serif" font-size="23.50" fill="#7b2cbf" text-anchor="middle" >ns</text>
<text x="1444.5" y="1278.7" font-family="'Liberation Sans', Arial, sans-serif" font-size="28.00" fill="#e69500" text-anchor="middle" >**</text>
<text x="1444.5" y="1289.0" font-family="Carlito, 'Liberation Sans', sans-serif" font-size="23.50" fill="#7b2cbf" text-anchor="middle" >ns</text>
<text x="1539.5" y="1303.0" font-family="Carlito, 'Liberation Sans', sans-serif" font-size="23.50" fill="#7b2cbf" text-anchor="middle" >ns</text>
<text x="1260.0" y="1277.0" font-family="Carlito, 'Liberation Sans', sans-serif" font-size="28.00" fill="#000" font-weight="bold" textLength="99.0" lengthAdjust="spacingAndGlyphs" >ETC TCA</text>
<text x="1511.0" y="1281.0" font-family="Carlito, 'Liberation Sans', sans-serif" font-size="22.00" fill="#e69500" textLength="49.5" lengthAdjust="spacingAndGlyphs" >0.068</text>
<rect x="1633.5" y="1265.0" width="15.0" height="243.0" fill="#d9d9d9" />
<rect x="1797.5" y="1265.0" width="15.0" height="243.0" fill="#d9d9d9" />
<rect x="1838.5" y="1265.0" width="15.0" height="243.0" fill="#d9d9d9" />
<rect x="1934.5" y="1265.0" width="15.0" height="243.0" fill="#d9d9d9" />
<rect x="1620.0" y="1274.8" width="6.5" height="4.5" fill="#111" />
<text x="1614.5" y="1287.6" font-family="'Liberation Sans', Arial, sans-serif" font-size="29.50" fill="#111" text-anchor="end" >2.5</text>
<rect x="1620.0" y="1356.2" width="6.5" height="4.5" fill="#111" />
<text x="1614.5" y="1369.1" font-family="'Liberation Sans', Arial, sans-serif" font-size="29.50" fill="#111" text-anchor="end" >2.0</text>
<rect x="1620.0" y="1437.8" width="6.5" height="4.5" fill="#111" />
<text x="1614.5" y="1450.6" font-family="'Liberation Sans', Arial, sans-serif" font-size="29.50" fill="#111" text-anchor="end" >1.5</text>
<polyline points="1641.0,1418.0 1805.0,1440.0 1846.0,1411.0 1942.0,1401.0" fill="none" stroke="rgba(60,60,60,0.72)" stroke-width="4" stroke-linejoin="round" stroke-linecap="round" />
<polyline points="1641.0,1475.0 1805.0,1389.0 1846.0,1355.0 1942.0,1375.0" fill="none" stroke="rgba(253,190,70,0.72)" stroke-width="4.5" stroke-linejoin="round" stroke-linecap="round" />
<polyline points="1805.0,1414.0 1846.0,1388.0 1942.0,1396.0" fill="none" stroke="rgba(190,100,250,0.72)" stroke-width="4" stroke-linejoin="round" stroke-linecap="round" />
<circle cx="1641.0" cy="1415.0" r="6.0" fill="#000" stroke="#222" stroke-width="0.9" fill-opacity="0.5"/>
<circle cx="1641.0" cy="1421.5" r="6.0" fill="#000" stroke="#222" stroke-width="0.9" fill-opacity="0.5"/>
<circle cx="1641.0" cy="1461.0" r="6.0" fill="#f5a623" stroke="#222" stroke-width="0.9" fill-opacity="0.5"/>
<circle cx="1641.0" cy="1473.0" r="6.0" fill="#f5a623" stroke="#222" stroke-width="0.9" fill-opacity="0.5"/>
<circle cx="1641.0" cy="1491.0" r="6.0" fill="#f5a623" stroke="#222" stroke-width="0.9" fill-opacity="0.5"/>
<circle cx="1805.0" cy="1369.0" r="6.0" fill="#f5a623" stroke="#222" stroke-width="0.9" fill-opacity="0.5"/>
<circle cx="1805.0" cy="1382.5" r="6.0" fill="#f5a623" stroke="#222" stroke-width="0.9" fill-opacity="0.5"/>
<circle cx="1805.0" cy="1408.0" r="6.0" fill="#f5a623" stroke="#222" stroke-width="0.9" fill-opacity="0.5"/>
<circle cx="1805.0" cy="1401.6" r="6.0" fill="#a020f0" stroke="#222" stroke-width="0.9" fill-opacity="0.5"/>
<circle cx="1805.0" cy="1446.8" r="6.0" fill="#a020f0" stroke="#222" stroke-width="0.9" fill-opacity="0.5"/>
<circle cx="1805.0" cy="1423.0" r="6.0" fill="#000" stroke="#222" stroke-width="0.9" fill-opacity="0.5"/>
<circle cx="1805.0" cy="1470.7" r="6.0" fill="#000" stroke="#222" stroke-width="0.9" fill-opacity="0.5"/>
<circle cx="1846.0" cy="1338.0" r="6.0" fill="#f5a623" stroke="#222" stroke-width="0.9" fill-opacity="0.5"/>
<circle cx="1846.0" cy="1342.0" r="6.0" fill="#f5a623" stroke="#222" stroke-width="0.9" fill-opacity="0.5"/>
<circle cx="1846.0" cy="1383.0" r="6.0" fill="#f5a623" stroke="#222" stroke-width="0.9" fill-opacity="0.5"/>
<circle cx="1846.0" cy="1371.0" r="6.0" fill="#a020f0" stroke="#222" stroke-width="0.9" fill-opacity="0.5"/>
<circle cx="1846.0" cy="1407.0" r="6.0" fill="#a020f0" stroke="#222" stroke-width="0.9" fill-opacity="0.5"/>
<circle cx="1846.0" cy="1389.7" r="6.0" fill="#000" stroke="#222" stroke-width="0.9" fill-opacity="0.5"/>
<circle cx="1846.0" cy="1404.0" r="6.0" fill="#000" stroke="#222" stroke-width="0.9" fill-opacity="0.5"/>
<circle cx="1846.0" cy="1441.5" r="6.0" fill="#000" stroke="#222" stroke-width="0.9" fill-opacity="0.5"/>
<circle cx="1942.0" cy="1338.0" r="6.0" fill="#f5a623" stroke="#222" stroke-width="0.9" fill-opacity="0.5"/>
<circle cx="1942.0" cy="1408.0" r="6.0" fill="#f5a623" stroke="#222" stroke-width="0.9" fill-opacity="0.5"/>
<circle cx="1942.0" cy="1375.0" r="6.0" fill="#000" stroke="#222" stroke-width="0.9" fill-opacity="0.5"/>
<circle cx="1942.0" cy="1393.6" r="6.0" fill="#000" stroke="#222" stroke-width="0.9" fill-opacity="0.5"/>
<circle cx="1942.0" cy="1379.0" r="6.0" fill="#c05050" stroke="#222" stroke-width="0.9" fill-opacity="0.5"/>
<circle cx="1942.0" cy="1433.5" r="6.0" fill="#a020f0" stroke="#222" stroke-width="0.9" fill-opacity="0.5"/>
<text x="1651.5" y="1401.7" font-family="'Liberation Sans', Arial, sans-serif" font-size="28.00" fill="#e69500" text-anchor="middle" >**</text>
<text x="1805.0" y="1347.0" font-family="Carlito, 'Liberation Sans', sans-serif" font-size="23.50" fill="#7b2cbf" text-anchor="middle" >ns</text>
<text x="1846.0" y="1309.0" font-family="Carlito, 'Liberation Sans', sans-serif" font-size="23.50" fill="#7b2cbf" text-anchor="middle" >ns</text>
<text x="1942.0" y="1294.0" font-family="Carlito, 'Liberation Sans', sans-serif" font-size="23.50" fill="#e69500" text-anchor="middle" >ns</text>
<text x="1942.0" y="1313.0" font-family="Carlito, 'Liberation Sans', sans-serif" font-size="23.50" fill="#7b2cbf" text-anchor="middle" >ns</text>
<text x="1662.0" y="1278.0" font-family="Carlito, 'Liberation Sans', sans-serif" font-size="28.00" fill="#000" font-weight="bold" textLength="35.0" lengthAdjust="spacingAndGlyphs" >AA</text>
<text x="1801.0" y="1326.0" font-family="Carlito, 'Liberation Sans', sans-serif" font-size="22.00" fill="#e69500" text-anchor="middle" >0.085</text>
<text x="1845.5" y="1289.0" font-family="Carlito, 'Liberation Sans', sans-serif" font-size="22.00" fill="#e69500" text-anchor="middle" >0.059</text>
<rect x="1234.0" y="1524.0" width="15.0" height="231.0" fill="#d9d9d9" />
<rect x="1396.0" y="1524.0" width="15.0" height="231.0" fill="#d9d9d9" />
<rect x="1437.0" y="1524.0" width="15.0" height="231.0" fill="#d9d9d9" />
<rect x="1532.0" y="1524.0" width="15.0" height="231.0" fill="#d9d9d9" />
<rect x="1220.0" y="1546.8" width="6.5" height="4.5" fill="#111" />
<text x="1214.5" y="1559.6" font-family="'Liberation Sans', Arial, sans-serif" font-size="29.50" fill="#111" text-anchor="end" >1.5</text>
<rect x="1220.0" y="1611.8" width="6.5" height="4.5" fill="#111" />
<text x="1214.5" y="1624.6" font-family="'Liberation Sans', Arial, sans-serif" font-size="29.50" fill="#111" text-anchor="end" >1.0</text>
<rect x="1220.0" y="1676.8" width="6.5" height="4.5" fill="#111" />
<text x="1214.5" y="1689.6" font-family="'Liberation Sans', Arial, sans-serif" font-size="29.50" fill="#111" text-anchor="end" >0.5</text>
<rect x="1220.0" y="1741.8" width="6.5" height="4.5" fill="#111" />
<text x="1214.5" y="1754.6" font-family="'Liberation Sans', Arial, sans-serif" font-size="29.50" fill="#111" text-anchor="end" >0.0</text>
<polyline points="1241.5,1705.0 1403.5,1682.0 1444.5,1665.0 1539.5,1670.0" fill="none" stroke="rgba(60,60,60,0.72)" stroke-width="4" stroke-linejoin="round" stroke-linecap="round" />
<polyline points="1241.5,1722.0 1403.5,1600.0 1444.5,1572.0 1539.5,1628.0" fill="none" stroke="rgba(253,190,70,0.72)" stroke-width="4.5" stroke-linejoin="round" stroke-linecap="round" />
<polyline points="1403.5,1630.0 1444.5,1588.0 1539.5,1641.0" fill="none" stroke="rgba(190,100,250,0.72)" stroke-width="4" stroke-linejoin="round" stroke-linecap="round" />
<circle cx="1241.5" cy="1697.6" r="6.0" fill="#000" stroke="#222" stroke-width="0.9" fill-opacity="0.5"/>
<circle cx="1241.5" cy="1705.0" r="6.0" fill="#000" stroke="#222" stroke-width="0.9" fill-opacity="0.5"/>
<circle cx="1241.5" cy="1715.7" r="6.0" fill="#000" stroke="#222" stroke-width="0.9" fill-opacity="0.5"/>
<circle cx="1241.5" cy="1720.0" r="6.0" fill="#f5a623" stroke="#222" stroke-width="0.9" fill-opacity="0.5"/>
<circle cx="1241.5" cy="1727.0" r="6.0" fill="#f5a623" stroke="#222" stroke-width="0.9" fill-opacity="0.5"/>
<circle cx="1403.5" cy="1590.5" r="6.0" fill="#f5a623" stroke="#222" stroke-width="0.9" fill-opacity="0.5"/>
<circle cx="1403.5" cy="1623.7" r="6.0" fill="#f5a623" stroke="#222" stroke-width="0.9" fill-opacity="0.5"/>
<circle cx="1403.5" cy="1629.7" r="6.0" fill="#a020f0" stroke="#222" stroke-width="0.9" fill-opacity="0.5"/>
<circle cx="1403.5" cy="1647.8" r="6.0" fill="#a020f0" stroke="#222" stroke-width="0.9" fill-opacity="0.5"/>
<circle cx="1403.5" cy="1664.0" r="6.0" fill="#000" stroke="#222" stroke-width="0.9" fill-opacity="0.5"/>
<circle cx="1403.5" cy="1682.5" r="6.0" fill="#000" stroke="#222" stroke-width="0.9" fill-opacity="0.5"/>
<circle cx="1403.5" cy="1699.0" r="6.0" fill="#000" stroke="#222" stroke-width="0.9" fill-opacity="0.5"/>
<circle cx="1444.5" cy="1566.0" r="6.0" fill="#f5a623" stroke="#222" stroke-width="0.9" fill-opacity="0.5"/>
<circle cx="1444.5" cy="1569.0" r="6.0" fill="#f5a623" stroke="#222" stroke-width="0.9" fill-opacity="0.5"/>
<circle cx="1444.5" cy="1584.5" r="6.0" fill="#c05050" stroke="#222" stroke-width="0.9" fill-opacity="0.5"/>
<circle cx="1444.5" cy="1614.6" r="6.0" fill="#a020f0" stroke="#222" stroke-width="0.9" fill-opacity="0.5"/>
<circle cx="1444.5" cy="1643.0" r="6.0" fill="#000" stroke="#222" stroke-width="0.9" fill-opacity="0.5"/>
<circle cx="1444.5" cy="1654.0" r="6.0" fill="#000" stroke="#222" stroke-width="0.9" fill-opacity="0.5"/>
<circle cx="1444.5" cy="1697.6" r="6.0" fill="#000" stroke="#222" stroke-width="0.9" fill-opacity="0.5"/>
<circle cx="1539.5" cy="1614.6" r="6.0" fill="#f5a623" stroke="#222" stroke-width="0.9" fill-opacity="0.5"/>
<circle cx="1539.5" cy="1622.0" r="6.0" fill="#f5a623" stroke="#222" stroke-width="0.9" fill-opacity="0.5"/>
<circle cx="1539.5" cy="1632.7" r="6.0" fill="#a020f0" stroke="#222" stroke-width="0.9" fill-opacity="0.5"/>
<circle cx="1539.5" cy="1643.0" r="6.0" fill="#a020f0" stroke="#222" stroke-width="0.9" fill-opacity="0.5"/>
<circle cx="1539.5" cy="1655.0" r="6.0" fill="#c05050" stroke="#222" stroke-width="0.9" fill-opacity="0.5"/>
<circle cx="1539.5" cy="1670.0" r="6.0" fill="#000" stroke="#222" stroke-width="0.9" fill-opacity="0.5"/>
<circle cx="1539.5" cy="1678.0" r="6.0" fill="#000" stroke="#222" stroke-width="0.9" fill-opacity="0.5"/>
<text x="1252.0" y="1682.7" font-family="'Liberation Sans', Arial, sans-serif" font-size="28.00" fill="#e69500" text-anchor="middle" >*</text>
<text x="1403.5" y="1557.7" font-family="'Liberation Sans', Arial, sans-serif" font-size="28.00" fill="#e69500" text-anchor="middle" >**</text>
<text x="1403.5" y="1576.7" font-family="'Liberation Sans', Arial, sans-serif" font-size="28.00" fill="#7b2cbf" text-anchor="middle" >*</text>
<text x="1444.5" y="1539.7" font-family="'Liberation Sans', Arial, sans-serif" font-size="28.00" fill="#e69500" text-anchor="middle" >**</text>
<text x="1444.5" y="1557.7" font-family="'Liberation Sans', Arial, sans-serif" font-size="28.00" fill="#7b2cbf" text-anchor="middle" >*</text>
<text x="1539.5" y="1587.7" font-family="'Liberation Sans', Arial, sans-serif" font-size="28.00" fill="#e69500" text-anchor="middle" >*</text>
<text x="1539.5" y="1598.0" font-family="Carlito, 'Liberation Sans', sans-serif" font-size="23.50" fill="#7b2cbf" text-anchor="middle" >ns</text>
<text x="1258.0" y="1549.0" font-family="Carlito, 'Liberation Sans', sans-serif" font-size="28.00" fill="#000" font-weight="bold" textLength="121.0" lengthAdjust="spacingAndGlyphs" >Glycolysis</text>
<rect x="1633.5" y="1525.0" width="15.0" height="230.6" fill="#d9d9d9" />
<rect x="1797.5" y="1525.0" width="15.0" height="230.6" fill="#d9d9d9" />
<rect x="1838.5" y="1525.0" width="15.0" height="230.6" fill="#d9d9d9" />
<rect x="1934.5" y="1525.0" width="15.0" height="230.6" fill="#d9d9d9" />
<rect x="1620.0" y="1555.8" width="6.5" height="4.5" fill="#111" />
<text x="1614.5" y="1568.6" font-family="'Liberation Sans', Arial, sans-serif" font-size="29.50" fill="#111" text-anchor="end" >3</text>
<rect x="1620.0" y="1631.0" width="6.5" height="4.5" fill="#111" />
<text x="1614.5" y="1643.8" font-family="'Liberation Sans', Arial, sans-serif" font-size="29.50" fill="#111" text-anchor="end" >2</text>
<rect x="1620.0" y="1706.2" width="6.5" height="4.5" fill="#111" />
<text x="1614.5" y="1719.1" font-family="'Liberation Sans', Arial, sans-serif" font-size="29.50" fill="#111" text-anchor="end" >1</text>
<polyline points="1641.0,1690.0 1805.0,1605.0 1846.0,1660.0 1942.0,1593.0" fill="none" stroke="rgba(60,60,60,0.72)" stroke-width="4" stroke-linejoin="round" stroke-linecap="round" />
<polyline points="1641.0,1722.0 1805.0,1592.0 1846.0,1639.0 1942.0,1622.0" fill="none" stroke="rgba(253,190,70,0.72)" stroke-width="4.5" stroke-linejoin="round" stroke-linecap="round" />
<polyline points="1805.0,1585.0 1846.0,1635.0 1942.0,1612.0" fill="none" stroke="rgba(190,100,250,0.72)" stroke-width="4" stroke-linejoin="round" stroke-linecap="round" />
<circle cx="1641.0" cy="1679.0" r="6.0" fill="#000" stroke="#222" stroke-width="0.9" fill-opacity="0.5"/>
<circle cx="1641.0" cy="1714.0" r="6.0" fill="#f5a623" stroke="#222" stroke-width="0.9" fill-opacity="0.5"/>
<circle cx="1641.0" cy="1743.0" r="6.0" fill="#f5a623" stroke="#222" stroke-width="0.9" fill-opacity="0.5"/>
<circle cx="1805.0" cy="1578.0" r="6.0" fill="#c05050" stroke="#222" stroke-width="0.9" fill-opacity="0.5"/>
<circle cx="1805.0" cy="1583.0" r="6.0" fill="#a020f0" stroke="#222" stroke-width="0.9" fill-opacity="0.5"/>
<circle cx="1805.0" cy="1593.0" r="6.0" fill="#f5a623" stroke="#222" stroke-width="0.9" fill-opacity="0.5"/>
<circle cx="1805.0" cy="1598.0" r="6.0" fill="#f5a623" stroke="#222" stroke-width="0.9" fill-opacity="0.5"/>
<circle cx="1805.0" cy="1607.6" r="6.0" fill="#000" stroke="#222" stroke-width="0.9" fill-opacity="0.5"/>
<circle cx="1846.0" cy="1623.5" r="6.0" fill="#a020f0" stroke="#222" stroke-width="0.9" fill-opacity="0.5"/>
<circle cx="1846.0" cy="1630.0" r="6.0" fill="#a020f0" stroke="#222" stroke-width="0.9" fill-opacity="0.5"/>
<circle cx="1846.0" cy="1641.0" r="6.0" fill="#f5a623" stroke="#222" stroke-width="0.9" fill-opacity="0.5"/>
<circle cx="1846.0" cy="1653.0" r="6.0" fill="#a020f0" stroke="#222" stroke-width="0.9" fill-opacity="0.5"/>
<circle cx="1846.0" cy="1661.0" r="6.0" fill="#000" stroke="#222" stroke-width="0.9" fill-opacity="0.5"/>
<circle cx="1846.0" cy="1666.0" r="6.0" fill="#000" stroke="#222" stroke-width="0.9" fill-opacity="0.5"/>
<circle cx="1942.0" cy="1586.0" r="6.0" fill="#000" stroke="#222" stroke-width="0.9" fill-opacity="0.5"/>
<circle cx="1942.0" cy="1599.6" r="6.0" fill="#a020f0" stroke="#222" stroke-width="0.9" fill-opacity="0.5"/>
<circle cx="1942.0" cy="1613.0" r="6.0" fill="#c05050" stroke="#222" stroke-width="0.9" fill-opacity="0.5"/>
<circle cx="1942.0" cy="1622.0" r="6.0" fill="#f5a623" stroke="#222" stroke-width="0.9" fill-opacity="0.5"/>
<circle cx="1942.0" cy="1633.0" r="6.0" fill="#f5a623" stroke="#222" stroke-width="0.9" fill-opacity="0.5"/>
<text x="1651.5" y="1653.0" font-family="Carlito, 'Liberation Sans', sans-serif" font-size="23.50" fill="#e69500" text-anchor="middle" >ns</text>
<text x="1805.0" y="1537.0" font-family="Carlito, 'Liberation Sans', sans-serif" font-size="23.50" fill="#e69500" text-anchor="middle" >ns</text>
<text x="1846.0" y="1599.7" font-family="'Liberation Sans', Arial, sans-serif" font-size="28.00" fill="#e69500" text-anchor="middle" >*</text>
<text x="1846.0" y="1615.7" font-family="'Liberation Sans', Arial, sans-serif" font-size="28.00" fill="#7b2cbf" text-anchor="middle" >*</text>
<text x="1942.0" y="1557.7" font-family="'Liberation Sans', Arial, sans-serif" font-size="28.00" fill="#e69500" text-anchor="middle" >*</text>
<text x="1942.0" y="1569.5" font-family="Carlito, 'Liberation Sans', sans-serif" font-size="23.50" fill="#7b2cbf" text-anchor="middle" >ns</text>
<text x="1662.0" y="1556.0" font-family="Carlito, 'Liberation Sans', sans-serif" font-size="28.00" fill="#000" font-weight="bold" textLength="47.0" lengthAdjust="spacingAndGlyphs" >PPP</text>
<text x="1803.0" y="1560.0" font-family="Carlito, 'Liberation Sans', sans-serif" font-size="22.00" fill="#7b2cbf" text-anchor="middle" >0.064</text>
<rect x="1234.0" y="1773.0" width="15.0" height="242.0" fill="#d9d9d9" />
<rect x="1396.0" y="1773.0" width="15.0" height="242.0" fill="#d9d9d9" />
<rect x="1437.0" y="1773.0" width="15.0" height="242.0" fill="#d9d9d9" />
<rect x="1532.0" y="1773.0" width="15.0" height="242.0" fill="#d9d9d9" />
<rect x="1220.0" y="1781.3" width="6.5" height="4.5" fill="#111" />
<text x="1214.5" y="1794.2" font-family="'Liberation Sans', Arial, sans-serif" font-size="29.50" fill="#111" text-anchor="end" >3.5</text>
<rect x="1220.0" y="1844.5" width="6.5" height="4.5" fill="#111" />
<text x="1214.5" y="1857.3" font-family="'Liberation Sans', Arial, sans-serif" font-size="29.50" fill="#111" text-anchor="end" >3.0</text>
<rect x="1220.0" y="1907.6" width="6.5" height="4.5" fill="#111" />
<text x="1214.5" y="1920.4" font-family="'Liberation Sans', Arial, sans-serif" font-size="29.50" fill="#111" text-anchor="end" >2.5</text>
<rect x="1220.0" y="1970.8" width="6.5" height="4.5" fill="#111" />
<text x="1214.5" y="1983.6" font-family="'Liberation Sans', Arial, sans-serif" font-size="29.50" fill="#111" text-anchor="end" >2.0</text>
<polyline points="1241.5,1927.0 1403.5,1858.0 1444.5,1826.0 1539.5,1887.0" fill="none" stroke="rgba(60,60,60,0.72)" stroke-width="4" stroke-linejoin="round" stroke-linecap="round" />
<polyline points="1241.5,1949.0 1403.5,1843.0 1444.5,1815.0 1539.5,1857.0" fill="none" stroke="rgba(253,190,70,0.72)" stroke-width="4.5" stroke-linejoin="round" stroke-linecap="round" />
<polyline points="1403.5,1850.0 1444.5,1823.0 1539.5,1876.0" fill="none" stroke="rgba(190,100,250,0.72)" stroke-width="4" stroke-linejoin="round" stroke-linecap="round" />
<circle cx="1241.5" cy="1905.8" r="6.0" fill="#000" stroke="#222" stroke-width="0.9" fill-opacity="0.5"/>
<circle cx="1241.5" cy="1919.0" r="6.0" fill="#000" stroke="#222" stroke-width="0.9" fill-opacity="0.5"/>
<circle cx="1241.5" cy="1960.0" r="6.0" fill="#000" stroke="#222" stroke-width="0.9" fill-opacity="0.5"/>
<circle cx="1241.5" cy="1910.0" r="6.0" fill="#f5a623" stroke="#222" stroke-width="0.9" fill-opacity="0.5"/>
<circle cx="1241.5" cy="1937.5" r="6.0" fill="#f5a623" stroke="#222" stroke-width="0.9" fill-opacity="0.5"/>
<circle cx="1241.5" cy="2000.0" r="6.0" fill="#f5a623" stroke="#222" stroke-width="0.9" fill-opacity="0.5"/>
<circle cx="1403.5" cy="1829.0" r="6.0" fill="#f5a623" stroke="#222" stroke-width="0.9" fill-opacity="0.5"/>
<circle cx="1403.5" cy="1833.0" r="6.0" fill="#f5a623" stroke="#222" stroke-width="0.9" fill-opacity="0.5"/>
<circle cx="1403.5" cy="1851.0" r="6.0" fill="#000" stroke="#222" stroke-width="0.9" fill-opacity="0.5"/>
<circle cx="1403.5" cy="1863.5" r="6.0" fill="#000" stroke="#222" stroke-width="0.9" fill-opacity="0.5"/>
<circle cx="1403.5" cy="1856.0" r="6.0" fill="#c05050" stroke="#222" stroke-width="0.9" fill-opacity="0.5"/>
<circle cx="1444.5" cy="1801.7" r="6.0" fill="#f5a623" stroke="#222" stroke-width="0.9" fill-opacity="0.5"/>
<circle cx="1444.5" cy="1810.7" r="6.0" fill="#f5a623" stroke="#222" stroke-width="0.9" fill-opacity="0.5"/>
<circle cx="1444.5" cy="1823.0" r="6.0" fill="#000" stroke="#222" stroke-width="0.9" fill-opacity="0.5"/>
<circle cx="1444.5" cy="1830.0" r="6.0" fill="#c05050" stroke="#222" stroke-width="0.9" fill-opacity="0.5"/>
<circle cx="1539.5" cy="1835.0" r="6.0" fill="#f5a623" stroke="#222" stroke-width="0.9" fill-opacity="0.5"/>
<circle cx="1539.5" cy="1856.0" r="6.0" fill="#f5a623" stroke="#222" stroke-width="0.9" fill-opacity="0.5"/>
<circle cx="1539.5" cy="1862.0" r="6.0" fill="#a020f0" stroke="#222" stroke-width="0.9" fill-opacity="0.5"/>
<circle cx="1539.5" cy="1875.6" r="6.0" fill="#c05050" stroke="#222" stroke-width="0.9" fill-opacity="0.5"/>
<circle cx="1539.5" cy="1890.6" r="6.0" fill="#a020f0" stroke="#222" stroke-width="0.9" fill-opacity="0.5"/>
<text x="1252.0" y="1883.0" font-family="Carlito, 'Liberation Sans', sans-serif" font-size="23.50" fill="#e69500" text-anchor="middle" >ns</text>
<text x="1403.5" y="1788.0" font-family="Carlito, 'Liberation Sans', sans-serif" font-size="23.50" fill="#e69500" text-anchor="middle" >ns</text>
<text x="1403.5" y="1806.0" font-family="Carlito, 'Liberation Sans', sans-serif" font-size="23.50" fill="#7b2cbf" text-anchor="middle" >ns</text>
<text x="1444.5" y="1770.0" font-family="Carlito, 'Liberation Sans', sans-serif" font-size="23.50" fill="#e69500" text-anchor="middle" >ns</text>
<text x="1444.5" y="1788.0" font-family="Carlito, 'Liberation Sans', sans-serif" font-size="23.50" fill="#7b2cbf" text-anchor="middle" >ns</text>
<text x="1539.5" y="1794.0" font-family="Carlito, 'Liberation Sans', sans-serif" font-size="23.50" fill="#e69500" text-anchor="middle" >ns</text>
<text x="1539.5" y="1814.0" font-family="Carlito, 'Liberation Sans', sans-serif" font-size="23.50" fill="#7b2cbf" text-anchor="middle" >ns</text>
<text x="1267.0" y="1794.0" font-family="Carlito, 'Liberation Sans', sans-serif" font-size="28.00" fill="#000" font-weight="bold" textLength="50.0" lengthAdjust="spacingAndGlyphs" >FAO</text>
<rect x="1633.5" y="1768.0" width="15.0" height="248.0" fill="#d9d9d9" />
<rect x="1797.5" y="1768.0" width="15.0" height="248.0" fill="#d9d9d9" />
<rect x="1838.5" y="1768.0" width="15.0" height="248.0" fill="#d9d9d9" />
<rect x="1934.5" y="1768.0" width="15.0" height="248.0" fill="#d9d9d9" />
<rect x="1620.0" y="1776.8" width="6.5" height="4.5" fill="#111" />
<text x="1614.5" y="1789.6" font-family="'Liberation Sans', Arial, sans-serif" font-size="29.50" fill="#111" text-anchor="end" >4.5</text>
<rect x="1620.0" y="1830.8" width="6.5" height="4.5" fill="#111" />
<text x="1614.5" y="1843.6" font-family="'Liberation Sans', Arial, sans-serif" font-size="29.50" fill="#111" text-anchor="end" >4.0</text>
<rect x="1620.0" y="1884.8" width="6.5" height="4.5" fill="#111" />
<text x="1614.5" y="1897.6" font-family="'Liberation Sans', Arial, sans-serif" font-size="29.50" fill="#111" text-anchor="end" >3.5</text>
<rect x="1620.0" y="1938.8" width="6.5" height="4.5" fill="#111" />
<text x="1614.5" y="1951.6" font-family="'Liberation Sans', Arial, sans-serif" font-size="29.50" fill="#111" text-anchor="end" >3.0</text>
<rect x="1620.0" y="1992.8" width="6.5" height="4.5" fill="#111" />
<text x="1614.5" y="2005.6" font-family="'Liberation Sans', Arial, sans-serif" font-size="29.50" fill="#111" text-anchor="end" >2.5</text>
<polyline points="1641.0,1900.0 1805.0,1928.0 1846.0,1924.0 1942.0,1903.0" fill="none" stroke="rgba(60,60,60,0.72)" stroke-width="4" stroke-linejoin="round" stroke-linecap="round" />
<polyline points="1641.0,1949.0 1805.0,1886.0 1846.0,1881.0 1942.0,1884.0" fill="none" stroke="rgba(253,190,70,0.72)" stroke-width="4.5" stroke-linejoin="round" stroke-linecap="round" />
<polyline points="1805.0,1905.0 1846.0,1902.0 1942.0,1900.0" fill="none" stroke="rgba(190,100,250,0.72)" stroke-width="4" stroke-linejoin="round" stroke-linecap="round" />
<circle cx="1641.0" cy="1877.0" r="6.0" fill="#000" stroke="#222" stroke-width="0.9" fill-opacity="0.5"/>
<circle cx="1641.0" cy="1885.0" r="6.0" fill="#000" stroke="#222" stroke-width="0.9" fill-opacity="0.5"/>
<circle cx="1641.0" cy="1915.0" r="6.0" fill="#f5a623" stroke="#222" stroke-width="0.9" fill-opacity="0.5"/>
<circle cx="1641.0" cy="1935.0" r="6.0" fill="#f5a623" stroke="#222" stroke-width="0.9" fill-opacity="0.5"/>
<circle cx="1641.0" cy="1997.5" r="6.0" fill="#f5a623" stroke="#222" stroke-width="0.9" fill-opacity="0.5"/>
<circle cx="1805.0" cy="1868.0" r="6.0" fill="#f5a623" stroke="#222" stroke-width="0.9" fill-opacity="0.5"/>
<circle cx="1805.0" cy="1878.6" r="6.0" fill="#f5a623" stroke="#222" stroke-width="0.9" fill-opacity="0.5"/>
<circle cx="1805.0" cy="1888.0" r="6.0" fill="#f5a623" stroke="#222" stroke-width="0.9" fill-opacity="0.5"/>
<circle cx="1805.0" cy="1910.0" r="6.0" fill="#f5a623" stroke="#222" stroke-width="0.9" fill-opacity="0.5"/>
<circle cx="1805.0" cy="1897.0" r="6.0" fill="#a020f0" stroke="#222" stroke-width="0.9" fill-opacity="0.5"/>
<circle cx="1805.0" cy="1930.0" r="6.0" fill="#a020f0" stroke="#222" stroke-width="0.9" fill-opacity="0.5"/>
<circle cx="1805.0" cy="1916.4" r="6.0" fill="#000" stroke="#222" stroke-width="0.9" fill-opacity="0.5"/>
<circle cx="1805.0" cy="1951.0" r="6.0" fill="#000" stroke="#222" stroke-width="0.9" fill-opacity="0.5"/>
<circle cx="1846.0" cy="1856.0" r="6.0" fill="#f5a623" stroke="#222" stroke-width="0.9" fill-opacity="0.5"/>
<circle cx="1846.0" cy="1873.0" r="6.0" fill="#f5a623" stroke="#222" stroke-width="0.9" fill-opacity="0.5"/>
<circle cx="1846.0" cy="1880.0" r="6.0" fill="#f5a623" stroke="#222" stroke-width="0.9" fill-opacity="0.5"/>
<circle cx="1846.0" cy="1914.0" r="6.0" fill="#f5a623" stroke="#222" stroke-width="0.9" fill-opacity="0.5"/>
<circle cx="1846.0" cy="1901.0" r="6.0" fill="#a020f0" stroke="#222" stroke-width="0.9" fill-opacity="0.5"/>
<circle cx="1846.0" cy="1926.0" r="6.0" fill="#a020f0" stroke="#222" stroke-width="0.9" fill-opacity="0.5"/>
<circle cx="1846.0" cy="1916.0" r="6.0" fill="#000" stroke="#222" stroke-width="0.9" fill-opacity="0.5"/>
<circle cx="1846.0" cy="1947.0" r="6.0" fill="#000" stroke="#222" stroke-width="0.9" fill-opacity="0.5"/>
<circle cx="1942.0" cy="1848.0" r="6.0" fill="#f5a623" stroke="#222" stroke-width="0.9" fill-opacity="0.5"/>
<circle cx="1942.0" cy="1910.0" r="6.0" fill="#f5a623" stroke="#222" stroke-width="0.9" fill-opacity="0.5"/>
<circle cx="1942.0" cy="1883.0" r="6.0" fill="#a020f0" stroke="#222" stroke-width="0.9" fill-opacity="0.5"/>
<circle cx="1942.0" cy="1924.4" r="6.0" fill="#a020f0" stroke="#222" stroke-width="0.9" fill-opacity="0.5"/>
<circle cx="1942.0" cy="1892.5" r="6.0" fill="#c05050" stroke="#222" stroke-width="0.9" fill-opacity="0.5"/>
<circle cx="1942.0" cy="1903.0" r="6.0" fill="#000" stroke="#222" stroke-width="0.9" fill-opacity="0.5"/>
<text x="1651.5" y="1832.5" font-family="Carlito, 'Liberation Sans', sans-serif" font-size="23.50" fill="#e69500" text-anchor="middle" >ns</text>
<text x="1805.0" y="1808.0" font-family="Carlito, 'Liberation Sans', sans-serif" font-size="23.50" fill="#e69500" text-anchor="middle" >ns</text>
<text x="1805.0" y="1826.5" font-family="Carlito, 'Liberation Sans', sans-serif" font-size="23.50" fill="#7b2cbf" text-anchor="middle" >ns</text>
<text x="1846.0" y="1797.0" font-family="Carlito, 'Liberation Sans', sans-serif" font-size="23.50" fill="#e69500" text-anchor="middle" >ns</text>
<text x="1846.0" y="1816.0" font-family="Carlito, 'Liberation Sans', sans-serif" font-size="23.50" fill="#7b2cbf" text-anchor="middle" >ns</text>
<text x="1942.0" y="1792.0" font-family="Carlito, 'Liberation Sans', sans-serif" font-size="23.50" fill="#e69500" text-anchor="middle" >ns</text>
<text x="1942.0" y="1810.5" font-family="Carlito, 'Liberation Sans', sans-serif" font-size="23.50" fill="#7b2cbf" text-anchor="middle" >ns</text>
<text x="1659.0" y="1784.0" font-family="Carlito, 'Liberation Sans', sans-serif" font-size="28.00" fill="#000" font-weight="bold" textLength="50.5" lengthAdjust="spacingAndGlyphs" >GSH</text>
<text x="1230.0" y="2041.0" font-family="Carlito, 'Liberation Sans', sans-serif" font-size="27.00" fill="#333" font-weight="bold" textLength="29.5" lengthAdjust="spacingAndGlyphs" >24</text>
<text x="1381.0" y="2039.0" font-family="Carlito, 'Liberation Sans', sans-serif" font-size="23.00" fill="#333" font-weight="bold" textLength="35.0" lengthAdjust="spacingAndGlyphs" >iDC</text>
<text x="1428.0" y="2039.0" font-family="Carlito, 'Liberation Sans', sans-serif" font-size="23.00" fill="#333" font-weight="bold" textLength="58.0" lengthAdjust="spacingAndGlyphs" >actDC</text>
<text x="1501.0" y="2039.0" font-family="Carlito, 'Liberation Sans', sans-serif" font-size="23.00" fill="#333" font-weight="bold" textLength="48.0" lengthAdjust="spacingAndGlyphs" >mDC</text>
<line x1="1231.0" y1="2049.0" x2="1351.0" y2="2049.0" stroke="#b3b3b3" stroke-width="2.5" />
<line x1="1393.0" y1="2049.0" x2="1533.0" y2="2049.0" stroke="#666" stroke-width="2.5" />
<text x="1229.0" y="2074.0" font-family="Carlito, 'Liberation Sans', sans-serif" font-size="24.00" fill="#aaaaaa" textLength="84.0" lengthAdjust="spacingAndGlyphs" >GM-CSF</text>
<text x="1230.0" y="2096.0" font-family="Carlito, 'Liberation Sans', sans-serif" font-size="24.00" fill="#aaaaaa" textLength="29.0" lengthAdjust="spacingAndGlyphs" >IL4</text>
<text x="1393.0" y="2074.0" font-family="Carlito, 'Liberation Sans', sans-serif" font-size="24.00" fill="#7f7f7f" textLength="35.0" lengthAdjust="spacingAndGlyphs" >LPS</text>
<text x="1393.0" y="2096.0" font-family="Carlito, 'Liberation Sans', sans-serif" font-size="24.00" fill="#7f7f7f" textLength="46.0" lengthAdjust="spacingAndGlyphs" >IFNγ</text>
<text x="1633.5" y="2041.0" font-family="Carlito, 'Liberation Sans', sans-serif" font-size="27.00" fill="#333" font-weight="bold" textLength="29.5" lengthAdjust="spacingAndGlyphs" >24</text>
<text x="1789.0" y="2039.0" font-family="Carlito, 'Liberation Sans', sans-serif" font-size="23.00" fill="#333" font-weight="bold" textLength="35.0" lengthAdjust="spacingAndGlyphs" >iDC</text>
<text x="1835.0" y="2039.0" font-family="Carlito, 'Liberation Sans', sans-serif" font-size="23.00" fill="#333" font-weight="bold" textLength="58.0" lengthAdjust="spacingAndGlyphs" >actDC</text>
<text x="1909.2" y="2039.0" font-family="Carlito, 'Liberation Sans', sans-serif" font-size="23.00" fill="#333" font-weight="bold" textLength="47.6" lengthAdjust="spacingAndGlyphs" >mDC</text>
<line x1="1633.5" y1="2047.0" x2="1755.0" y2="2047.0" stroke="#b3b3b3" stroke-width="2.5" />
<line x1="1800.0" y1="2047.0" x2="1941.0" y2="2047.0" stroke="#666" stroke-width="2.5" />
<text x="1631.5" y="2072.0" font-family="Carlito, 'Liberation Sans', sans-serif" font-size="24.00" fill="#aaaaaa" textLength="84.0" lengthAdjust="spacingAndGlyphs" >GM-CSF</text>
<text x="1632.5" y="2094.0" font-family="Carlito, 'Liberation Sans', sans-serif" font-size="24.00" fill="#aaaaaa" textLength="29.0" lengthAdjust="spacingAndGlyphs" >IL4</text>
<text x="1800.0" y="2072.0" font-family="Carlito, 'Liberation Sans', sans-serif" font-size="24.00" fill="#7f7f7f" textLength="35.0" lengthAdjust="spacingAndGlyphs" >LPS</text>
<text x="1800.0" y="2094.0" font-family="Carlito, 'Liberation Sans', sans-serif" font-size="24.00" fill="#7f7f7f" textLength="46.0" lengthAdjust="spacingAndGlyphs" >IFNγ</text>
<text x="1441.0" y="2128.0" font-family="Carlito, 'Liberation Sans', sans-serif" font-size="27.00" fill="#333" textLength="284.0" lengthAdjust="spacingAndGlyphs" >DC maturation timeline</text>
<text x="22.0" y="2146.0" font-family="Carlito, 'Liberation Sans', sans-serif" font-size="50.00" fill="#3a3838" font-weight="bold" >F</text>
<text x="150.0" y="2143.5" font-family="Carlito, 'Liberation Sans', sans-serif" font-size="34.60" fill="#000" font-weight="bold" textLength="120.0" lengthAdjust="spacingAndGlyphs" >Glucose</text>
<circle cx="152.8" cy="2257.4" r="7.3" fill="#333333" stroke="#222" stroke-width="0.8" fill-opacity="0.5" stroke-opacity="0.6"/>
<circle cx="151.1" cy="2253.2" r="7.3" fill="#333333" stroke="#222" stroke-width="0.8" fill-opacity="0.5" stroke-opacity="0.6"/>
<circle cx="156.1" cy="2249.0" r="7.3" fill="#333333" stroke="#222" stroke-width="0.8" fill-opacity="0.5" stroke-opacity="0.6"/>
<circle cx="150.3" cy="2246.9" r="7.3" fill="#333333" stroke="#222" stroke-width="0.8" fill-opacity="0.5" stroke-opacity="0.6"/>
<circle cx="155.0" cy="2244.8" r="7.3" fill="#333333" stroke="#222" stroke-width="0.8" fill-opacity="0.5" stroke-opacity="0.6"/>
<circle cx="153.3" cy="2242.7" r="7.3" fill="#333333" stroke="#222" stroke-width="0.8" fill-opacity="0.5" stroke-opacity="0.6"/>
<circle cx="150.2" cy="2238.5" r="7.3" fill="#333333" stroke="#222" stroke-width="0.8" fill-opacity="0.5" stroke-opacity="0.6"/>
<circle cx="154.7" cy="2236.4" r="7.3" fill="#333333" stroke="#222" stroke-width="0.8" fill-opacity="0.5" stroke-opacity="0.6"/>
<line x1="142.6" y1="2242.1" x2="166.6" y2="2242.1" stroke="#444" stroke-width="1.2" />
<line x1="142.6" y1="2253.8" x2="166.6" y2="2253.8" stroke="#444" stroke-width="1.2" />
<line x1="154.6" y1="2242.1" x2="154.6" y2="2253.8" stroke="#444" stroke-width="1.2" />
<circle cx="154.6" cy="2247.9" r="3.8" fill="#000" />
<circle cx="178.4" cy="2280.5" r="7.3" fill="#f5a623" stroke="#222" stroke-width="0.8" fill-opacity="0.5" stroke-opacity="0.6"/>
<circle cx="182.3" cy="2274.2" r="7.3" fill="#f5a623" stroke="#222" stroke-width="0.8" fill-opacity="0.5" stroke-opacity="0.6"/>
<circle cx="178.7" cy="2270.0" r="7.3" fill="#f5a623" stroke="#222" stroke-width="0.8" fill-opacity="0.5" stroke-opacity="0.6"/>
<circle cx="178.9" cy="2265.8" r="7.3" fill="#f5a623" stroke="#222" stroke-width="0.8" fill-opacity="0.5" stroke-opacity="0.6"/>
<circle cx="182.2" cy="2259.5" r="7.3" fill="#f5a623" stroke="#222" stroke-width="0.8" fill-opacity="0.5" stroke-opacity="0.6"/>
<circle cx="186.3" cy="2253.2" r="7.3" fill="#f5a623" stroke="#222" stroke-width="0.8" fill-opacity="0.5" stroke-opacity="0.6"/>
<circle cx="179.2" cy="2249.0" r="7.3" fill="#f5a623" stroke="#222" stroke-width="0.8" fill-opacity="0.5" stroke-opacity="0.6"/>
<line x1="171.0" y1="2257.0" x2="195.0" y2="2257.0" stroke="#444" stroke-width="1.2" />
<line x1="171.0" y1="2274.6" x2="195.0" y2="2274.6" stroke="#444" stroke-width="1.2" />
<line x1="183.0" y1="2257.0" x2="183.0" y2="2274.6" stroke="#444" stroke-width="1.2" />
<circle cx="183.0" cy="2265.8" r="3.8" fill="#000" />
<circle cx="209.8" cy="2236.4" r="7.3" fill="#333333" stroke="#222" stroke-width="0.8" fill-opacity="0.5" stroke-opacity="0.6"/>
<circle cx="213.9" cy="2232.2" r="7.3" fill="#333333" stroke="#222" stroke-width="0.8" fill-opacity="0.5" stroke-opacity="0.6"/>
<circle cx="217.1" cy="2223.8" r="7.3" fill="#333333" stroke="#222" stroke-width="0.8" fill-opacity="0.5" stroke-opacity="0.6"/>
<circle cx="213.4" cy="2219.6" r="7.3" fill="#333333" stroke="#222" stroke-width="0.8" fill-opacity="0.5" stroke-opacity="0.6"/>
<circle cx="211.6" cy="2211.2" r="7.3" fill="#333333" stroke="#222" stroke-width="0.8" fill-opacity="0.5" stroke-opacity="0.6"/>
<circle cx="217.4" cy="2209.1" r="7.3" fill="#333333" stroke="#222" stroke-width="0.8" fill-opacity="0.5" stroke-opacity="0.6"/>
<line x1="200.6" y1="2212.2" x2="224.6" y2="2212.2" stroke="#444" stroke-width="1.2" />
<line x1="200.6" y1="2235.3" x2="224.6" y2="2235.3" stroke="#444" stroke-width="1.2" />
<line x1="212.6" y1="2212.2" x2="212.6" y2="2235.3" stroke="#444" stroke-width="1.2" />
<circle cx="212.6" cy="2223.8" r="3.8" fill="#000" />
<circle cx="237.1" cy="2255.3" r="7.3" fill="#a020f0" stroke="#222" stroke-width="0.8" fill-opacity="0.5" stroke-opacity="0.6"/>
<circle cx="245.2" cy="2251.1" r="7.3" fill="#a020f0" stroke="#222" stroke-width="0.8" fill-opacity="0.5" stroke-opacity="0.6"/>
<circle cx="239.5" cy="2244.8" r="7.3" fill="#a020f0" stroke="#222" stroke-width="0.8" fill-opacity="0.5" stroke-opacity="0.6"/>
<circle cx="238.0" cy="2240.6" r="7.3" fill="#a020f0" stroke="#222" stroke-width="0.8" fill-opacity="0.5" stroke-opacity="0.6"/>
<line x1="229.6" y1="2239.6" x2="253.6" y2="2239.6" stroke="#444" stroke-width="1.2" />
<line x1="229.6" y1="2254.2" x2="253.6" y2="2254.2" stroke="#444" stroke-width="1.2" />
<line x1="241.6" y1="2239.6" x2="241.6" y2="2254.2" stroke="#444" stroke-width="1.2" />
<circle cx="241.6" cy="2246.9" r="3.8" fill="#000" />
<circle cx="266.9" cy="2257.4" r="7.3" fill="#f5a623" stroke="#222" stroke-width="0.8" fill-opacity="0.5" stroke-opacity="0.6"/>
<circle cx="268.8" cy="2253.2" r="7.3" fill="#f5a623" stroke="#222" stroke-width="0.8" fill-opacity="0.5" stroke-opacity="0.6"/>
<circle cx="273.9" cy="2244.8" r="7.3" fill="#f5a623" stroke="#222" stroke-width="0.8" fill-opacity="0.5" stroke-opacity="0.6"/>
<circle cx="267.5" cy="2240.6" r="7.3" fill="#f5a623" stroke="#222" stroke-width="0.8" fill-opacity="0.5" stroke-opacity="0.6"/>
<circle cx="271.5" cy="2238.5" r="7.3" fill="#f5a623" stroke="#222" stroke-width="0.8" fill-opacity="0.5" stroke-opacity="0.6"/>
<line x1="258.7" y1="2239.6" x2="282.7" y2="2239.6" stroke="#444" stroke-width="1.2" />
<line x1="258.7" y1="2258.4" x2="282.7" y2="2258.4" stroke="#444" stroke-width="1.2" />
<line x1="270.7" y1="2239.6" x2="270.7" y2="2258.4" stroke="#444" stroke-width="1.2" />
<circle cx="270.7" cy="2249.0" r="3.8" fill="#000" />
<circle cx="302.4" cy="2246.9" r="7.3" fill="#333333" stroke="#222" stroke-width="0.8" fill-opacity="0.5" stroke-opacity="0.6"/>
<circle cx="299.7" cy="2236.4" r="7.3" fill="#333333" stroke="#222" stroke-width="0.8" fill-opacity="0.5" stroke-opacity="0.6"/>
<circle cx="301.5" cy="2228.0" r="7.3" fill="#333333" stroke="#222" stroke-width="0.8" fill-opacity="0.5" stroke-opacity="0.6"/>
<circle cx="296.6" cy="2219.6" r="7.3" fill="#333333" stroke="#222" stroke-width="0.8" fill-opacity="0.5" stroke-opacity="0.6"/>
<circle cx="296.6" cy="2215.4" r="7.3" fill="#333333" stroke="#222" stroke-width="0.8" fill-opacity="0.5" stroke-opacity="0.6"/>
<line x1="289.0" y1="2218.6" x2="313.0" y2="2218.6" stroke="#444" stroke-width="1.2" />
<line x1="289.0" y1="2241.7" x2="313.0" y2="2241.7" stroke="#444" stroke-width="1.2" />
<line x1="301.0" y1="2218.6" x2="301.0" y2="2241.7" stroke="#444" stroke-width="1.2" />
<circle cx="301.0" cy="2230.1" r="3.8" fill="#000" />
<circle cx="326.7" cy="2270.0" r="7.3" fill="#a020f0" stroke="#222" stroke-width="0.8" fill-opacity="0.5" stroke-opacity="0.6"/>
<circle cx="331.4" cy="2265.8" r="7.3" fill="#a020f0" stroke="#222" stroke-width="0.8" fill-opacity="0.5" stroke-opacity="0.6"/>
<circle cx="328.9" cy="2259.5" r="7.3" fill="#a020f0" stroke="#222" stroke-width="0.8" fill-opacity="0.5" stroke-opacity="0.6"/>
<circle cx="327.7" cy="2255.3" r="7.3" fill="#a020f0" stroke="#222" stroke-width="0.8" fill-opacity="0.5" stroke-opacity="0.6"/>
<circle cx="330.5" cy="2251.1" r="7.3" fill="#a020f0" stroke="#222" stroke-width="0.8" fill-opacity="0.5" stroke-opacity="0.6"/>
<line x1="317.6" y1="2254.2" x2="341.6" y2="2254.2" stroke="#444" stroke-width="1.2" />
<line x1="317.6" y1="2268.9" x2="341.6" y2="2268.9" stroke="#444" stroke-width="1.2" />
<line x1="329.6" y1="2254.2" x2="329.6" y2="2268.9" stroke="#444" stroke-width="1.2" />
<circle cx="329.6" cy="2261.6" r="3.8" fill="#000" />
<circle cx="358.5" cy="2270.0" r="7.3" fill="#f5a623" stroke="#222" stroke-width="0.8" fill-opacity="0.5" stroke-opacity="0.6"/>
<circle cx="357.0" cy="2265.8" r="7.3" fill="#f5a623" stroke="#222" stroke-width="0.8" fill-opacity="0.5" stroke-opacity="0.6"/>
<circle cx="361.9" cy="2261.6" r="7.3" fill="#f5a623" stroke="#222" stroke-width="0.8" fill-opacity="0.5" stroke-opacity="0.6"/>
<circle cx="361.0" cy="2257.4" r="7.3" fill="#f5a623" stroke="#222" stroke-width="0.8" fill-opacity="0.5" stroke-opacity="0.6"/>
<circle cx="356.4" cy="2255.3" r="7.3" fill="#f5a623" stroke="#222" stroke-width="0.8" fill-opacity="0.5" stroke-opacity="0.6"/>
<line x1="347.0" y1="2255.3" x2="371.0" y2="2255.3" stroke="#444" stroke-width="1.2" />
<line x1="347.0" y1="2267.9" x2="371.0" y2="2267.9" stroke="#444" stroke-width="1.2" />
<line x1="359.0" y1="2255.3" x2="359.0" y2="2267.9" stroke="#444" stroke-width="1.2" />
<circle cx="359.0" cy="2261.6" r="3.8" fill="#000" />
<circle cx="389.7" cy="2270.0" r="7.3" fill="#333333" stroke="#222" stroke-width="0.8" fill-opacity="0.5" stroke-opacity="0.6"/>
<circle cx="389.3" cy="2265.8" r="7.3" fill="#333333" stroke="#222" stroke-width="0.8" fill-opacity="0.5" stroke-opacity="0.6"/>
<circle cx="392.8" cy="2259.5" r="7.3" fill="#333333" stroke="#222" stroke-width="0.8" fill-opacity="0.5" stroke-opacity="0.6"/>
<circle cx="391.3" cy="2255.3" r="7.3" fill="#333333" stroke="#222" stroke-width="0.8" fill-opacity="0.5" stroke-opacity="0.6"/>
<circle cx="386.9" cy="2251.1" r="7.3" fill="#333333" stroke="#222" stroke-width="0.8" fill-opacity="0.5" stroke-opacity="0.6"/>
<line x1="377.0" y1="2252.2" x2="401.0" y2="2252.2" stroke="#444" stroke-width="1.2" />
<line x1="377.0" y1="2266.8" x2="401.0" y2="2266.8" stroke="#444" stroke-width="1.2" />
<line x1="389.0" y1="2252.2" x2="389.0" y2="2266.8" stroke="#444" stroke-width="1.2" />
<circle cx="389.0" cy="2259.5" r="3.8" fill="#000" />
<circle cx="422.4" cy="2314.1" r="7.3" fill="#a020f0" stroke="#222" stroke-width="0.8" fill-opacity="0.5" stroke-opacity="0.6"/>
<circle cx="413.8" cy="2301.5" r="7.3" fill="#a020f0" stroke="#222" stroke-width="0.8" fill-opacity="0.5" stroke-opacity="0.6"/>
<circle cx="416.8" cy="2295.2" r="7.3" fill="#a020f0" stroke="#222" stroke-width="0.8" fill-opacity="0.5" stroke-opacity="0.6"/>
<circle cx="420.2" cy="2286.8" r="7.3" fill="#a020f0" stroke="#222" stroke-width="0.8" fill-opacity="0.5" stroke-opacity="0.6"/>
<circle cx="414.1" cy="2280.5" r="7.3" fill="#a020f0" stroke="#222" stroke-width="0.8" fill-opacity="0.5" stroke-opacity="0.6"/>
<line x1="405.6" y1="2281.6" x2="429.6" y2="2281.6" stroke="#444" stroke-width="1.2" />
<line x1="405.6" y1="2308.8" x2="429.6" y2="2308.8" stroke="#444" stroke-width="1.2" />
<line x1="417.6" y1="2281.6" x2="417.6" y2="2308.8" stroke="#444" stroke-width="1.2" />
<circle cx="417.6" cy="2295.2" r="3.8" fill="#000" />
<circle cx="447.5" cy="2297.3" r="7.3" fill="#f5a623" stroke="#222" stroke-width="0.8" fill-opacity="0.5" stroke-opacity="0.6"/>
<circle cx="443.0" cy="2293.1" r="7.3" fill="#f5a623" stroke="#222" stroke-width="0.8" fill-opacity="0.5" stroke-opacity="0.6"/>
<circle cx="449.3" cy="2286.8" r="7.3" fill="#f5a623" stroke="#222" stroke-width="0.8" fill-opacity="0.5" stroke-opacity="0.6"/>
<circle cx="450.2" cy="2280.5" r="7.3" fill="#f5a623" stroke="#222" stroke-width="0.8" fill-opacity="0.5" stroke-opacity="0.6"/>
<circle cx="448.3" cy="2276.3" r="7.3" fill="#f5a623" stroke="#222" stroke-width="0.8" fill-opacity="0.5" stroke-opacity="0.6"/>
<line x1="435.6" y1="2277.3" x2="459.6" y2="2277.3" stroke="#444" stroke-width="1.2" />
<line x1="435.6" y1="2296.2" x2="459.6" y2="2296.2" stroke="#444" stroke-width="1.2" />
<line x1="447.6" y1="2277.3" x2="447.6" y2="2296.2" stroke="#444" stroke-width="1.2" />
<circle cx="447.6" cy="2286.8" r="3.8" fill="#000" />
<line x1="198.0" y1="2163.0" x2="198.0" y2="2374.0" stroke="#000" stroke-width="3.6" stroke-dasharray="15,8"/>
<line x1="285.7" y1="2163.0" x2="285.7" y2="2374.0" stroke="#000" stroke-width="3.6" stroke-dasharray="15,8"/>
<line x1="373.5" y1="2163.0" x2="373.5" y2="2374.0" stroke="#000" stroke-width="3.6" stroke-dasharray="15,8"/>
<line x1="136.0" y1="2155.0" x2="136.0" y2="2375.0" stroke="#111" stroke-width="1.8" />
<line x1="136.0" y1="2374.0" x2="465.5" y2="2374.0" stroke="#111" stroke-width="1.8" />
<line x1="131.0" y1="2207.0" x2="136.0" y2="2207.0" stroke="#333" stroke-width="1.5" />
<text x="127.5" y="2215.6" font-family="'Liberation Sans', Arial, sans-serif" font-size="24.00" fill="#4d4d4d" text-anchor="end" >100</text>
<line x1="131.0" y1="2259.5" x2="136.0" y2="2259.5" stroke="#333" stroke-width="1.5" />
<text x="127.5" y="2268.1" font-family="'Liberation Sans', Arial, sans-serif" font-size="24.00" fill="#4d4d4d" text-anchor="end" >75</text>
<line x1="131.0" y1="2312.0" x2="136.0" y2="2312.0" stroke="#333" stroke-width="1.5" />
<text x="127.5" y="2320.6" font-family="'Liberation Sans', Arial, sans-serif" font-size="24.00" fill="#4d4d4d" text-anchor="end" >50</text>
<line x1="131.0" y1="2364.5" x2="136.0" y2="2364.5" stroke="#333" stroke-width="1.5" />
<text x="127.5" y="2373.1" font-family="'Liberation Sans', Arial, sans-serif" font-size="24.00" fill="#4d4d4d" text-anchor="end" >25</text>
<line x1="154.0" y1="2223.6" x2="183.0" y2="2223.6" stroke="#222" stroke-width="1.3" />
<text x="168.8" y="2230.4" font-family="'Liberation Sans', Arial, sans-serif" font-size="31.00" fill="#111" text-anchor="middle" >**</text>
<line x1="212.6" y1="2192.0" x2="241.6" y2="2192.0" stroke="#222" stroke-width="1.3" />
<text x="226.8" y="2200.4" font-family="'Liberation Sans', Arial, sans-serif" font-size="31.00" fill="#111" text-anchor="middle" >**</text>
<line x1="212.6" y1="2170.6" x2="271.0" y2="2170.6" stroke="#222" stroke-width="1.3" />
<text x="242.2" y="2180.4" font-family="'Liberation Sans', Arial, sans-serif" font-size="31.00" fill="#111" text-anchor="middle" >**</text>
<line x1="301.0" y1="2202.0" x2="330.0" y2="2202.0" stroke="#222" stroke-width="1.3" />
<text x="314.8" y="2210.9" font-family="'Liberation Sans', Arial, sans-serif" font-size="31.00" fill="#111" text-anchor="middle" >***</text>
<line x1="301.0" y1="2181.0" x2="359.0" y2="2181.0" stroke="#222" stroke-width="1.3" />
<text x="330.0" y="2189.9" font-family="'Liberation Sans', Arial, sans-serif" font-size="31.00" fill="#111" text-anchor="middle" >***</text>
<line x1="389.0" y1="2234.0" x2="417.6" y2="2234.0" stroke="#222" stroke-width="1.3" />
<text x="403.0" y="2242.4" font-family="'Liberation Sans', Arial, sans-serif" font-size="31.00" fill="#111" text-anchor="middle" >***</text>
<line x1="389.0" y1="2212.6" x2="447.6" y2="2212.6" stroke="#222" stroke-width="1.3" />
<text x="417.3" y="2221.7" font-family="'Liberation Sans', Arial, sans-serif" font-size="31.00" fill="#111" text-anchor="middle" >***</text>
<text transform="translate(81.0,2313.0) rotate(-90)" font-family="'Liberation Sans', Arial, sans-serif" font-size="30.00" fill="#111" >(mg/dl)</text>
<text x="558.6" y="2143.5" font-family="Carlito, 'Liberation Sans', sans-serif" font-size="34.60" fill="#000" font-weight="bold" textLength="110.4" lengthAdjust="spacingAndGlyphs" >Lactate</text>
<circle cx="565.2" cy="2331.2" r="7.3" fill="#333333" stroke="#222" stroke-width="0.8" fill-opacity="0.5" stroke-opacity="0.6"/>
<circle cx="563.5" cy="2324.6" r="7.3" fill="#333333" stroke="#222" stroke-width="0.8" fill-opacity="0.5" stroke-opacity="0.6"/>
<circle cx="568.5" cy="2311.3" r="7.3" fill="#333333" stroke="#222" stroke-width="0.8" fill-opacity="0.5" stroke-opacity="0.6"/>
<circle cx="562.7" cy="2298.0" r="7.3" fill="#333333" stroke="#222" stroke-width="0.8" fill-opacity="0.5" stroke-opacity="0.6"/>
<circle cx="567.4" cy="2291.3" r="7.3" fill="#333333" stroke="#222" stroke-width="0.8" fill-opacity="0.5" stroke-opacity="0.6"/>
<circle cx="565.7" cy="2284.7" r="7.3" fill="#333333" stroke="#222" stroke-width="0.8" fill-opacity="0.5" stroke-opacity="0.6"/>
<line x1="555.0" y1="2284.7" x2="579.0" y2="2284.7" stroke="#444" stroke-width="1.2" />
<line x1="555.0" y1="2321.3" x2="579.0" y2="2321.3" stroke="#444" stroke-width="1.2" />
<line x1="567.0" y1="2284.7" x2="567.0" y2="2321.3" stroke="#444" stroke-width="1.2" />
<circle cx="567.0" cy="2303.0" r="3.8" fill="#000" />
<circle cx="592.6" cy="2308.0" r="7.3" fill="#f5a623" stroke="#222" stroke-width="0.8" fill-opacity="0.5" stroke-opacity="0.6"/>
<circle cx="597.1" cy="2298.0" r="7.3" fill="#f5a623" stroke="#222" stroke-width="0.8" fill-opacity="0.5" stroke-opacity="0.6"/>
<circle cx="592.4" cy="2281.4" r="7.3" fill="#f5a623" stroke="#222" stroke-width="0.8" fill-opacity="0.5" stroke-opacity="0.6"/>
<circle cx="596.3" cy="2271.4" r="7.3" fill="#f5a623" stroke="#222" stroke-width="0.8" fill-opacity="0.5" stroke-opacity="0.6"/>
<circle cx="592.7" cy="2264.8" r="7.3" fill="#f5a623" stroke="#222" stroke-width="0.8" fill-opacity="0.5" stroke-opacity="0.6"/>
<circle cx="592.9" cy="2254.8" r="7.3" fill="#f5a623" stroke="#222" stroke-width="0.8" fill-opacity="0.5" stroke-opacity="0.6"/>
<line x1="585.0" y1="2263.1" x2="609.0" y2="2263.1" stroke="#444" stroke-width="1.2" />
<line x1="585.0" y1="2299.7" x2="609.0" y2="2299.7" stroke="#444" stroke-width="1.2" />
<line x1="597.0" y1="2263.1" x2="597.0" y2="2299.7" stroke="#444" stroke-width="1.2" />
<circle cx="597.0" cy="2281.4" r="3.8" fill="#000" />
<circle cx="625.2" cy="2327.9" r="7.3" fill="#333333" stroke="#222" stroke-width="0.8" fill-opacity="0.5" stroke-opacity="0.6"/>
<circle cx="629.3" cy="2321.3" r="7.3" fill="#333333" stroke="#222" stroke-width="0.8" fill-opacity="0.5" stroke-opacity="0.6"/>
<circle cx="622.2" cy="2308.0" r="7.3" fill="#333333" stroke="#222" stroke-width="0.8" fill-opacity="0.5" stroke-opacity="0.6"/>
<circle cx="623.2" cy="2301.3" r="7.3" fill="#333333" stroke="#222" stroke-width="0.8" fill-opacity="0.5" stroke-opacity="0.6"/>
<circle cx="627.3" cy="2291.3" r="7.3" fill="#333333" stroke="#222" stroke-width="0.8" fill-opacity="0.5" stroke-opacity="0.6"/>
<line x1="614.0" y1="2298.7" x2="638.0" y2="2298.7" stroke="#444" stroke-width="1.2" />
<line x1="614.0" y1="2323.9" x2="638.0" y2="2323.9" stroke="#444" stroke-width="1.2" />
<line x1="626.0" y1="2298.7" x2="626.0" y2="2323.9" stroke="#444" stroke-width="1.2" />
<circle cx="626.0" cy="2311.3" r="3.8" fill="#000" />
<circle cx="660.1" cy="2304.7" r="7.3" fill="#a020f0" stroke="#222" stroke-width="0.8" fill-opacity="0.5" stroke-opacity="0.6"/>
<circle cx="656.4" cy="2298.0" r="7.3" fill="#a020f0" stroke="#222" stroke-width="0.8" fill-opacity="0.5" stroke-opacity="0.6"/>
<circle cx="654.6" cy="2281.4" r="7.3" fill="#a020f0" stroke="#222" stroke-width="0.8" fill-opacity="0.5" stroke-opacity="0.6"/>
<circle cx="660.4" cy="2268.1" r="7.3" fill="#a020f0" stroke="#222" stroke-width="0.8" fill-opacity="0.5" stroke-opacity="0.6"/>
<circle cx="651.1" cy="2261.4" r="7.3" fill="#a020f0" stroke="#222" stroke-width="0.8" fill-opacity="0.5" stroke-opacity="0.6"/>
<line x1="643.6" y1="2263.1" x2="667.6" y2="2263.1" stroke="#444" stroke-width="1.2" />
<line x1="643.6" y1="2299.7" x2="667.6" y2="2299.7" stroke="#444" stroke-width="1.2" />
<line x1="655.6" y1="2263.1" x2="655.6" y2="2299.7" stroke="#444" stroke-width="1.2" />
<circle cx="655.6" cy="2281.4" r="3.8" fill="#000" />
<circle cx="688.1" cy="2284.7" r="7.3" fill="#f5a623" stroke="#222" stroke-width="0.8" fill-opacity="0.5" stroke-opacity="0.6"/>
<circle cx="682.4" cy="2278.1" r="7.3" fill="#f5a623" stroke="#222" stroke-width="0.8" fill-opacity="0.5" stroke-opacity="0.6"/>
<circle cx="680.9" cy="2268.1" r="7.3" fill="#f5a623" stroke="#222" stroke-width="0.8" fill-opacity="0.5" stroke-opacity="0.6"/>
<circle cx="680.7" cy="2261.4" r="7.3" fill="#f5a623" stroke="#222" stroke-width="0.8" fill-opacity="0.5" stroke-opacity="0.6"/>
<line x1="672.5" y1="2261.4" x2="696.5" y2="2261.4" stroke="#444" stroke-width="1.2" />
<line x1="672.5" y1="2281.4" x2="696.5" y2="2281.4" stroke="#444" stroke-width="1.2" />
<line x1="684.5" y1="2261.4" x2="684.5" y2="2281.4" stroke="#444" stroke-width="1.2" />
<circle cx="684.5" cy="2271.4" r="3.8" fill="#000" />
<circle cx="712.1" cy="2327.9" r="7.3" fill="#333333" stroke="#222" stroke-width="0.8" fill-opacity="0.5" stroke-opacity="0.6"/>
<circle cx="717.2" cy="2321.3" r="7.3" fill="#333333" stroke="#222" stroke-width="0.8" fill-opacity="0.5" stroke-opacity="0.6"/>
<circle cx="710.8" cy="2304.7" r="7.3" fill="#333333" stroke="#222" stroke-width="0.8" fill-opacity="0.5" stroke-opacity="0.6"/>
<circle cx="714.8" cy="2298.0" r="7.3" fill="#333333" stroke="#222" stroke-width="0.8" fill-opacity="0.5" stroke-opacity="0.6"/>
<circle cx="715.4" cy="2294.7" r="7.3" fill="#333333" stroke="#222" stroke-width="0.8" fill-opacity="0.5" stroke-opacity="0.6"/>
<line x1="702.0" y1="2294.7" x2="726.0" y2="2294.7" stroke="#444" stroke-width="1.2" />
<line x1="702.0" y1="2321.3" x2="726.0" y2="2321.3" stroke="#444" stroke-width="1.2" />
<line x1="714.0" y1="2294.7" x2="714.0" y2="2321.3" stroke="#444" stroke-width="1.2" />
<circle cx="714.0" cy="2308.0" r="3.8" fill="#000" />
<circle cx="742.3" cy="2294.7" r="7.3" fill="#a020f0" stroke="#222" stroke-width="0.8" fill-opacity="0.5" stroke-opacity="0.6"/>
<circle cx="744.1" cy="2288.0" r="7.3" fill="#a020f0" stroke="#222" stroke-width="0.8" fill-opacity="0.5" stroke-opacity="0.6"/>
<circle cx="739.2" cy="2278.1" r="7.3" fill="#a020f0" stroke="#222" stroke-width="0.8" fill-opacity="0.5" stroke-opacity="0.6"/>
<circle cx="739.2" cy="2264.8" r="7.3" fill="#a020f0" stroke="#222" stroke-width="0.8" fill-opacity="0.5" stroke-opacity="0.6"/>
<circle cx="740.7" cy="2261.4" r="7.3" fill="#a020f0" stroke="#222" stroke-width="0.8" fill-opacity="0.5" stroke-opacity="0.6"/>
<line x1="731.6" y1="2263.1" x2="755.6" y2="2263.1" stroke="#444" stroke-width="1.2" />
<line x1="731.6" y1="2293.0" x2="755.6" y2="2293.0" stroke="#444" stroke-width="1.2" />
<line x1="743.6" y1="2263.1" x2="743.6" y2="2293.0" stroke="#444" stroke-width="1.2" />
<circle cx="743.6" cy="2278.1" r="3.8" fill="#000" />
<circle cx="774.8" cy="2288.0" r="7.3" fill="#f5a623" stroke="#222" stroke-width="0.8" fill-opacity="0.5" stroke-opacity="0.6"/>
<circle cx="772.3" cy="2274.7" r="7.3" fill="#f5a623" stroke="#222" stroke-width="0.8" fill-opacity="0.5" stroke-opacity="0.6"/>
<circle cx="771.1" cy="2268.1" r="7.3" fill="#f5a623" stroke="#222" stroke-width="0.8" fill-opacity="0.5" stroke-opacity="0.6"/>
<circle cx="773.9" cy="2258.1" r="7.3" fill="#f5a623" stroke="#222" stroke-width="0.8" fill-opacity="0.5" stroke-opacity="0.6"/>
<circle cx="772.5" cy="2251.4" r="7.3" fill="#f5a623" stroke="#222" stroke-width="0.8" fill-opacity="0.5" stroke-opacity="0.6"/>
<line x1="761.0" y1="2259.8" x2="785.0" y2="2259.8" stroke="#444" stroke-width="1.2" />
<line x1="761.0" y1="2283.0" x2="785.0" y2="2283.0" stroke="#444" stroke-width="1.2" />
<line x1="773.0" y1="2259.8" x2="773.0" y2="2283.0" stroke="#444" stroke-width="1.2" />
<circle cx="773.0" cy="2271.4" r="3.8" fill="#000" />
<circle cx="799.7" cy="2268.1" r="7.3" fill="#333333" stroke="#222" stroke-width="0.8" fill-opacity="0.5" stroke-opacity="0.6"/>
<circle cx="804.6" cy="2264.8" r="7.3" fill="#333333" stroke="#222" stroke-width="0.8" fill-opacity="0.5" stroke-opacity="0.6"/>
<circle cx="803.7" cy="2258.1" r="7.3" fill="#333333" stroke="#222" stroke-width="0.8" fill-opacity="0.5" stroke-opacity="0.6"/>
<circle cx="799.1" cy="2254.8" r="7.3" fill="#333333" stroke="#222" stroke-width="0.8" fill-opacity="0.5" stroke-opacity="0.6"/>
<circle cx="802.4" cy="2251.4" r="7.3" fill="#333333" stroke="#222" stroke-width="0.8" fill-opacity="0.5" stroke-opacity="0.6"/>
<line x1="789.7" y1="2253.1" x2="813.7" y2="2253.1" stroke="#444" stroke-width="1.2" />
<line x1="789.7" y1="2266.4" x2="813.7" y2="2266.4" stroke="#444" stroke-width="1.2" />
<line x1="801.7" y1="2253.1" x2="801.7" y2="2266.4" stroke="#444" stroke-width="1.2" />
<circle cx="801.7" cy="2259.8" r="3.8" fill="#000" />
<circle cx="832.3" cy="2241.5" r="7.3" fill="#a020f0" stroke="#222" stroke-width="0.8" fill-opacity="0.5" stroke-opacity="0.6"/>
<circle cx="835.8" cy="2231.5" r="7.3" fill="#a020f0" stroke="#222" stroke-width="0.8" fill-opacity="0.5" stroke-opacity="0.6"/>
<circle cx="834.3" cy="2221.5" r="7.3" fill="#a020f0" stroke="#222" stroke-width="0.8" fill-opacity="0.5" stroke-opacity="0.6"/>
<circle cx="829.9" cy="2208.2" r="7.3" fill="#a020f0" stroke="#222" stroke-width="0.8" fill-opacity="0.5" stroke-opacity="0.6"/>
<circle cx="836.8" cy="2194.9" r="7.3" fill="#a020f0" stroke="#222" stroke-width="0.8" fill-opacity="0.5" stroke-opacity="0.6"/>
<line x1="820.0" y1="2203.2" x2="844.0" y2="2203.2" stroke="#444" stroke-width="1.2" />
<line x1="820.0" y1="2239.8" x2="844.0" y2="2239.8" stroke="#444" stroke-width="1.2" />
<line x1="832.0" y1="2203.2" x2="832.0" y2="2239.8" stroke="#444" stroke-width="1.2" />
<circle cx="832.0" cy="2221.5" r="3.8" fill="#000" />
<circle cx="858.2" cy="2244.8" r="7.3" fill="#f5a623" stroke="#222" stroke-width="0.8" fill-opacity="0.5" stroke-opacity="0.6"/>
<circle cx="861.2" cy="2238.2" r="7.3" fill="#f5a623" stroke="#222" stroke-width="0.8" fill-opacity="0.5" stroke-opacity="0.6"/>
<circle cx="864.6" cy="2228.2" r="7.3" fill="#f5a623" stroke="#222" stroke-width="0.8" fill-opacity="0.5" stroke-opacity="0.6"/>
<circle cx="858.5" cy="2221.5" r="7.3" fill="#f5a623" stroke="#222" stroke-width="0.8" fill-opacity="0.5" stroke-opacity="0.6"/>
<circle cx="861.9" cy="2214.9" r="7.3" fill="#f5a623" stroke="#222" stroke-width="0.8" fill-opacity="0.5" stroke-opacity="0.6"/>
<line x1="850.0" y1="2217.5" x2="874.0" y2="2217.5" stroke="#444" stroke-width="1.2" />
<line x1="850.0" y1="2238.8" x2="874.0" y2="2238.8" stroke="#444" stroke-width="1.2" />
<line x1="862.0" y1="2217.5" x2="862.0" y2="2238.8" stroke="#444" stroke-width="1.2" />
<circle cx="862.0" cy="2228.2" r="3.8" fill="#000" />
<line x1="611.0" y1="2163.0" x2="611.0" y2="2374.0" stroke="#000" stroke-width="3.6" stroke-dasharray="15,8"/>
<line x1="699.0" y1="2163.0" x2="699.0" y2="2374.0" stroke="#000" stroke-width="3.6" stroke-dasharray="15,8"/>
<line x1="787.6" y1="2163.0" x2="787.6" y2="2374.0" stroke="#000" stroke-width="3.6" stroke-dasharray="15,8"/>
<line x1="550.0" y1="2155.0" x2="550.0" y2="2375.0" stroke="#111" stroke-width="1.8" />
<line x1="550.0" y1="2374.0" x2="878.0" y2="2374.0" stroke="#111" stroke-width="1.8" />
<line x1="545.0" y1="2165.0" x2="550.0" y2="2165.0" stroke="#333" stroke-width="1.5" />
<text x="541.5" y="2173.6" font-family="'Liberation Sans', Arial, sans-serif" font-size="24.00" fill="#4d4d4d" text-anchor="end" >8</text>
<line x1="545.0" y1="2231.5" x2="550.0" y2="2231.5" stroke="#333" stroke-width="1.5" />
<text x="541.5" y="2240.1" font-family="'Liberation Sans', Arial, sans-serif" font-size="24.00" fill="#4d4d4d" text-anchor="end" >6</text>
<line x1="545.0" y1="2298.0" x2="550.0" y2="2298.0" stroke="#333" stroke-width="1.5" />
<text x="541.5" y="2306.6" font-family="'Liberation Sans', Arial, sans-serif" font-size="24.00" fill="#4d4d4d" text-anchor="end" >4</text>
<line x1="545.0" y1="2364.5" x2="550.0" y2="2364.5" stroke="#333" stroke-width="1.5" />
<text x="541.5" y="2373.1" font-family="'Liberation Sans', Arial, sans-serif" font-size="24.00" fill="#4d4d4d" text-anchor="end" >2</text>
<line x1="567.0" y1="2241.0" x2="597.0" y2="2241.0" stroke="#222" stroke-width="1.3" />
<text x="582.0" y="2250.4" font-family="'Liberation Sans', Arial, sans-serif" font-size="31.00" fill="#111" text-anchor="middle" >*</text>
<line x1="626.0" y1="2241.0" x2="655.6" y2="2241.0" stroke="#222" stroke-width="1.3" />
<text x="640.5" y="2251.4" font-family="'Liberation Sans', Arial, sans-serif" font-size="31.00" fill="#111" text-anchor="middle" >**</text>
<line x1="626.0" y1="2224.0" x2="684.5" y2="2224.0" stroke="#222" stroke-width="1.3" />
<text x="655.5" y="2233.9" font-family="'Liberation Sans', Arial, sans-serif" font-size="31.00" fill="#111" text-anchor="middle" >***</text>
<line x1="714.0" y1="2241.0" x2="743.6" y2="2241.0" stroke="#222" stroke-width="1.3" />
<text x="728.5" y="2251.4" font-family="'Liberation Sans', Arial, sans-serif" font-size="31.00" fill="#111" text-anchor="middle" >**</text>
<line x1="714.0" y1="2224.0" x2="773.0" y2="2224.0" stroke="#222" stroke-width="1.3" />
<text x="743.5" y="2233.9" font-family="'Liberation Sans', Arial, sans-serif" font-size="31.00" fill="#111" text-anchor="middle" >***</text>
<line x1="802.0" y1="2184.0" x2="832.0" y2="2184.0" stroke="#222" stroke-width="1.3" />
<text x="817.0" y="2193.9" font-family="'Liberation Sans', Arial, sans-serif" font-size="31.00" fill="#111" text-anchor="middle" >**</text>
<line x1="802.0" y1="2167.6" x2="862.0" y2="2167.6" stroke="#222" stroke-width="1.3" />
<text x="832.0" y="2177.4" font-family="'Liberation Sans', Arial, sans-serif" font-size="31.00" fill="#111" text-anchor="middle" >***</text>
<text transform="translate(523.0,2323.0) rotate(-90)" font-family="'Liberation Sans', Arial, sans-serif" font-size="30.00" fill="#111" >(mmol/L)</text>
<text x="148.8" y="2400.0" font-family="Carlito, 'Liberation Sans', sans-serif" font-size="25.00" fill="#333" font-weight="bold" textLength="26.5" lengthAdjust="spacingAndGlyphs" >d3</text>
<text x="221.0" y="2400.0" font-family="Carlito, 'Liberation Sans', sans-serif" font-size="25.00" fill="#333" font-weight="bold" textLength="36.0" lengthAdjust="spacingAndGlyphs" >iDC</text>
<text x="297.0" y="2400.0" font-family="Carlito, 'Liberation Sans', sans-serif" font-size="25.00" fill="#333" font-weight="bold" textLength="58.0" lengthAdjust="spacingAndGlyphs" >actDC</text>
<text x="393.0" y="2400.0" font-family="Carlito, 'Liberation Sans', sans-serif" font-size="25.00" fill="#333" font-weight="bold" textLength="48.0" lengthAdjust="spacingAndGlyphs" >mDC</text>
<text x="561.0" y="2400.0" font-family="Carlito, 'Liberation Sans', sans-serif" font-size="25.00" fill="#333" font-weight="bold" textLength="26.0" lengthAdjust="spacingAndGlyphs" >d3</text>
<text x="633.0" y="2400.0" font-family="Carlito, 'Liberation Sans', sans-serif" font-size="25.00" fill="#333" font-weight="bold" textLength="35.0" lengthAdjust="spacingAndGlyphs" >iDC</text>
<text x="709.0" y="2400.0" font-family="Carlito, 'Liberation Sans', sans-serif" font-size="25.00" fill="#333" font-weight="bold" textLength="58.0" lengthAdjust="spacingAndGlyphs" >actDC</text>
<text x="805.0" y="2400.0" font-family="Carlito, 'Liberation Sans', sans-serif" font-size="25.00" fill="#333" font-weight="bold" textLength="48.0" lengthAdjust="spacingAndGlyphs" >mDC</text>
<line x1="138.6" y1="2409.0" x2="187.0" y2="2409.0" stroke="#b3b3b3" stroke-width="2.5" />
<line x1="238.0" y1="2409.0" x2="423.4" y2="2409.0" stroke="#666" stroke-width="2.5" />
<line x1="551.0" y1="2407.0" x2="600.0" y2="2407.0" stroke="#b3b3b3" stroke-width="2.5" />
<line x1="651.0" y1="2407.0" x2="835.0" y2="2407.0" stroke="#666" stroke-width="2.5" />
<text x="130.0" y="2433.0" font-family="Carlito, 'Liberation Sans', sans-serif" font-size="24.00" fill="#aaaaaa" textLength="84.0" lengthAdjust="spacingAndGlyphs" >GM-CSF</text>
<text x="131.0" y="2455.0" font-family="Carlito, 'Liberation Sans', sans-serif" font-size="24.00" fill="#aaaaaa" textLength="29.0" lengthAdjust="spacingAndGlyphs" >IL4</text>
<text x="232.0" y="2434.0" font-family="Carlito, 'Liberation Sans', sans-serif" font-size="24.00" fill="#7f7f7f" textLength="33.0" lengthAdjust="spacingAndGlyphs" >LPS</text>
<text x="232.0" y="2456.0" font-family="Carlito, 'Liberation Sans', sans-serif" font-size="24.00" fill="#7f7f7f" textLength="46.0" lengthAdjust="spacingAndGlyphs" >IFNγ</text>
<text x="541.5" y="2433.0" font-family="Carlito, 'Liberation Sans', sans-serif" font-size="24.00" fill="#aaaaaa" textLength="84.0" lengthAdjust="spacingAndGlyphs" >GM-CSF</text>
<text x="542.5" y="2455.0" font-family="Carlito, 'Liberation Sans', sans-serif" font-size="24.00" fill="#aaaaaa" textLength="29.0" lengthAdjust="spacingAndGlyphs" >IL4</text>
<text x="644.0" y="2434.0" font-family="Carlito, 'Liberation Sans', sans-serif" font-size="24.00" fill="#7f7f7f" textLength="34.0" lengthAdjust="spacingAndGlyphs" >LPS</text>
<text x="644.0" y="2456.0" font-family="Carlito, 'Liberation Sans', sans-serif" font-size="24.00" fill="#7f7f7f" textLength="46.0" lengthAdjust="spacingAndGlyphs" >IFNγ</text>
<text x="338.7" y="2497.0" font-family="Carlito, 'Liberation Sans', sans-serif" font-size="27.00" fill="#333" textLength="282.0" lengthAdjust="spacingAndGlyphs" >DC maturation timeline</text>
<text x="928.0" y="2156.0" font-family="Carlito, 'Liberation Sans', sans-serif" font-size="21.00" fill="#111" textLength="105.0" lengthAdjust="spacingAndGlyphs" >Treatment</text>
<circle cx="936.5" cy="2172.5" r="9.5" fill="#000" />
<circle cx="936.5" cy="2194.5" r="9.5" fill="#b65cf0" stroke="#333" stroke-width="1" />
<circle cx="936.5" cy="2220.5" r="9.5" fill="#f9a040" stroke="#333" stroke-width="1" />
<text x="951.0" y="2180.0" font-family="Carlito, 'Liberation Sans', sans-serif" font-size="21.00" fill="#111" textLength="35.0" lengthAdjust="spacingAndGlyphs" >Ctrl</text>
<text x="951.0" y="2202.0" font-family="Carlito, 'Liberation Sans', sans-serif" font-size="21.00" fill="#111" textLength="104.0" lengthAdjust="spacingAndGlyphs" >vitd3+dexa</text>
<text x="951.0" y="2228.0" font-family="Carlito, 'Liberation Sans', sans-serif" font-size="21.00" fill="#111" textLength="50.0" lengthAdjust="spacingAndGlyphs" >vitd3</text>
</svg></body></html>
